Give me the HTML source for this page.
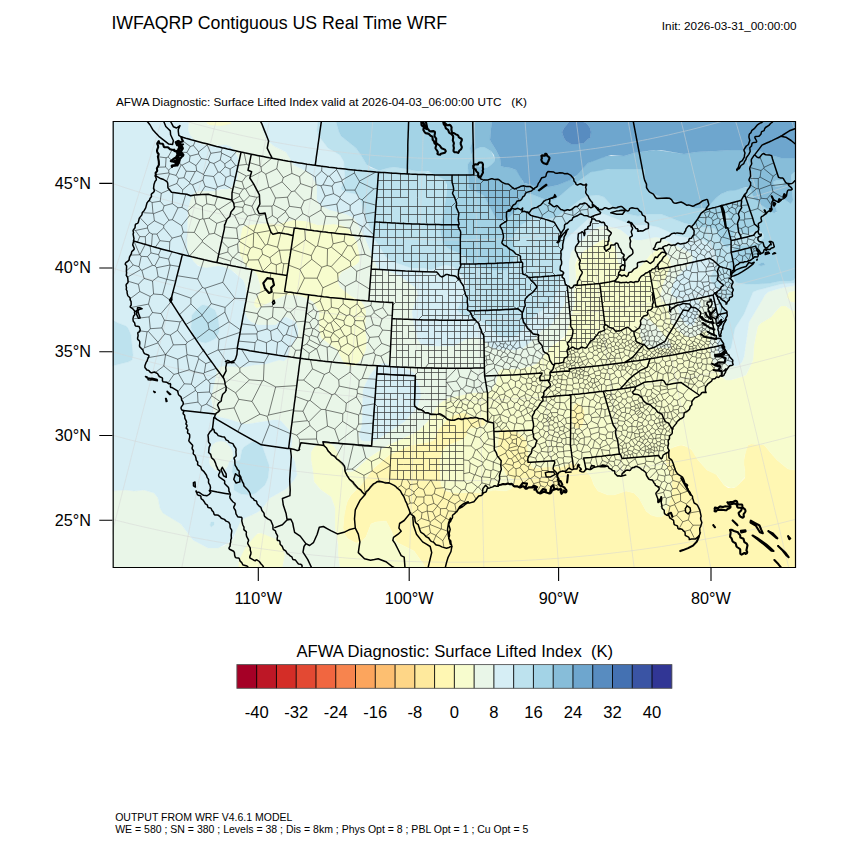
<!DOCTYPE html>
<html><head><meta charset="utf-8"><title>IWFAQRP Contiguous US Real Time WRF</title>
<style>html,body{margin:0;padding:0;background:#fff;}body{width:850px;height:850px;overflow:hidden;position:relative}</style>
</head><body>
<svg width="850" height="850" viewBox="0 0 850 850" style="position:absolute;left:0;top:0">
<defs><clipPath id="mc"><rect x="112.5" y="121.5" width="683.5" height="445.5"/></clipPath></defs>
<g clip-path="url(#mc)">
<path d="M576,403 578,403 581,405 584,410 585,415 583,425 581,428 578,429 574,428 572,422 572,410 574,405ZM454,415 461,413 466,413 471,417 481,419 484,420 485,422 485,425 481,427 468,429 467,435 464,439 449,445 445,448 443,450 440,460 440,468 441,485 444,489 446,491 454,493 461,493 471,492 478,493 493,490 506,491 511,488 514,482 514,480 506,475 499,460 497,452 499,432 501,430 504,429 509,429 518,432 524,437 526,440 527,442 529,458 531,465 533,468 536,468 546,467 561,467 571,463 576,464 588,473 591,477 594,485 598,491 608,495 614,495 626,491 634,493 639,498 646,511 651,515 658,517 661,517 664,515 668,505 671,498 672,482 665,460 667,452 671,448 681,445 688,447 692,450 698,460 707,470 716,474 718,477 724,485 728,488 734,488 738,485 745,478 745,472 744,465 744,460 746,449 748,445 751,444 764,445 766,447 770,452 777,460 788,469 794,470 798,470 798,570 426,570 424,565 414,551 408,548 398,543 395,540 391,530 386,521 376,522 371,524 366,537 361,542 356,543 348,539 345,535 343,528 344,515 347,502 351,495 361,485 374,468 381,462 389,455 404,448 411,445 429,442 434,440 438,430 448,418 453,415Z" fill="#fff7b3" fill-rule="evenodd" stroke="#fff7b3" stroke-width="0.3"/>
<path d="M206,118 231,118 232,122 231,124 228,125 224,126 211,126 206,123 204,118ZM294,220 306,221 318,225 334,224 341,225 346,227 350,230 357,242 360,258 359,262 356,265 346,270 342,272 340,275 338,280 339,285 341,288 351,296 361,301 364,305 366,310 366,318 365,328 367,340 366,350 364,355 361,360 356,365 354,366 348,366 344,364 337,350 321,338 319,330 319,320 319,312 313,302 308,299 301,296 286,295 258,308 256,308 254,305 254,302 260,292 260,285 257,275 255,272 245,265 240,255 239,245 242,228 244,226 248,225 266,223 278,224 293,220ZM604,239 608,240 612,242 616,250 618,262 624,270 626,272 631,271 641,266 650,255 656,250 661,249 666,253 670,260 671,265 663,285 661,295 661,298 667,305 669,312 671,322 681,333 688,337 696,336 704,331 706,331 708,334 710,338 710,350 714,365 721,376 726,380 731,380 741,377 746,375 748,371 753,360 754,345 757,330 758,326 761,323 771,317 777,310 781,306 784,306 786,306 791,310 798,311 798,470 794,470 788,469 777,460 770,452 766,447 764,445 751,444 748,445 747,448 744,458 744,465 745,472 745,477 736,487 731,488 724,485 717,475 707,470 698,460 691,449 683,445 676,446 668,450 666,455 665,462 668,470 672,482 672,488 671,498 667,508 664,515 661,517 658,517 651,515 646,511 639,498 634,493 626,491 614,495 608,495 598,491 594,485 591,477 588,473 576,464 571,463 561,467 546,467 536,468 533,468 531,465 529,458 527,442 526,440 522,435 516,432 506,429 501,430 499,432 497,452 499,460 506,475 514,480 514,482 512,488 509,490 506,491 496,490 478,493 471,492 461,493 454,493 445,490 441,485 440,462 443,450 445,448 449,445 464,439 467,435 468,429 481,427 485,425 485,422 484,420 481,419 471,417 466,413 458,413 454,415 447,420 436,432 434,440 429,442 411,445 404,448 389,455 381,462 376,466 371,471 361,485 351,495 348,500 346,506 344,518 343,528 345,535 348,539 356,543 361,542 366,537 371,524 376,522 386,521 391,530 395,540 398,543 408,548 414,551 424,565 426,570 340,570 338,555 338,545 335,528 335,508 331,497 321,490 314,482 313,473 311,460 311,452 314,447 318,444 326,443 331,444 334,446 338,453 345,470 348,472 354,471 368,458 388,445 410,435 419,430 427,422 438,405 444,400 448,398 471,393 488,392 491,390 496,383 498,372 501,369 518,369 531,366 536,364 542,358 549,348 564,338 567,332 570,320 575,302 574,292 576,280 575,265 578,258 584,251 602,240ZM645,318 644,318 641,322 640,330 641,338 644,344 646,346 651,348 670,348 671,345 658,328 646,317ZM574,405 572,410 572,422 574,428 578,429 581,428 583,425 585,415 584,410 581,405 578,403 576,403ZM798,290 798,303 791,302 787,298 787,295 789,292 798,290ZM256,534 261,533 264,533 274,537 280,542 284,550 285,555 282,570 238,570 238,562 242,552 246,545 255,535Z" fill="#f7fcce" fill-rule="evenodd" stroke="#f7fcce" stroke-width="0.3"/>
<path d="M191,118 204,118 206,122 208,125 221,126 231,124 231,118 263,118 262,125 263,130 267,140 274,146 286,152 294,165 306,171 311,174 313,178 317,185 317,200 320,205 330,210 346,214 354,218 358,224 365,238 372,255 378,269 391,272 399,275 416,288 417,290 418,295 412,312 414,325 418,340 421,344 424,345 431,346 454,346 466,339 476,337 484,340 491,347 496,349 516,350 523,348 534,339 542,330 551,325 561,310 564,305 569,282 569,262 571,252 575,248 590,232 596,228 601,226 606,226 616,228 621,230 631,238 636,240 641,240 656,237 661,238 691,253 693,258 692,262 676,278 672,288 671,293 674,297 680,300 678,308 681,318 684,322 688,325 691,326 694,324 701,306 700,302 698,300 694,298 704,296 708,296 711,298 713,302 717,332 717,350 724,361 728,365 736,366 739,365 742,362 744,357 749,322 763,298 766,294 768,292 781,288 798,285 798,290 789,292 787,295 787,298 791,302 798,303 798,311 791,310 786,306 784,306 781,306 777,310 771,317 761,323 758,326 757,330 754,345 753,360 748,371 746,375 741,377 731,380 726,380 721,376 714,365 710,350 710,338 708,334 706,331 704,331 696,336 688,337 681,333 671,322 669,312 667,305 661,298 661,295 663,285 671,265 670,260 666,253 661,249 656,250 650,255 641,266 631,271 626,272 624,270 618,262 616,250 612,242 608,240 606,239 601,240 582,252 578,256 576,260 575,265 576,280 574,292 575,302 566,335 558,341 549,348 542,358 536,364 531,366 518,369 501,369 498,372 496,382 491,390 488,392 471,393 448,398 444,400 438,405 427,422 419,430 410,435 388,445 368,458 354,471 348,472 345,470 338,453 334,446 331,444 326,443 318,444 314,447 311,452 311,460 313,472 314,482 321,490 331,497 335,508 335,528 338,545 338,555 340,570 282,570 285,555 283,548 276,539 261,533 258,533 254,537 245,548 239,560 238,570 108,570 108,491 126,490 134,491 144,490 154,493 158,498 160,508 164,513 181,524 193,540 208,548 216,548 224,546 231,541 234,538 238,525 241,520 245,518 256,513 261,510 270,498 286,489 294,480 297,475 295,462 290,452 292,442 291,432 281,421 278,420 274,420 248,424 244,424 228,419 216,416 214,412 211,398 216,372 218,368 221,366 226,365 244,367 254,365 266,364 278,360 284,361 286,359 287,358 290,348 297,338 299,330 295,322 293,320 286,317 283,318 276,325 274,325 258,325 251,322 247,318 245,312 245,308 246,290 245,285 243,280 234,272 226,268 218,266 208,268 203,268 196,264 190,258 187,250 187,235 188,208 191,197 194,193 198,191 214,191 231,188 234,185 237,180 239,165 238,160 237,155 234,150 231,147 223,145 216,146 208,146 198,143 193,140 190,135 188,130 189,118ZM293,220 278,224 266,223 248,225 244,226 242,228 239,245 240,255 245,265 255,272 257,275 260,285 260,292 254,302 254,305 256,308 258,308 286,295 301,296 308,299 313,302 319,312 319,320 319,330 321,338 337,350 344,364 348,366 354,366 356,365 361,360 364,355 366,350 367,340 365,328 366,318 366,310 364,305 361,301 351,296 341,288 339,285 338,280 340,275 342,272 346,270 356,265 359,262 360,258 357,242 350,230 346,227 341,225 334,224 318,225 306,221 294,220ZM378,365 370,375 365,385 363,390 362,425 359,435 361,440 364,441 371,441 376,440 386,434 396,427 404,422 417,408 421,395 420,390 416,378 414,373 411,371 404,368 391,366 384,363 378,365ZM646,317 658,328 671,345 670,348 651,348 646,346 644,344 641,338 640,330 641,322 644,318 645,318ZM216,442 221,441 226,442 231,448 233,452 233,458 229,462 228,466 226,469 221,471 216,471 214,469 210,465 209,462 211,448 212,445 216,442Z" fill="#e9f6e8" fill-rule="evenodd" stroke="#e9f6e8" stroke-width="0.3"/>
<path d="M111,118 189,118 188,130 190,135 194,140 198,143 208,146 214,146 226,145 231,147 234,150 238,158 239,165 237,180 234,185 228,189 221,189 214,191 198,191 194,193 191,198 188,208 187,235 187,248 189,255 194,262 198,266 206,268 218,266 224,267 231,270 243,280 245,285 246,290 245,308 245,312 247,318 251,322 258,325 274,325 276,325 283,318 286,317 294,321 296,323 298,329 298,335 290,348 287,358 285,360 284,361 279,360 266,364 254,365 244,367 224,366 219,367 217,370 211,398 213,410 215,415 219,417 228,419 244,424 248,424 274,420 278,420 281,421 291,432 292,442 290,452 295,462 297,475 294,480 286,489 270,498 261,510 256,513 245,518 241,520 232,540 228,543 218,548 208,548 193,540 181,524 163,513 160,508 158,498 154,493 144,490 134,491 126,490 108,491 108,367 128,362 132,360 133,355 131,335 128,328 126,326 118,323 111,318 108,317 108,118ZM202,305 198,308 192,315 191,328 194,336 196,340 201,342 206,343 213,340 216,338 219,332 219,325 218,318 215,310 208,306 204,305ZM216,442 212,445 211,448 209,462 210,465 214,469 216,471 221,471 226,469 228,466 229,462 233,458 233,452 231,448 226,442 221,441 216,442ZM252,442 244,447 242,450 240,460 234,462 233,465 232,472 235,478 235,480 234,485 234,490 237,492 241,494 251,495 256,493 265,485 268,478 269,470 269,465 263,448 261,444 258,442 254,442ZM211,522 210,525 211,527 214,525 214,522 211,522ZM264,118 318,118 317,130 318,135 328,148 340,155 344,162 345,180 341,188 342,190 346,192 356,194 358,195 360,198 365,215 374,238 386,257 391,261 411,268 424,268 431,270 441,266 446,265 454,267 464,278 467,282 465,295 458,308 458,310 459,312 464,316 476,319 488,325 496,334 501,337 508,338 516,336 521,332 528,322 538,313 546,308 552,302 558,290 560,282 563,250 565,240 589,218 596,213 604,214 634,225 648,225 658,227 678,236 704,240 710,245 715,252 716,260 715,268 710,278 711,281 716,288 719,298 719,310 720,318 721,332 720,345 721,349 724,351 726,351 728,350 731,348 735,328 744,314 753,292 758,290 781,284 794,283 798,281 798,285 781,288 768,292 765,295 749,322 744,357 742,362 739,365 736,366 728,365 724,361 717,350 717,332 713,302 711,298 708,296 704,296 694,298 698,300 700,302 701,306 694,324 691,326 688,325 684,322 681,318 678,308 680,300 674,297 671,293 672,288 676,278 692,262 693,258 691,253 661,238 656,237 641,240 636,240 631,238 621,230 616,228 606,226 601,226 596,228 590,232 575,248 571,252 569,262 569,282 564,305 561,310 551,325 542,330 534,339 523,348 516,350 496,349 491,347 484,340 476,337 466,339 454,346 431,346 424,345 421,344 418,340 414,325 412,312 418,295 417,290 416,288 399,275 391,272 378,269 372,255 365,238 358,224 354,218 346,214 330,210 320,205 317,200 317,185 313,178 311,174 306,171 294,165 286,152 274,146 267,140 263,130 262,125 263,118ZM378,365 384,363 391,366 404,368 411,371 414,373 416,378 420,390 421,395 417,408 404,422 396,427 386,434 376,440 371,441 364,441 361,440 359,435 362,425 363,390 365,385 370,375 378,365Z" fill="#d6eef5" fill-rule="evenodd" stroke="#d6eef5" stroke-width="0.3"/>
<path d="M318,118 335,118 339,132 341,136 356,148 361,155 367,165 371,168 378,170 381,170 388,168 394,167 406,169 416,171 426,171 434,173 444,179 446,182 447,192 444,210 440,228 442,240 445,245 465,258 476,266 494,270 506,270 508,269 513,262 515,255 515,248 512,240 513,238 515,232 521,225 531,219 536,217 541,217 548,219 556,217 568,209 581,199 588,196 598,195 604,197 611,205 628,214 638,216 648,214 661,214 684,223 701,227 714,228 716,230 721,241 724,245 726,247 729,247 731,245 732,238 734,233 736,230 738,231 744,234 748,234 756,231 758,231 764,235 764,238 759,242 751,245 736,246 732,250 730,268 732,275 734,280 738,283 746,284 771,283 781,281 791,281 794,280 795,278 798,271 798,281 794,283 781,284 758,290 753,292 744,314 735,328 731,348 729,350 726,351 724,351 721,349 720,345 721,332 720,318 719,310 719,298 716,288 711,281 710,278 715,268 716,260 715,252 710,245 704,240 678,236 658,227 648,225 633,225 604,214 596,213 589,218 565,240 563,250 560,282 558,290 552,302 546,308 538,313 528,322 521,332 516,336 508,338 501,337 496,334 488,325 476,319 464,316 459,312 458,310 458,308 465,295 467,282 464,278 454,267 446,265 441,266 431,270 424,268 411,268 391,261 386,257 374,238 365,215 360,198 358,195 356,194 346,192 342,190 341,188 345,180 344,162 340,155 328,148 318,135 317,130 318,118ZM724,211 728,215 730,220 726,221 721,221 720,218 721,213 722,212ZM204,305 208,306 215,310 218,318 219,325 219,332 216,338 213,340 206,343 201,342 196,340 194,336 191,328 192,315 198,308 202,305ZM110,318 118,323 126,326 128,328 131,335 133,355 132,360 128,362 108,367 108,317ZM254,442 258,442 261,444 263,448 269,465 269,470 268,478 265,485 256,493 251,495 241,494 237,492 234,490 234,485 235,480 235,478 232,472 233,465 234,462 240,460 242,450 244,447 252,442ZM211,522 214,522 214,525 211,527 210,525 211,522Z" fill="#bde2ee" fill-rule="evenodd" stroke="#bde2ee" stroke-width="0.3"/>
<path d="M336,118 476,118 474,128 474,138 470,148 471,154 476,149 481,147 484,147 491,151 493,155 495,160 494,162 491,165 488,167 486,168 476,166 472,162 471,160 468,164 468,168 469,188 471,190 481,194 484,196 494,215 498,220 501,221 506,220 515,212 518,208 521,199 524,195 526,194 531,194 544,199 554,200 561,195 569,188 591,172 596,170 611,169 644,169 645,170 645,172 645,182 646,190 661,197 676,201 694,208 706,208 708,207 716,198 721,194 728,191 748,187 751,189 756,200 761,205 773,212 776,213 777,212 775,205 776,202 778,200 784,199 791,204 792,202 793,198 791,175 793,172 798,173 798,271 795,278 794,280 791,281 781,281 771,283 758,284 746,284 738,283 736,282 734,279 730,270 730,265 732,250 736,246 751,245 758,243 764,238 764,235 761,232 756,231 748,234 744,234 738,231 736,230 734,233 732,238 731,245 728,247 726,247 724,245 721,241 716,230 714,228 701,227 684,223 661,214 648,214 638,216 628,214 611,205 604,197 598,195 588,196 581,199 568,209 556,217 548,219 541,217 536,217 531,219 521,225 515,232 513,238 512,240 515,248 515,255 513,262 508,269 506,270 494,270 478,267 474,265 462,255 448,248 443,243 442,240 440,228 444,210 447,192 447,185 445,180 438,176 428,171 416,171 406,169 394,167 388,168 381,170 378,170 371,167 367,165 361,155 356,148 341,136 339,132 335,118ZM722,212 721,213 720,218 721,221 726,221 730,220 728,215 724,211ZM758,265 761,266 765,265 764,263 761,263 758,265ZM778,180 782,180 784,182 783,185 781,186 776,187 774,185 773,182 777,180Z" fill="#a3d3e6" fill-rule="evenodd" stroke="#a3d3e6" stroke-width="0.3"/>
<path d="M476,118 492,118 490,140 491,142 496,150 500,158 501,166 504,167 511,168 516,170 520,175 523,182 526,184 536,185 544,188 558,185 574,178 588,163 598,158 608,156 624,156 634,153 656,150 684,154 696,152 716,151 731,150 756,150 774,156 781,158 798,158 798,173 794,172 791,175 793,200 791,204 784,199 778,200 776,202 775,205 777,212 774,213 761,205 754,198 751,189 748,187 746,187 736,190 728,191 721,194 716,198 708,207 706,208 694,208 676,201 661,197 646,190 645,182 645,172 645,170 644,169 608,169 591,172 569,188 561,195 554,200 544,199 531,194 526,194 524,195 521,199 518,208 515,212 506,220 501,221 498,220 494,215 484,196 481,194 471,190 469,188 468,168 468,164 471,160 472,162 476,166 486,168 488,167 491,165 494,162 495,160 494,155 491,151 484,147 481,147 476,149 471,154 470,148 474,138 474,128 476,118ZM777,180 773,182 774,185 776,187 781,186 783,185 784,182 782,180 778,180ZM778,118 798,118 798,122 784,120 778,118ZM758,265 761,263 764,263 765,265 761,266 758,265Z" fill="#87bdd9" fill-rule="evenodd" stroke="#87bdd9" stroke-width="0.3"/>
<path d="M494,118 778,118 784,120 798,122 798,158 781,158 774,156 756,150 731,150 716,151 696,152 684,154 661,150 654,150 634,153 624,156 611,155 601,158 588,163 577,175 570,180 558,185 544,188 524,183 518,173 516,170 511,168 504,167 501,166 500,158 496,150 491,142 490,140 492,118ZM569,122 564,128 562,132 564,138 566,141 571,144 578,144 584,143 588,139 590,138 591,132 590,128 588,125 586,123 581,121 571,121Z" fill="#6ea6ce" fill-rule="evenodd" stroke="#6ea6ce" stroke-width="0.3"/>
<path d="M571,121 581,121 586,123 588,125 590,128 591,132 590,138 588,139 584,143 578,144 571,144 566,141 564,138 562,132 564,128 569,122Z" fill="#588cc0" fill-rule="evenodd" stroke="#588cc0" stroke-width="0.3"/>
<path d="M-200.0,491.3 L-192.9,494.8 L-185.8,498.2 L-178.7,501.6 L-171.6,505.0 L-164.5,508.4 L-157.3,511.7 L-150.1,514.9 L-142.9,518.2 L-135.7,521.3 L-128.5,524.5 L-121.3,527.6 L-114.0,530.7 L-106.7,533.7 L-99.4,536.7 L-92.1,539.7 L-84.8,542.6 L-77.5,545.4 L-70.1,548.3 L-62.8,551.1 L-55.4,553.8 L-48.0,556.5 L-40.6,559.2 L-33.1,561.9 L-25.7,564.5 L-18.2,567.0 L-10.8,569.5 L-3.3,572.0 L4.2,574.4 L11.7,576.8 L19.2,579.2 L26.8,581.5 L34.3,583.8 L41.9,586.0 L49.5,588.2 L57.0,590.4 L64.6,592.5 L72.2,594.6 L79.8,596.6 L87.5,598.6 L95.1,600.5 L102.8,602.4 L110.4,604.3 L118.1,606.1 L125.8,607.9 L133.4,609.7 L141.1,611.4 L148.8,613.0 L156.6,614.6 L164.3,616.2 L172.0,617.7 L179.8,619.2 L187.5,620.7 L195.3,622.1 L203.0,623.5 L210.8,624.8 L218.6,626.1 L226.3,627.3 L234.1,628.5 L241.9,629.7 L249.7,630.8 L257.5,631.9 L265.4,632.9 L273.2,633.9 L281.0,634.9 L288.8,635.8 L296.7,636.6 L304.5,637.5 L312.3,638.2 L320.2,639.0 L328.0,639.7 L335.9,640.3 L343.8,641.0 L351.6,641.5 L359.5,642.1 L367.3,642.5 L375.2,643.0 L383.1,643.4 L391.0,643.7 L398.8,644.1 L406.7,644.3 L414.6,644.6 L422.5,644.8 L430.3,644.9 L438.2,645.0 L446.1,645.1 L454.0,645.1 L461.9,645.1 L469.8,645.0 L477.6,644.9 L485.5,644.8 L493.4,644.6 L501.3,644.3 L509.2,644.1 L517.0,643.7 L524.9,643.4 L532.8,643.0 L540.6,642.5 L548.5,642.1 L556.4,641.5 L564.2,641.0 L572.1,640.3 L579.9,639.7 L587.8,639.0 L595.6,638.2 L603.5,637.5 L611.3,636.6 L619.2,635.8 L627.0,634.9 L634.8,633.9 L642.6,632.9 L650.4,631.9 L658.3,630.8 L666.1,629.7 L673.9,628.5 L681.6,627.3 L689.4,626.1 L697.2,624.8 L705.0,623.5 L712.7,622.1 L720.5,620.7 L728.2,619.2 L736.0,617.7 L743.7,616.2 L751.4,614.6 L759.1,613.0 L766.8,611.4 L774.5,609.7 L782.2,607.9 L789.9,606.1 L797.6,604.3 L805.2,602.4 L812.9,600.5 L820.5,598.6 L828.1,596.6 L835.8,594.6 L843.4,592.5 L851.0,590.4 L858.5,588.2 L866.1,586.0 L873.7,583.8 L881.2,581.5 L888.7,579.2 L896.3,576.8 L903.8,574.4 L911.3,572.0 L918.8,569.5 L926.2,567.0 L933.7,564.5 L941.1,561.9 L948.5,559.2 L956.0,556.5 L963.4,553.8 L970.7,551.1 L978.1,548.3 L985.5,545.4 L992.8,542.6 L1000.1,539.7 L1007.4,536.7 L1014.7,533.7 L1022.0,530.7 L1029.3,527.6 L1036.5,524.5 L1043.7,521.3 L1050.9,518.2 L1058.1,514.9 L1065.3,511.7 L1072.5,508.4 L1079.6,505.0 L1086.7,501.6 M-163.0,417.1 L-156.4,420.3 L-149.7,423.6 L-143.0,426.8 L-136.2,430.0 L-129.5,433.2 L-122.8,436.3 L-116.0,439.4 L-109.2,442.4 L-102.4,445.4 L-95.6,448.4 L-88.8,451.3 L-81.9,454.2 L-75.0,457.1 L-68.2,459.9 L-61.3,462.7 L-54.4,465.4 L-47.4,468.2 L-40.5,470.8 L-33.5,473.5 L-26.6,476.1 L-19.6,478.6 L-12.6,481.2 L-5.6,483.7 L1.4,486.1 L8.5,488.5 L15.5,490.9 L22.6,493.2 L29.6,495.5 L36.7,497.8 L43.8,500.0 L50.9,502.2 L58.0,504.3 L65.2,506.5 L72.3,508.5 L79.5,510.6 L86.6,512.5 L93.8,514.5 L101.0,516.4 L108.2,518.3 L115.4,520.1 L122.6,521.9 L129.8,523.7 L137.1,525.4 L144.3,527.1 L151.6,528.7 L158.8,530.3 L166.1,531.9 L173.4,533.4 L180.7,534.9 L188.0,536.4 L195.3,537.8 L202.6,539.2 L209.9,540.5 L217.2,541.8 L224.5,543.0 L231.9,544.2 L239.2,545.4 L246.6,546.6 L253.9,547.6 L261.3,548.7 L268.6,549.7 L276.0,550.7 L283.4,551.6 L290.8,552.5 L298.2,553.4 L305.6,554.2 L312.9,555.0 L320.3,555.7 L327.8,556.4 L335.2,557.1 L342.6,557.7 L350.0,558.3 L357.4,558.8 L364.8,559.3 L372.2,559.8 L379.7,560.2 L387.1,560.6 L394.5,560.9 L402.0,561.2 L409.4,561.5 L416.8,561.7 L424.3,561.9 L431.7,562.0 L439.1,562.1 L446.6,562.2 L454.0,562.2 L461.4,562.2 L468.9,562.1 L476.3,562.0 L483.7,561.9 L491.2,561.7 L498.6,561.5 L506.0,561.2 L513.5,560.9 L520.9,560.6 L528.3,560.2 L535.7,559.8 L543.2,559.3 L550.6,558.8 L558.0,558.3 L565.4,557.7 L572.8,557.1 L580.2,556.4 L587.6,555.7 L595.0,555.0 L602.4,554.2 L609.8,553.4 L617.2,552.5 L624.6,551.6 L632.0,550.7 L639.3,549.7 L646.7,548.7 L654.1,547.6 L661.4,546.6 L668.8,545.4 L676.1,544.2 L683.5,543.0 L690.8,541.8 L698.1,540.5 L705.4,539.2 L712.7,537.8 L720.0,536.4 L727.3,534.9 L734.6,533.4 L741.9,531.9 L749.2,530.3 L756.4,528.7 L763.7,527.1 L770.9,525.4 L778.2,523.7 L785.4,521.9 L792.6,520.1 L799.8,518.3 L807.0,516.4 L814.2,514.5 L821.4,512.5 L828.5,510.6 L835.7,508.5 L842.8,506.5 L849.9,504.3 L857.1,502.2 L864.2,500.0 L871.3,497.8 L878.4,495.5 L885.4,493.2 L892.5,490.9 L899.5,488.5 L906.6,486.1 L913.6,483.7 L920.6,481.2 L927.6,478.6 L934.6,476.1 L941.5,473.5 L948.5,470.8 L955.4,468.2 L962.4,465.4 L969.3,462.7 L976.2,459.9 L983.0,457.1 L989.9,454.2 L996.7,451.3 L1003.6,448.4 L1010.4,445.4 L1017.2,442.4 L1024.0,439.4 L1030.8,436.3 L1037.5,433.2 L1044.2,430.0 L1051.0,426.8 M-126.7,344.2 L-120.5,347.3 L-114.2,350.4 L-107.9,353.4 L-101.5,356.4 L-95.2,359.4 L-88.8,362.3 L-82.5,365.2 L-76.1,368.1 L-69.7,370.9 L-63.3,373.7 L-56.8,376.5 L-50.4,379.2 L-43.9,381.9 L-37.5,384.5 L-31.0,387.2 L-24.5,389.8 L-18.0,392.3 L-11.4,394.8 L-4.9,397.3 L1.7,399.8 L8.2,402.2 L14.8,404.5 L21.4,406.9 L28.0,409.2 L34.7,411.5 L41.3,413.7 L47.9,415.9 L54.6,418.1 L61.3,420.2 L67.9,422.3 L74.6,424.3 L81.3,426.4 L88.0,428.3 L94.8,430.3 L101.5,432.2 L108.2,434.1 L115.0,435.9 L121.8,437.7 L128.5,439.5 L135.3,441.2 L142.1,442.9 L148.9,444.6 L155.7,446.2 L162.5,447.8 L169.3,449.3 L176.2,450.8 L183.0,452.3 L189.9,453.7 L196.7,455.1 L203.6,456.5 L210.5,457.8 L217.3,459.1 L224.2,460.4 L231.1,461.6 L238.0,462.8 L244.9,463.9 L251.8,465.0 L258.8,466.1 L265.7,467.1 L272.6,468.1 L279.5,469.1 L286.5,470.0 L293.4,470.9 L300.4,471.7 L307.3,472.5 L314.3,473.3 L321.2,474.0 L328.2,474.7 L335.2,475.4 L342.1,476.0 L349.1,476.6 L356.1,477.1 L363.1,477.6 L370.1,478.1 L377.0,478.5 L384.0,478.9 L391.0,479.3 L398.0,479.6 L405.0,479.9 L412.0,480.1 L419.0,480.3 L426.0,480.5 L433.0,480.6 L440.0,480.7 L447.0,480.8 L454.0,480.8 L461.0,480.8 L468.0,480.7 L475.0,480.6 L482.0,480.5 L489.0,480.3 L496.0,480.1 L503.0,479.9 L510.0,479.6 L517.0,479.3 L524.0,478.9 L530.9,478.5 L537.9,478.1 L544.9,477.6 L551.9,477.1 L558.9,476.6 L565.8,476.0 L572.8,475.4 L579.8,474.7 L586.7,474.0 L593.7,473.3 L600.7,472.5 L607.6,471.7 L614.6,470.9 L621.5,470.0 L628.4,469.1 L635.4,468.1 L642.3,467.1 L649.2,466.1 L656.1,465.0 L663.1,463.9 L670.0,462.8 L676.9,461.6 L683.8,460.4 L690.6,459.1 L697.5,457.8 L704.4,456.5 L711.3,455.1 L718.1,453.7 L725.0,452.3 L731.8,450.8 L738.6,449.3 L745.5,447.8 L752.3,446.2 L759.1,444.6 L765.9,442.9 L772.7,441.2 L779.5,439.5 L786.2,437.7 L793.0,435.9 L799.8,434.1 L806.5,432.2 L813.2,430.3 L820.0,428.3 L826.7,426.4 L833.4,424.3 L840.1,422.3 L846.7,420.2 L853.4,418.1 L860.1,415.9 L866.7,413.7 L873.3,411.5 L880.0,409.2 L886.6,406.9 L893.2,404.5 L899.7,402.2 L906.3,399.8 L912.9,397.3 L919.4,394.8 L925.9,392.3 L932.5,389.8 L939.0,387.2 L945.5,384.5 L951.9,381.9 L958.4,379.2 L964.8,376.5 L971.3,373.7 L977.7,370.9 L984.1,368.1 L990.5,365.2 L996.8,362.3 L1003.2,359.4 L1009.5,356.4 L1015.9,353.4 M-90.9,272.2 L-85.0,275.1 L-79.1,278.0 L-73.2,280.8 L-67.2,283.6 L-61.3,286.4 L-55.3,289.2 L-49.4,291.9 L-43.4,294.6 L-37.4,297.2 L-31.3,299.9 L-25.3,302.5 L-19.3,305.0 L-13.2,307.5 L-7.1,310.0 L-1.0,312.5 L5.1,314.9 L11.2,317.3 L17.3,319.7 L23.5,322.0 L29.6,324.3 L35.8,326.6 L41.9,328.8 L48.1,331.0 L54.3,333.2 L60.5,335.3 L66.8,337.4 L73.0,339.5 L79.2,341.5 L85.5,343.5 L91.8,345.5 L98.0,347.4 L104.3,349.3 L110.6,351.1 L116.9,353.0 L123.3,354.8 L129.6,356.5 L135.9,358.2 L142.3,359.9 L148.6,361.6 L155.0,363.2 L161.4,364.8 L167.7,366.4 L174.1,367.9 L180.5,369.4 L186.9,370.8 L193.3,372.2 L199.8,373.6 L206.2,375.0 L212.6,376.3 L219.1,377.6 L225.5,378.8 L232.0,380.0 L238.4,381.2 L244.9,382.3 L251.4,383.4 L257.8,384.5 L264.3,385.6 L270.8,386.6 L277.3,387.5 L283.8,388.5 L290.3,389.3 L296.8,390.2 L303.3,391.0 L309.9,391.8 L316.4,392.6 L322.9,393.3 L329.4,394.0 L336.0,394.6 L342.5,395.3 L349.1,395.8 L355.6,396.4 L362.1,396.9 L368.7,397.4 L375.2,397.8 L381.8,398.2 L388.4,398.6 L394.9,398.9 L401.5,399.2 L408.0,399.5 L414.6,399.7 L421.2,399.9 L427.7,400.1 L434.3,400.2 L440.9,400.3 L447.4,400.3 L454.0,400.4 L460.6,400.3 L467.1,400.3 L473.7,400.2 L480.3,400.1 L486.8,399.9 L493.4,399.7 L500.0,399.5 L506.5,399.2 L513.1,398.9 L519.6,398.6 L526.2,398.2 L532.7,397.8 L539.3,397.4 L545.8,396.9 L552.4,396.4 L558.9,395.8 L565.5,395.3 L572.0,394.6 L578.5,394.0 L585.1,393.3 L591.6,392.6 L598.1,391.8 L604.6,391.0 L611.2,390.2 L617.7,389.3 L624.2,388.5 L630.7,387.5 L637.2,386.6 L643.7,385.6 L650.1,384.5 L656.6,383.4 L663.1,382.3 L669.6,381.2 L676.0,380.0 L682.5,378.8 L688.9,377.6 L695.4,376.3 L701.8,375.0 L708.2,373.6 L714.7,372.2 L721.1,370.8 L727.5,369.4 L733.9,367.9 L740.3,366.4 L746.6,364.8 L753.0,363.2 L759.4,361.6 L765.7,359.9 L772.1,358.2 L778.4,356.5 L784.7,354.8 L791.0,353.0 L797.4,351.1 L803.7,349.3 L809.9,347.4 L816.2,345.5 L822.5,343.5 L828.7,341.5 L835.0,339.5 L841.2,337.4 L847.4,335.3 L853.7,333.2 L859.9,331.0 L866.0,328.8 L872.2,326.6 L878.4,324.3 L884.5,322.0 L890.7,319.7 L896.8,317.3 L902.9,314.9 L909.0,312.5 L915.1,310.0 L921.2,307.5 L927.2,305.0 L933.3,302.5 L939.3,299.9 L945.3,297.2 L951.3,294.6 L957.3,291.9 L963.3,289.2 L969.3,286.4 L975.2,283.6 L981.2,280.8 M-55.2,200.5 L-49.7,203.2 L-44.2,205.9 L-38.6,208.6 L-33.1,211.2 L-27.5,213.8 L-22.0,216.4 L-16.4,218.9 L-10.8,221.4 L-5.2,223.9 L0.5,226.4 L6.1,228.8 L11.8,231.2 L17.4,233.5 L23.1,235.9 L28.8,238.2 L34.5,240.4 L40.2,242.7 L45.9,244.9 L51.7,247.1 L57.4,249.2 L63.2,251.3 L68.9,253.4 L74.7,255.5 L80.5,257.5 L86.3,259.5 L92.1,261.4 L98.0,263.4 L103.8,265.3 L109.7,267.1 L115.5,269.0 L121.4,270.8 L127.2,272.5 L133.1,274.3 L139.0,276.0 L144.9,277.7 L150.8,279.3 L156.8,280.9 L162.7,282.5 L168.6,284.0 L174.6,285.6 L180.5,287.0 L186.5,288.5 L192.5,289.9 L198.4,291.3 L204.4,292.7 L210.4,294.0 L216.4,295.3 L222.4,296.5 L228.4,297.8 L234.5,299.0 L240.5,300.1 L246.5,301.3 L252.5,302.4 L258.6,303.4 L264.6,304.5 L270.7,305.5 L276.8,306.4 L282.8,307.4 L288.9,308.3 L295.0,309.1 L301.0,310.0 L307.1,310.8 L313.2,311.6 L319.3,312.3 L325.4,313.0 L331.5,313.7 L337.6,314.3 L343.7,314.9 L349.8,315.5 L355.9,316.1 L362.0,316.6 L368.2,317.0 L374.3,317.5 L380.4,317.9 L386.5,318.3 L392.7,318.6 L398.8,318.9 L404.9,319.2 L411.0,319.5 L417.2,319.7 L423.3,319.9 L429.4,320.0 L435.6,320.1 L441.7,320.2 L447.9,320.3 L454.0,320.3 L460.1,320.3 L466.3,320.2 L472.4,320.1 L478.5,320.0 L484.7,319.9 L490.8,319.7 L496.9,319.5 L503.1,319.2 L509.2,318.9 L515.3,318.6 L521.5,318.3 L527.6,317.9 L533.7,317.5 L539.8,317.0 L545.9,316.6 L552.1,316.1 L558.2,315.5 L564.3,314.9 L570.4,314.3 L576.5,313.7 L582.6,313.0 L588.7,312.3 L594.8,311.6 L600.9,310.8 L606.9,310.0 L613.0,309.1 L619.1,308.3 L625.2,307.4 L631.2,306.4 L637.3,305.5 L643.4,304.5 L649.4,303.4 L655.4,302.4 L661.5,301.3 L667.5,300.1 L673.5,299.0 L679.6,297.8 L685.6,296.5 L691.6,295.3 L697.6,294.0 L703.6,292.7 L709.5,291.3 L715.5,289.9 L721.5,288.5 L727.5,287.0 L733.4,285.6 L739.4,284.0 L745.3,282.5 L751.2,280.9 L757.1,279.3 L763.1,277.7 L769.0,276.0 L774.9,274.3 L780.7,272.5 L786.6,270.8 L792.5,269.0 L798.3,267.1 L804.2,265.3 L810.0,263.4 L815.8,261.4 L821.7,259.5 L827.5,257.5 L833.3,255.5 L839.0,253.4 L844.8,251.3 L850.6,249.2 L856.3,247.1 L862.1,244.9 L867.8,242.7 L873.5,240.4 L879.2,238.2 L884.9,235.9 L890.6,233.5 L896.2,231.2 L901.9,228.8 L907.5,226.4 L913.1,223.9 L918.8,221.4 L924.4,218.9 L929.9,216.4 L935.5,213.8 L941.1,211.2 L946.6,208.6 M-19.4,128.6 L-14.2,131.1 L-9.1,133.6 L-4.0,136.1 L1.2,138.5 L6.3,141.0 L11.5,143.3 L16.7,145.7 L21.9,148.0 L27.1,150.4 L32.4,152.6 L37.6,154.9 L42.9,157.1 L48.1,159.3 L53.4,161.5 L58.7,163.6 L64.0,165.7 L69.3,167.8 L74.6,169.9 L80.0,171.9 L85.3,173.9 L90.7,175.8 L96.0,177.8 L101.4,179.7 L106.8,181.6 L112.2,183.4 L117.6,185.2 L123.0,187.0 L128.4,188.8 L133.9,190.5 L139.3,192.2 L144.8,193.9 L150.2,195.6 L155.7,197.2 L161.2,198.8 L166.7,200.3 L172.2,201.8 L177.7,203.3 L183.2,204.8 L188.7,206.3 L194.2,207.7 L199.8,209.0 L205.3,210.4 L210.9,211.7 L216.4,213.0 L222.0,214.3 L227.5,215.5 L233.1,216.7 L238.7,217.9 L244.3,219.0 L249.9,220.1 L255.5,221.2 L261.1,222.3 L266.7,223.3 L272.3,224.3 L278.0,225.2 L283.6,226.2 L289.2,227.1 L294.9,227.9 L300.5,228.8 L306.1,229.6 L311.8,230.4 L317.5,231.1 L323.1,231.8 L328.8,232.5 L334.4,233.2 L340.1,233.8 L345.8,234.4 L351.5,235.0 L357.1,235.5 L362.8,236.0 L368.5,236.5 L374.2,236.9 L379.9,237.3 L385.6,237.7 L391.3,238.1 L397.0,238.4 L402.7,238.7 L408.4,239.0 L414.1,239.2 L419.8,239.4 L425.5,239.5 L431.2,239.7 L436.9,239.8 L442.6,239.9 L448.3,239.9 L454.0,239.9 L459.7,239.9 L465.4,239.9 L471.1,239.8 L476.8,239.7 L482.5,239.5 L488.2,239.4 L493.9,239.2 L499.6,239.0 L505.3,238.7 L511.0,238.4 L516.7,238.1 L522.4,237.7 L528.1,237.3 L533.8,236.9 L539.5,236.5 L545.2,236.0 L550.8,235.5 L556.5,235.0 L562.2,234.4 L567.9,233.8 L573.5,233.2 L579.2,232.5 L584.9,231.8 L590.5,231.1 L596.2,230.4 L601.8,229.6 L607.5,228.8 L613.1,227.9 L618.8,227.1 L624.4,226.2 L630.0,225.2 L635.7,224.3 L641.3,223.3 L646.9,222.3 L652.5,221.2 L658.1,220.1 L663.7,219.0 L669.3,217.9 L674.9,216.7 L680.4,215.5 L686.0,214.3 L691.6,213.0 L697.1,211.7 L702.7,210.4 L708.2,209.0 L713.8,207.7 L719.3,206.3 L724.8,204.8 L730.3,203.3 L735.8,201.8 L741.3,200.3 L746.8,198.8 L752.3,197.2 L757.8,195.6 L763.2,193.9 L768.7,192.2 L774.1,190.5 L779.6,188.8 L785.0,187.0 L790.4,185.2 L795.8,183.4 L801.2,181.6 L806.6,179.7 L812.0,177.8 L817.3,175.8 L822.7,173.9 L828.0,171.9 L833.4,169.9 L838.7,167.8 L844.0,165.7 L849.3,163.6 L854.6,161.5 L859.9,159.3 L865.1,157.1 L870.4,154.9 L875.6,152.6 L880.9,150.4 L886.1,148.0 L891.3,145.7 L896.5,143.3 L901.6,141.0 L906.8,138.5 L912.0,136.1 M16.9,55.8 L21.6,58.2 L26.3,60.5 L31.1,62.8 L35.8,65.0 L40.6,67.3 L45.4,69.5 L50.2,71.7 L55.0,73.8 L59.8,76.0 L64.6,78.1 L69.5,80.1 L74.3,82.2 L79.2,84.2 L84.1,86.2 L88.9,88.2 L93.8,90.1 L98.7,92.1 L103.7,94.0 L108.6,95.8 L113.5,97.7 L118.5,99.5 L123.4,101.3 L128.4,103.0 L133.4,104.8 L138.3,106.5 L143.3,108.2 L148.3,109.8 L153.3,111.4 L158.4,113.0 L163.4,114.6 L168.4,116.2 L173.5,117.7 L178.5,119.2 L183.6,120.7 L188.7,122.1 L193.7,123.5 L198.8,124.9 L203.9,126.2 L209.0,127.6 L214.1,128.9 L219.2,130.2 L224.3,131.4 L229.5,132.6 L234.6,133.8 L239.7,135.0 L244.9,136.1 L250.0,137.2 L255.2,138.3 L260.3,139.4 L265.5,140.4 L270.7,141.4 L275.9,142.4 L281.0,143.3 L286.2,144.2 L291.4,145.1 L296.6,146.0 L301.8,146.8 L307.0,147.6 L312.2,148.4 L317.5,149.1 L322.7,149.8 L327.9,150.5 L333.1,151.2 L338.4,151.8 L343.6,152.4 L348.8,153.0 L354.1,153.6 L359.3,154.1 L364.6,154.6 L369.8,155.1 L375.1,155.5 L380.3,155.9 L385.6,156.3 L390.8,156.6 L396.1,157.0 L401.3,157.3 L406.6,157.5 L411.9,157.8 L417.1,158.0 L422.4,158.2 L427.7,158.3 L432.9,158.4 L438.2,158.5 L443.5,158.6 L448.7,158.7 L454.0,158.7 L459.3,158.7 L464.5,158.6 L469.8,158.5 L475.1,158.4 L480.3,158.3 L485.6,158.2 L490.9,158.0 L496.1,157.8 L501.4,157.5 L506.7,157.3 L511.9,157.0 L517.2,156.6 L522.4,156.3 L527.7,155.9 L532.9,155.5 L538.2,155.1 L543.4,154.6 L548.7,154.1 L553.9,153.6 L559.2,153.0 L564.4,152.4 L569.6,151.8 L574.9,151.2 L580.1,150.5 L585.3,149.8 L590.5,149.1 L595.7,148.4 L601.0,147.6 L606.2,146.8 L611.4,146.0 L616.6,145.1 L621.8,144.2 L626.9,143.3 L632.1,142.4 L637.3,141.4 L642.5,140.4 L647.6,139.4 L652.8,138.3 L658.0,137.2 L663.1,136.1 L668.3,135.0 L673.4,133.8 L678.5,132.6 L683.7,131.4 L688.8,130.2 L693.9,128.9 L699.0,127.6 L704.1,126.2 L709.2,124.9 L714.3,123.5 L719.3,122.1 L724.4,120.7 L729.5,119.2 L734.5,117.7 L739.6,116.2 L744.6,114.6 L749.6,113.0 L754.6,111.4 L759.6,109.8 L764.7,108.2 L769.6,106.5 L774.6,104.8 L779.6,103.0 L784.6,101.3 L789.5,99.5 L794.5,97.7 L799.4,95.8 L804.3,94.0 L809.2,92.1 L814.1,90.1 L819.0,88.2 L823.9,86.2 L828.8,84.2 L833.7,82.2 L838.5,80.1 L843.4,78.1 L848.2,76.0 L853.0,73.8 L857.8,71.7 L862.6,69.5 L867.4,67.3 L872.2,65.0 L876.9,62.8 M53.8,-18.4 L58.2,-16.3 L62.5,-14.1 L66.8,-12.1 L71.2,-10.0 L75.6,-7.9 L79.9,-5.9 L84.3,-3.9 L88.7,-1.9 L93.1,0.0 L97.6,1.9 L102.0,3.8 L106.4,5.7 L110.9,7.6 L115.4,9.4 L119.8,11.2 L124.3,13.0 L128.8,14.8 L133.3,16.5 L137.8,18.2 L142.3,19.9 L146.8,21.5 L151.4,23.2 L155.9,24.8 L160.5,26.4 L165.0,28.0 L169.6,29.5 L174.2,31.0 L178.8,32.5 L183.4,34.0 L188.0,35.4 L192.6,36.8 L197.2,38.2 L201.8,39.6 L206.5,40.9 L211.1,42.2 L215.7,43.5 L220.4,44.8 L225.1,46.0 L229.7,47.3 L234.4,48.5 L239.1,49.6 L243.8,50.8 L248.5,51.9 L253.2,53.0 L257.9,54.0 L262.6,55.1 L267.3,56.1 L272.0,57.1 L276.7,58.1 L281.5,59.0 L286.2,59.9 L290.9,60.8 L295.7,61.7 L300.4,62.5 L305.2,63.3 L309.9,64.1 L314.7,64.9 L319.5,65.6 L324.2,66.3 L329.0,67.0 L333.8,67.6 L338.6,68.3 L343.4,68.9 L348.1,69.5 L352.9,70.0 L357.7,70.6 L362.5,71.1 L367.3,71.5 L372.1,72.0 L376.9,72.4 L381.7,72.8 L386.5,73.2 L391.3,73.5 L396.2,73.9 L401.0,74.2 L405.8,74.4 L410.6,74.7 L415.4,74.9 L420.2,75.1 L425.1,75.3 L429.9,75.4 L434.7,75.5 L439.5,75.6 L444.3,75.7 L449.2,75.7 L454.0,75.7 L458.8,75.7 L463.6,75.7 L468.5,75.6 L473.3,75.5 L478.1,75.4 L482.9,75.3 L487.7,75.1 L492.6,74.9 L497.4,74.7 L502.2,74.4 L507.0,74.2 L511.8,73.9 L516.6,73.5 L521.4,73.2 L526.3,72.8 L531.1,72.4 L535.9,72.0 L540.7,71.5 L545.5,71.1 L550.3,70.6 L555.1,70.0 L559.8,69.5 L564.6,68.9 L569.4,68.3 L574.2,67.6 L579.0,67.0 L583.8,66.3 L588.5,65.6 L593.3,64.9 L598.1,64.1 L602.8,63.3 L607.6,62.5 L612.3,61.7 L617.1,60.8 L621.8,59.9 L626.5,59.0 L631.3,58.1 L636.0,57.1 L640.7,56.1 L645.4,55.1 L650.1,54.0 L654.8,53.0 L659.5,51.9 L664.2,50.8 L668.9,49.6 L673.6,48.5 L678.3,47.3 L682.9,46.0 L687.6,44.8 L692.2,43.5 L696.9,42.2 L701.5,40.9 L706.2,39.6 L710.8,38.2 L715.4,36.8 L720.0,35.4 L724.6,34.0 L729.2,32.5 L733.8,31.0 L738.4,29.5 L742.9,28.0 L747.5,26.4 L752.1,24.8 L756.6,23.2 L761.1,21.5 L765.7,19.9 L770.2,18.2 L774.7,16.5 L779.2,14.8 L783.7,13.0 L788.2,11.2 L792.6,9.4 L797.1,7.6 L801.6,5.7 L806.0,3.8 L810.4,1.9 L814.8,0.0 L819.3,-1.9 L823.7,-3.9 L828.0,-5.9 L832.4,-7.9 L836.8,-10.0 L841.1,-12.1 M-162.3,602.5 L-158.9,594.6 L-155.5,586.8 L-152.0,578.9 L-148.7,571.1 L-145.3,563.2 L-141.9,555.4 L-138.5,547.7 L-135.2,539.9 L-131.8,532.2 L-128.5,524.5 L-125.2,516.8 L-121.9,509.1 L-118.6,501.5 L-115.3,493.9 L-112.0,486.2 L-108.7,478.6 L-105.4,471.1 L-102.1,463.5 L-98.9,455.9 L-95.6,448.4 L-92.3,440.9 L-89.1,433.4 L-85.8,425.9 L-82.6,418.4 L-79.4,410.9 L-76.1,403.4 L-72.9,396.0 L-69.7,388.6 L-66.5,381.1 L-63.3,373.7 L-60.1,366.3 L-56.9,358.9 L-53.7,351.5 L-50.5,344.1 L-47.3,336.7 L-44.1,329.3 L-40.9,322.0 L-37.7,314.6 L-34.5,307.2 L-31.3,299.9 L-28.2,292.5 L-25.0,285.2 L-21.8,277.8 L-18.6,270.5 L-15.4,263.1 L-12.3,255.8 L-9.1,248.4 L-5.9,241.1 L-2.7,233.7 L0.5,226.4 L3.6,219.0 L6.8,211.7 L10.0,204.3 L13.2,196.9 L16.4,189.6 L19.6,182.2 L22.8,174.8 L26.0,167.4 L29.2,160.0 L32.4,152.6 L35.6,145.2 L38.8,137.8 L42.0,130.4 L45.2,122.9 L48.4,115.5 L51.7,108.0 L54.9,100.6 L58.1,93.1 L61.4,85.6 L64.6,78.1 L67.9,70.5 L71.2,63.0 L74.4,55.4 L77.7,47.8 L81.0,40.2 L84.3,32.6 L87.6,25.0 L90.9,17.3 L94.2,9.6 L97.6,1.9 L100.9,-5.8 L104.3,-13.6 L107.6,-21.3 L111.0,-29.1 L114.4,-37.0 L117.8,-44.8 L121.2,-52.7 L124.6,-60.7 L128.1,-68.6 M-84.9,633.6 L-81.9,625.5 L-78.9,617.4 L-76.0,609.4 L-73.0,601.4 L-70.0,593.4 L-67.1,585.5 L-64.1,577.5 L-61.2,569.6 L-58.3,561.7 L-55.4,553.8 L-52.5,546.0 L-49.6,538.1 L-46.7,530.3 L-43.8,522.5 L-40.9,514.7 L-38.0,507.0 L-35.2,499.2 L-32.3,491.5 L-29.4,483.8 L-26.6,476.1 L-23.7,468.4 L-20.9,460.7 L-18.1,453.1 L-15.2,445.4 L-12.4,437.8 L-9.6,430.1 L-6.8,422.5 L-3.9,414.9 L-1.1,407.3 L1.7,399.8 L4.5,392.2 L7.3,384.6 L10.1,377.1 L12.9,369.5 L15.7,362.0 L18.5,354.4 L21.2,346.9 L24.0,339.4 L26.8,331.8 L29.6,324.3 L32.4,316.8 L35.2,309.3 L38.0,301.8 L40.7,294.3 L43.5,286.8 L46.3,279.2 L49.1,271.7 L51.9,264.2 L54.6,256.7 L57.4,249.2 L60.2,241.7 L63.0,234.2 L65.8,226.7 L68.5,219.1 L71.3,211.6 L74.1,204.1 L76.9,196.5 L79.7,189.0 L82.5,181.4 L85.3,173.9 L88.1,166.3 L90.9,158.7 L93.7,151.1 L96.5,143.5 L99.4,135.9 L102.2,128.3 L105.0,120.7 L107.8,113.0 L110.7,105.3 L113.5,97.7 L116.4,90.0 L119.2,82.3 L122.1,74.5 L125.0,66.8 L127.8,59.0 L130.7,51.2 L133.6,43.4 L136.5,35.6 L139.4,27.8 L142.3,19.9 L145.2,12.0 L148.2,4.1 L151.1,-3.9 L154.1,-11.9 L157.0,-19.9 L160.0,-27.9 L163.0,-36.0 L166.0,-44.1 L169.0,-52.2 M-6.0,660.4 L-3.4,652.2 L-0.9,644.0 L1.7,635.8 L4.2,627.7 L6.7,619.5 L9.2,611.4 L11.8,603.3 L14.3,595.3 L16.8,587.2 L19.2,579.2 L21.7,571.2 L24.2,563.2 L26.7,555.3 L29.1,547.3 L31.6,539.4 L34.0,531.5 L36.5,523.6 L38.9,515.7 L41.4,507.9 L43.8,500.0 L46.2,492.2 L48.7,484.4 L51.1,476.6 L53.5,468.8 L55.9,461.0 L58.3,453.2 L60.7,445.5 L63.1,437.7 L65.5,430.0 L67.9,422.3 L70.3,414.6 L72.7,406.9 L75.1,399.2 L77.5,391.5 L79.9,383.8 L82.3,376.1 L84.6,368.4 L87.0,360.8 L89.4,353.1 L91.8,345.5 L94.1,337.8 L96.5,330.1 L98.9,322.5 L101.3,314.8 L103.6,307.2 L106.0,299.6 L108.4,291.9 L110.8,284.3 L113.1,276.6 L115.5,269.0 L117.9,261.3 L120.3,253.7 L122.6,246.0 L125.0,238.3 L127.4,230.7 L129.8,223.0 L132.2,215.3 L134.5,207.6 L136.9,199.9 L139.3,192.2 L141.7,184.5 L144.1,176.8 L146.5,169.1 L148.9,161.3 L151.3,153.6 L153.7,145.8 L156.1,138.0 L158.5,130.2 L161.0,122.4 L163.4,114.6 L165.8,106.8 L168.3,98.9 L170.7,91.1 L173.2,83.2 L175.6,75.3 L178.1,67.3 L180.5,59.4 L183.0,51.4 L185.5,43.4 L188.0,35.4 L190.5,27.4 L193.0,19.3 L195.5,11.2 L198.0,3.1 L200.5,-5.1 L203.1,-13.3 L205.6,-21.5 L208.2,-29.7 L210.8,-38.0 M74.3,683.0 L76.4,674.6 L78.5,666.3 L80.6,658.0 L82.7,649.7 L84.8,641.5 L86.9,633.2 L88.9,625.0 L91.0,616.8 L93.1,608.7 L95.1,600.5 L97.2,592.4 L99.2,584.3 L101.2,576.2 L103.3,568.2 L105.3,560.1 L107.3,552.1 L109.4,544.1 L111.4,536.1 L113.4,528.1 L115.4,520.1 L117.4,512.2 L119.4,504.2 L121.4,496.3 L123.4,488.4 L125.4,480.5 L127.4,472.6 L129.4,464.8 L131.3,456.9 L133.3,449.1 L135.3,441.2 L137.3,433.4 L139.3,425.6 L141.2,417.7 L143.2,409.9 L145.2,402.1 L147.1,394.3 L149.1,386.6 L151.1,378.8 L153.0,371.0 L155.0,363.2 L156.9,355.4 L158.9,347.7 L160.9,339.9 L162.8,332.1 L164.8,324.4 L166.7,316.6 L168.7,308.9 L170.7,301.1 L172.6,293.3 L174.6,285.6 L176.5,277.8 L178.5,270.0 L180.5,262.2 L182.4,254.5 L184.4,246.7 L186.4,238.9 L188.3,231.1 L190.3,223.3 L192.3,215.5 L194.2,207.7 L196.2,199.8 L198.2,192.0 L200.2,184.2 L202.1,176.3 L204.1,168.4 L206.1,160.5 L208.1,152.7 L210.1,144.7 L212.1,136.8 L214.1,128.9 L216.1,120.9 L218.1,113.0 L220.1,105.0 L222.2,97.0 L224.2,88.9 L226.2,80.9 L228.3,72.8 L230.3,64.7 L232.3,56.6 L234.4,48.5 L236.5,40.3 L238.5,32.1 L240.6,23.9 L242.7,15.6 L244.8,7.4 L246.9,-1.0 L249.0,-9.3 L251.1,-17.7 L253.2,-26.1 M155.7,701.2 L157.3,692.7 L159.0,684.3 L160.6,675.9 L162.3,667.5 L163.9,659.2 L165.5,650.8 L167.2,642.5 L168.8,634.2 L170.4,626.0 L172.0,617.7 L173.6,609.5 L175.2,601.3 L176.8,593.1 L178.4,585.0 L180.0,576.8 L181.6,568.7 L183.2,560.6 L184.8,552.5 L186.4,544.4 L188.0,536.4 L189.5,528.3 L191.1,520.3 L192.7,512.3 L194.2,504.3 L195.8,496.3 L197.4,488.3 L198.9,480.3 L200.5,472.4 L202.0,464.4 L203.6,456.5 L205.1,448.6 L206.7,440.7 L208.2,432.8 L209.8,424.9 L211.3,417.0 L212.9,409.1 L214.4,401.2 L216.0,393.3 L217.5,385.4 L219.1,377.6 L220.6,369.7 L222.1,361.8 L223.7,354.0 L225.2,346.1 L226.8,338.3 L228.3,330.4 L229.8,322.5 L231.4,314.7 L232.9,306.8 L234.5,299.0 L236.0,291.1 L237.5,283.2 L239.1,275.4 L240.6,267.5 L242.2,259.6 L243.7,251.7 L245.2,243.8 L246.8,235.9 L248.3,228.0 L249.9,220.1 L251.4,212.2 L253.0,204.3 L254.6,196.3 L256.1,188.4 L257.7,180.4 L259.2,172.4 L260.8,164.4 L262.4,156.4 L263.9,148.4 L265.5,140.4 L267.1,132.3 L268.7,124.3 L270.3,116.2 L271.8,108.1 L273.4,99.9 L275.0,91.8 L276.6,83.6 L278.2,75.4 L279.8,67.2 L281.5,59.0 L283.1,50.7 L284.7,42.4 L286.3,34.1 L288.0,25.8 L289.6,17.4 L291.2,9.0 L292.9,0.5 L294.6,-7.9 L296.2,-16.4 M237.9,715.0 L239.1,706.5 L240.3,698.0 L241.5,689.5 L242.7,681.0 L243.9,672.6 L245.0,664.2 L246.2,655.8 L247.4,647.5 L248.6,639.1 L249.7,630.8 L250.9,622.5 L252.1,614.2 L253.2,606.0 L254.4,597.7 L255.5,589.5 L256.7,581.3 L257.8,573.2 L259.0,565.0 L260.1,556.8 L261.3,548.7 L262.4,540.6 L263.6,532.5 L264.7,524.4 L265.8,516.3 L267.0,508.3 L268.1,500.2 L269.2,492.2 L270.4,484.1 L271.5,476.1 L272.6,468.1 L273.7,460.1 L274.9,452.1 L276.0,444.1 L277.1,436.2 L278.2,428.2 L279.3,420.2 L280.5,412.3 L281.6,404.3 L282.7,396.4 L283.8,388.5 L284.9,380.5 L286.0,372.6 L287.2,364.6 L288.3,356.7 L289.4,348.8 L290.5,340.9 L291.6,332.9 L292.7,325.0 L293.8,317.1 L295.0,309.1 L296.1,301.2 L297.2,293.3 L298.3,285.3 L299.4,277.4 L300.5,269.4 L301.7,261.5 L302.8,253.5 L303.9,245.5 L305.0,237.6 L306.1,229.6 L307.3,221.6 L308.4,213.6 L309.5,205.6 L310.7,197.6 L311.8,189.5 L312.9,181.5 L314.0,173.4 L315.2,165.3 L316.3,157.2 L317.5,149.1 L318.6,141.0 L319.7,132.9 L320.9,124.7 L322.0,116.5 L323.2,108.3 L324.4,100.1 L325.5,91.9 L326.7,83.6 L327.8,75.3 L329.0,67.0 L330.2,58.6 L331.4,50.3 L332.5,41.9 L333.7,33.5 L334.9,25.0 L336.1,16.5 L337.3,8.0 L338.5,-0.5 L339.7,-9.1 M320.7,724.4 L321.5,715.8 L322.2,707.3 L323.0,698.7 L323.7,690.2 L324.4,681.7 L325.1,673.3 L325.9,664.9 L326.6,656.4 L327.3,648.0 L328.0,639.7 L328.8,631.3 L329.5,623.0 L330.2,614.7 L330.9,606.4 L331.6,598.2 L332.3,589.9 L333.0,581.7 L333.7,573.5 L334.5,565.3 L335.2,557.1 L335.9,548.9 L336.6,540.8 L337.3,532.6 L338.0,524.5 L338.7,516.4 L339.4,508.3 L340.1,500.2 L340.8,492.1 L341.5,484.0 L342.1,476.0 L342.8,467.9 L343.5,459.9 L344.2,451.9 L344.9,443.9 L345.6,435.8 L346.3,427.8 L347.0,419.8 L347.7,411.8 L348.4,403.8 L349.1,395.8 L349.7,387.9 L350.4,379.9 L351.1,371.9 L351.8,363.9 L352.5,355.9 L353.2,348.0 L353.9,340.0 L354.6,332.0 L355.2,324.0 L355.9,316.1 L356.6,308.1 L357.3,300.1 L358.0,292.1 L358.7,284.1 L359.4,276.1 L360.1,268.1 L360.8,260.1 L361.4,252.1 L362.1,244.0 L362.8,236.0 L363.5,228.0 L364.2,219.9 L364.9,211.9 L365.6,203.8 L366.3,195.7 L367.0,187.6 L367.7,179.5 L368.4,171.4 L369.1,163.2 L369.8,155.1 L370.5,146.9 L371.2,138.7 L371.9,130.5 L372.6,122.2 L373.3,114.0 L374.1,105.7 L374.8,97.4 L375.5,89.1 L376.2,80.8 L376.9,72.4 L377.6,64.0 L378.4,55.6 L379.1,47.2 L379.8,38.7 L380.6,30.2 L381.3,21.6 L382.0,13.1 L382.8,4.5 L383.5,-4.2 M404.0,729.3 L404.2,720.7 L404.5,712.1 L404.8,703.6 L405.1,695.0 L405.4,686.5 L405.6,678.0 L405.9,669.6 L406.2,661.1 L406.4,652.7 L406.7,644.3 L407.0,636.0 L407.3,627.6 L407.5,619.3 L407.8,611.0 L408.1,602.7 L408.3,594.4 L408.6,586.1 L408.9,577.9 L409.1,569.7 L409.4,561.5 L409.6,553.3 L409.9,545.1 L410.2,536.9 L410.4,528.8 L410.7,520.6 L411.0,512.5 L411.2,504.4 L411.5,496.3 L411.7,488.2 L412.0,480.1 L412.3,472.1 L412.5,464.0 L412.8,455.9 L413.0,447.9 L413.3,439.8 L413.6,431.8 L413.8,423.8 L414.1,415.8 L414.3,407.7 L414.6,399.7 L414.9,391.7 L415.1,383.7 L415.4,375.7 L415.6,367.7 L415.9,359.7 L416.1,351.7 L416.4,343.7 L416.7,335.7 L416.9,327.7 L417.2,319.7 L417.4,311.7 L417.7,303.7 L418.0,295.6 L418.2,287.6 L418.5,279.6 L418.7,271.6 L419.0,263.5 L419.3,255.5 L419.5,247.4 L419.8,239.4 L420.0,231.3 L420.3,223.2 L420.6,215.1 L420.8,207.0 L421.1,198.9 L421.3,190.8 L421.6,182.7 L421.9,174.5 L422.1,166.3 L422.4,158.2 L422.7,150.0 L422.9,141.7 L423.2,133.5 L423.5,125.3 L423.7,117.0 L424.0,108.7 L424.3,100.4 L424.5,92.0 L424.8,83.7 L425.1,75.3 L425.3,66.8 L425.6,58.4 L425.9,49.9 L426.2,41.4 L426.4,32.9 L426.7,24.3 L427.0,15.7 L427.3,7.1 L427.5,-1.6 M487.3,729.8 L487.2,721.2 L487.0,712.6 L486.8,704.0 L486.6,695.5 L486.4,687.0 L486.2,678.5 L486.1,670.0 L485.9,661.6 L485.7,653.2 L485.5,644.8 L485.3,636.4 L485.2,628.0 L485.0,619.7 L484.8,611.4 L484.6,603.1 L484.4,594.8 L484.3,586.5 L484.1,578.3 L483.9,570.1 L483.7,561.9 L483.6,553.7 L483.4,545.5 L483.2,537.3 L483.0,529.2 L482.9,521.0 L482.7,512.9 L482.5,504.8 L482.3,496.7 L482.2,488.6 L482.0,480.5 L481.8,472.4 L481.6,464.4 L481.5,456.3 L481.3,448.2 L481.1,440.2 L480.9,432.2 L480.8,424.1 L480.6,416.1 L480.4,408.1 L480.3,400.1 L480.1,392.1 L479.9,384.1 L479.7,376.0 L479.6,368.0 L479.4,360.0 L479.2,352.0 L479.1,344.0 L478.9,336.0 L478.7,328.0 L478.5,320.0 L478.4,312.0 L478.2,304.0 L478.0,296.0 L477.8,287.9 L477.7,279.9 L477.5,271.9 L477.3,263.8 L477.2,255.8 L477.0,247.7 L476.8,239.7 L476.6,231.6 L476.5,223.5 L476.3,215.4 L476.1,207.3 L475.9,199.2 L475.8,191.1 L475.6,183.0 L475.4,174.8 L475.2,166.6 L475.1,158.4 L474.9,150.2 L474.7,142.0 L474.5,133.8 L474.4,125.5 L474.2,117.2 L474.0,108.9 L473.8,100.6 L473.6,92.3 L473.5,83.9 L473.3,75.5 L473.1,67.1 L472.9,58.7 L472.7,50.2 L472.6,41.7 L472.4,33.1 L472.2,24.6 L472.0,16.0 L471.8,7.3 L471.6,-1.3 M570.6,725.8 L570.0,717.2 L569.3,708.6 L568.7,700.1 L568.0,691.5 L567.4,683.0 L566.8,674.6 L566.1,666.1 L565.5,657.7 L564.9,649.3 L564.2,641.0 L563.6,632.6 L563.0,624.3 L562.4,616.0 L561.7,607.7 L561.1,599.4 L560.5,591.1 L559.9,582.9 L559.2,574.7 L558.6,566.5 L558.0,558.3 L557.4,550.1 L556.8,541.9 L556.2,533.8 L555.5,525.7 L554.9,517.5 L554.3,509.4 L553.7,501.3 L553.1,493.3 L552.5,485.2 L551.9,477.1 L551.3,469.1 L550.7,461.0 L550.1,453.0 L549.5,444.9 L548.9,436.9 L548.3,428.9 L547.7,420.9 L547.0,412.9 L546.4,404.9 L545.8,396.9 L545.2,388.9 L544.6,380.9 L544.0,372.9 L543.4,364.9 L542.8,357.0 L542.2,349.0 L541.6,341.0 L541.0,333.0 L540.4,325.0 L539.8,317.0 L539.2,309.1 L538.6,301.1 L538.0,293.1 L537.4,285.1 L536.8,277.1 L536.2,269.0 L535.6,261.0 L535.0,253.0 L534.4,245.0 L533.8,236.9 L533.2,228.9 L532.6,220.8 L532.0,212.7 L531.4,204.7 L530.7,196.6 L530.1,188.5 L529.5,180.3 L528.9,172.2 L528.3,164.1 L527.7,155.9 L527.1,147.7 L526.4,139.5 L525.8,131.3 L525.2,123.1 L524.6,114.8 L524.0,106.5 L523.3,98.2 L522.7,89.9 L522.1,81.6 L521.4,73.2 L520.8,64.8 L520.2,56.4 L519.5,47.9 L518.9,39.4 L518.3,30.9 L517.6,22.4 L517.0,13.8 L516.3,5.2 L515.7,-3.5 M653.6,717.3 L652.5,708.7 L651.4,700.2 L650.3,691.7 L649.2,683.2 L648.1,674.8 L647.0,666.4 L645.9,658.0 L644.8,649.6 L643.7,641.2 L642.6,632.9 L641.6,624.6 L640.5,616.3 L639.4,608.1 L638.3,599.8 L637.3,591.6 L636.2,583.4 L635.1,575.2 L634.1,567.0 L633.0,558.8 L632.0,550.7 L630.9,542.6 L629.9,534.5 L628.8,526.4 L627.8,518.3 L626.7,510.2 L625.7,502.1 L624.6,494.1 L623.6,486.0 L622.5,478.0 L621.5,470.0 L620.5,462.0 L619.4,454.0 L618.4,446.0 L617.4,438.0 L616.3,430.0 L615.3,422.0 L614.3,414.1 L613.2,406.1 L612.2,398.2 L611.2,390.2 L610.1,382.3 L609.1,374.3 L608.1,366.4 L607.0,358.4 L606.0,350.5 L605.0,342.6 L604.0,334.6 L602.9,326.7 L601.9,318.7 L600.9,310.8 L599.8,302.8 L598.8,294.9 L597.8,286.9 L596.7,279.0 L595.7,271.0 L594.7,263.1 L593.6,255.1 L592.6,247.1 L591.6,239.1 L590.5,231.1 L589.5,223.1 L588.5,215.1 L587.4,207.1 L586.4,199.0 L585.3,191.0 L584.3,182.9 L583.2,174.8 L582.2,166.8 L581.1,158.7 L580.1,150.5 L579.0,142.4 L578.0,134.2 L576.9,126.1 L575.9,117.9 L574.8,109.7 L573.7,101.4 L572.6,93.2 L571.6,84.9 L570.5,76.6 L569.4,68.3 L568.3,59.9 L567.3,51.5 L566.2,43.1 L565.1,34.7 L564.0,26.2 L562.9,17.7 L561.8,9.2 L560.7,0.6 L559.5,-7.9 M735.9,704.3 L734.4,695.8 L732.8,687.4 L731.3,679.0 L729.7,670.6 L728.2,662.2 L726.6,653.9 L725.1,645.5 L723.5,637.2 L722.0,628.9 L720.5,620.7 L719.0,612.5 L717.4,604.2 L715.9,596.0 L714.4,587.9 L712.9,579.7 L711.4,571.6 L709.9,563.4 L708.4,555.3 L706.9,547.2 L705.4,539.2 L703.9,531.1 L702.4,523.0 L701.0,515.0 L699.5,507.0 L698.0,499.0 L696.5,491.0 L695.1,483.0 L693.6,475.0 L692.1,467.1 L690.6,459.1 L689.2,451.2 L687.7,443.2 L686.2,435.3 L684.8,427.4 L683.3,419.5 L681.9,411.6 L680.4,403.7 L678.9,395.8 L677.5,387.9 L676.0,380.0 L674.6,372.1 L673.1,364.3 L671.7,356.4 L670.2,348.5 L668.8,340.6 L667.3,332.8 L665.8,324.9 L664.4,317.0 L662.9,309.1 L661.5,301.3 L660.0,293.4 L658.6,285.5 L657.1,277.6 L655.7,269.7 L654.2,261.8 L652.7,253.9 L651.3,246.0 L649.8,238.1 L648.4,230.2 L646.9,222.3 L645.4,214.3 L644.0,206.4 L642.5,198.4 L641.0,190.4 L639.5,182.5 L638.1,174.5 L636.6,166.5 L635.1,158.4 L633.6,150.4 L632.1,142.4 L630.6,134.3 L629.1,126.2 L627.6,118.1 L626.1,110.0 L624.6,101.8 L623.1,93.7 L621.6,85.5 L620.1,77.3 L618.6,69.0 L617.1,60.8 L615.5,52.5 L614.0,44.2 L612.5,35.9 L610.9,27.5 L609.4,19.1 L607.8,10.7 L606.2,2.2 L604.7,-6.3 L603.1,-14.8 M817.5,687.0 L815.5,678.6 L813.5,670.2 L811.5,661.9 L809.5,653.6 L807.5,645.3 L805.5,637.1 L803.5,628.9 L801.5,620.6 L799.5,612.5 L797.6,604.3 L795.6,596.2 L793.7,588.0 L791.7,579.9 L789.8,571.8 L787.8,563.8 L785.9,555.7 L783.9,547.7 L782.0,539.7 L780.1,531.7 L778.2,523.7 L776.2,515.7 L774.3,507.8 L772.4,499.8 L770.5,491.9 L768.6,484.0 L766.7,476.1 L764.8,468.2 L762.9,460.3 L761.0,452.4 L759.1,444.6 L757.2,436.7 L755.3,428.9 L753.4,421.0 L751.5,413.2 L749.7,405.4 L747.8,397.6 L745.9,389.8 L744.0,382.0 L742.1,374.2 L740.3,366.4 L738.4,358.6 L736.5,350.8 L734.6,343.0 L732.7,335.2 L730.9,327.4 L729.0,319.6 L727.1,311.9 L725.2,304.1 L723.4,296.3 L721.5,288.5 L719.6,280.7 L717.7,272.9 L715.9,265.1 L714.0,257.3 L712.1,249.5 L710.2,241.7 L708.3,233.9 L706.5,226.1 L704.6,218.2 L702.7,210.4 L700.8,202.6 L698.9,194.7 L697.0,186.8 L695.1,178.9 L693.2,171.1 L691.3,163.2 L689.4,155.2 L687.5,147.3 L685.6,139.4 L683.7,131.4 L681.7,123.4 L679.8,115.4 L677.9,107.4 L675.9,99.4 L674.0,91.3 L672.1,83.3 L670.1,75.2 L668.2,67.1 L666.2,58.9 L664.2,50.8 L662.3,42.6 L660.3,34.4 L658.3,26.1 L656.3,17.9 L654.3,9.6 L652.3,1.2 L650.3,-7.1 L648.3,-15.5 L646.2,-24.0 M898.0,665.3 L895.5,657.0 L893.1,648.8 L890.6,640.6 L888.2,632.4 L885.7,624.2 L883.3,616.1 L880.9,608.0 L878.5,599.9 L876.1,591.8 L873.7,583.8 L871.3,575.8 L868.9,567.8 L866.5,559.8 L864.1,551.8 L861.7,543.8 L859.4,535.9 L857.0,528.0 L854.6,520.1 L852.3,512.2 L849.9,504.3 L847.6,496.5 L845.3,488.6 L842.9,480.8 L840.6,473.0 L838.3,465.2 L835.9,457.4 L833.6,449.6 L831.3,441.9 L829.0,434.1 L826.7,426.4 L824.4,418.6 L822.0,410.9 L819.7,403.2 L817.4,395.4 L815.1,387.7 L812.8,380.0 L810.5,372.3 L808.2,364.6 L805.9,357.0 L803.7,349.3 L801.4,341.6 L799.1,333.9 L796.8,326.2 L794.5,318.6 L792.2,310.9 L789.9,303.2 L787.6,295.6 L785.3,287.9 L783.0,280.2 L780.7,272.5 L778.4,264.9 L776.2,257.2 L773.9,249.5 L771.6,241.8 L769.3,234.1 L767.0,226.4 L764.7,218.7 L762.4,211.0 L760.1,203.3 L757.8,195.6 L755.4,187.8 L753.1,180.1 L750.8,172.3 L748.5,164.6 L746.2,156.8 L743.9,149.0 L741.5,141.2 L739.2,133.4 L736.9,125.5 L734.5,117.7 L732.2,109.8 L729.8,102.0 L727.5,94.1 L725.1,86.1 L722.7,78.2 L720.3,70.3 L718.0,62.3 L715.6,54.3 L713.2,46.3 L710.8,38.2 L708.4,30.1 L706.0,22.0 L703.5,13.9 L701.1,5.8 L698.7,-2.4 L696.2,-10.6 L693.7,-18.9 L691.3,-27.1 L688.8,-35.4 M977.2,639.3 L974.3,631.2 L971.4,623.1 L968.5,615.0 L965.6,607.0 L962.8,599.0 L959.9,591.0 L957.1,583.0 L954.2,575.1 L951.4,567.1 L948.5,559.2 L945.7,551.3 L942.9,543.5 L940.1,535.6 L937.3,527.8 L934.5,520.0 L931.7,512.2 L928.9,504.4 L926.1,496.6 L923.4,488.9 L920.6,481.2 L917.8,473.4 L915.1,465.7 L912.3,458.1 L909.6,450.4 L906.8,442.7 L904.1,435.1 L901.3,427.4 L898.6,419.8 L895.9,412.2 L893.2,404.5 L890.4,396.9 L887.7,389.3 L885.0,381.8 L882.3,374.2 L879.6,366.6 L876.9,359.0 L874.2,351.5 L871.4,343.9 L868.7,336.4 L866.0,328.8 L863.3,321.3 L860.6,313.7 L857.9,306.2 L855.2,298.6 L852.5,291.1 L849.8,283.6 L847.1,276.0 L844.4,268.5 L841.7,261.0 L839.0,253.4 L836.3,245.9 L833.6,238.3 L830.9,230.8 L828.2,223.2 L825.5,215.7 L822.8,208.1 L820.1,200.5 L817.4,192.9 L814.7,185.4 L812.0,177.8 L809.2,170.2 L806.5,162.6 L803.8,154.9 L801.1,147.3 L798.3,139.7 L795.6,132.0 L792.8,124.4 L790.1,116.7 L787.3,109.0 L784.6,101.3 L781.8,93.5 L779.0,85.8 L776.3,78.0 L773.5,70.3 L770.7,62.5 L767.9,54.7 L765.1,46.8 L762.3,39.0 L759.4,31.1 L756.6,23.2 L753.8,15.3 L750.9,7.3 L748.1,-0.7 L745.2,-8.7 L742.3,-16.7 L739.4,-24.8 L736.5,-32.9 L733.6,-41.0 L730.7,-49.2 M1054.9,609.1 L1051.6,601.1 L1048.3,593.2 L1045.0,585.3 L1041.6,577.4 L1038.3,569.6 L1035.1,561.8 L1031.8,554.0 L1028.5,546.2 L1025.3,538.4 L1022.0,530.7 L1018.8,523.0 L1015.5,515.2 L1012.3,507.6 L1009.1,499.9 L1005.9,492.2 L1002.7,484.6 L999.5,477.0 L996.3,469.4 L993.1,461.8 L989.9,454.2 L986.7,446.7 L983.6,439.1 L980.4,431.6 L977.2,424.1 L974.1,416.6 L970.9,409.1 L967.8,401.6 L964.7,394.1 L961.5,386.6 L958.4,379.2 L955.3,371.7 L952.1,364.3 L949.0,356.9 L945.9,349.4 L942.8,342.0 L939.7,334.6 L936.6,327.2 L933.5,319.8 L930.3,312.4 L927.2,305.0 L924.1,297.6 L921.0,290.2 L917.9,282.9 L914.8,275.5 L911.7,268.1 L908.6,260.7 L905.5,253.3 L902.4,245.9 L899.3,238.6 L896.2,231.2 L893.1,223.8 L890.0,216.4 L886.9,209.0 L883.8,201.6 L880.7,194.2 L877.6,186.8 L874.5,179.4 L871.4,172.0 L868.2,164.5 L865.1,157.1 L862.0,149.7 L858.9,142.2 L855.7,134.8 L852.6,127.3 L849.5,119.8 L846.3,112.3 L843.2,104.8 L840.0,97.3 L836.8,89.7 L833.7,82.2 L830.5,74.6 L827.3,67.0 L824.1,59.4 L820.9,51.8 L817.7,44.2 L814.5,36.5 L811.3,28.9 L808.0,21.2 L804.8,13.5 L801.6,5.7 L798.3,-2.1 L795.0,-9.8 L791.7,-17.7 L788.4,-25.5 L785.1,-33.4 L781.8,-41.3 L778.5,-49.2 L775.1,-57.2 L771.8,-65.2" fill="none" stroke="#d4d4d4" stroke-width="0.5"/>
<path d="M389.6,366.6 L377.3,365.8 L376.8,373.8 L415.4,375.7 L414.4,406.8 L420.9,409.5 L424.8,412.8 L434.1,414.2 L439.4,414.7 L446.0,418.0 L446.3,368.3 L389.6,366.6 M446.1,395.5 L450.8,395.9 M450.8,395.9 L453.4,391.3 M453.4,391.3 L446.8,382.4 M446.2,382.2 L446.8,382.4 M446.0,410.4 L453.3,413.3 M453.3,413.3 L452.5,420.2 M450.8,401.6 L453.2,403.7 M450.8,401.6 L450.9,396.0 M453.2,403.7 L457.8,399.2 M450.9,396.0 L457.8,399.2 M446.1,403.3 L450.8,401.6 M446.1,409.1 L453.5,405.6 M453.5,405.6 L453.2,403.7 M450.8,395.9 L450.9,396.0 M453.4,391.3 L459.3,390.6 M459.3,390.6 L459.1,399.0 M459.1,399.0 L457.8,399.2 M485.7,382.2 L482.5,382.9 M484.5,371.3 L478.2,375.2 M478.2,375.2 L477.6,379.0 M482.5,382.9 L477.6,379.0 M478.2,375.2 L471.0,370.5 M471.0,370.5 L470.6,368.1 M446.2,379.3 L456.7,368.2 M487.6,401.9 L487.3,401.9 M487.6,412.2 L481.2,410.6 M481.2,410.6 L480.4,405.5 M487.3,401.9 L480.4,405.5 M487.3,401.9 L481.9,397.9 M480.4,405.5 L477.7,403.6 M477.7,403.6 L478.3,399.5 M481.9,397.9 L478.3,399.5 M481.2,410.6 L476.3,414.2 M476.3,414.2 L475.4,417.3 M475.4,417.3 L475.4,417.5 M476.3,414.2 L472.9,408.3 M477.7,403.6 L474.8,404.5 M472.9,408.3 L474.8,404.5 M453.5,405.6 L456.1,407.8 M453.3,413.3 L455.7,411.7 M456.1,407.8 L455.7,411.7 M471.0,370.5 L467.9,378.3 M477.6,379.0 L474.1,380.8 M474.1,380.8 L467.9,378.3 M465.6,398.3 L469.7,400.8 M465.6,398.3 L466.4,393.2 M470.3,400.7 L469.7,400.8 M466.4,393.2 L471.0,393.0 M470.3,400.7 L473.4,396.4 M471.0,393.0 L473.4,396.4 M470.3,400.7 L474.8,404.5 M478.3,399.5 L475.2,396.5 M473.4,396.4 L475.2,396.5 M459.1,399.0 L460.7,400.2 M456.1,407.8 L456.3,407.7 M456.3,407.7 L460.7,400.2 M475.4,417.3 L466.7,412.6 M466.7,412.6 L463.7,418.8 M455.7,411.7 L459.2,413.6 M461.1,418.8 L459.2,413.6 M467.1,378.7 L466.1,385.5 M467.1,378.7 L459.8,376.6 M456.4,381.1 L459.8,376.6 M456.4,381.1 L461.2,389.0 M466.1,385.5 L462.4,388.9 M461.2,389.0 L462.4,388.9 M474.1,380.8 L474.1,387.5 M473.6,387.7 L474.1,387.5 M467.9,378.3 L467.1,378.7 M473.6,387.7 L466.1,385.5 M457.6,368.2 L459.8,376.6 M446.8,382.4 L456.4,381.1 M459.3,390.6 L461.2,389.0 M473.6,387.7 L471.0,393.0 M466.4,393.2 L462.4,388.9 M460.7,400.2 L461.2,400.3 M465.6,398.3 L461.2,400.3 M480.4,386.3 L475.7,388.0 M480.4,386.3 L483.8,392.2 M475.7,388.0 L478.1,392.9 M478.1,392.9 L482.4,393.4 M483.8,392.2 L482.4,393.4 M482.5,382.9 L480.4,386.3 M474.1,387.5 L475.7,388.0 M487.3,391.8 L483.8,392.2 M475.2,396.5 L478.1,392.9 M481.9,397.9 L482.4,393.4 M462.6,403.5 L461.5,407.6 M462.6,403.5 L467.3,405.3 M461.5,407.6 L463.7,410.2 M467.3,405.3 L468.0,408.3 M468.0,408.3 L466.2,410.6 M466.2,410.6 L463.7,410.2 M456.3,407.7 L461.5,407.6 M461.2,400.3 L462.6,403.5 M469.7,400.8 L467.3,405.3 M459.2,413.6 L463.7,410.2 M472.9,408.3 L468.0,408.3 M466.7,412.6 L466.2,410.6 M379.4,457.8 L371.4,461.5 M379.4,457.8 L390.3,465.3 M390.3,465.6 L376.6,473.5 M371.4,461.5 L372.2,470.9 M372.2,470.9 L376.6,473.5 M381.1,447.0 L379.4,457.8 M379.5,482.2 L376.6,473.5 M363.9,475.3 L372.2,470.9 M352.0,469.1 L363.9,475.3 M365.7,457.8 L352.0,469.1 M365.7,457.8 L371.4,461.5 M365.0,494.4 L363.9,475.3 M342.9,444.1 L335.5,457.9 M353.3,444.9 L347.5,469.3 M345.0,470.5 L347.5,469.3 M365.7,457.8 L362.5,445.6 M352.0,469.1 L347.5,469.3 M385.9,482.2 L389.4,483.6 L391.2,447.8 L323.1,442.6 L323.8,445.4 L323.8,445.4 L330.8,453.2 L337.4,459.8 L344.0,466.4 L345.7,473.0 L349.2,479.2 L352.3,482.8 L355.3,486.8 L358.8,489.4 L365.2,494.5 L372.9,485.3 L376.7,482.2 L385.9,482.2 M391.2,447.8 L389.6,479.2 L463.8,480.8 L463.3,418.8 L459.3,418.8 L451.3,420.4 L446.0,418.0 L439.4,414.7 L434.1,414.2 L424.8,412.8 L420.9,409.5 L414.4,406.8 L415.4,375.7 L376.8,373.8 L371.6,445.9 L358.5,444.9 L358.5,445.8 L391.2,447.8 M433.0,542.4 L436.0,535.6 M443.8,546.7 L442.8,540.7 M436.0,535.6 L442.8,540.7 M402.5,495.8 L404.5,494.7 M401.1,485.4 L396.7,488.5 M401.1,485.4 L406.2,489.5 M406.2,489.5 L404.5,494.7 M410.2,503.1 L407.2,505.0 M410.2,503.1 L408.9,496.3 M404.5,494.7 L408.9,496.3 M410.2,503.1 L413.9,503.0 M414.0,493.6 L408.9,496.3 M414.0,493.6 L416.6,496.9 M413.9,503.0 L416.6,496.9 M401.1,485.4 L402.6,479.5 M414.0,491.9 L409.1,488.4 M414.0,491.9 L418.5,487.5 M417.2,483.8 L418.5,487.5 M417.2,483.8 L410.1,484.6 M410.1,484.6 L409.1,488.4 M414.0,493.6 L414.0,491.9 M406.2,489.5 L409.1,488.4 M418.1,479.8 L417.2,483.8 M407.3,479.6 L410.1,484.6 M423.6,489.5 L418.5,487.5 M423.6,489.5 L430.9,480.1 M469.4,472.5 L474.5,474.8 M470.2,463.1 L469.4,472.5 M470.2,463.1 L477.9,467.1 M477.9,467.1 L475.1,474.6 M474.5,474.8 L475.1,474.6 M470.2,463.1 L468.7,460.5 M468.7,460.5 L463.6,459.9 M469.4,472.5 L463.7,473.7 M468.7,460.5 L472.7,457.2 M471.1,445.9 L475.5,449.8 M463.5,445.8 L471.1,445.9 M472.7,457.2 L475.5,449.8 M474.9,436.5 L479.5,437.3 M479.5,437.3 L484.0,443.5 M476.8,449.7 L475.5,449.8 M471.1,445.9 L474.9,436.5 M476.8,449.7 L482.5,446.6 M482.5,446.6 L484.0,443.5 M463.4,432.7 L466.3,432.2 M474.9,436.5 L474.6,436.1 M466.3,432.2 L474.6,436.1 M498.9,471.7 L494.4,478.8 M499.9,471.6 L498.9,471.7 M499.2,482.2 L494.4,478.8 M445.0,480.4 L444.6,487.6 M431.0,480.1 L435.4,488.5 M435.4,488.5 L444.6,487.6 M485.4,469.2 L482.6,464.7 M485.4,469.2 L491.0,470.7 M493.4,462.1 L486.3,459.4 M493.4,462.1 L493.4,462.1 M493.4,462.1 L493.0,469.6 M491.0,470.7 L493.0,469.6 M486.3,459.4 L485.5,459.8 M485.5,459.8 L483.2,462.4 M482.6,464.7 L483.2,462.4 M481.6,477.2 L475.1,474.6 M482.3,476.8 L481.6,477.2 M482.3,476.8 L485.4,469.2 M477.9,467.1 L482.6,464.7 M490.3,477.6 L491.0,470.7 M482.3,476.8 L490.3,477.6 M498.9,471.7 L493.0,469.6 M500.9,464.9 L493.4,462.1 M490.3,477.6 L491.2,478.8 M491.2,478.8 L494.4,478.8 M476.8,449.7 L485.5,459.8 M488.8,453.2 L482.5,446.6 M488.8,453.2 L486.3,459.4 M472.7,457.2 L483.2,462.4 M478.5,487.0 L481.8,482.9 M478.5,487.0 L483.8,492.9 M481.8,482.9 L489.5,484.9 M490.7,487.5 L489.5,484.9 M481.6,477.2 L481.8,482.9 M491.2,478.8 L489.5,484.9 M471.7,482.4 L477.5,487.1 M471.7,482.4 L466.7,483.8 M466.7,483.8 L465.1,489.1 M465.1,489.1 L468.4,492.7 M477.5,487.1 L472.6,493.2 M472.6,493.2 L468.4,492.7 M478.5,487.0 L477.5,487.1 M474.5,474.8 L471.7,482.4 M463.8,480.3 L466.7,483.8 M455.2,480.6 L455.2,485.6 M455.2,485.6 L461.5,490.0 M461.5,490.0 L465.1,489.1 M476.1,499.1 L472.6,493.2 M417.7,509.5 L422.0,512.8 M417.7,509.5 L411.2,514.3 M422.0,512.8 L421.3,518.4 M421.3,518.4 L416.5,522.0 M413.9,503.0 L417.7,506.6 M417.7,506.6 L417.7,509.5 M483.8,428.3 L488.2,421.8 M485.4,431.7 L483.8,428.3 M485.4,431.7 L487.1,432.5 M487.1,432.5 L493.8,430.7 M477.0,428.8 L471.2,425.2 M477.0,428.8 L480.1,427.2 M480.1,427.2 L478.4,420.5 M478.4,420.5 L471.2,424.3 M471.2,424.3 L471.2,425.2 M466.3,432.2 L471.2,425.2 M474.6,436.1 L477.0,428.8 M479.5,437.3 L485.4,431.7 M483.8,428.3 L480.1,427.2 M479.3,417.7 L478.4,420.5 M467.3,418.7 L471.2,424.3 M455.2,485.6 L450.9,489.7 M444.6,487.6 L445.6,488.9 M450.9,489.7 L445.6,488.9 M468.4,492.7 L464.6,501.7 M464.6,501.7 L466.6,504.4 M442.8,540.7 L448.3,531.5 M448.3,531.5 L448.8,531.4 M429.2,525.8 L430.0,524.5 M429.2,525.8 L430.5,532.9 M430.0,524.5 L441.1,529.0 M430.5,532.9 L435.9,535.3 M435.9,535.3 L441.1,529.0 M425.2,536.8 L430.5,532.9 M419.7,528.5 L429.2,525.8 M436.0,535.6 L435.9,535.3 M441.4,528.9 L448.3,531.5 M441.4,528.9 L441.1,529.0 M441.4,528.9 L441.4,523.5 M450.5,520.5 L445.8,518.2 M445.8,518.2 L441.4,523.5 M435.4,488.5 L434.2,493.6 M445.6,488.9 L443.2,497.7 M434.2,493.6 L443.2,497.7 M423.9,502.6 L427.3,505.6 M423.9,502.6 L423.9,497.0 M427.3,505.6 L433.9,503.4 M433.9,503.4 L431.9,495.3 M431.9,495.3 L425.4,495.2 M425.4,495.2 L423.9,497.0 M417.7,506.6 L423.9,502.6 M422.0,512.8 L427.2,511.0 M427.2,511.0 L427.3,505.6 M416.6,496.9 L423.9,497.0 M443.3,498.0 L443.2,497.7 M437.4,505.6 L443.3,498.0 M434.2,493.6 L431.9,495.3 M437.4,505.6 L433.9,503.4 M423.6,489.5 L425.4,495.2 M484.2,443.5 L494.4,446.5 M484.2,443.5 L488.6,438.7 M488.6,438.7 L494.1,439.5 M488.8,453.2 L495.3,450.0 M484.0,443.5 L484.2,443.5 M487.1,432.5 L488.6,438.7 M493.4,462.1 L498.1,456.0 M458.3,495.4 L460.5,500.1 M458.3,495.4 L453.2,494.7 M460.5,500.1 L454.9,504.0 M453.2,494.7 L448.8,500.6 M454.9,504.0 L449.0,501.2 M449.0,501.2 L448.8,500.6 M461.5,490.0 L458.3,495.4 M464.6,501.7 L460.5,500.1 M450.9,489.7 L453.2,494.7 M456.2,511.6 L456.5,512.0 M456.2,511.6 L454.9,504.0 M443.3,498.0 L448.8,500.6 M445.8,518.2 L445.7,518.0 M456.2,511.6 L448.3,510.9 M445.7,518.0 L448.3,510.9 M449.0,501.2 L446.4,508.4 M446.4,508.4 L448.3,510.9 M421.3,518.4 L429.1,521.0 M427.2,511.0 L427.4,511.2 M427.4,511.2 L429.1,521.0 M441.4,523.5 L434.8,518.6 M430.0,524.5 L430.2,521.9 M434.8,518.6 L430.2,521.9 M429.1,521.0 L430.2,521.9 M432.7,511.8 L435.3,517.4 M432.7,511.8 L437.5,506.1 M437.5,506.1 L440.5,508.7 M440.5,508.7 L440.3,514.6 M440.3,514.6 L435.3,517.4 M427.4,511.2 L432.7,511.8 M434.8,518.6 L435.3,517.4 M437.4,505.6 L437.5,506.1 M446.4,508.4 L440.5,508.7 M445.7,518.0 L440.3,514.6 M472.3,315.3 L474.7,320.1 L478.6,323.2 L479.9,328.0 L483.8,334.3 L484.0,342.3 L539.0,339.6 L538.7,334.8 L533.6,333.5 L528.2,327.5 L521.5,318.3 L522.1,312.1 L518.1,308.8 L469.0,310.9 L472.3,315.3 M498.6,375.2 L494.4,367.9 M484.6,374.8 L494.4,367.9 M509.0,369.6 L510.8,366.3 M509.0,369.6 L511.2,374.6 M513.5,374.5 L516.8,367.0 M510.8,366.3 L516.8,367.0 M488.4,342.1 L488.3,346.4 M488.3,346.4 L491.7,348.3 M491.7,348.3 L493.8,341.8 M488.3,346.4 L484.1,348.2 M484.3,360.3 L486.1,360.3 M484.4,367.1 L487.2,364.9 M486.1,360.3 L487.2,364.9 M484.2,355.6 L486.0,356.1 M486.1,360.3 L486.6,359.9 M486.0,356.1 L486.6,359.9 M500.7,375.1 L503.7,369.1 M503.7,369.1 L509.0,369.6 M491.7,348.3 L492.0,348.9 M494.5,341.8 L497.3,346.3 M497.3,346.3 L496.3,348.8 M492.0,348.9 L496.3,348.8 M500.3,343.5 L499.6,345.5 M500.3,343.5 L503.9,344.0 M499.6,345.5 L501.9,347.5 M503.9,344.0 L503.5,347.2 M501.9,347.5 L503.5,347.2 M499.7,341.5 L500.3,343.5 M497.3,346.3 L499.6,345.5 M505.2,341.3 L505.1,342.8 M505.1,342.8 L503.9,344.0 M545.2,380.9 L544.1,376.1 M544.1,376.1 L541.3,376.2 M527.2,373.8 L524.9,368.9 M520.1,374.2 L520.6,369.9 M524.9,368.9 L520.6,369.9 M516.8,367.0 L517.2,366.8 M520.6,369.9 L517.2,366.8 M509.9,364.1 L513.9,359.7 M513.9,359.7 L518.5,363.1 M510.8,366.3 L509.9,364.1 M518.5,363.1 L517.2,366.8 M539.4,366.3 L541.8,370.3 M539.4,366.3 L535.9,368.8 M535.9,368.8 L536.6,373.3 M541.8,370.3 L539.0,373.2 M531.8,367.3 L530.3,373.7 M531.8,367.3 L535.9,368.8 M532.6,339.9 L534.4,345.0 M540.1,343.1 L534.4,345.0 M527.4,347.7 L526.4,340.2 M527.4,347.7 L533.6,347.0 M534.4,345.0 L533.6,347.0 M542.0,347.1 L538.0,350.6 M533.6,347.0 L536.2,350.8 M536.2,350.8 L538.0,350.6 M546.3,352.7 L542.9,355.0 M538.0,350.6 L542.9,355.0 M550.1,360.9 L548.6,361.6 M548.6,361.6 L542.0,357.9 M542.0,357.9 L542.9,355.0 M522.1,357.7 L526.4,357.9 M522.1,357.7 L519.7,362.5 M526.4,357.9 L528.3,364.6 M519.7,362.5 L526.4,365.6 M528.3,364.6 L526.4,365.6 M520.5,355.0 L523.4,349.4 M526.5,348.9 L523.4,349.4 M526.5,348.9 L529.3,355.1 M529.3,355.1 L526.4,357.9 M520.5,355.0 L522.1,357.7 M518.5,363.1 L519.7,362.5 M515.6,354.4 L515.9,354.3 M520.5,355.0 L515.9,354.3 M513.6,358.5 L515.6,354.4 M513.9,359.7 L513.6,358.5 M524.9,368.9 L526.4,365.6 M530.5,364.9 L528.3,364.6 M531.8,367.3 L530.5,364.9 M502.8,366.8 L505.2,362.6 M503.7,369.1 L502.8,366.8 M509.9,364.1 L506.5,362.3 M505.2,362.6 L506.5,362.3 M513.6,358.5 L508.4,357.2 M506.5,362.3 L508.4,357.2 M510.3,351.9 L515.6,354.4 M507.7,354.8 L510.3,351.9 M507.7,354.8 L507.7,355.9 M507.7,355.9 L508.4,357.2 M515.9,354.3 L516.3,348.8 M523.4,349.4 L520.1,347.2 M516.3,348.8 L520.1,347.2 M527.4,347.7 L526.5,348.9 M519.2,340.6 L520.1,347.2 M506.7,348.2 L508.1,345.4 M506.7,348.2 L510.2,350.7 M510.2,350.7 L513.2,347.0 M508.1,345.4 L510.4,344.6 M510.4,344.6 L513.1,346.7 M513.1,346.7 L513.2,347.0 M505.7,348.5 L503.5,347.2 M505.7,348.5 L506.7,348.2 M505.1,342.8 L508.1,345.4 M504.4,352.2 L505.7,348.5 M510.3,351.9 L510.2,350.7 M507.7,354.8 L504.4,352.2 M516.3,348.8 L513.2,347.0 M510.7,341.0 L510.4,344.6 M517.3,340.7 L513.1,346.7 M484.1,350.4 L490.5,352.9 M486.0,356.1 L489.2,355.0 M490.5,352.9 L489.2,355.0 M492.0,348.9 L490.6,352.8 M490.5,352.9 L490.6,352.8 M486.6,359.9 L490.1,359.5 M489.2,355.0 L490.1,359.5 M504.4,352.2 L503.0,352.5 M501.9,347.5 L500.5,350.2 M500.5,350.2 L503.0,352.5 M496.3,348.8 L497.8,350.6 M500.5,350.2 L497.8,350.6 M549.9,375.3 L545.1,375.0 M551.9,371.0 L547.0,368.3 M545.1,375.0 L544.2,370.7 M547.0,368.3 L544.2,370.7 M544.1,376.1 L545.1,375.0 M548.6,361.6 L546.5,365.2 M546.5,365.2 L547.0,368.3 M541.8,370.3 L544.2,370.7 M546.5,365.2 L539.8,364.4 M539.8,364.4 L539.4,366.3 M533.3,355.8 L532.7,362.9 M533.3,355.8 L533.8,355.5 M533.8,355.5 L540.2,359.1 M532.7,362.9 L539.2,363.1 M539.2,363.1 L540.2,359.1 M529.3,355.1 L533.3,355.8 M530.5,364.9 L532.7,362.9 M536.2,350.8 L533.8,355.5 M542.0,357.9 L540.2,359.1 M539.8,364.4 L539.2,363.1 M495.2,355.6 L493.0,361.7 M495.2,355.6 L497.0,355.0 M497.0,355.0 L500.4,356.8 M493.0,361.7 L493.6,363.7 M500.4,356.8 L501.1,357.9 M493.6,363.7 L494.8,364.8 M501.1,357.9 L501.1,359.0 M501.1,359.0 L495.5,364.7 M494.8,364.8 L495.5,364.7 M490.6,352.8 L495.2,355.6 M490.1,359.5 L493.0,361.7 M497.8,350.6 L497.0,355.0 M503.0,352.5 L500.4,356.8 M487.2,364.9 L493.6,363.7 M507.7,355.9 L501.1,357.9 M494.4,367.9 L494.8,364.8 M505.2,362.6 L501.1,359.0 M502.8,366.8 L495.5,364.7 M157.9,156.7 L166.1,157.8 M157.9,167.2 L165.5,167.0 M165.5,167.0 L166.1,157.8 M193.4,145.5 L190.3,146.5 M195.4,140.6 L193.4,145.5 M190.3,146.5 L182.9,141.0 M166.1,157.8 L168.1,157.0 M168.1,157.0 L172.4,149.3 M190.3,146.5 L186.9,152.4 M182.3,152.3 L186.9,152.4 M216.0,196.3 L216.0,189.2 M199.8,194.6 L205.1,186.3 M205.1,186.3 L216.0,189.2 M207.4,143.6 L207.2,144.9 M193.4,145.5 L198.7,151.9 M207.2,144.9 L198.7,151.9 M190.1,156.0 L186.9,152.4 M190.1,156.0 L198.5,153.9 M198.5,153.9 L198.7,151.9 M182.2,193.9 L182.7,189.8 M182.7,189.8 L176.9,183.5 M169.0,186.6 L176.9,183.5 M198.5,153.9 L201.4,158.5 M190.1,156.0 L189.3,161.5 M189.3,161.5 L196.0,165.6 M196.0,165.6 L201.4,158.5 M216.0,189.2 L217.4,187.1 M217.4,187.1 L224.3,184.8 M224.3,184.8 L232.8,189.4 M231.0,157.7 L237.0,151.0 M231.0,157.7 L231.0,159.5 M238.0,166.0 L235.7,165.5 M231.0,159.5 L235.7,165.5 M213.8,163.5 L220.2,160.0 M213.8,163.5 L209.8,162.2 M209.8,162.2 L208.2,159.8 M208.2,159.8 L210.8,153.3 M210.8,153.3 L221.2,151.7 M220.2,160.0 L221.7,153.1 M221.2,151.7 L221.7,153.1 M207.2,144.9 L210.8,153.3 M201.4,158.5 L208.2,159.8 M222.5,147.4 L221.2,151.7 M224.8,163.8 L231.0,159.5 M231.0,157.7 L221.7,153.1 M224.8,163.8 L220.2,160.0 M176.1,175.4 L169.5,173.7 M176.1,175.4 L181.2,164.8 M171.7,167.1 L168.7,170.1 M178.0,163.7 L179.8,163.7 M168.7,170.1 L168.9,172.9 M179.8,163.7 L181.2,164.8 M168.9,172.9 L169.5,173.7 M178.6,178.4 L176.9,183.5 M178.6,178.4 L176.1,175.4 M166.6,181.6 L169.5,173.7 M184.0,177.7 L186.2,171.2 M182.1,165.1 L186.2,171.2 M182.1,165.1 L181.2,164.8 M178.6,178.4 L184.0,177.7 M168.1,157.0 L174.8,163.4 M165.5,167.0 L168.7,170.1 M179.9,159.7 L179.8,163.7 M155.9,174.6 L168.9,172.9 M189.3,161.5 L182.1,165.1 M190.0,183.5 L189.6,182.4 M190.0,183.5 L192.5,184.8 M189.6,182.4 L195.2,171.6 M192.5,184.8 L202.9,180.2 M202.9,180.2 L204.1,175.4 M196.7,170.8 L203.5,174.4 M196.7,170.8 L195.2,171.6 M204.1,175.4 L203.5,174.4 M182.7,189.8 L190.0,183.5 M184.0,177.7 L189.6,182.4 M196.8,194.8 L192.5,184.8 M186.2,171.2 L195.2,171.6 M205.1,186.3 L202.9,180.2 M213.6,176.5 L217.4,187.1 M213.6,176.5 L204.1,175.4 M209.8,162.2 L203.5,174.4 M196.0,165.6 L196.7,170.8 M218.1,172.2 L213.8,163.5 M218.1,172.2 L213.6,176.5 M230.1,169.0 L225.1,166.9 M230.1,169.0 L230.3,175.6 M225.1,166.9 L220.0,172.2 M220.0,172.2 L225.9,177.4 M225.9,177.4 L230.3,175.6 M224.8,163.8 L225.1,166.9 M235.7,165.5 L230.1,169.0 M235.5,177.4 L230.3,175.6 M218.1,172.2 L220.0,172.2 M224.3,184.8 L225.9,177.4 M156.9,234.1 L159.9,240.7 M156.9,234.1 L163.7,227.8 M163.7,227.8 L172.2,238.1 M159.9,240.7 L169.8,241.8 M169.8,241.8 L172.2,238.1 M152.4,234.0 L151.5,245.9 M155.5,247.0 L159.9,240.7 M152.4,234.0 L156.9,234.1 M169.4,250.9 L169.8,241.8 M172.2,238.1 L181.1,235.7 M181.1,235.7 L189.1,256.0 M218.7,254.5 L202.3,241.8 M189.4,256.1 L202.3,241.8 M232.3,200.9 L218.9,209.4 M218.9,209.4 L226.7,220.0 M214.4,233.3 L216.8,223.3 M214.4,233.3 L222.4,237.5 M226.6,220.1 L216.8,223.3 M147.4,228.0 L135.4,230.5 M147.4,228.0 L149.3,232.5 M149.3,232.5 L145.3,236.7 M145.3,236.7 L139.8,236.6 M139.8,236.6 L135.4,230.5 M140.3,218.0 L147.7,225.8 M147.7,225.8 L147.4,228.0 M133.8,229.9 L135.4,230.5 M163.9,225.4 L154.4,220.8 M163.7,227.8 L163.9,225.4 M147.7,225.8 L154.4,220.8 M152.4,234.0 L149.3,232.5 M145.7,244.3 L145.3,236.7 M137.5,242.0 L139.8,236.6 M148.1,200.2 L152.1,202.5 M143.2,212.7 L153.0,213.3 M152.1,202.5 L153.0,213.3 M154.4,220.8 L153.5,213.7 M153.0,213.3 L153.5,213.7 M181.1,235.7 L183.3,232.2 M183.3,232.2 L194.3,232.4 M202.3,241.8 L202.3,240.5 M194.3,232.4 L202.3,240.5 M214.4,233.3 L209.2,234.2 M209.2,234.2 L202.3,240.5 M218.9,209.4 L216.8,208.8 M216.8,223.3 L209.0,218.1 M209.0,218.1 L216.8,208.8 M209.2,234.2 L203.8,219.0 M209.0,218.1 L203.8,219.0 M194.3,232.4 L199.8,219.7 M199.8,219.7 L202.8,218.7 M203.8,219.0 L202.8,218.7 M152.6,188.5 L161.3,193.3 M152.1,202.5 L160.2,201.2 M161.3,193.3 L160.2,201.2 M153.5,213.7 L162.8,210.1 M160.2,201.2 L164.1,205.8 M162.8,210.1 L164.1,205.8 M163.9,225.4 L168.9,220.2 M162.8,210.1 L168.9,220.2 M172.9,192.6 L172.3,203.6 M161.3,193.3 L170.1,189.4 M164.1,205.8 L172.3,203.6 M214.7,205.3 L206.8,203.8 M214.7,205.3 L217.5,196.6 M206.8,203.8 L205.9,194.5 M202.8,218.7 L202.4,206.5 M216.8,208.8 L214.7,205.3 M202.4,206.5 L206.8,203.8 M202.4,206.5 L196.0,203.5 M196.0,203.5 L194.1,195.1 M181.9,207.4 L178.0,207.8 M181.9,207.4 L187.8,211.0 M178.0,207.8 L172.3,219.7 M189.5,215.6 L187.8,211.0 M189.5,215.6 L181.6,225.6 M181.6,225.6 L172.3,219.7 M185.8,194.4 L181.9,207.4 M172.3,203.6 L178.0,207.8 M196.0,203.5 L187.8,211.0 M168.9,220.2 L172.3,219.7 M199.8,219.7 L189.5,215.6 M183.3,232.2 L181.6,225.6 M134.0,241.3 L139.8,254.8 M139.8,254.8 L130.7,255.1 M139.9,254.8 L141.2,256.3 M139.9,254.8 L145.4,244.2 M141.2,256.3 L147.5,256.7 M147.5,256.7 L150.9,252.9 M150.1,245.5 L150.9,252.9 M139.8,254.8 L139.9,254.8 M128.9,259.0 L133.2,265.0 M141.2,256.3 L139.0,266.7 M133.2,265.0 L139.0,266.7 M133.2,265.0 L126.2,271.0 M139.0,266.7 L140.7,269.6 M140.7,269.6 L127.4,277.2 M150.9,252.9 L158.6,254.7 M158.6,254.7 L161.1,248.6 M158.6,254.7 L159.4,257.1 M172.1,251.6 L168.6,259.0 M159.4,257.1 L168.6,259.0 M220.2,401.6 L211.7,395.8 M219.0,410.9 L206.4,404.1 M211.7,395.8 L206.4,404.1 M200.5,412.5 L201.5,406.2 M201.5,406.2 L206.4,404.1 M147.5,256.7 L152.6,265.3 M159.4,257.1 L154.9,265.8 M152.6,265.3 L154.9,265.8 M140.7,269.6 L141.9,270.4 M152.6,265.3 L141.9,270.4 M127.4,281.0 L138.4,284.3 M138.4,284.3 L144.1,278.4 M141.9,270.4 L144.1,278.4 M144.5,347.7 L157.9,342.9 M144.5,347.7 L142.3,350.0 M146.9,357.9 L165.5,354.6 M157.9,342.9 L165.5,354.6 M138.4,284.3 L139.8,291.5 M129.5,299.2 L139.8,291.5 M211.3,394.3 L209.4,392.0 M211.3,394.3 L225.8,386.7 M209.4,392.0 L210.0,383.4 M224.8,384.0 L210.0,383.4 M211.7,395.8 L211.3,394.3 M154.8,372.9 L163.8,366.0 M168.2,382.7 L174.0,374.4 M163.8,366.0 L174.0,374.4 M184.3,383.8 L177.4,392.4 M184.3,383.8 L178.3,373.3 M174.0,374.4 L178.3,373.3 M162.5,294.7 L169.7,299.9 M162.5,294.7 L153.6,294.0 M171.1,301.7 L161.0,313.6 M148.5,304.1 L150.2,296.5 M148.5,304.1 L152.5,312.5 M152.5,312.5 L161.0,313.6 M153.6,294.0 L150.2,296.5 M139.8,291.5 L150.2,296.5 M130.9,307.5 L148.5,304.1 M152.5,281.0 L144.1,278.4 M152.5,281.0 L153.6,294.0 M166.7,279.3 L166.9,279.3 M166.7,279.3 L158.1,276.7 M166.9,279.3 L170.2,265.1 M158.1,276.7 L156.6,267.7 M156.6,267.7 L170.0,265.0 M170.0,265.0 L170.2,265.1 M152.5,281.0 L158.1,276.7 M162.5,294.7 L166.7,279.3 M154.9,265.8 L156.6,267.7 M168.6,259.0 L170.0,265.0 M179.4,266.6 L170.2,265.1 M197.5,392.6 L198.0,402.1 M197.5,392.6 L195.5,390.5 M195.5,390.5 L182.1,399.1 M198.0,402.1 L182.4,404.3 M209.4,392.0 L197.5,392.6 M201.5,406.2 L198.0,402.1 M184.3,383.8 L191.3,384.2 M191.3,384.2 L194.9,387.9 M194.9,387.9 L195.5,390.5 M210.0,383.4 L208.2,380.5 M219.8,372.6 L208.2,380.5 M194.9,387.9 L206.2,379.2 M208.2,380.5 L206.2,379.2 M194.5,371.7 L203.6,373.6 M194.5,371.7 L194.4,371.7 M194.4,371.7 L198.7,358.7 M203.6,373.6 L204.3,372.7 M204.3,372.7 L205.8,363.6 M205.8,363.6 L198.7,358.7 M206.2,379.2 L203.6,373.6 M191.3,384.2 L194.5,371.7 M178.3,373.3 L178.5,373.1 M189.2,369.8 L178.5,373.1 M189.2,369.8 L194.4,371.7 M216.7,368.2 L204.3,372.7 M212.0,361.2 L205.8,363.6 M150.3,328.7 L148.3,331.3 M150.3,328.7 L149.1,316.9 M134.1,318.7 L138.5,318.2 M139.8,318.0 L149.1,316.9 M138.7,330.7 L147.1,331.8 M147.1,331.8 L148.3,331.3 M165.0,333.8 L158.0,342.2 M165.0,333.8 L161.9,327.9 M161.9,327.9 L150.3,328.7 M158.0,342.2 L148.3,331.3 M164.4,320.2 L161.0,313.6 M164.4,320.2 L161.9,327.9 M152.5,312.5 L149.1,316.9 M144.5,347.7 L147.1,331.8 M157.9,342.9 L158.0,342.2 M173.3,344.9 L185.9,344.5 M173.3,344.9 L165.6,354.6 M165.6,354.6 L165.6,354.7 M165.6,354.7 L177.7,359.2 M177.7,359.2 L186.5,355.4 M185.9,344.5 L187.0,354.7 M186.5,355.4 L187.0,354.7 M165.5,354.6 L165.6,354.6 M165.0,333.8 L170.3,335.1 M170.3,335.1 L173.3,344.9 M163.8,366.0 L165.6,354.7 M178.5,373.1 L177.7,359.2 M189.2,369.8 L186.5,355.4 M198.7,358.7 L198.0,356.8 M198.0,356.8 L187.0,354.7 M195.6,337.5 L187.1,342.4 M183.2,319.4 L180.1,321.9 M187.1,342.4 L177.5,330.3 M180.1,321.9 L177.5,330.3 M166.9,279.3 L175.7,281.2 M198.0,356.8 L204.0,349.7 M185.9,344.5 L187.1,342.4 M164.4,320.2 L180.1,321.9 M170.3,335.1 L177.5,330.3 M173.0,291.9 L190.9,298.2 M179.8,314.4 L190.9,303.9 M190.9,298.2 L190.9,303.9 M197.7,279.0 L202.5,287.5 M197.7,279.0 L203.9,259.5 M222.8,282.3 L228.2,264.9 M222.8,282.3 L204.9,288.3 M204.9,288.3 L202.5,287.5 M177.1,275.7 L197.7,279.0 M190.9,298.2 L202.5,287.5 M234.8,298.3 L246.4,298.7 M234.8,298.3 L222.8,282.3 M227.0,362.4 L218.5,350.0 M237.2,348.2 L218.5,350.0 M204.9,288.3 L211.3,303.6 M234.8,298.3 L225.1,307.4 M225.1,307.4 L211.3,303.6 M190.9,303.9 L202.1,314.9 M211.3,303.6 L202.1,314.9 M186.4,324.1 L202.1,315.5 M202.1,315.5 L202.1,314.9 M240.2,332.3 L219.0,339.5 M218.5,350.0 L218.2,349.8 M219.0,339.5 L218.2,349.8 M207.6,354.9 L218.2,349.8 M229.0,321.8 L213.6,331.4 M229.0,321.8 L224.9,312.1 M224.9,312.1 L207.9,323.3 M207.9,323.3 L209.1,329.2 M209.1,329.2 L213.6,331.4 M219.0,339.5 L213.6,331.4 M240.6,330.0 L229.0,321.8 M225.1,307.4 L224.9,312.1 M202.1,315.5 L207.9,323.3 M196.5,338.8 L209.1,329.2 M244.1,152.7 L246.5,164.4 M246.5,164.4 L238.1,165.4 M236.9,171.0 L246.3,176.0 M246.5,164.4 L249.0,165.3 M246.3,176.0 L250.7,174.8 M243.0,189.2 L244.2,188.5 M243.0,189.2 L233.4,186.5 M244.2,188.5 L242.1,181.8 M234.9,180.1 L242.1,181.8 M232.2,192.1 L239.5,194.2 M239.5,194.2 L243.0,189.2 M245.6,188.9 L244.2,188.5 M253.8,184.0 L245.6,188.9 M246.3,176.0 L242.1,181.8 M248.7,260.0 L246.3,264.1 M248.7,260.0 L258.4,259.8 M258.4,259.8 L262.9,271.1 M262.9,271.1 L262.8,271.5 M246.3,264.1 L245.7,268.4 M218.1,257.0 L230.8,261.1 M230.8,261.1 L230.2,265.3 M218.6,254.7 L227.8,252.0 M230.8,261.1 L232.7,257.6 M227.8,252.0 L232.7,257.6 M246.3,264.1 L233.2,257.4 M247.5,255.2 L238.2,252.2 M248.7,260.0 L247.5,255.2 M238.2,252.2 L233.2,257.4 M233.2,257.4 L232.7,257.6 M276.3,273.8 L276.3,264.9 M282.2,274.8 L283.8,263.7 M276.3,264.9 L281.5,262.7 M283.8,263.7 L281.5,262.7 M271.2,262.9 L262.9,271.1 M271.2,262.9 L276.3,264.9 M288.9,263.6 L283.8,263.7 M279.4,250.3 L290.9,249.9 M279.4,250.3 L281.5,262.7 M267.4,244.3 L265.3,245.2 M267.4,244.3 L277.5,247.2 M265.3,245.2 L261.7,249.5 M269.9,257.6 L262.6,254.2 M269.9,257.6 L279.3,250.2 M261.7,249.5 L262.6,254.2 M279.3,250.2 L277.5,247.2 M270.7,231.6 L267.4,244.3 M270.3,230.5 L257.0,232.9 M257.0,232.9 L265.3,245.2 M280.9,233.1 L277.5,247.2 M254.3,232.3 L253.7,233.1 M254.3,232.3 L257.0,232.9 M253.7,233.1 L253.2,246.8 M253.2,246.8 L261.7,249.5 M258.4,259.8 L262.6,254.2 M271.2,262.9 L269.9,257.6 M279.4,250.3 L279.3,250.2 M253.2,246.8 L250.3,248.2 M247.5,255.2 L250.3,248.2 M239.0,241.2 L239.0,240.1 M239.0,241.2 L237.6,243.9 M237.6,243.9 L228.1,247.6 M237.9,238.6 L222.4,237.7 M237.9,238.6 L239.0,240.1 M221.6,241.1 L228.1,247.6 M253.7,233.1 L239.0,240.1 M250.3,248.2 L239.0,241.2 M238.2,252.2 L237.6,243.9 M227.8,252.0 L228.1,247.6 M224.5,226.9 L236.6,228.1 M236.6,228.1 L237.9,238.6 M232.1,200.5 L239.6,196.2 M233.4,203.3 L243.2,201.0 M239.6,196.2 L243.2,201.0 M239.5,194.2 L239.6,196.2 M243.9,201.5 L244.6,204.3 M242.9,207.4 L244.6,204.3 M243.9,201.5 L243.2,201.0 M242.9,207.4 L234.8,206.5 M249.6,195.9 L243.9,201.5 M245.6,188.9 L249.6,195.9 M257.0,197.3 L252.0,206.2 M257.0,197.3 L259.5,196.5 M265.3,214.2 L259.5,215.7 M252.0,206.2 L255.5,214.2 M259.5,215.7 L255.5,214.2 M249.6,195.9 L257.0,197.3 M244.6,204.3 L252.0,206.2 M253.9,231.3 L259.5,215.7 M254.3,232.3 L253.9,231.3 M243.0,211.6 L247.6,216.0 M243.0,211.6 L234.6,215.4 M247.6,216.0 L243.5,224.3 M234.6,215.4 L239.3,225.1 M239.3,225.1 L243.5,224.3 M242.9,207.4 L243.0,211.6 M255.5,214.2 L247.6,216.0 M230.7,213.4 L234.6,215.4 M253.9,231.3 L243.5,224.3 M236.6,228.1 L239.3,225.1 M259.3,155.8 L260.0,165.8 M249.6,162.7 L260.0,165.8 M268.7,226.2 L274.3,225.5 M274.3,225.5 L278.1,233.0 M271.9,206.1 L273.4,204.9 M271.9,206.1 L272.4,215.6 M273.4,204.9 L285.6,211.0 M272.4,215.6 L277.3,218.7 M277.3,218.7 L285.6,211.8 M285.6,211.8 L285.6,211.0 M266.6,219.3 L272.4,215.6 M258.8,206.2 L271.9,206.1 M274.3,225.5 L277.9,221.3 M277.9,221.3 L277.3,218.7 M285.6,211.8 L289.1,217.3 M277.9,221.3 L283.7,225.0 M289.1,217.3 L283.7,225.0 M281.5,233.2 L284.2,226.5 M284.2,226.5 L283.7,225.0 M373.8,235.0 L364.3,225.9 M364.3,225.9 L362.5,226.6 M358.9,235.2 L362.5,226.6 M364.3,225.9 L366.5,222.6 M374.7,222.2 L366.5,222.6 M335.3,232.5 L338.5,226.7 M351.7,234.4 L350.1,228.1 M338.5,226.7 L350.1,228.1 M362.5,226.6 L353.1,221.2 M350.1,228.1 L353.1,221.2 M377.3,188.4 L373.9,188.9 M376.2,171.9 L359.3,181.2 M359.3,181.2 L359.4,182.0 M373.9,188.9 L359.4,182.0 M257.8,191.7 L268.8,187.3 M273.4,204.9 L275.5,198.0 M275.5,198.0 L270.3,187.8 M268.8,187.3 L270.3,187.8 M285.6,211.0 L289.5,206.3 M275.5,198.0 L287.5,197.2 M287.5,197.2 L289.5,206.3 M289.1,217.3 L295.4,219.9 M284.2,226.5 L294.3,228.0 M295.7,228.0 L295.4,219.9 M289.5,206.3 L301.0,207.9 M301.0,207.9 L302.8,213.6 M302.8,213.6 L295.4,219.9 M354.4,173.0 L342.2,180.1 M354.4,173.0 L354.6,169.6 M342.2,180.1 L336.6,169.6 M336.9,167.7 L336.6,169.6 M359.3,181.2 L354.4,173.0 M250.0,177.4 L261.6,171.3 M268.8,187.3 L265.8,174.1 M265.8,174.1 L261.6,171.3 M260.0,165.8 L261.0,167.1 M261.0,167.1 L261.6,171.3 M302.8,213.6 L309.2,217.0 M309.2,217.0 L310.8,229.7 M375.5,212.1 L364.4,214.2 M376.0,205.2 L363.4,201.7 M363.4,201.7 L362.8,213.1 M364.4,214.2 L362.8,213.1 M366.5,222.6 L364.4,214.2 M373.9,188.9 L362.1,199.8 M362.1,199.8 L363.4,201.7 M359.4,182.0 L355.0,190.1 M362.1,199.8 L359.3,198.7 M355.0,190.1 L359.3,198.7 M265.8,174.1 L276.8,168.7 M261.0,167.1 L271.8,158.2 M278.4,159.3 L276.8,168.7 M355.0,190.1 L345.7,190.1 M342.2,180.1 L341.8,181.2 M345.7,190.1 L341.8,181.2 M329.4,176.1 L336.6,169.6 M329.4,176.1 L334.5,182.9 M341.8,181.2 L334.5,182.9 M327.7,176.1 L323.0,184.9 M329.4,176.1 L327.7,176.1 M323.0,184.9 L332.1,186.2 M334.5,182.9 L332.1,186.2 M309.2,217.0 L321.0,210.1 M322.7,231.1 L325.7,216.3 M325.7,216.3 L321.0,210.1 M287.5,197.2 L291.4,191.6 M270.3,187.8 L282.1,181.9 M291.4,191.6 L282.1,181.9 M290.7,161.3 L291.9,173.4 M276.8,168.7 L283.3,177.6 M291.9,173.4 L283.3,177.6 M282.1,181.9 L283.3,177.6 M312.1,187.5 L300.5,183.6 M312.1,187.5 L311.0,198.4 M304.1,200.8 L294.6,191.0 M304.1,200.8 L311.0,198.4 M294.6,191.0 L300.5,183.6 M301.0,207.9 L304.1,200.8 M291.4,191.6 L294.6,191.0 M299.6,176.7 L300.5,183.6 M299.6,176.7 L291.9,173.4 M321.7,171.0 L315.4,176.9 M321.7,171.0 L321.9,166.0 M315.4,176.9 L305.6,171.0 M306.6,163.9 L305.6,171.0 M327.7,176.1 L321.7,171.0 M320.9,185.8 L316.0,184.6 M323.0,184.9 L320.9,185.8 M316.0,184.6 L315.4,176.9 M316.0,184.6 L312.1,187.5 M299.6,176.7 L305.6,171.0 M311.0,198.4 L320.4,204.1 M320.9,185.8 L325.1,196.1 M325.1,196.1 L320.4,204.1 M332.1,186.2 L333.5,193.7 M325.1,196.1 L333.5,193.7 M345.7,190.1 L339.9,197.2 M333.5,193.7 L339.9,197.2 M321.0,210.1 L321.3,206.6 M320.4,204.1 L321.3,206.6 M338.5,226.7 L338.7,220.4 M353.1,221.2 L352.7,219.7 M352.7,219.7 L338.7,220.4 M362.8,213.1 L353.8,215.6 M352.7,219.7 L353.8,215.6 M325.7,216.3 L336.9,217.0 M338.7,220.4 L336.9,217.0 M340.1,198.7 L336.8,204.1 M340.1,198.7 L350.2,205.3 M336.8,204.1 L338.4,213.7 M338.4,213.7 L350.1,210.1 M350.2,205.3 L350.1,210.1 M321.3,206.6 L336.8,204.1 M339.9,197.2 L340.1,198.7 M359.3,198.7 L350.2,205.3 M336.9,217.0 L338.4,213.7 M353.8,215.6 L350.1,210.1 M315.7,246.8 L311.3,255.6 M315.7,246.8 L305.5,239.9 M311.3,255.6 L291.5,249.4 M305.5,239.9 L291.5,249.4 M311.8,259.3 L311.3,255.6 M299.8,269.4 L311.8,259.3 M288.6,265.1 L299.8,269.4 M291.0,249.5 L291.5,249.4 M304.6,229.0 L305.5,239.9 M315.7,246.8 L317.5,245.9 M317.5,245.9 L320.9,230.9 M344.1,241.2 L333.1,243.8 M344.1,241.2 L347.6,245.6 M347.6,245.6 L341.6,255.3 M341.6,255.3 L331.4,247.1 M331.4,247.1 L333.1,243.8 M345.0,233.6 L344.1,241.2 M331.2,232.1 L333.1,243.8 M361.2,235.5 L360.0,238.8 M360.0,238.8 L351.5,245.9 M351.5,245.9 L347.6,245.6 M327.5,248.8 L317.5,245.9 M327.5,248.8 L331.4,247.1 M369.7,289.2 L356.1,280.8 M345.4,298.6 L345.3,286.4 M356.1,280.8 L345.3,286.4 M299.8,269.4 L304.5,278.1 M304.5,278.1 L297.2,293.2 M360.0,238.8 L365.0,254.3 M351.5,245.9 L356.3,255.3 M356.3,255.3 L365.0,254.3 M356.1,280.8 L356.8,271.3 M356.8,271.3 L371.5,265.5 M372.1,257.5 L365.0,254.3 M341.6,255.3 L341.6,255.4 M356.3,255.3 L350.4,261.6 M341.6,255.4 L350.4,261.6 M356.8,271.3 L350.8,265.9 M350.4,261.6 L350.8,265.9 M317.2,278.2 L322.9,287.8 M317.2,278.2 L321.8,267.2 M322.9,287.8 L338.2,280.7 M321.8,267.2 L327.2,265.5 M338.2,280.7 L337.6,273.3 M337.6,273.3 L331.2,266.6 M327.2,265.5 L331.2,266.6 M304.5,278.1 L317.2,278.2 M321.4,296.1 L322.9,287.8 M311.8,259.3 L321.8,267.2 M345.3,286.4 L338.2,280.7 M327.5,248.8 L327.2,265.5 M350.8,265.9 L337.6,273.3 M341.6,255.4 L331.2,266.6 M247.7,291.9 L256.5,294.1 M270.9,272.9 L270.1,278.6 M256.5,294.1 L266.3,289.8 M293.0,292.6 L297.1,306.4 M306.8,308.2 L297.1,306.4 M244.1,311.1 L257.4,313.6 M256.5,294.1 L261.2,306.9 M261.2,306.9 L257.4,313.6 M286.3,293.7 L283.5,307.7 M286.3,293.7 L273.4,292.8 M273.4,292.8 L272.7,302.1 M272.7,303.0 L272.4,306.6 M283.5,307.7 L273.2,307.4 M273.2,307.4 L272.4,306.6 M289.2,292.1 L286.3,293.7 M271.6,291.2 L273.4,292.8 M261.2,306.9 L272.4,306.6 M238.5,341.1 L255.2,342.6 M254.2,351.1 L255.2,342.6 M239.8,334.1 L256.8,333.9 M256.8,333.9 L257.5,339.6 M255.2,342.6 L257.5,339.6 M267.1,329.0 L257.6,331.7 M267.1,329.0 L267.2,319.9 M267.2,319.9 L258.3,315.9 M258.3,315.9 L254.8,325.5 M257.6,331.7 L254.8,325.5 M257.4,313.6 L258.3,315.9 M272.5,317.2 L267.2,319.9 M272.5,317.2 L273.2,307.4 M241.7,323.8 L254.8,325.5 M256.8,333.9 L257.6,331.7 M266.4,342.7 L257.5,339.6 M266.4,342.7 L271.6,339.9 M267.1,329.0 L270.6,331.0 M270.6,331.0 L271.6,339.9 M280.0,321.9 L272.5,317.2 M280.0,321.9 L277.3,328.2 M270.6,331.0 L277.3,328.2 M283.5,307.7 L287.2,311.7 M297.1,306.4 L290.3,312.0 M287.2,311.7 L290.3,312.0 M280.0,321.9 L280.5,321.7 M287.2,311.7 L280.5,321.7 M305.1,321.2 L296.5,321.8 M290.3,312.0 L296.5,321.8 M266.4,342.7 L266.6,353.0 M293.6,357.3 L295.6,350.3 M301.4,350.0 L295.6,350.3 M294.1,324.9 L289.1,326.5 M294.1,324.9 L297.9,337.4 M289.1,326.5 L286.3,334.5 M286.3,334.5 L296.9,337.8 M297.9,337.4 L296.9,337.8 M280.5,321.7 L289.1,326.5 M296.5,321.8 L294.1,324.9 M303.0,338.0 L297.9,337.4 M277.3,328.2 L283.5,336.0 M283.5,336.0 L286.3,334.5 M295.6,350.3 L291.3,346.0 M291.3,346.0 L296.9,337.8 M284.2,355.8 L288.6,346.3 M276.3,354.6 L277.6,342.3 M288.6,346.3 L281.5,340.7 M277.6,342.3 L281.5,340.7 M291.3,346.0 L288.6,346.3 M271.6,339.9 L277.6,342.3 M283.5,336.0 L281.5,340.7 M268.4,415.1 L293.6,409.6 M268.4,415.1 L275.7,386.9 M275.7,386.9 L296.8,385.6 M232.9,361.3 L239.7,368.3 M241.3,349.0 L249.1,361.5 M249.1,361.5 L239.7,368.3 M269.3,353.5 L264.2,362.6 M249.1,361.5 L264.2,362.6 M275.7,386.9 L263.4,380.4 M264.2,362.6 L263.4,380.4 M219.4,410.0 L234.1,407.9 M237.9,431.5 L241.2,424.4 M234.1,407.9 L241.2,424.4 M290.5,433.7 L269.5,424.7 M269.5,424.7 L261.5,444.8 M267.2,416.3 L269.5,424.7 M267.2,416.3 L268.4,415.1 M259.9,414.2 L241.2,424.4 M267.2,416.3 L259.9,414.2 M239.7,368.3 L240.0,371.7 M224.6,383.4 L240.0,371.7 M238.8,399.3 L252.0,401.4 M238.8,399.3 L235.6,392.8 M235.6,392.8 L249.5,379.8 M252.0,401.4 L262.5,380.8 M262.5,380.8 L249.5,379.8 M259.9,414.2 L252.0,401.4 M234.1,407.9 L238.8,399.3 M225.6,386.5 L235.6,392.8 M240.0,371.7 L249.5,379.8 M263.4,380.4 L262.5,380.8 M338.7,379.8 L329.4,372.1 M338.7,379.8 L339.2,386.1 M339.2,386.1 L334.9,393.7 M318.6,387.4 L324.4,374.4 M318.6,387.4 L332.0,394.8 M332.0,394.8 L334.9,393.7 M329.4,372.1 L324.4,374.4 M350.0,372.1 L350.5,363.2 M331.7,361.4 L329.4,372.1 M350.0,372.1 L338.7,379.8 M310.3,359.3 L312.5,368.9 M312.5,368.9 L324.4,374.4 M312.5,368.9 L303.7,380.1 M318.6,387.4 L314.8,388.5 M303.7,380.1 L314.8,388.5 M325.5,409.6 L321.2,409.4 M325.5,409.6 L332.0,394.8 M314.8,388.5 L310.1,400.4 M310.1,400.4 L321.2,409.4 M375.7,388.5 L358.6,386.9 M376.4,379.3 L362.3,378.4 M358.6,386.9 L359.2,380.5 M362.3,378.4 L359.2,380.5 M367.3,364.9 L362.3,378.4 M350.0,372.1 L359.2,380.5 M339.2,386.1 L357.1,389.7 M357.1,389.7 L358.6,386.9 M372.5,434.0 L357.7,431.5 M358.3,444.8 L357.7,431.5 M296.7,435.2 L299.4,439.3 M296.7,435.2 L310.0,425.5 M299.4,439.3 L316.5,439.0 M310.0,425.5 L316.7,431.8 M316.7,431.8 L316.5,439.0 M307.3,420.7 L308.9,421.8 M308.9,421.8 L310.0,425.5 M290.6,432.8 L296.7,435.2 M292.0,422.3 L307.3,420.7 M318.5,444.8 L316.5,439.0 M299.6,450.0 L299.4,439.3 M321.2,409.4 L308.9,421.8 M325.9,410.0 L327.5,426.1 M325.5,409.6 L325.9,410.0 M327.5,426.1 L316.7,431.8 M327.5,426.1 L334.7,429.0 M338.7,443.1 L338.9,441.1 M334.7,429.0 L338.9,441.1 M303.0,411.2 L308.1,401.0 M303.0,411.2 L293.5,410.9 M308.1,401.0 L295.4,396.4 M310.1,400.4 L308.1,401.0 M307.3,420.7 L303.0,411.2 M303.7,380.1 L297.5,380.1 M357.4,393.3 L375.0,398.1 M357.4,393.3 L356.3,397.0 M356.3,397.0 L362.0,405.9 M374.6,403.8 L362.0,405.9 M357.1,389.7 L357.4,393.3 M334.9,393.7 L346.3,403.2 M346.3,403.2 L356.3,397.0 M338.9,441.1 L354.7,429.1 M357.7,431.5 L356.0,429.1 M356.0,429.1 L354.7,429.1 M334.7,429.0 L342.6,421.4 M354.7,429.1 L342.6,421.4 M325.9,410.0 L342.8,413.8 M342.6,421.4 L342.8,413.8 M346.3,403.2 L345.6,411.1 M342.8,413.8 L345.6,411.1 M373.2,423.2 L358.6,424.1 M373.7,416.1 L359.9,413.7 M358.6,424.1 L358.6,414.9 M359.9,413.7 L358.6,414.9 M356.0,429.1 L358.6,424.1 M362.0,405.9 L359.9,413.7 M345.6,411.1 L358.6,414.9 M374.0,352.7 L363.3,355.4 M374.0,352.7 L375.5,354.8 M375.5,354.8 L372.8,365.4 M363.3,355.4 L360.8,364.2 M385.3,366.3 L380.9,356.1 M380.9,356.1 L375.5,354.8 M380.9,356.1 L390.4,350.8 M309.2,353.3 L315.9,348.8 M309.2,353.3 L301.7,347.4 M315.9,348.8 L306.6,344.1 M301.9,346.3 L306.6,344.1 M316.7,348.7 L315.9,348.8 M316.7,348.7 L320.4,360.3 M308.6,359.2 L309.2,353.3 M309.6,322.4 L313.0,318.6 M309.6,322.4 L305.1,321.8 M313.0,318.6 L307.5,313.7 M306.1,313.6 L307.5,313.7 M317.0,311.7 L323.8,310.2 M317.0,311.7 L313.6,309.3 M323.8,310.2 L320.1,300.6 M320.1,300.6 L312.5,304.7 M312.5,304.7 L313.6,309.3 M307.5,313.7 L313.6,309.3 M315.0,318.4 L313.0,318.6 M315.0,318.4 L317.0,311.7 M307.6,302.4 L312.5,304.7 M321.5,296.1 L320.1,300.6 M388.0,315.1 L382.8,307.7 M392.2,315.5 L388.0,315.1 M382.8,307.7 L383.9,302.0 M338.5,308.8 L343.2,303.7 M338.5,308.8 L339.4,311.7 M339.4,311.7 L346.6,315.7 M343.2,303.7 L350.1,308.7 M350.1,308.7 L349.7,314.5 M349.7,314.5 L346.6,315.7 M343.1,298.4 L343.2,303.7 M331.0,297.1 L331.4,307.3 M331.4,307.3 L338.5,308.8 M343.9,320.8 L346.6,315.7 M335.9,318.4 L343.9,320.8 M335.9,318.4 L339.4,311.7 M357.2,303.9 L350.1,308.7 M357.4,299.8 L357.2,303.9 M330.5,337.3 L332.9,333.2 M325.1,337.2 L330.5,337.3 M325.1,337.2 L323.1,331.3 M323.1,331.3 L324.4,329.5 M324.4,329.5 L332.9,333.2 M344.5,335.8 L339.4,338.5 M340.4,328.7 L344.5,335.8 M340.4,328.7 L334.1,331.6 M339.4,338.5 L333.3,333.0 M334.1,331.6 L333.3,333.0 M357.8,346.7 L355.3,347.4 M357.8,346.7 L363.3,355.4 M349.5,363.1 L348.7,355.7 M355.3,347.4 L348.7,355.7 M309.6,322.4 L311.7,328.0 M304.1,329.3 L311.7,328.0 M309.4,339.7 L309.3,336.7 M309.4,339.7 L319.5,345.1 M317.5,337.3 L320.1,343.3 M317.5,337.3 L311.2,335.3 M311.2,335.3 L309.3,336.7 M320.1,343.3 L320.0,344.7 M319.5,345.1 L320.0,344.7 M306.6,344.1 L309.4,339.7 M303.5,334.2 L309.3,336.7 M316.7,348.7 L319.5,345.1 M319.5,332.3 L317.5,337.3 M323.1,331.3 L319.5,332.3 M325.1,337.2 L320.1,343.3 M314.1,328.6 L319.5,332.3 M313.0,328.8 L311.2,335.3 M314.1,328.6 L313.0,328.8 M311.7,328.0 L313.0,328.8 M327.8,361.0 L327.1,347.2 M327.1,347.2 L320.0,344.7 M338.4,341.4 L331.6,341.8 M338.4,341.4 L340.9,347.2 M340.9,347.2 L339.9,350.2 M329.3,346.4 L331.6,341.8 M329.3,346.4 L338.8,350.8 M338.8,350.8 L339.9,350.2 M333.3,333.0 L332.9,333.2 M330.5,337.3 L331.6,341.8 M339.4,338.5 L338.4,341.4 M347.7,343.3 L340.9,347.2 M346.6,336.3 L347.7,343.3 M344.5,335.8 L346.6,336.3 M355.3,347.4 L347.7,343.3 M348.7,355.7 L339.9,350.2 M327.1,347.2 L329.3,346.4 M332.9,361.5 L338.8,350.8 M357.8,346.7 L357.9,346.5 M374.0,352.7 L374.1,350.4 M357.9,346.5 L368.1,342.3 M368.1,342.3 L374.1,350.4 M390.6,346.6 L381.7,343.4 M374.1,350.4 L381.7,343.4 M334.1,331.6 L330.8,322.7 M340.4,328.7 L340.7,327.9 M340.7,327.9 L333.5,320.4 M330.8,322.7 L333.5,320.4 M335.9,318.4 L333.8,319.5 M344.5,324.7 L343.9,320.8 M340.7,327.9 L344.5,324.7 M333.8,319.5 L333.5,320.4 M331.4,307.3 L327.6,310.5 M333.8,319.5 L327.6,310.5 M323.8,310.2 L325.0,310.8 M327.6,310.5 L325.0,310.8 M374.1,311.2 L371.0,305.3 M374.1,311.2 L373.9,312.7 M373.9,312.7 L370.7,315.9 M371.0,305.3 L361.2,308.9 M370.7,315.9 L365.7,316.3 M365.7,316.3 L361.3,311.5 M361.3,311.5 L361.2,308.9 M382.8,307.7 L374.1,311.2 M371.5,301.2 L371.0,305.3 M388.0,315.1 L382.0,319.0 M382.0,319.0 L373.9,312.7 M357.2,303.9 L361.2,308.9 M363.4,320.8 L354.9,320.6 M353.7,317.1 L354.9,320.6 M353.7,317.1 L361.3,311.5 M363.4,320.8 L365.7,316.3 M353.7,317.1 L349.7,314.5 M369.7,337.4 L378.8,336.6 M369.7,337.4 L365.4,330.6 M366.1,329.2 L365.4,330.6 M366.1,329.2 L373.3,324.9 M373.3,324.9 L379.9,326.1 M378.8,336.6 L382.6,330.1 M382.6,330.1 L379.9,326.1 M368.1,342.3 L369.7,337.4 M381.7,343.4 L378.8,336.6 M370.7,315.9 L373.3,324.9 M363.4,320.8 L366.1,329.2 M382.0,319.0 L379.9,326.1 M391.4,330.7 L382.6,330.1 M356.6,336.0 L364.4,330.8 M356.6,336.0 L351.2,333.5 M364.4,330.8 L353.9,324.3 M351.2,333.5 L351.0,326.8 M351.0,326.8 L353.9,324.3 M357.9,346.5 L356.6,336.0 M365.4,330.6 L364.4,330.8 M346.6,336.3 L351.2,333.5 M354.9,320.6 L353.9,324.3 M344.5,324.7 L351.0,326.8 M324.5,328.3 L328.1,323.2 M324.5,328.3 L318.1,323.8 M328.1,323.2 L323.3,318.9 M323.3,318.9 L318.1,320.9 M318.1,323.8 L318.1,320.9 M324.4,329.5 L324.5,328.3 M330.8,322.7 L328.1,323.2 M314.1,328.6 L318.1,323.8 M325.0,310.8 L323.3,318.9 M315.0,318.4 L318.1,320.9 M495.8,375.4 L494.2,379.8 M485.7,382.4 L494.2,379.8 M510.3,374.7 L510.8,379.0 M520.4,374.2 L520.7,376.5 M510.8,379.0 L515.5,381.6 M520.7,376.5 L519.2,380.2 M519.2,380.2 L515.5,381.6 M486.1,385.0 L491.2,386.9 M494.2,379.8 L495.2,384.0 M495.2,384.0 L491.2,386.9 M503.3,383.2 L501.0,386.3 M503.3,383.2 L507.6,382.9 M501.0,386.3 L505.1,391.9 M507.6,382.9 L510.7,389.0 M510.7,389.0 L505.1,391.9 M499.8,375.2 L503.3,383.2 M495.2,384.0 L499.2,386.6 M499.2,386.6 L501.0,386.3 M510.8,379.0 L507.6,382.9 M547.6,387.5 L541.3,385.9 M544.5,393.5 L540.7,391.9 M541.3,385.9 L540.7,391.9 M542.4,381.1 L540.6,384.9 M541.3,385.9 L540.6,384.9 M540.9,377.6 L536.7,378.3 M534.2,373.5 L534.3,376.2 M536.7,378.3 L534.3,376.2 M510.7,389.0 L511.2,389.1 M515.5,381.6 L515.3,386.7 M515.3,386.7 L511.2,389.1 M515.3,386.7 L519.9,388.7 M511.2,389.1 L513.7,394.5 M517.0,394.9 L513.7,394.5 M517.0,394.9 L520.1,389.4 M519.9,388.7 L520.1,389.4 M519.2,380.2 L522.6,384.3 M519.9,388.7 L522.6,384.3 M504.5,394.0 L505.1,391.9 M504.5,394.0 L499.2,395.2 M499.2,386.6 L496.2,392.0 M496.2,392.0 L499.2,395.2 M536.7,378.3 L535.9,381.2 M540.6,384.9 L538.5,384.9 M538.5,384.9 L535.9,381.2 M536.5,386.3 L538.5,384.9 M540.7,391.9 L537.9,393.0 M536.5,386.3 L535.1,392.1 M535.1,392.1 L537.9,393.0 M541.8,401.1 L539.0,399.9 M537.9,393.0 L539.0,399.9 M523.1,424.3 L525.2,420.9 M524.8,430.3 L523.1,424.3 M525.2,420.9 L532.0,420.5 M517.0,394.9 L519.4,397.7 M519.4,397.7 L524.8,395.1 M525.5,392.2 L520.1,389.4 M525.5,392.2 L525.6,393.5 M525.6,393.5 L524.8,395.1 M501.8,402.5 L500.3,404.0 M501.8,402.5 L498.9,396.0 M498.9,396.0 L494.3,400.3 M494.3,400.3 L499.8,404.0 M499.8,404.0 L500.3,404.0 M505.2,395.2 L510.5,398.2 M505.2,395.2 L502.7,402.2 M502.7,402.2 L507.1,403.1 M507.1,403.1 L510.6,400.1 M510.5,398.2 L510.6,400.1 M513.7,394.5 L510.5,398.2 M504.5,394.0 L505.2,395.2 M499.2,395.2 L498.9,396.0 M501.8,402.5 L502.7,402.2 M492.0,390.5 L495.4,392.1 M492.0,390.5 L487.6,393.4 M495.4,392.1 L491.4,398.2 M487.6,397.5 L491.4,398.2 M491.2,386.9 L492.0,390.5 M496.2,392.0 L495.4,392.1 M493.7,400.2 L494.3,400.3 M493.7,400.2 L491.4,398.2 M534.3,376.2 L531.4,378.5 M535.9,381.2 L532.4,381.9 M532.4,381.9 L531.4,378.5 M528.3,373.8 L528.4,377.8 M531.4,378.5 L528.4,377.8 M520.7,376.5 L526.8,379.2 M526.8,379.2 L528.4,377.8 M534.5,392.3 L531.8,396.2 M534.5,392.3 L535.1,392.1 M539.0,399.9 L536.7,400.3 M531.8,396.2 L531.9,397.1 M536.7,400.3 L531.9,397.1 M516.5,423.0 L515.0,424.1 M523.1,424.3 L516.5,423.0 M515.0,424.1 L513.8,430.7 M510.3,430.9 L506.4,425.7 M501.3,431.2 L501.3,430.1 M501.3,430.1 L506.4,425.7 M508.6,421.2 L506.3,423.3 M508.6,421.2 L515.0,424.1 M506.4,425.7 L506.3,423.3 M499.8,404.0 L496.0,408.4 M493.7,400.2 L490.8,407.8 M496.0,408.4 L490.8,407.8 M487.6,409.2 L490.8,407.8 M500.1,414.8 L499.4,414.5 M500.1,414.8 L500.8,414.5 M496.0,408.4 L499.4,414.5 M500.3,404.0 L504.2,410.2 M504.2,410.2 L500.8,414.5 M534.9,412.3 L532.4,410.5 M532.0,417.6 L528.6,413.4 M528.6,413.4 L532.4,410.5 M525.2,420.9 L523.1,416.1 M523.1,416.1 L527.8,413.2 M528.6,413.4 L527.8,413.2 M516.5,423.0 L516.8,418.1 M523.1,416.1 L522.2,415.6 M516.8,418.1 L522.2,415.6 M532.0,385.2 L531.4,383.7 M532.0,385.2 L530.5,389.1 M531.4,383.7 L526.6,382.9 M530.5,389.1 L527.6,389.6 M527.6,389.6 L525.5,384.0 M525.5,384.0 L526.6,382.9 M536.5,386.3 L532.0,385.2 M532.4,381.9 L531.4,383.7 M534.5,392.3 L530.5,389.1 M526.8,379.2 L526.6,382.9 M531.8,396.2 L525.6,393.5 M525.5,392.2 L527.6,389.6 M522.6,384.3 L525.5,384.0 M501.2,420.8 L503.0,422.5 M501.2,420.8 L496.9,423.5 M503.0,422.5 L499.5,427.1 M496.9,423.5 L497.9,426.5 M497.9,426.5 L499.5,427.1 M500.0,416.4 L500.1,414.8 M508.6,421.2 L508.7,417.9 M506.3,423.3 L503.0,422.5 M500.8,414.5 L508.7,417.9 M500.0,416.4 L501.2,420.8 M494.5,422.0 L500.0,416.4 M494.5,422.0 L496.9,423.5 M501.3,430.1 L499.5,427.1 M493.8,428.8 L497.9,426.5 M492.2,415.1 L494.0,415.7 M492.2,415.1 L488.0,421.8 M494.0,415.7 L493.6,422.0 M492.0,422.7 L493.6,422.0 M487.6,410.1 L492.2,415.1 M499.4,414.5 L494.0,415.7 M494.5,422.0 L493.6,422.0 M538.2,407.6 L534.3,405.8 M532.4,410.5 L532.1,408.9 M532.1,408.9 L534.3,405.8 M536.7,400.3 L533.8,404.4 M534.3,405.8 L533.8,404.4 M504.2,410.2 L508.1,409.3 M508.7,417.9 L510.9,415.2 M510.9,415.2 L508.1,409.3 M516.8,418.1 L513.6,415.1 M510.9,415.2 L513.6,415.1 M507.1,403.1 L508.4,408.9 M508.4,408.9 L508.1,409.3 M532.1,408.9 L527.6,407.4 M533.8,404.4 L530.3,403.0 M527.6,407.4 L530.3,403.0 M524.8,395.1 L526.7,400.6 M519.4,397.7 L519.4,398.5 M519.4,398.5 L524.5,402.0 M524.5,402.0 L526.7,400.6 M531.9,397.1 L529.2,400.9 M526.7,400.6 L529.2,400.9 M529.2,400.9 L530.3,403.0 M513.6,415.1 L516.6,410.3 M508.4,408.9 L513.7,407.1 M516.6,410.3 L513.7,407.1 M510.6,400.1 L514.6,403.1 M513.7,407.1 L514.6,403.1 M519.4,398.5 L517.1,402.3 M514.6,403.1 L517.1,402.3 M520.9,411.9 L518.8,410.3 M520.9,411.9 L526.3,408.2 M518.8,410.3 L520.7,405.6 M520.7,405.6 L523.6,405.1 M523.6,405.1 L526.3,407.9 M526.3,408.2 L526.3,407.9 M522.2,415.6 L520.9,411.9 M516.6,410.3 L518.8,410.3 M527.8,413.2 L526.3,408.2 M517.1,402.3 L520.7,405.6 M524.5,402.0 L523.6,405.1 M527.6,407.4 L526.3,407.9 M494.0,436.9 L503.1,439.4 M503.8,431.1 L503.4,439.1 M503.1,439.4 L503.4,439.1 M515.3,476.4 L508.2,474.9 M515.3,476.4 L513.3,485.6 M508.4,484.2 L506.9,476.2 M508.2,474.9 L506.9,476.2 M533.4,434.0 L526.9,436.2 M535.7,439.1 L527.6,441.8 M526.9,436.2 L526.5,440.6 M526.5,440.6 L527.6,441.8 M523.9,430.3 L524.2,433.2 M524.2,433.2 L526.9,436.2 M505.6,453.0 L506.5,450.8 M505.6,453.0 L498.5,456.6 M506.5,450.8 L500.7,445.8 M500.7,445.8 L494.4,447.5 M503.1,439.4 L500.7,445.8 M527.6,441.8 L527.8,444.5 M524.6,447.8 L527.8,444.5 M524.6,447.8 L519.2,446.4 M526.5,440.6 L522.0,440.7 M519.2,446.4 L522.0,440.7 M524.2,433.2 L519.3,437.5 M522.0,440.7 L519.3,437.5 M525.2,461.2 L523.3,458.1 M523.3,458.1 L525.2,455.7 M525.2,461.2 L528.7,460.2 M525.2,455.7 L529.5,457.4 M528.3,467.1 L528.8,469.3 M528.3,467.1 L523.9,464.1 M528.8,469.3 L526.0,472.4 M520.0,467.6 L521.3,464.8 M520.0,467.6 L524.0,472.4 M526.0,472.4 L524.0,472.4 M523.9,464.1 L521.3,464.8 M525.2,461.2 L523.9,464.1 M531.2,462.3 L528.3,467.1 M516.0,468.8 L520.0,467.6 M516.2,475.9 L516.0,468.8 M516.2,475.9 L519.7,476.5 M519.7,476.5 L524.0,472.4 M526.0,472.4 L529.3,478.3 M519.7,476.5 L523.3,483.0 M529.3,478.3 L523.3,483.0 M533.7,470.2 L528.8,469.3 M534.9,472.0 L533.7,470.2 M534.5,475.7 L530.7,478.5 M534.9,472.0 L534.5,475.7 M529.3,478.3 L530.7,478.5 M565.4,488.3 L561.1,490.5 M561.8,485.5 L559.4,488.9 M508.2,474.9 L508.2,471.7 M515.3,476.4 L516.2,475.9 M516.0,468.8 L513.5,467.3 M513.5,467.3 L508.2,471.7 M506.9,476.2 L500.1,476.5 M500.9,465.1 L502.5,465.1 M502.5,465.1 L508.2,471.7 M524.6,452.8 L525.2,455.7 M524.6,452.8 L519.1,453.4 M523.3,458.1 L521.3,458.1 M521.3,458.1 L519.1,453.4 M511.0,434.8 L509.9,437.4 M511.0,434.8 L516.7,435.5 M509.9,437.4 L512.4,439.8 M512.4,439.8 L516.5,438.7 M516.5,438.7 L517.7,437.3 M516.7,435.5 L517.7,437.3 M509.8,430.9 L511.0,434.8 M503.4,439.1 L504.9,439.4 M504.9,439.4 L509.9,437.4 M517.2,430.6 L516.7,435.5 M519.3,437.5 L517.7,437.3 M504.9,439.4 L509.4,444.6 M512.4,439.8 L512.0,442.7 M512.0,442.7 L509.4,444.6 M516.5,438.7 L516.5,444.3 M512.0,442.7 L516.5,444.3 M533.7,470.2 L536.3,465.1 M536.3,465.1 L535.2,462.0 M524.6,452.8 L525.5,451.2 M525.5,451.2 L531.2,451.9 M527.8,444.5 L533.1,447.9 M524.6,447.8 L525.5,451.2 M534.5,475.7 L539.9,478.7 M534.9,472.0 L541.4,471.3 M541.4,471.3 L541.5,477.1 M541.5,477.1 L539.9,478.7 M530.7,478.5 L533.6,483.7 M533.6,483.7 L539.4,482.0 M539.4,482.0 L539.8,481.3 M539.9,478.7 L539.8,481.3 M539.4,482.0 L540.6,485.6 M533.6,483.7 L532.5,486.7 M540.6,485.6 L537.3,491.1 M523.3,483.0 L523.3,483.1 M548.2,476.8 L548.0,477.3 M555.6,471.2 L551.0,471.9 M557.3,474.4 L552.4,480.7 M548.0,477.3 L549.0,480.1 M552.4,480.7 L549.0,480.1 M548.0,477.3 L541.5,477.1 M539.8,481.3 L547.5,482.8 M549.0,480.1 L547.5,482.8 M513.5,467.3 L512.9,465.4 M502.5,465.1 L505.2,463.7 M512.9,465.4 L505.2,463.7 M505.6,453.0 L508.4,458.4 M508.4,458.4 L505.2,463.7 M518.7,446.6 L517.5,445.8 M518.7,446.6 L517.8,449.8 M517.5,445.8 L509.0,448.2 M517.8,449.8 L510.6,451.0 M510.6,451.0 L508.2,449.9 M508.2,449.9 L509.0,448.2 M519.2,446.4 L518.7,446.6 M516.5,444.3 L517.5,445.8 M518.5,453.1 L519.1,453.4 M518.5,453.1 L517.8,449.8 M509.4,444.6 L509.0,448.2 M506.5,450.8 L508.2,449.9 M542.0,470.5 L548.0,470.5 M542.0,470.5 L540.9,467.0 M540.9,467.0 L544.8,461.4 M548.0,470.5 L547.5,461.2 M549.6,471.8 L548.0,470.5 M541.4,471.3 L542.0,470.5 M536.3,465.1 L540.9,467.0 M553.6,481.8 L554.1,485.0 M553.6,481.8 L558.2,481.0 M554.1,485.0 L556.8,485.5 M559.1,483.0 L556.8,485.5 M552.4,480.7 L553.6,481.8 M558.2,488.5 L556.8,485.5 M544.9,487.3 L544.9,489.5 M544.9,487.3 L547.5,484.8 M547.5,484.8 L551.1,487.3 M540.6,485.6 L544.9,487.3 M547.5,482.8 L547.5,484.8 M554.1,485.0 L553.4,485.9 M513.7,462.9 L511.6,458.8 M513.7,462.9 L518.6,461.0 M518.6,461.0 L518.6,460.9 M518.6,460.9 L515.3,455.8 M511.6,458.8 L514.5,455.9 M514.5,455.9 L515.3,455.8 M512.9,465.4 L513.7,462.9 M508.4,458.4 L511.6,458.8 M521.3,464.8 L518.6,461.0 M521.3,458.1 L518.6,460.9 M518.5,453.1 L515.3,455.8 M510.6,451.0 L514.5,455.9 M562.2,216.3 L555.3,216.7 M562.2,216.3 L565.5,222.9 M555.3,216.7 L552.5,221.7 M537.9,206.8 L542.3,215.1 M541.6,218.2 L542.3,215.1 M557.4,206.0 L553.6,212.8 M550.8,204.1 L547.8,206.0 M547.8,206.0 L548.5,210.7 M553.6,212.8 L548.5,210.7 M562.2,216.3 L564.2,213.2 M555.3,216.7 L553.6,212.8 M564.3,209.8 L564.2,213.2 M543.6,203.5 L547.8,206.0 M542.3,215.1 L548.5,210.7 M564.2,213.2 L572.9,215.4 M572.6,208.2 L572.9,215.4 M581.7,214.6 L579.9,210.6 M573.9,217.8 L573.3,215.9 M579.9,210.6 L573.3,215.9 M572.9,215.4 L573.3,215.9 M579.5,209.4 L579.9,210.2 M579.5,209.4 L584.8,203.7 M579.9,210.2 L587.8,209.3 M589.4,205.1 L587.8,209.3 M575.8,206.0 L579.5,209.4 M579.9,210.6 L579.9,210.2 M588.5,215.9 L587.8,209.3 M593.1,346.0 L591.7,341.8 M593.1,346.0 L596.7,345.9 M591.8,341.7 L597.3,342.1 M597.3,342.1 L597.7,342.6 M596.7,345.9 L597.6,344.8 M597.7,342.6 L597.6,344.8 M630.6,358.7 L628.5,356.0 M635.7,353.7 L633.8,351.4 M633.8,351.4 L630.1,350.8 M628.5,356.0 L630.1,350.8 M579.5,354.1 L577.5,352.0 M579.5,354.1 L583.0,351.8 M577.5,352.0 L578.4,348.7 M583.0,351.8 L582.5,348.0 M586.3,354.3 L589.2,351.8 M588.5,348.4 L589.2,351.8 M586.3,354.3 L583.0,351.8 M588.5,348.4 L586.3,346.5 M599.9,342.1 L597.7,342.6 M599.9,342.1 L602.0,343.8 M597.6,344.8 L601.4,346.2 M602.0,343.8 L601.4,346.2 M614.9,358.3 L614.7,360.2 M614.9,358.3 L608.9,358.5 M614.7,360.2 L610.7,362.1 M610.7,362.1 L608.3,358.9 M608.3,358.9 L608.9,358.5 M579.9,357.3 L582.3,361.4 M579.9,357.3 L586.2,356.1 M582.3,361.4 L587.4,358.7 M586.2,356.1 L587.4,358.7 M583.1,363.8 L582.3,361.5 M583.1,363.8 L579.5,366.4 M582.3,361.5 L578.1,363.0 M579.5,366.4 L578.1,363.0 M588.0,359.2 L587.4,358.7 M588.0,359.2 L588.3,361.8 M582.3,361.4 L582.3,361.5 M583.1,363.8 L585.7,365.7 M585.7,365.7 L588.3,361.8 M579.3,367.6 L579.5,366.4 M585.7,365.7 L585.9,366.8 M595.6,362.4 L600.3,359.0 M595.6,362.4 L595.0,365.8 M600.3,359.0 L600.5,359.0 M602.9,364.9 L600.7,359.2 M600.5,359.0 L600.7,359.2 M588.3,361.8 L593.7,366.0 M588.0,359.2 L592.5,358.2 M592.5,358.2 L595.6,362.4 M606.8,359.8 L600.7,359.2 M606.8,359.8 L605.7,364.6 M607.9,358.9 L608.3,358.9 M610.7,362.1 L610.6,364.1 M607.9,358.9 L606.8,359.8 M603.7,354.5 L600.5,359.0 M603.7,354.5 L605.4,354.9 M605.4,354.9 L607.9,358.9 M616.1,363.4 L614.7,360.2 M594.1,350.5 L592.4,352.7 M594.1,350.5 L596.7,350.0 M596.7,350.0 L598.7,352.7 M592.4,352.7 L593.8,355.3 M593.8,355.3 L597.3,355.3 M598.7,352.7 L597.3,355.3 M592.9,346.4 L588.5,348.4 M592.9,346.4 L594.1,350.5 M589.2,351.8 L592.4,352.7 M596.7,345.9 L597.4,348.5 M593.1,346.0 L592.9,346.4 M597.4,348.5 L596.7,350.0 M586.3,354.3 L586.2,356.1 M592.5,358.2 L593.8,355.3 M600.3,359.0 L597.3,355.3 M579.3,357.1 L577.2,362.5 M579.3,357.1 L579.2,356.9 M579.2,356.9 L575.8,357.0 M577.2,362.5 L575.6,362.6 M575.8,357.0 L575.5,357.3 M575.5,357.3 L574.5,361.6 M575.6,362.6 L574.6,361.7 M574.5,361.6 L574.6,361.7 M578.1,363.0 L577.2,362.5 M579.9,357.3 L579.3,357.1 M579.5,354.1 L579.2,356.9 M574.9,352.3 L577.5,352.0 M574.2,353.4 L574.9,352.3 M574.2,353.4 L575.8,357.0 M575.9,368.0 L574.7,365.2 M574.7,365.2 L575.6,362.6 M567.1,357.4 L571.3,357.0 M567.1,357.4 L568.1,360.4 M569.8,361.0 L568.1,360.4 M569.8,361.0 L571.4,359.9 M571.4,359.9 L571.5,357.2 M571.5,357.2 L571.3,357.0 M566.9,354.8 L571.0,353.9 M571.3,354.2 L571.0,353.9 M571.3,354.2 L571.3,357.0 M566.0,356.7 L567.1,357.4 M574.5,361.6 L571.4,359.9 M575.5,357.3 L571.5,357.2 M571.3,354.2 L574.2,353.4 M574.7,365.2 L571.7,365.7 M571.7,368.4 L571.7,365.7 M563.4,361.7 L564.0,362.5 M568.1,360.4 L565.7,362.8 M564.0,362.5 L565.7,362.8 M559.4,366.0 L563.1,365.1 M558.4,363.4 L559.4,366.0 M564.0,362.5 L563.1,365.1 M574.9,352.3 L573.9,350.6 M573.9,350.6 L575.1,347.8 M639.2,349.6 L637.2,347.7 M633.8,351.4 L635.0,348.4 M637.2,347.7 L635.0,348.4 M622.3,362.7 L621.4,358.8 M628.5,356.0 L625.5,355.4 M621.4,358.8 L625.5,355.4 M597.4,348.5 L600.9,348.5 M598.7,352.7 L602.0,351.7 M600.9,348.5 L602.0,351.7 M601.4,346.2 L601.5,346.6 M600.9,348.5 L601.5,346.6 M603.7,354.5 L602.4,351.9 M602.4,351.9 L602.0,351.7 M559.3,366.4 L560.5,368.5 M559.3,366.4 L555.7,368.3 M560.5,368.5 L559.7,371.6 M555.7,368.3 L557.2,371.8 M559.4,366.0 L559.3,366.4 M563.1,365.1 L564.5,367.8 M564.2,368.4 L564.5,367.8 M564.2,368.4 L560.5,368.5 M554.2,367.6 L555.7,368.3 M564.6,371.2 L564.2,368.4 M566.7,363.9 L566.8,367.0 M566.7,363.9 L570.4,364.0 M570.6,364.7 L567.9,367.5 M570.6,364.7 L570.4,364.1 M567.9,367.5 L566.8,367.0 M570.4,364.0 L570.4,364.1 M565.7,362.8 L566.7,363.9 M564.5,367.8 L566.8,367.0 M569.8,361.0 L570.4,364.0 M568.6,368.6 L567.9,367.5 M571.7,365.7 L570.6,364.7 M574.6,361.7 L570.4,364.1 M571.8,350.2 L570.9,348.0 M571.8,350.2 L570.3,351.9 M569.8,351.7 L570.3,351.9 M569.8,351.7 L568.2,349.5 M573.9,350.6 L571.8,350.2 M571.0,353.9 L570.3,351.9 M567.1,352.6 L569.8,351.7 M604.1,330.1 L606.9,329.1 M607.9,326.1 L606.9,329.1 M604.1,330.1 L603.8,329.9 M635.0,348.4 L633.0,346.3 M630.1,350.8 L630.0,350.7 M630.4,348.2 L630.0,350.7 M630.4,348.2 L632.8,346.3 M632.8,346.3 L633.0,346.3 M614.9,358.3 L615.0,358.2 M621.4,358.8 L620.7,358.3 M615.0,358.2 L620.7,358.3 M630.0,350.7 L624.7,349.4 M625.5,355.4 L623.6,352.0 M624.7,349.4 L623.6,352.0 M602.0,343.8 L603.0,343.3 M599.9,342.1 L601.5,339.3 M601.5,339.3 L601.5,339.3 M603.0,343.3 L603.2,341.2 M601.5,339.3 L603.2,341.2 M604.1,330.1 L605.1,333.6 M600.8,334.8 L599.8,331.2 M600.8,334.8 L603.9,335.0 M603.9,335.0 L605.1,333.6 M606.4,340.6 L603.2,341.2 M601.5,339.3 L604.1,337.5 M606.4,340.6 L606.9,339.4 M604.1,337.5 L606.9,339.4 M599.8,338.1 L599.8,335.8 M599.8,338.1 L597.3,339.1 M599.8,335.8 L596.7,335.0 M597.3,339.1 L595.3,337.7 M601.5,339.3 L599.8,338.1 M603.9,335.0 L604.1,337.5 M600.8,334.8 L599.8,335.8 M597.3,342.1 L597.3,339.1 M603.0,343.3 L604.6,343.8 M606.4,340.6 L606.5,342.2 M606.5,342.2 L604.6,343.8 M601.5,346.6 L605.6,347.0 M604.6,343.8 L605.6,347.0 M631.0,339.5 L633.0,341.5 M631.4,337.0 L631.0,339.5 M631.4,337.0 L634.8,336.0 M633.0,341.5 L633.9,341.6 M633.9,341.6 L636.7,338.6 M632.2,330.3 L629.0,334.8 M629.0,334.8 L631.4,337.0 M606.5,342.2 L608.4,344.0 M605.6,347.0 L606.4,347.6 M608.4,344.0 L606.4,347.6 M635.2,344.1 L635.3,343.6 M635.2,344.1 L637.4,346.8 M635.3,343.6 L639.2,342.5 M637.4,346.8 L639.3,345.0 M639.3,345.0 L639.2,342.5 M632.8,346.3 L631.2,343.9 M633.0,346.3 L635.2,344.1 M631.2,343.9 L633.0,341.5 M633.9,341.6 L635.3,343.6 M637.2,347.7 L637.4,346.8 M639.3,342.2 L639.2,342.5 M641.9,346.6 L639.3,345.0 M605.1,333.6 L608.3,334.3 M606.9,329.1 L610.5,331.0 M610.5,331.0 L610.5,332.0 M608.3,334.3 L610.5,332.0 M630.4,348.2 L628.3,345.5 M624.7,349.4 L624.4,348.3 M624.4,348.3 L624.4,348.1 M624.4,348.1 L625.8,346.1 M628.3,345.5 L625.8,346.1 M631.2,343.9 L629.2,344.0 M628.3,345.5 L629.2,344.0 M631.0,339.5 L628.0,341.0 M629.2,344.0 L628.0,341.0 M629.0,334.8 L626.9,334.8 M626.9,334.8 L626.2,328.2 M610.5,331.0 L612.2,328.1 M621.7,329.7 L621.6,331.2 M626.9,334.8 L626.7,334.9 M626.7,334.9 L624.0,334.6 M624.0,334.6 L621.6,331.2 M616.4,329.4 L616.0,332.6 M621.6,331.2 L618.6,334.2 M618.6,334.2 L616.0,332.6 M610.5,332.0 L613.9,333.8 M616.0,332.6 L613.9,333.8 M626.7,334.9 L626.0,339.1 M628.0,341.0 L627.1,340.7 M626.0,339.1 L627.1,340.7 M625.8,346.1 L624.9,343.2 M627.1,340.7 L624.9,343.2 M620.7,358.3 L619.4,353.0 M623.6,352.0 L619.5,352.7 M619.4,353.0 L619.5,352.7 M605.4,354.9 L608.6,352.6 M602.4,351.9 L606.5,348.8 M608.6,352.6 L606.5,348.8 M606.4,347.6 L606.6,348.2 M606.5,348.8 L606.6,348.2 M614.8,357.2 L616.2,353.8 M614.8,357.2 L610.8,354.2 M616.2,353.8 L614.0,351.4 M614.0,351.4 L611.9,351.7 M611.9,351.7 L610.5,353.0 M610.8,354.2 L610.5,353.0 M615.0,358.2 L614.8,357.2 M619.4,353.0 L616.2,353.8 M608.9,358.5 L610.8,354.2 M610.8,347.8 L606.6,348.2 M608.6,352.6 L610.5,353.0 M610.8,347.8 L611.9,351.7 M624.4,348.3 L618.9,348.3 M619.5,352.7 L618.5,349.2 M618.9,348.3 L618.5,349.2 M614.0,351.4 L615.1,349.6 M618.5,349.2 L615.1,349.6 M606.9,339.4 L608.6,338.6 M608.3,334.3 L609.2,337.6 M608.6,338.6 L609.2,337.6 M613.9,333.8 L613.7,337.3 M609.2,337.6 L613.7,337.3 M624.4,348.1 L620.7,343.9 M624.9,343.2 L622.3,342.6 M620.7,343.9 L622.3,342.6 M626.0,339.1 L622.3,339.5 M622.3,342.6 L622.3,339.5 M614.1,337.7 L613.6,341.4 M613.7,337.3 L614.1,337.7 M608.6,338.6 L611.2,342.4 M613.6,341.4 L611.2,342.4 M610.8,347.8 L612.0,346.4 M615.1,349.6 L613.8,346.6 M612.0,346.4 L613.8,346.6 M608.4,344.0 L610.7,343.6 M612.0,346.4 L610.7,343.6 M610.7,343.6 L611.2,342.4 M621.3,336.9 L618.9,335.3 M621.3,336.9 L621.4,338.6 M621.4,338.6 L618.2,340.1 M618.9,335.3 L616.3,337.9 M616.3,337.9 L618.2,340.1 M624.0,334.6 L621.3,336.9 M618.6,334.2 L618.9,335.3 M622.3,339.5 L621.4,338.6 M614.1,337.7 L616.3,337.9 M615.6,342.8 L615.5,345.2 M615.6,342.8 L618.0,341.7 M615.5,345.2 L618.6,346.6 M618.0,341.7 L620.5,343.9 M618.6,346.6 L620.5,343.9 M613.6,341.4 L615.6,342.8 M613.8,346.6 L615.5,345.2 M618.2,340.1 L618.0,341.7 M618.9,348.3 L618.6,346.6 M620.7,343.9 L620.5,343.9 M603.4,368.4 L603.0,364.9 M603.4,368.4 L600.1,370.9 M599.3,370.4 L600.1,370.9 M599.3,370.4 L598.0,365.5 M607.9,364.4 L608.5,368.5 M614.0,363.7 L612.0,368.6 M612.0,368.6 L608.5,368.5 M607.2,370.0 L603.4,368.4 M607.2,370.0 L608.5,368.5 M619.2,366.0 L615.8,363.5 M621.1,365.3 L619.2,366.0 M621.1,365.3 L621.0,362.9 M589.1,375.0 L594.1,373.0 M589.1,375.0 L587.8,372.1 M587.8,372.1 L591.1,366.3 M591.6,366.2 L594.5,371.7 M594.5,371.7 L594.1,373.0 M599.3,370.4 L594.5,371.7 M584.8,367.0 L584.2,370.7 M587.8,372.1 L584.6,371.2 M584.6,371.2 L584.2,370.7 M580.1,367.5 L580.4,368.8 M580.4,368.8 L583.9,370.7 M584.2,370.7 L583.9,370.7 M580.4,368.8 L579.2,370.9 M583.9,370.7 L580.3,372.4 M579.2,370.9 L580.3,372.4 M566.0,390.3 L565.7,395.2 M566.0,390.3 L565.8,390.0 M559.6,392.4 L561.0,395.6 M559.6,392.4 L561.2,389.8 M561.2,389.8 L565.8,390.0 M621.1,365.3 L622.1,366.0 M625.4,362.4 L623.9,365.7 M622.1,366.0 L623.9,365.7 M575.6,368.0 L575.6,369.0 M579.2,370.9 L576.7,370.9 M575.6,369.0 L576.7,370.9 M600.1,370.9 L600.9,372.9 M607.2,372.7 L605.8,373.6 M607.2,370.0 L607.2,372.7 M605.8,373.6 L600.9,372.9 M595.8,375.8 L594.1,373.0 M595.8,375.8 L600.1,375.3 M600.1,375.3 L600.9,372.9 M619.2,366.0 L617.7,369.8 M614.4,363.6 L617.4,369.8 M617.7,369.8 L617.4,369.8 M612.0,368.6 L614.6,371.6 M617.4,369.8 L614.6,371.6 M607.2,372.7 L610.0,374.4 M610.0,374.4 L614.1,373.1 M614.6,371.6 L614.1,373.1 M549.3,388.5 L550.8,390.7 M547.4,387.6 L549.3,388.5 M550.8,390.7 L545.5,396.9 M559.1,392.4 L553.8,395.7 M559.1,392.4 L555.2,390.0 M555.2,390.0 L552.5,391.5 M553.8,395.7 L552.5,391.5 M550.8,390.7 L552.5,391.5 M553.8,396.2 L553.8,395.7 M559.6,392.4 L559.1,392.4 M555.2,390.0 L556.1,387.4 M561.2,389.8 L560.2,387.6 M556.1,387.4 L560.2,387.6 M566.7,385.1 L565.8,390.0 M566.7,385.1 L561.2,384.3 M560.2,387.6 L561.2,384.3 M595.3,377.7 L594.2,378.5 M595.8,375.8 L595.3,377.7 M589.1,375.0 L589.0,375.5 M589.0,375.5 L591.6,378.5 M594.2,378.5 L591.6,378.5 M572.1,390.9 L572.7,394.5 M572.1,390.9 L573.4,388.6 M579.0,393.9 L578.1,389.3 M578.1,389.3 L573.4,388.6 M583.4,393.4 L583.3,388.7 M583.3,388.7 L579.9,387.6 M578.1,389.3 L579.9,387.6 M583.3,388.7 L584.8,387.9 M584.8,387.9 L585.4,384.6 M579.9,387.6 L579.5,383.8 M579.5,383.8 L583.0,382.7 M585.4,384.6 L583.0,382.7 M584.8,387.9 L588.4,389.5 M588.4,389.5 L588.7,392.8 M566.0,390.3 L572.1,390.9 M563.1,371.3 L563.1,373.8 M563.1,373.8 L567.6,377.1 M568.7,369.6 L570.0,371.6 M567.6,377.1 L570.0,371.6 M575.9,373.1 L576.1,372.9 M576.7,370.9 L576.1,372.9 M575.9,373.1 L572.3,373.0 M575.6,369.0 L571.1,372.0 M572.3,373.0 L571.1,372.0 M570.0,371.6 L571.1,372.0 M605.8,373.6 L604.5,378.8 M600.1,375.3 L601.2,377.8 M604.5,378.8 L601.2,377.8 M601.4,391.4 L601.6,384.5 M599.8,391.6 L596.9,386.6 M596.9,386.6 L600.5,384.2 M601.6,384.5 L600.5,384.2 M595.3,377.7 L598.7,380.3 M601.2,377.8 L598.7,380.3 M594.2,378.5 L594.6,382.7 M594.6,382.7 L598.6,381.3 M598.7,380.3 L598.6,381.3 M636.0,365.0 L636.1,369.5 M636.0,365.0 L640.2,362.3 M640.2,362.3 L641.9,365.5 M641.9,365.5 L637.1,370.1 M636.1,369.5 L637.1,370.1 M632.1,361.4 L632.6,363.5 M640.4,360.1 L640.2,362.3 M632.6,363.5 L636.0,365.0 M645.6,367.9 L641.9,365.5 M638.2,372.0 L637.1,370.1 M631.8,376.8 L631.1,375.1 M631.1,375.1 L633.6,369.7 M633.6,369.7 L636.1,369.5 M618.3,383.1 L618.7,377.9 M618.3,383.1 L621.8,387.2 M618.7,377.9 L621.7,376.5 M627.2,381.3 L622.5,376.7 M622.5,376.7 L621.7,376.5 M631.1,375.1 L627.2,372.3 M622.5,376.7 L627.2,372.3 M616.5,376.9 L614.1,373.1 M616.5,376.9 L618.7,377.9 M617.7,369.8 L620.4,370.9 M621.7,376.5 L620.4,370.9 M622.1,366.0 L622.0,369.8 M622.0,369.8 L620.4,370.9 M549.3,388.5 L553.7,384.8 M556.1,387.4 L555.0,385.2 M553.7,384.8 L555.0,385.2 M548.6,381.2 L551.9,381.6 M553.7,384.8 L551.9,381.6 M561.2,384.3 L560.9,383.7 M560.9,383.7 L557.6,383.0 M555.0,385.2 L557.6,383.0 M580.3,372.4 L580.2,374.2 M584.6,371.2 L583.1,375.1 M583.1,375.1 L580.2,374.2 M578.7,374.7 L576.1,372.9 M578.7,374.7 L579.4,374.7 M579.4,374.7 L580.2,374.2 M578.7,374.7 L576.1,377.7 M580.1,378.4 L579.4,374.7 M580.1,378.4 L578.6,379.5 M578.6,379.5 L576.1,377.7 M575.9,373.1 L574.9,377.5 M576.1,377.7 L574.9,377.5 M572.3,373.0 L573.2,378.0 M574.9,377.5 L573.2,378.0 M594.6,382.7 L594.5,382.9 M596.9,386.6 L596.7,386.6 M600.5,384.2 L598.6,381.3 M594.5,382.9 L596.7,386.6 M594.2,392.2 L593.7,388.4 M596.7,386.6 L593.7,388.4 M625.9,367.4 L625.4,370.0 M625.9,367.4 L628.1,366.0 M628.1,366.0 L630.6,366.8 M625.4,370.0 L627.2,372.1 M627.2,372.1 L631.0,367.9 M630.6,366.8 L631.0,367.9 M622.0,369.8 L625.4,370.0 M623.9,365.7 L625.9,367.4 M626.7,362.2 L628.1,366.0 M632.6,363.5 L630.6,366.8 M627.2,372.3 L627.2,372.1 M633.6,369.7 L631.0,367.9 M605.1,379.6 L603.9,383.9 M605.1,379.6 L609.7,379.5 M606.2,385.8 L611.8,384.5 M606.2,385.8 L603.9,383.9 M610.9,380.5 L609.7,379.5 M610.9,380.5 L611.9,384.2 M611.9,384.2 L611.8,384.5 M604.5,378.8 L605.1,379.6 M601.6,384.5 L603.9,383.9 M610.0,374.4 L609.7,379.5 M613.0,389.9 L611.8,384.5 M605.9,390.9 L606.2,385.8 M616.5,376.9 L610.9,380.5 M618.3,383.1 L611.9,384.2 M554.0,379.5 L556.8,380.1 M554.0,379.5 L553.6,376.6 M553.6,376.6 L556.7,374.6 M558.2,378.7 L556.8,380.1 M558.2,378.7 L558.0,375.7 M556.7,374.6 L558.0,375.7 M557.6,383.0 L556.8,380.1 M551.9,381.6 L554.0,379.5 M550.0,374.7 L553.6,376.6 M556.6,371.9 L556.7,374.6 M560.9,383.7 L561.9,379.8 M561.9,379.8 L561.9,379.7 M561.9,379.7 L558.2,378.7 M562.0,375.1 L558.0,375.7 M562.0,375.1 L561.9,379.7 M562.0,375.1 L563.1,373.8 M583.9,379.8 L586.8,379.6 M583.9,379.8 L582.9,378.3 M582.9,378.3 L583.5,375.9 M583.5,375.9 L589.0,375.5 M589.0,375.5 L586.8,379.6 M580.1,378.4 L582.9,378.3 M583.0,382.7 L583.9,379.8 M579.5,383.8 L578.5,382.9 M578.6,379.5 L578.5,382.9 M583.1,375.1 L583.5,375.9 M589.0,375.5 L589.0,375.5 M572.4,378.8 L573.5,383.6 M572.4,378.8 L567.9,378.0 M566.7,379.7 L567.1,384.7 M566.7,379.7 L567.9,378.0 M567.1,384.7 L572.4,385.2 M572.4,385.2 L573.5,383.6 M578.5,382.9 L573.5,383.6 M573.2,378.0 L572.4,378.8 M567.6,377.1 L567.9,378.0 M561.9,379.8 L566.7,379.7 M566.7,385.1 L567.1,384.7 M573.4,388.6 L572.4,385.2 M593.0,383.2 L591.6,387.3 M593.0,383.2 L590.4,381.9 M590.4,381.9 L588.7,382.4 M590.3,387.4 L591.6,387.3 M590.3,387.4 L588.0,383.7 M588.0,383.7 L588.7,382.4 M594.5,382.9 L593.0,383.2 M593.7,388.4 L591.6,387.3 M591.6,378.5 L590.4,381.9 M586.8,379.6 L588.7,382.4 M588.4,389.5 L590.3,387.4 M585.4,384.6 L588.0,383.7 M538.9,432.3 L539.9,429.9 M539.9,429.9 L542.5,429.1 M542.5,429.1 L545.4,431.4 M541.4,436.8 L543.0,437.0 M538.9,432.3 L541.4,436.8 M543.0,437.0 L545.4,431.4 M543.0,437.0 L545.7,439.0 M547.8,431.5 L545.4,431.4 M547.8,431.5 L549.2,434.6 M545.7,439.0 L549.2,434.6 M541.2,451.3 L540.1,452.7 M541.2,451.3 L547.8,452.2 M540.1,452.7 L544.0,458.9 M544.0,458.9 L548.5,455.5 M548.5,455.5 L548.0,452.4 M548.0,452.4 L547.8,452.2 M560.5,471.8 L558.9,465.0 M558.9,465.0 L554.2,466.0 M539.2,421.7 L536.4,426.2 M539.2,421.7 L537.1,418.9 M537.1,418.9 L531.9,417.9 M536.4,426.2 L532.8,426.6 M570.9,396.9 L564.6,402.8 M559.8,395.7 L560.0,402.4 M560.0,402.4 L564.6,402.8 M570.7,409.9 L567.2,409.4 M564.6,402.8 L567.2,409.4 M551.6,446.1 L548.1,446.8 M551.6,446.1 L551.2,440.8 M551.2,440.8 L546.1,440.2 M546.8,446.0 L548.1,446.8 M546.8,446.0 L545.4,442.0 M545.4,442.0 L546.1,440.2 M547.8,452.2 L548.1,446.8 M541.5,449.1 L541.2,451.3 M541.5,449.1 L546.8,446.0 M541.5,449.1 L539.3,444.4 M539.3,444.4 L545.4,442.0 M541.4,436.8 L536.7,440.7 M536.1,442.5 L539.3,444.4 M545.7,439.0 L546.1,440.2 M538.4,453.1 L535.7,458.1 M538.4,453.1 L532.3,449.6 M535.7,458.1 L529.7,456.5 M543.6,461.5 L544.0,458.9 M540.1,452.7 L538.4,453.1 M536.8,461.9 L535.7,458.1 M538.9,432.3 L533.4,434.1 M539.9,429.9 L536.4,426.2 M548.5,455.5 L551.0,457.0 M551.0,457.0 L552.1,460.9 M558.9,465.0 L559.1,464.7 M565.3,469.9 L563.8,463.1 M559.1,464.7 L563.8,463.1 M552.1,460.9 L556.8,459.5 M559.1,464.7 L556.8,459.5 M551.6,446.1 L553.0,446.9 M548.0,452.4 L552.5,451.0 M552.5,451.0 L553.0,446.9 M551.0,457.0 L555.4,453.8 M552.5,451.0 L555.4,453.8 M556.8,459.5 L558.0,457.6 M558.0,457.6 L556.2,453.9 M555.4,453.8 L556.2,453.9 M555.8,396.0 L553.9,400.0 M550.3,396.5 L551.4,399.6 M553.9,400.0 L551.4,399.6 M546.4,396.8 L546.3,401.0 M546.3,401.0 L548.3,402.9 M551.4,399.6 L548.3,402.9 M560.0,402.4 L560.0,402.4 M567.2,409.4 L565.7,410.2 M565.7,410.2 L559.3,408.7 M559.3,408.7 L560.0,402.4 M553.9,400.0 L555.7,402.5 M560.0,402.4 L555.7,402.5 M565.7,410.2 L563.1,415.7 M563.1,415.7 L558.1,414.6 M559.3,408.7 L558.0,409.7 M558.0,409.7 L557.4,412.5 M558.1,414.6 L557.4,412.5 M563.9,463.0 L563.1,458.0 M563.9,463.0 L568.9,463.0 M572.1,457.1 L564.3,456.5 M572.5,460.5 L568.9,463.0 M564.3,456.5 L563.1,458.0 M558.0,457.6 L563.1,458.0 M563.8,463.1 L563.9,463.0 M569.7,469.7 L568.9,463.0 M556.2,453.9 L558.1,451.9 M564.3,456.5 L563.6,451.5 M558.1,451.9 L563.6,451.5 M570.1,430.1 L564.5,426.7 M570.1,430.1 L564.6,433.1 M564.5,426.7 L563.4,431.2 M563.4,431.2 L564.6,433.1 M564.6,433.1 L564.6,433.1 M570.5,437.5 L566.4,437.5 M566.4,437.5 L564.6,433.1 M570.6,430.1 L570.1,430.1 M570.7,416.9 L565.4,418.3 M570.6,423.7 L566.5,423.3 M566.5,423.3 L565.4,418.3 M563.1,415.7 L564.0,417.6 M565.4,418.3 L564.0,417.6 M551.2,440.8 L551.8,440.4 M549.2,434.6 L552.9,435.7 M551.8,440.4 L553.1,436.1 M552.9,435.7 L553.1,436.1 M559.6,435.5 L558.1,432.5 M564.6,433.1 L559.6,435.5 M563.4,431.2 L559.9,430.4 M559.9,430.4 L558.1,432.5 M549.1,429.9 L547.8,431.5 M549.1,429.9 L554.0,430.3 M552.9,435.7 L554.8,431.9 M554.0,430.3 L554.8,431.9 M537.1,418.9 L540.8,413.5 M540.8,413.5 L536.8,409.6 M546.3,401.0 L541.6,401.4 M550.2,410.4 L546.0,408.7 M550.2,410.4 L553.1,407.0 M553.1,407.0 L553.0,405.8 M553.0,405.8 L548.3,403.0 M548.3,403.0 L545.5,407.3 M545.5,407.3 L546.0,408.7 M558.0,409.7 L553.1,407.0 M555.7,402.5 L553.0,405.8 M548.3,402.9 L548.3,403.0 M539.8,404.9 L545.5,407.3 M540.8,413.5 L542.8,413.7 M542.8,413.7 L546.0,408.7 M553.1,436.1 L557.9,437.7 M551.8,440.4 L556.7,441.9 M556.7,441.9 L557.9,437.7 M566.4,437.5 L565.9,438.1 M559.6,435.5 L559.3,436.9 M565.9,438.1 L562.1,438.9 M562.1,438.9 L559.3,436.9 M558.1,432.5 L554.8,431.9 M559.3,436.9 L557.9,437.7 M563.6,451.5 L563.7,451.2 M571.2,450.4 L563.7,451.2 M565.9,438.1 L566.0,444.2 M570.4,444.9 L566.0,444.2 M564.1,425.9 L564.2,425.3 M564.1,425.9 L559.4,427.4 M564.2,425.3 L560.4,421.4 M558.2,426.6 L559.4,427.4 M558.2,426.6 L557.5,422.8 M557.5,422.8 L558.9,421.5 M560.4,421.4 L558.9,421.5 M564.5,426.7 L564.1,425.9 M566.5,423.3 L564.2,425.3 M559.9,430.4 L559.4,427.4 M564.0,417.6 L560.4,421.4 M554.6,428.6 L558.2,426.6 M554.6,428.6 L554.0,430.3 M558.1,414.6 L557.0,416.5 M557.0,416.5 L558.9,421.5 M542.5,429.1 L543.8,425.9 M549.1,429.9 L548.8,426.0 M548.8,426.0 L543.8,425.9 M564.1,445.1 L563.2,447.1 M564.1,445.1 L561.5,442.4 M563.2,447.1 L556.6,446.4 M561.5,442.4 L557.2,442.9 M557.2,442.9 L556.4,446.2 M556.4,446.2 L556.6,446.4 M563.7,451.2 L563.2,447.1 M566.0,444.2 L564.1,445.1 M562.1,438.9 L561.5,442.4 M558.1,451.9 L556.6,446.4 M556.7,441.9 L557.2,442.9 M553.0,446.9 L556.4,446.2 M557.4,412.5 L551.3,412.7 M554.4,417.3 L552.3,416.1 M557.0,416.5 L554.4,417.3 M552.3,416.1 L551.3,412.7 M543.1,414.0 L547.6,415.0 M542.8,413.7 L543.1,414.0 M550.2,410.4 L550.8,412.3 M550.8,412.3 L547.6,415.0 M550.8,412.3 L551.3,412.7 M551.2,420.2 L553.4,420.5 M551.2,420.2 L548.8,422.1 M552.4,425.0 L554.6,422.6 M552.4,425.0 L549.6,425.0 M554.6,422.6 L553.4,420.5 M549.6,425.0 L548.8,422.1 M554.4,417.3 L553.4,420.5 M552.3,416.1 L550.2,417.7 M550.2,417.7 L551.2,420.2 M554.6,428.6 L552.4,425.0 M557.5,422.8 L554.6,422.6 M548.8,426.0 L549.6,425.0 M539.2,421.7 L541.2,421.9 M543.1,414.0 L543.7,417.9 M543.7,417.9 L541.2,421.9 M543.8,425.9 L542.9,423.3 M541.2,421.9 L542.9,423.3 M548.8,422.1 L547.4,421.1 M542.9,423.3 L547.4,421.1 M549.9,417.7 L548.2,416.6 M549.9,417.7 L547.4,421.1 M548.2,416.6 L546.4,419.1 M547.4,421.1 L546.4,419.1 M547.6,415.0 L548.2,416.6 M550.2,417.7 L549.9,417.7 M547.4,421.1 L547.4,421.1 M543.7,417.9 L546.4,419.1 M573.8,394.4 L576.1,398.7 M584.3,393.3 L584.2,396.3 M584.2,396.3 L583.3,397.4 M583.3,397.4 L576.1,398.7 M600.8,397.8 L599.2,402.6 M600.8,397.8 L595.3,394.0 M595.3,394.0 L593.0,399.4 M593.0,399.4 L597.1,402.8 M599.2,402.6 L597.1,402.8 M595.0,392.1 L595.3,394.0 M604.9,396.4 L600.8,397.8 M584.2,396.3 L590.2,400.4 M590.2,400.4 L593.0,399.4 M594.4,407.4 L597.1,402.8 M594.4,407.4 L588.9,406.5 M588.9,406.5 L588.9,406.5 M590.2,400.4 L588.9,406.5 M599.2,402.6 L601.3,404.4 M606.7,402.5 L601.3,404.4 M594.4,407.4 L595.8,409.5 M595.8,409.5 L601.5,408.5 M601.3,404.4 L601.5,408.5 M612.7,423.0 L607.0,424.1 M607.0,424.1 L605.0,427.0 M612.7,432.0 L608.1,432.0 M616.2,429.8 L612.7,432.0 M608.1,432.0 L605.0,427.0 M581.7,458.6 L579.2,459.4 M581.7,458.6 L584.1,460.2 M579.2,459.4 L573.5,467.8 M577.6,434.7 L575.0,432.9 M577.6,434.7 L577.7,436.0 M577.7,436.0 L574.9,439.0 M573.5,433.5 L575.0,432.9 M573.5,433.5 L573.2,438.8 M574.9,439.0 L573.8,439.1 M573.2,438.8 L573.8,439.1 M574.1,428.0 L570.6,428.3 M570.5,433.0 L573.5,433.5 M574.1,428.0 L575.6,429.5 M575.6,429.5 L575.0,432.9 M570.5,439.0 L573.2,438.8 M599.3,427.8 L598.8,432.0 M598.8,432.0 L590.9,434.5 M598.5,427.0 L599.3,427.8 M598.5,427.0 L589.3,428.9 M589.3,428.9 L590.9,434.5 M610.5,415.5 L605.1,416.3 M607.0,424.1 L603.4,417.6 M605.1,416.3 L603.4,417.6 M608.4,408.4 L605.0,409.7 M605.1,416.3 L605.0,409.7 M601.5,408.5 L601.7,408.7 M605.0,409.7 L601.7,408.7 M598.5,427.0 L597.7,424.1 M603.4,417.6 L600.7,417.5 M605.0,427.0 L599.3,427.8 M597.7,424.1 L600.7,417.5 M581.7,458.6 L581.9,452.6 M592.3,457.1 L590.1,451.6 M590.1,451.6 L581.9,452.6 M618.6,447.7 L610.3,448.2 M617.8,441.2 L613.9,440.5 M613.9,440.5 L609.2,445.4 M610.3,448.2 L609.2,445.4 M612.7,432.0 L612.4,438.7 M612.4,438.7 L613.9,440.5 M608.1,432.0 L606.0,435.1 M598.8,432.0 L599.7,433.8 M606.0,435.1 L599.7,433.8 M612.4,438.7 L606.6,438.3 M606.0,435.1 L606.6,438.3 M587.2,424.5 L587.6,427.3 M587.2,424.5 L579.3,424.5 M587.6,427.3 L582.2,431.1 M582.2,431.1 L579.2,428.6 M579.3,424.5 L579.2,428.6 M584.8,437.1 L590.3,436.7 M590.9,434.5 L590.3,436.7 M589.3,428.9 L587.6,427.3 M582.1,432.1 L582.2,431.1 M582.1,432.1 L584.8,437.1 M575.6,429.5 L579.2,428.6 M577.6,434.7 L582.1,432.1 M574.1,428.0 L575.0,423.7 M577.6,422.4 L575.0,423.7 M577.6,422.4 L579.3,424.5 M601.7,408.7 L599.8,416.0 M600.7,417.5 L600.1,416.9 M599.8,416.0 L600.1,416.9 M595.8,409.5 L595.5,411.6 M599.8,416.0 L595.5,411.6 M578.0,420.3 L575.7,417.3 M577.6,422.4 L578.0,420.3 M575.0,423.7 L570.6,422.6 M575.7,417.3 L570.7,418.0 M576.1,398.7 L574.9,402.3 M574.9,402.3 L570.8,403.0 M581.9,412.6 L576.7,413.8 M581.9,412.6 L582.2,406.3 M578.3,405.5 L581.7,405.8 M578.3,405.5 L574.2,410.6 M574.2,410.6 L576.7,413.8 M582.2,406.3 L581.7,405.8 M583.3,397.4 L581.7,405.8 M574.9,402.3 L578.3,405.5 M570.7,410.2 L574.2,410.6 M575.7,417.3 L576.7,413.8 M588.9,406.5 L582.2,406.3 M587.4,445.2 L590.9,448.8 M587.4,445.2 L591.5,438.7 M591.5,438.7 L594.6,440.4 M594.6,440.4 L592.8,447.9 M590.9,448.8 L592.8,447.9 M590.3,436.7 L591.5,438.7 M599.0,437.6 L599.7,433.8 M594.7,440.4 L594.6,440.4 M594.7,440.4 L599.0,437.6 M590.1,451.6 L590.9,448.8 M595.8,456.7 L599.2,448.8 M599.2,448.8 L592.8,447.9 M603.3,455.8 L601.6,449.7 M610.0,455.1 L609.4,450.6 M609.4,450.6 L601.6,449.7 M599.2,448.8 L600.2,448.4 M600.2,448.4 L601.6,449.7 M610.3,448.2 L609.4,450.6 M607.8,444.6 L600.4,447.9 M607.8,444.6 L605.5,440.2 M602.8,440.6 L605.5,440.2 M602.8,440.6 L600.1,445.2 M600.1,445.2 L600.4,447.9 M609.2,445.4 L607.8,444.6 M600.2,448.4 L600.4,447.9 M606.6,438.3 L605.5,440.2 M599.0,437.6 L602.8,440.6 M594.7,440.4 L600.1,445.2 M591.7,417.7 L590.5,415.0 M591.7,417.7 L591.3,421.0 M587.2,424.5 L591.3,421.0 M587.2,424.5 L583.1,418.4 M583.1,418.4 L584.2,415.0 M584.2,415.0 L589.0,414.1 M589.0,414.1 L590.5,415.0 M600.1,416.9 L591.7,417.7 M595.5,411.6 L590.5,415.0 M597.7,424.1 L591.3,421.0 M587.2,424.5 L587.2,424.5 M578.0,420.3 L583.1,418.4 M581.9,412.6 L584.2,415.0 M588.9,406.5 L589.0,414.1 M577.5,450.4 L576.6,445.2 M577.5,450.4 L571.5,453.1 M570.5,445.6 L574.1,444.5 M574.1,444.5 L576.6,445.2 M581.9,452.6 L581.3,451.7 M581.3,451.7 L577.5,450.4 M579.2,459.4 L571.8,455.5 M573.8,439.1 L574.1,444.5 M584.3,444.8 L584.1,444.9 M584.3,444.8 L584.2,437.9 M584.1,444.9 L578.8,443.4 M580.4,438.7 L578.7,441.6 M580.4,438.7 L584.2,437.9 M578.7,441.6 L578.8,443.4 M581.3,451.7 L584.1,444.9 M587.4,445.2 L584.3,444.8 M584.8,437.1 L584.2,437.9 M576.6,445.2 L578.8,443.4 M574.9,439.0 L578.7,441.6 M577.7,436.0 L580.4,438.7 M618.0,418.8 L612.5,417.8 M618.0,418.8 L619.3,415.9 M619.3,415.9 L615.5,413.0 M612.5,417.8 L615.5,413.0 M611.3,418.3 L612.5,417.8 M617.4,423.0 L612.9,423.6 M617.4,423.0 L618.5,420.6 M618.5,420.6 L618.0,418.8 M619.3,415.9 L620.1,415.6 M624.8,421.4 L618.5,420.6 M624.8,421.4 L625.5,420.5 M625.5,420.5 L624.7,418.1 M620.1,415.6 L624.7,418.1 M626.7,420.4 L631.5,416.8 M631.9,423.8 L626.7,420.4 M631.9,423.8 L634.3,420.5 M634.3,420.5 L631.5,416.8 M624.8,421.4 L624.6,423.6 M617.4,423.0 L618.9,425.6 M624.6,423.6 L622.1,426.0 M618.9,425.6 L622.1,426.0 M621.6,412.7 L625.4,412.3 M621.6,412.7 L619.7,409.5 M619.7,409.5 L620.1,408.6 M620.1,408.6 L624.6,406.8 M625.4,412.3 L625.5,407.9 M625.5,407.9 L624.6,406.8 M620.1,415.6 L621.6,412.7 M624.7,418.1 L626.4,413.3 M626.4,413.3 L625.4,412.3 M607.5,394.6 L604.1,391.1 M607.5,394.6 L605.3,397.7 M607.5,394.6 L610.9,394.4 M610.6,390.3 L611.1,394.1 M610.9,394.4 L611.1,394.1 M627.2,402.7 L624.6,405.7 M627.2,402.7 L625.8,399.1 M624.6,405.7 L620.7,402.3 M620.7,402.3 L622.7,398.9 M622.7,398.9 L625.8,399.1 M626.7,420.4 L625.5,420.5 M626.4,413.3 L629.3,413.5 M631.5,416.8 L631.5,415.8 M629.3,413.5 L631.5,415.8 M660.5,413.9 L657.8,418.1 M657.0,410.8 L654.3,414.5 M657.8,418.1 L656.7,418.1 M654.3,414.5 L656.7,418.1 M653.0,407.6 L649.6,412.6 M649.6,412.6 L649.9,414.2 M649.9,414.2 L650.8,414.9 M654.3,414.5 L650.8,414.9 M663.5,417.9 L662.9,418.4 M665.6,421.8 L662.3,421.9 M662.3,421.9 L662.9,418.4 M657.8,418.1 L658.9,418.9 M662.9,418.4 L658.9,418.9 M660.5,425.6 L659.7,422.6 M660.5,425.6 L663.2,426.1 M663.2,426.1 L663.6,425.3 M663.6,425.3 L662.1,422.0 M662.1,422.0 L659.9,422.3 M659.7,422.6 L659.9,422.3 M655.9,423.7 L659.7,422.6 M655.9,423.7 L658.1,427.7 M658.1,427.7 L660.5,425.6 M662.3,421.9 L662.1,422.0 M666.7,423.2 L663.6,425.3 M658.9,418.9 L659.9,422.3 M664.1,428.6 L663.2,426.1 M664.1,428.6 L663.1,429.3 M658.1,427.7 L658.0,428.5 M663.1,429.3 L658.0,428.5 M669.1,425.4 L665.2,428.9 M670.9,427.1 L668.6,431.2 M665.2,428.9 L666.8,431.0 M668.6,431.2 L666.8,431.0 M664.1,428.6 L665.2,428.9 M669.7,435.8 L664.9,434.9 M670.7,433.0 L668.6,431.2 M664.9,434.9 L666.8,431.0 M617.4,438.0 L618.2,437.9 M618.2,437.9 L622.0,434.6 M616.4,430.6 L621.6,431.6 M622.0,434.6 L621.6,431.6 M618.9,425.6 L616.3,430.0 M622.1,426.0 L623.0,430.2 M623.0,430.2 L621.6,431.6 M624.6,423.6 L627.9,427.1 M623.0,430.2 L626.5,430.3 M627.9,427.1 L626.5,430.3 M615.5,413.0 L615.5,412.9 M609.4,411.8 L612.3,411.1 M615.5,412.9 L612.3,411.1 M619.7,409.5 L617.6,410.0 M615.5,412.9 L617.6,410.0 M612.9,405.5 L612.7,404.3 M612.9,405.5 L613.8,406.3 M613.8,406.3 L614.0,406.4 M614.0,406.4 L618.3,404.5 M612.7,404.3 L615.5,399.7 M615.7,399.7 L615.5,399.7 M615.7,399.7 L619.0,402.8 M619.0,402.8 L618.3,404.5 M610.0,402.0 L606.9,403.3 M608.0,407.1 L612.9,405.5 M610.0,402.0 L612.7,404.3 M612.3,411.1 L613.8,406.3 M617.6,410.0 L614.0,406.4 M620.1,408.6 L618.3,404.5 M620.7,402.3 L619.0,402.8 M624.6,406.8 L624.6,405.7 M626.5,430.3 L627.8,432.1 M627.8,432.1 L626.3,436.7 M622.0,434.6 L625.9,436.8 M625.9,436.8 L626.3,436.7 M626.3,392.6 L627.8,396.9 M626.3,392.6 L630.4,391.1 M627.8,396.9 L631.7,397.2 M630.4,391.1 L634.0,394.0 M634.0,394.0 L631.7,397.2 M630.8,387.5 L630.4,391.1 M625.6,392.2 L626.3,392.6 M624.7,388.4 L625.6,392.2 M635.3,393.6 L634.0,394.0 M608.9,398.7 L610.3,400.3 M608.9,398.7 L610.9,394.7 M610.3,400.3 L613.2,399.1 M610.9,394.7 L613.2,399.1 M610.0,402.0 L610.3,400.3 M605.5,398.7 L608.9,398.7 M610.9,394.4 L610.9,394.7 M615.5,399.7 L613.2,399.1 M616.7,397.4 L615.0,394.3 M616.7,397.4 L620.9,396.2 M615.0,394.3 L617.8,390.2 M617.8,390.2 L621.2,394.3 M620.9,396.2 L621.2,394.3 M611.1,394.1 L615.0,394.3 M615.7,399.7 L616.7,397.4 M622.7,398.9 L620.9,396.2 M617.8,389.3 L617.8,390.2 M625.6,392.2 L621.2,394.3 M625.8,399.1 L627.8,396.9 M629.3,413.5 L630.9,409.4 M631.5,415.8 L635.3,413.7 M635.3,413.7 L635.3,412.0 M635.3,412.0 L634.6,410.6 M634.6,410.6 L630.9,409.4 M625.5,407.9 L630.4,408.1 M630.4,408.1 L630.9,409.4 M639.3,396.9 L637.8,400.0 M643.8,400.5 L642.3,402.7 M642.3,402.7 L639.8,403.0 M639.8,403.0 L639.2,402.7 M637.8,400.0 L639.2,402.7 M635.3,413.7 L636.8,414.4 M638.6,417.5 L637.2,420.5 M634.3,420.5 L637.2,420.5 M638.6,417.5 L637.7,415.4 M637.7,415.4 L636.8,414.4 M656.7,418.1 L654.2,420.9 M655.9,423.7 L654.8,423.3 M654.8,423.3 L654.2,420.9 M650.8,414.9 L651.2,419.7 M654.2,420.9 L651.2,419.7 M657.0,441.8 L656.3,443.2 M657.0,441.8 L655.5,438.5 M656.3,443.2 L654.2,443.8 M655.5,438.5 L653.7,438.7 M654.2,443.8 L652.1,442.5 M652.1,442.5 L653.0,439.2 M653.7,438.7 L653.0,439.2 M657.9,445.8 L659.7,446.0 M660.8,443.5 L659.7,446.0 M660.1,441.7 L660.8,443.5 M660.1,441.7 L657.0,441.8 M657.9,445.8 L656.3,443.2 M669.0,439.8 L665.1,439.4 M668.1,445.5 L665.5,445.2 M665.1,439.4 L664.4,440.0 M664.4,440.0 L664.6,443.9 M665.5,445.2 L664.6,443.9 M664.8,435.0 L665.1,439.4 M664.9,434.9 L664.8,435.0 M660.8,443.5 L664.6,443.9 M661.2,439.7 L664.4,440.0 M660.1,441.7 L661.2,439.7 M663.5,447.4 L663.3,450.6 M663.5,447.4 L659.9,446.1 M659.9,446.1 L659.3,450.9 M663.3,450.6 L659.3,450.9 M665.5,452.8 L663.3,450.6 M665.5,445.2 L663.5,447.4 M659.7,446.0 L659.9,446.1 M658.9,451.1 L659.3,450.9 M658.9,451.1 L658.6,455.3 M654.8,423.3 L652.0,426.1 M652.2,427.8 L652.0,426.1 M658.0,428.5 L657.4,429.3 M652.2,427.8 L655.7,430.1 M655.7,430.1 L657.4,429.3 M663.1,429.3 L661.3,433.9 M657.4,429.3 L661.3,433.9 M664.8,435.0 L661.3,434.2 M661.3,433.9 L661.3,434.2 M658.9,451.1 L657.6,450.6 M657.9,445.8 L656.5,447.1 M657.6,450.6 L656.5,447.1 M653.9,446.8 L654.2,443.8 M653.9,446.8 L654.3,447.1 M656.5,447.1 L654.3,447.1 M643.0,456.7 L643.0,456.5 M648.7,456.2 L648.8,453.3 M645.1,451.5 L643.0,456.5 M645.1,451.5 L648.5,453.0 M648.5,453.0 L648.8,453.3 M622.4,449.0 L622.8,448.3 M622.4,449.0 L622.8,452.5 M622.8,448.3 L626.5,448.1 M622.8,452.5 L623.8,453.0 M623.8,453.0 L627.6,450.8 M626.5,448.1 L627.7,449.0 M627.7,449.0 L627.9,450.0 M627.6,450.8 L627.9,450.0 M619.4,454.0 L622.8,452.5 M618.8,449.1 L622.4,449.0 M623.2,458.4 L624.6,454.8 M624.6,454.8 L623.8,453.0 M626.0,443.4 L629.0,442.7 M631.0,446.1 L629.0,442.7 M631.0,446.1 L627.7,449.0 M626.0,443.4 L626.5,448.1 M627.6,450.8 L628.5,454.2 M624.6,454.8 L627.3,455.3 M627.3,455.3 L628.5,454.2 M618.8,444.6 L622.3,446.4 M618.8,444.6 L623.2,441.1 M622.3,446.4 L624.8,442.9 M624.8,442.9 L623.5,441.1 M623.2,441.1 L623.5,441.1 M618.2,444.6 L618.8,444.6 M622.8,448.3 L622.3,446.4 M618.2,437.9 L623.2,441.1 M626.0,443.4 L624.8,442.9 M625.9,436.8 L623.5,441.1 M638.6,417.5 L641.5,417.2 M641.5,417.2 L643.1,413.0 M643.1,413.0 L643.0,412.8 M637.7,415.4 L642.1,412.4 M643.0,412.8 L642.1,412.4 M636.8,414.4 L640.2,410.8 M642.1,412.4 L640.2,410.8 M635.3,412.0 L639.7,409.6 M640.2,410.8 L639.7,409.6 M639.1,408.1 L635.7,408.2 M634.6,410.6 L635.7,408.2 M639.1,408.1 L639.7,408.4 M639.7,409.6 L639.7,408.4 M639.1,408.1 L637.3,404.6 M639.2,402.7 L637.3,404.6 M639.8,403.0 L640.6,407.7 M639.7,408.4 L640.6,407.7 M631.0,406.8 L634.6,406.1 M631.0,406.8 L630.0,403.2 M630.0,403.2 L632.9,400.7 M634.6,406.1 L635.3,404.9 M635.3,404.9 L633.4,400.9 M632.9,400.7 L633.4,400.9 M635.7,408.2 L634.6,406.1 M630.4,408.1 L631.0,406.8 M627.2,402.7 L630.0,403.2 M631.7,397.2 L632.9,400.7 M637.3,404.6 L635.3,404.9 M637.8,400.0 L633.4,400.9 M648.3,421.4 L648.3,424.2 M648.3,421.4 L645.2,419.3 M645.2,419.3 L644.7,419.4 M644.7,419.4 L642.0,423.0 M648.3,424.2 L645.8,426.2 M642.0,423.0 L642.7,425.0 M645.8,426.2 L643.8,426.2 M642.7,425.0 L643.8,426.2 M652.0,426.1 L648.3,424.2 M651.2,419.7 L648.3,421.4 M649.9,414.2 L646.7,415.8 M646.7,415.8 L645.2,419.3 M641.5,417.2 L644.7,419.4 M643.1,413.0 L646.7,415.8 M638.0,421.6 L637.2,420.5 M638.0,421.6 L642.0,423.0 M642.6,428.8 L643.5,432.0 M642.6,428.8 L638.4,429.5 M638.4,429.5 L639.7,433.1 M643.5,432.0 L639.7,433.1 M652.2,427.8 L648.9,431.0 M654.9,432.9 L655.7,430.1 M651.3,434.0 L654.9,432.9 M651.3,434.0 L651.2,433.9 M651.2,433.9 L648.9,431.0 M645.8,426.2 L648.3,431.0 M648.9,431.0 L648.3,431.0 M642.6,428.8 L643.8,426.2 M643.5,432.0 L645.2,433.0 M648.3,431.0 L645.2,433.0 M652.1,442.5 L650.4,443.2 M651.7,447.2 L653.9,446.8 M651.7,447.2 L650.1,444.2 M650.1,444.2 L650.4,443.2 M655.6,438.4 L656.2,434.6 M655.6,438.4 L660.2,437.9 M656.2,434.6 L661.1,434.4 M660.2,437.9 L661.1,434.4 M651.3,434.0 L653.7,438.7 M655.5,438.5 L655.6,438.4 M654.9,432.9 L656.2,434.6 M661.2,439.7 L660.2,437.9 M661.3,434.2 L661.1,434.4 M650.8,448.7 L654.4,451.0 M650.8,448.7 L650.7,448.7 M650.7,448.7 L651.1,452.3 M651.1,452.3 L653.6,452.9 M653.6,452.9 L654.5,451.1 M654.5,451.1 L654.4,451.0 M654.3,447.1 L654.4,451.0 M651.7,447.2 L650.8,448.7 M649.2,448.8 L648.5,453.0 M649.2,448.8 L650.7,448.7 M648.8,453.3 L651.1,452.3 M654.3,455.7 L653.6,452.9 M657.6,450.6 L654.5,451.1 M632.2,453.7 L630.3,454.7 M632.2,453.7 L633.9,457.5 M630.3,454.7 L630.4,457.8 M627.3,455.3 L627.6,458.0 M628.5,454.2 L630.3,454.7 M626.3,436.7 L630.2,438.6 M629.0,442.7 L631.0,439.6 M630.2,438.6 L631.0,439.6 M633.7,446.7 L635.2,445.0 M635.2,445.0 L631.5,439.6 M631.0,446.1 L633.7,446.7 M631.0,439.6 L631.5,439.6 M634.1,448.9 L639.2,450.9 M634.1,448.9 L632.6,451.4 M632.8,452.6 L632.6,451.4 M632.8,452.6 L636.8,453.9 M636.8,453.9 L639.1,451.4 M639.1,451.4 L639.2,450.9 M627.9,450.0 L632.6,451.4 M633.7,446.7 L634.1,448.9 M632.2,453.7 L632.8,452.6 M636.9,457.2 L636.8,453.9 M643.0,456.5 L639.1,451.4 M645.1,451.5 L645.0,451.1 M645.0,451.1 L640.3,449.6 M640.3,449.6 L639.2,450.9 M649.6,405.1 L646.3,409.8 M648.3,404.1 L643.7,405.5 M643.7,405.5 L643.1,407.1 M643.1,407.1 L645.4,409.9 M646.3,409.8 L645.4,409.9 M649.6,412.6 L646.3,409.8 M642.3,402.7 L643.7,405.5 M640.6,407.7 L643.1,407.1 M643.0,412.8 L645.4,409.9 M648.5,438.1 L648.6,437.1 M648.5,438.1 L647.5,439.4 M648.6,437.1 L645.2,433.8 M647.5,439.4 L645.5,439.1 M645.5,439.1 L643.9,435.9 M643.9,435.9 L645.2,433.8 M653.0,439.2 L648.5,438.1 M651.2,433.9 L648.6,437.1 M647.9,441.3 L650.4,443.2 M647.9,441.3 L647.5,439.4 M645.2,433.0 L645.2,433.8 M640.5,437.1 L643.9,435.9 M640.5,437.1 L640.5,437.1 M640.5,437.1 L643.5,440.2 M643.5,440.2 L645.5,439.1 M642.6,443.0 L642.6,443.0 M642.6,443.0 L639.4,446.6 M642.6,443.0 L639.0,441.2 M639.4,446.6 L636.2,444.6 M636.2,444.6 L637.7,441.7 M637.7,441.7 L639.0,441.2 M643.5,440.2 L642.6,443.0 M647.9,441.3 L644.6,444.4 M644.6,444.4 L642.6,443.0 M640.3,449.2 L645.2,445.7 M644.6,444.4 L645.2,445.7 M640.3,449.2 L639.4,446.6 M640.5,437.1 L639.0,441.2 M640.3,449.2 L640.3,449.6 M635.2,445.0 L636.2,444.6 M635.0,438.4 L631.5,439.6 M635.0,438.4 L637.7,441.7 M649.0,448.7 L645.4,450.4 M649.0,448.7 L647.4,446.2 M645.4,450.4 L645.2,445.8 M647.4,446.2 L645.2,445.8 M649.2,448.8 L649.0,448.7 M645.0,451.1 L645.4,450.4 M650.1,444.2 L647.4,446.2 M645.2,445.7 L645.2,445.8 M635.3,437.8 L634.5,433.4 M635.3,437.8 L639.7,436.4 M634.5,433.4 L639.3,434.0 M639.7,436.4 L639.3,434.0 M640.5,437.1 L639.7,436.4 M635.0,438.4 L635.3,437.8 M639.7,433.1 L639.3,434.0 M633.9,432.7 L632.4,432.4 M633.9,432.7 L637.5,428.8 M632.1,432.2 L631.9,426.1 M632.1,432.2 L632.4,432.4 M631.9,426.1 L636.7,427.0 M631.9,426.1 L631.9,426.1 M637.5,428.8 L637.1,427.4 M636.7,427.0 L637.1,427.4 M630.2,438.6 L632.4,432.4 M634.5,433.4 L633.9,432.7 M638.4,429.5 L637.5,428.8 M627.9,427.1 L631.9,426.1 M627.8,432.1 L632.1,432.2 M631.9,423.8 L631.9,426.1 M638.0,421.6 L636.7,427.0 M642.7,425.0 L637.1,427.4 M700.9,525.2 L693.0,525.2 M694.2,537.9 L690.2,529.8 M693.0,525.2 L690.2,529.8 M688.3,519.9 L693.0,525.2 M688.3,519.9 L690.0,512.9 M690.0,512.9 L699.7,511.2 M690.2,529.8 L684.1,531.5 M688.3,519.9 L682.8,521.8 M678.9,529.1 L682.8,521.8 M584.7,463.1 L590.3,462.9 M590.3,462.9 L592.4,457.1 M666.0,504.3 L670.0,506.3 M660.5,506.4 L666.0,504.3 M670.0,506.3 L668.1,515.7 M682.8,521.8 L676.7,515.3 M676.7,515.3 L670.4,517.7 M676.7,515.3 L678.4,512.1 M670.0,506.3 L674.7,504.7 M674.7,504.7 L678.4,512.1 M690.0,512.9 L689.5,512.4 M685.5,510.3 L678.4,512.1 M637.6,464.6 L635.2,458.8 M637.6,464.6 L645.2,463.2 M646.0,461.2 L645.2,463.2 M646.0,461.2 L644.9,456.5 M635.4,457.3 L635.2,458.8 M628.6,465.1 L628.9,463.5 M628.9,463.5 L635.2,458.8 M636.6,467.1 L637.6,464.6 M631.7,468.3 L628.6,465.1 M642.9,470.7 L645.5,464.2 M646.0,474.3 L650.6,468.9 M650.6,468.9 L645.5,464.2 M645.2,463.2 L645.5,464.2 M607.5,462.8 L602.4,460.4 M607.5,462.8 L605.6,466.8 M602.4,460.4 L599.2,466.5 M601.3,456.1 L602.4,460.4 M604.8,455.7 L609.0,460.1 M609.0,460.1 L609.1,461.0 M608.1,462.5 L609.1,461.0 M608.1,462.5 L607.5,462.8 M595.5,456.7 L597.7,466.7 M590.3,462.9 L593.3,467.5 M628.9,463.5 L626.0,458.2 M609.0,460.1 L612.3,454.8 M653.7,461.8 L646.0,461.2 M653.7,461.8 L655.2,455.6 M666.0,504.3 L666.3,498.1 M657.4,499.5 L660.4,498.6 M661.5,498.3 L665.1,497.2 M666.3,498.1 L665.1,497.2 M657.0,493.9 L663.6,492.3 M665.1,497.2 L663.6,492.3 M674.7,504.7 L675.2,503.7 M666.3,498.1 L671.5,496.5 M675.2,503.7 L671.5,496.5 M608.1,462.5 L612.8,467.0 M612.8,467.0 L612.0,469.2 M686.4,503.9 L680.6,501.1 M686.4,503.9 L692.4,498.0 M680.6,501.1 L680.5,493.9 M688.5,491.2 L687.1,491.3 M687.1,491.3 L680.6,493.7 M680.6,493.7 L680.5,493.9 M686.6,506.6 L686.4,503.9 M675.2,503.7 L680.6,501.1 M671.8,495.8 L671.5,496.5 M671.8,495.8 L680.5,493.9 M676.9,488.2 L679.3,482.5 M679.3,482.5 L687.1,491.3 M676.9,488.2 L680.6,493.7 M659.9,486.7 L662.0,482.1 M659.9,486.7 L657.3,487.3 M662.0,482.1 L657.2,479.4 M657.2,479.4 L653.5,481.4 M664.4,490.2 L659.9,486.7 M663.6,492.3 L664.4,490.2 M665.0,476.1 L664.5,481.1 M664.5,481.1 L662.0,482.1 M658.5,474.8 L657.2,479.4 M658.5,474.8 L665.0,476.1 M656.5,471.1 L658.5,474.8 M656.5,471.1 L649.4,478.4 M623.9,471.7 L626.9,465.5 M628.6,465.1 L626.9,465.5 M624.6,473.2 L623.9,471.7 M665.0,489.9 L667.5,483.3 M665.0,489.9 L670.9,491.2 M672.6,488.8 L670.0,483.3 M672.6,488.8 L670.9,491.2 M670.0,483.3 L667.5,483.3 M664.5,481.1 L667.5,483.3 M664.4,490.2 L665.0,489.9 M671.8,495.8 L670.9,491.2 M676.9,488.2 L672.6,488.8 M673.2,475.0 L678.5,473.9 M673.2,475.0 L671.9,476.0 M671.9,476.0 L672.9,480.5 M672.9,480.5 L679.3,482.3 M679.3,482.3 L682.3,479.0 M670.0,483.3 L672.9,480.5 M679.3,482.5 L679.3,482.3 M673.7,464.7 L670.9,466.4 M675.7,469.0 L673.5,469.7 M670.9,466.4 L672.4,469.3 M673.5,469.7 L672.4,469.3 M666.4,452.4 L666.7,460.0 M666.7,460.0 L669.5,460.5 M669.5,460.5 L671.6,459.6 M669.5,460.5 L669.4,466.1 M669.4,466.1 L670.9,466.4 M673.2,475.0 L673.5,469.7 M622.3,458.5 L621.0,460.3 M614.0,454.6 L615.6,459.6 M621.0,460.3 L615.6,459.6 M612.8,467.0 L614.9,465.3 M609.1,461.0 L614.2,461.5 M614.9,465.3 L614.2,461.5 M614.2,461.5 L615.6,459.6 M662.2,461.2 L663.2,461.7 M662.2,461.2 L655.3,464.3 M661.5,468.8 L663.4,462.7 M661.5,468.8 L656.5,470.2 M663.2,461.7 L663.4,462.7 M655.3,464.3 L655.0,468.6 M656.5,470.2 L655.0,468.6 M660.4,457.0 L662.2,461.2 M666.7,460.0 L663.2,461.7 M653.7,461.8 L655.3,464.3 M667.9,466.8 L663.4,462.7 M669.4,466.1 L667.9,466.8 M650.6,468.9 L655.0,468.6 M656.5,471.1 L656.5,470.2 M664.4,470.1 L667.3,468.2 M664.4,470.1 L665.7,475.4 M667.3,468.2 L669.7,471.2 M669.7,471.2 L669.4,474.9 M669.4,474.9 L665.7,475.4 M667.9,466.8 L667.3,468.2 M661.5,468.8 L664.4,470.1 M665.0,476.1 L665.7,475.4 M672.4,469.3 L669.7,471.2 M671.9,476.0 L669.4,474.9 M623.8,464.7 L620.0,468.9 M623.8,464.7 L621.1,460.9 M621.1,460.9 L617.6,465.8 M617.6,465.8 L619.9,468.9 M620.0,468.9 L619.9,468.9 M623.9,471.7 L620.0,468.9 M626.9,465.5 L623.8,464.7 M621.0,460.3 L621.1,460.9 M614.9,465.3 L617.6,465.8 M616.2,472.5 L619.9,468.9 M654.2,408.5 L656.2,405.8 M658.9,412.5 L661.4,407.0 M656.2,405.8 L661.4,407.0 M686.6,400.2 L693.0,401.5 M689.0,388.0 L683.5,394.3 M686.6,400.2 L683.6,396.4 M683.5,394.3 L683.6,396.4 M660.5,385.3 L667.2,387.1 M660.5,385.3 L661.3,380.2 M667.2,387.1 L667.9,384.4 M659.9,386.0 L653.7,386.2 M659.9,386.0 L660.5,385.3 M652.4,381.2 L653.7,386.2 M683.5,394.3 L677.4,391.0 M676.4,388.1 L677.4,391.0 M676.4,388.1 L677.2,383.0 M659.8,392.3 L660.7,390.2 M659.8,392.3 L659.9,393.5 M659.9,393.5 L661.3,394.5 M661.3,394.5 L668.0,392.4 M660.7,390.2 L667.6,388.9 M668.0,392.4 L668.0,389.6 M668.0,389.6 L667.6,388.9 M659.9,386.0 L660.7,390.2 M653.7,386.2 L652.9,388.2 M652.9,388.2 L659.8,392.3 M652.9,388.2 L651.4,389.7 M657.1,395.4 L659.9,393.5 M652.0,392.3 L657.1,395.4 M651.4,389.7 L652.0,392.3 M663.5,399.7 L661.3,394.5 M661.8,401.1 L663.5,399.7 M657.1,395.4 L656.8,396.3 M656.8,396.3 L659.4,400.8 M659.4,400.8 L661.8,401.1 M667.2,387.1 L667.6,388.9 M676.4,388.1 L668.0,389.6 M668.0,392.4 L669.6,395.3 M663.5,399.7 L665.1,399.8 M669.6,395.3 L665.1,399.8 M677.4,391.0 L672.4,396.3 M669.6,395.3 L672.4,396.3 M641.5,396.5 L645.0,395.7 M641.5,396.5 L640.4,390.5 M645.0,395.7 L647.4,389.6 M640.4,390.5 L644.3,387.1 M644.3,387.1 L647.4,389.6 M640.4,397.7 L641.5,396.5 M634.8,388.9 L640.4,390.5 M643.5,382.7 L644.3,387.1 M651.4,389.7 L647.4,389.6 M659.4,400.8 L656.8,402.3 M656.8,396.3 L654.5,398.1 M654.5,398.1 L656.8,402.3 M648.8,404.4 L653.6,402.8 M656.2,405.8 L655.8,403.7 M653.6,402.8 L655.8,403.7 M661.7,406.8 L661.8,401.1 M661.7,406.8 L661.4,407.0 M655.8,403.7 L656.8,402.3 M650.7,395.8 L647.1,396.8 M650.7,395.8 L652.8,398.5 M652.8,398.5 L652.5,399.0 M652.5,399.0 L648.3,401.4 M647.1,396.8 L648.3,401.4 M645.0,395.7 L647.1,396.8 M652.0,392.3 L650.7,395.8 M654.5,398.1 L652.8,398.5 M653.6,402.8 L652.5,399.0 M647.7,403.6 L648.3,401.4 M668.9,425.3 L671.8,419.2 M676.8,423.4 L672.7,418.9 M671.8,419.2 L672.7,418.9 M667.8,412.7 L667.7,417.9 M667.8,412.7 L665.3,412.2 M664.7,412.6 L665.3,412.2 M664.7,412.6 L663.9,418.8 M664.2,419.3 L667.7,417.9 M659.9,413.3 L664.7,412.6 M661.7,406.8 L663.9,407.5 M663.9,407.5 L665.3,412.2 M671.8,419.2 L667.7,417.9 M672.7,418.9 L672.7,418.7 M672.7,418.7 L670.9,411.8 M667.8,412.7 L670.0,411.7 M670.9,411.8 L670.0,411.7 M663.9,407.5 L667.7,405.7 M670.0,411.7 L667.7,405.7 M665.1,399.8 L668.6,404.2 M667.7,405.7 L668.6,404.2 M677.4,415.6 L680.8,419.0 M677.4,415.6 L677.5,414.9 M677.5,414.9 L678.9,412.9 M678.9,412.9 L686.8,412.7 M672.7,418.7 L677.4,415.6 M672.4,411.1 L670.9,411.8 M672.4,411.1 L677.5,414.9 M686.6,400.2 L683.0,406.4 M683.0,406.4 L687.3,412.4 M672.4,396.3 L673.8,399.2 M668.6,404.2 L670.4,403.9 M670.4,403.9 L673.8,399.2 M683.6,396.4 L677.2,400.4 M677.2,400.4 L673.8,399.2 M673.1,410.0 L673.1,406.3 M673.1,410.0 L678.3,409.4 M673.1,406.3 L678.2,405.0 M678.3,409.4 L679.7,406.4 M679.7,406.4 L678.2,405.0 M672.4,411.1 L673.1,410.0 M670.4,403.9 L673.1,406.3 M678.9,412.9 L678.3,409.4 M677.2,400.4 L678.2,405.0 M683.0,406.4 L679.7,406.4 M669.0,381.0 L667.7,373.0 M669.0,381.0 L674.5,377.8 M674.5,377.8 L673.5,374.1 M673.5,374.1 L670.3,372.8 M667.7,373.0 L670.3,372.8 M724.3,352.3 L727.2,351.1 M724.3,352.3 L722.4,350.4 M722.7,349.2 L722.4,350.4 M722.7,349.2 L725.1,348.1 M722.4,345.0 L721.6,347.8 M721.6,347.8 L722.7,349.2 M662.3,356.4 L662.7,359.9 M662.7,359.9 L665.5,361.9 M670.3,360.2 L665.5,361.9 M670.3,360.2 L669.5,355.0 M665.7,365.4 L665.5,361.9 M669.1,366.3 L671.5,365.5 M665.7,365.4 L669.1,366.3 M670.3,360.2 L671.7,361.3 M671.7,361.3 L671.5,365.5 M670.3,372.8 L673.0,367.0 M678.2,370.4 L676.6,367.7 M673.5,374.1 L678.2,370.4 M676.6,367.7 L673.0,367.0 M667.7,373.0 L669.1,366.3 M667.7,373.0 L667.7,373.0 M673.0,367.0 L671.5,365.5 M638.5,379.7 L641.2,383.9 M638.5,379.7 L640.4,377.7 M640.4,377.7 L645.1,378.3 M645.9,382.0 L645.1,378.3 M653.6,381.1 L650.8,375.8 M645.7,377.4 L650.8,375.8 M645.7,377.4 L645.1,378.3 M680.4,377.1 L685.1,378.1 M680.4,377.1 L680.3,372.8 M680.3,372.8 L687.0,372.4 M685.1,378.1 L687.0,372.4 M677.8,379.6 L680.4,377.1 M674.5,377.8 L677.8,379.6 M678.2,370.4 L678.7,370.6 M678.7,370.6 L680.3,372.8 M702.9,363.9 L706.3,364.6 M702.9,363.9 L700.6,368.3 M706.3,364.6 L706.1,369.4 M706.1,369.4 L703.1,370.7 M703.1,370.7 L700.6,368.3 M702.2,374.1 L703.1,370.7 M709.9,371.6 L708.9,376.4 M709.9,371.6 L706.1,369.4 M702.2,374.1 L703.7,375.9 M703.7,375.9 L708.9,376.4 M715.5,370.0 L714.1,369.0 M709.9,371.6 L714.1,369.0 M712.9,379.6 L709.4,377.2 M717.4,376.6 L715.5,370.0 M708.9,376.4 L709.4,377.2 M722.4,350.4 L719.6,351.7 M724.3,352.3 L723.2,356.2 M723.2,356.2 L719.4,353.5 M719.6,351.7 L719.4,353.5 M729.8,354.9 L729.5,355.1 M723.2,356.2 L723.2,356.2 M723.2,356.2 L729.5,355.1 M715.5,370.0 L721.5,368.9 M721.5,368.9 L724.6,372.0 M707.1,364.0 L706.3,364.6 M707.1,364.0 L710.7,364.3 M714.1,369.0 L714.0,368.3 M710.7,364.3 L714.0,368.3 M722.2,364.6 L721.5,368.9 M722.2,364.6 L717.9,362.4 M714.0,368.3 L717.9,362.4 M676.6,367.7 L678.1,364.0 M684.2,366.6 L683.0,363.5 M678.7,370.6 L684.2,366.6 M683.0,363.5 L678.1,364.0 M671.7,361.3 L676.2,360.4 M678.1,364.0 L676.2,360.4 M676.2,353.8 L677.3,358.4 M677.3,358.4 L676.2,360.4 M683.0,363.5 L684.0,361.1 M677.3,358.4 L682.3,358.8 M682.3,358.8 L684.0,361.1 M690.3,379.1 L688.5,383.3 M690.3,379.1 L685.2,378.4 M688.5,383.3 L684.9,381.9 M685.2,378.4 L684.9,381.9 M682.9,383.8 L684.9,381.9 M677.8,379.6 L678.2,382.8 M685.1,378.1 L685.2,378.4 M688.8,383.8 L694.4,384.4 M688.8,383.8 L687.7,387.1 M694.4,384.4 L690.9,389.3 M688.5,383.3 L688.8,383.8 M667.1,384.6 L669.0,381.0 M694.4,384.4 L694.6,384.3 M690.6,378.9 L691.2,379.1 M690.6,378.9 L690.3,379.1 M691.2,379.1 L694.6,384.3 M663.9,367.2 L661.7,367.2 M663.9,367.2 L666.6,372.8 M661.7,367.2 L657.7,372.0 M666.6,372.8 L663.2,374.4 M663.2,374.4 L658.0,372.4 M658.0,372.4 L657.7,372.0 M665.7,365.4 L663.9,367.2 M662.7,359.9 L659.1,363.3 M659.1,363.3 L661.7,367.2 M667.7,373.0 L666.6,372.8 M656.5,363.2 L656.8,371.6 M656.5,363.2 L659.1,363.3 M656.8,371.6 L657.7,372.0 M662.7,380.3 L663.2,374.4 M656.7,380.7 L658.0,372.4 M650.8,375.8 L650.8,375.8 M655.9,371.6 L650.8,375.8 M655.9,371.6 L656.8,371.6 M640.4,377.7 L639.5,372.8 M645.7,377.4 L644.7,373.1 M644.7,373.1 L639.5,372.8 M636.8,379.8 L633.5,375.3 M638.5,379.7 L636.8,379.8 M639.5,372.8 L638.5,371.8 M695.2,371.6 L694.1,373.8 M695.2,371.6 L687.8,370.1 M694.1,373.8 L690.1,374.6 M690.1,374.6 L687.3,372.2 M687.3,372.2 L687.8,370.1 M697.2,378.3 L695.1,377.3 M695.1,377.3 L694.1,373.8 M695.7,371.2 L700.0,374.4 M695.7,371.2 L695.2,371.6 M700.0,374.4 L697.2,378.3 M691.2,379.1 L695.1,377.3 M690.6,378.9 L690.1,374.6 M687.0,372.4 L687.3,372.2 M687.7,368.6 L684.2,366.6 M687.7,368.6 L687.8,370.1 M721.6,347.8 L719.2,347.9 M719.6,351.7 L718.4,350.1 M719.2,347.9 L718.4,350.1 M723.2,356.2 L723.0,357.2 M723.0,357.2 L717.2,360.1 M717.2,360.1 L715.2,358.6 M719.4,353.5 L717.2,354.7 M716.0,355.4 L715.9,355.4 M715.9,355.4 L715.2,358.6 M710.7,364.3 L713.2,359.0 M717.9,362.4 L717.2,360.1 M713.2,359.0 L715.2,358.6 M706.9,358.4 L709.9,357.4 M707.1,364.0 L706.9,358.4 M713.2,359.0 L709.9,357.4 M725.4,361.4 L727.8,360.4 M725.4,361.4 L724.8,363.2 M724.8,363.2 L729.0,367.2 M727.8,360.4 L732.3,361.8 M723.0,357.2 L725.4,361.4 M729.5,355.1 L727.8,360.4 M722.2,364.6 L724.8,363.2 M706.2,348.1 L707.2,351.9 M701.9,348.9 L702.1,353.3 M707.2,351.9 L704.7,353.8 M702.1,353.3 L704.7,353.8 M706.9,358.4 L706.6,358.2 M706.6,358.2 L704.7,353.8 M709.9,357.4 L710.0,352.8 M710.0,352.8 L707.2,351.9 M689.2,360.2 L692.1,356.4 M689.2,360.2 L689.0,360.2 M689.0,360.2 L684.9,352.1 M691.8,355.4 L692.1,356.4 M691.8,355.4 L686.0,351.9 M687.7,368.6 L688.7,367.6 M684.0,361.1 L689.0,360.2 M688.7,367.6 L689.6,360.9 M689.6,360.9 L689.2,360.2 M682.3,358.8 L684.3,352.2 M693.6,350.5 L691.8,355.4 M689.6,360.9 L694.7,363.0 M688.7,367.6 L693.1,366.9 M693.1,366.9 L694.7,363.0 M695.7,371.2 L696.0,370.2 M693.1,366.9 L696.0,370.2 M702.2,374.1 L700.0,374.4 M700.6,368.3 L698.5,368.2 M696.0,370.2 L698.5,368.2 M698.0,380.5 L694.8,384.3 M698.0,380.5 L701.9,381.4 M701.9,381.4 L703.9,383.9 M698.2,387.9 L694.8,384.3 M698.2,387.9 L704.3,385.4 M704.3,385.4 L703.9,383.9 M697.2,378.3 L698.0,380.5 M694.6,384.3 L694.8,384.3 M703.7,375.9 L701.9,381.4 M709.4,377.2 L703.9,383.9 M697.1,393.6 L698.2,387.9 M706.4,387.0 L704.3,385.4 M635.6,386.8 L631.8,382.8 M636.3,386.5 L636.2,380.5 M636.2,380.5 L632.3,381.8 M631.8,382.8 L632.3,381.8 M636.8,379.8 L636.2,380.5 M630.4,377.9 L632.3,381.8 M627.3,381.2 L630.3,383.6 M630.3,383.6 L631.8,382.8 M626.0,385.6 L629.9,384.5 M626.0,385.6 L626.3,388.1 M629.9,384.5 L630.6,387.5 M624.7,384.2 L626.0,385.6 M630.3,383.6 L629.9,384.5 M656.5,363.2 L655.6,362.8 M655.9,371.6 L651.3,368.3 M651.3,368.3 L655.6,362.8 M654.1,358.0 L655.0,362.0 M655.0,362.0 L655.6,362.8 M648.6,371.7 L645.8,371.6 M648.6,371.7 L651.1,368.3 M645.8,371.6 L644.7,368.4 M651.1,368.3 L647.9,365.4 M650.8,375.8 L648.6,371.7 M644.7,373.1 L645.8,371.6 M651.3,368.3 L651.1,368.3 M655.0,362.0 L648.4,363.8 M715.5,350.0 L714.7,346.5 M715.5,350.0 L713.8,352.0 M711.6,351.7 L713.8,352.0 M711.6,351.7 L710.8,347.2 M719.2,347.9 L718.2,345.8 M718.4,350.1 L715.5,350.0 M715.9,355.4 L715.8,355.3 M715.6,354.9 L713.8,352.0 M710.0,352.8 L711.6,351.7 M695.6,350.1 L697.0,352.6 M692.1,356.4 L695.8,357.0 M697.0,352.6 L695.8,357.0 M702.1,353.3 L701.6,353.8 M697.0,352.6 L701.6,353.8 M696.8,358.1 L700.4,357.7 M696.8,358.1 L695.8,362.7 M697.1,363.4 L695.8,362.7 M697.1,363.4 L701.7,362.6 M701.7,362.6 L701.9,359.3 M701.9,359.3 L700.4,357.7 M701.6,353.8 L700.4,357.7 M695.8,357.0 L696.8,358.1 M694.7,363.0 L695.8,362.7 M698.5,368.2 L697.1,363.4 M702.9,363.9 L701.7,362.6 M706.6,358.2 L701.9,359.3 M639.6,356.8 L637.1,354.4 M639.6,356.8 L639.5,360.3 M637.1,354.4 L635.5,358.1 M636.6,360.7 L635.5,358.1 M636.6,352.7 L637.1,354.4 M636.6,352.7 L642.0,352.5 M643.5,355.2 L643.5,355.1 M642.0,352.5 L643.5,355.1 M643.5,355.2 L639.6,356.8 M643.2,359.7 L643.9,356.9 M643.9,356.9 L643.5,355.2 M633.9,361.1 L632.2,357.6 M632.4,357.5 L635.5,358.1 M643.9,356.9 L647.3,358.3 M647.6,359.1 L647.3,358.3 M705.8,320.8 L705.7,321.0 M702.1,323.4 L705.7,321.0 M702.1,323.4 L700.3,321.3 M700.3,321.3 L702.3,318.9 M674.1,335.8 L675.6,336.5 M673.8,334.8 L674.1,335.8 M673.8,334.8 L676.2,331.3 M676.2,331.3 L679.3,332.3 M675.6,336.5 L679.1,335.0 M679.1,335.0 L679.3,332.3 M679.3,332.3 L680.4,331.5 M680.4,331.5 L681.4,329.6 M676.2,331.3 L675.4,328.9 M675.4,328.9 L679.3,326.6 M681.4,329.6 L679.3,326.6 M687.5,311.2 L686.6,316.0 M687.5,311.2 L687.1,310.5 M686.6,316.0 L684.6,316.4 M684.6,316.4 L681.4,313.3 M662.4,350.2 L659.2,351.3 M658.3,348.9 L659.2,351.3 M658.3,348.9 L660.8,347.8 M662.4,350.2 L662.4,349.8 M662.4,349.8 L660.8,347.8 M660.9,347.4 L664.8,345.3 M660.9,347.4 L659.5,344.4 M659.9,344.1 L664.8,345.3 M672.9,327.7 L675.4,328.9 M673.8,334.8 L670.0,332.5 M664.8,348.4 L662.4,349.8 M664.8,348.4 L664.8,345.3 M660.8,347.8 L660.9,347.4 M664.8,345.3 L664.8,345.3 M679.1,335.0 L682.5,337.8 M675.6,336.5 L677.1,339.6 M677.1,339.6 L680.5,340.1 M680.5,340.1 L682.5,337.8 M683.9,334.6 L680.4,331.5 M683.8,336.3 L683.9,334.6 M683.8,336.3 L682.6,337.8 M682.6,337.8 L682.5,337.8 M628.7,359.9 L629.3,361.8 M631.7,361.4 L630.9,358.4 M658.3,348.9 L657.8,348.7 M657.8,348.7 L656.7,346.0 M651.5,357.7 L654.3,355.2 M651.5,358.4 L651.5,357.7 M656.7,357.5 L654.3,355.2 M665.2,352.6 L665.8,352.3 M665.2,355.8 L665.2,352.6 M667.4,355.4 L667.1,353.0 M665.8,352.3 L667.1,353.0 M661.7,355.1 L660.9,354.0 M661.7,355.1 L664.8,352.5 M660.9,354.0 L662.6,350.8 M664.8,352.5 L662.6,350.8 M658.5,353.0 L660.9,354.0 M658.5,353.0 L658.5,353.0 M662.0,356.5 L661.7,355.1 M657.1,357.4 L658.5,353.0 M665.2,352.6 L664.8,352.5 M659.2,351.3 L658.5,353.0 M662.4,350.2 L662.6,350.8 M666.7,349.7 L665.8,352.3 M664.8,348.4 L666.7,349.7 M698.2,328.9 L697.0,326.1 M698.2,328.9 L698.6,329.0 M698.6,329.0 L702.2,326.9 M697.3,325.4 L697.0,326.1 M697.3,325.4 L702.1,324.8 M702.2,326.9 L702.4,325.5 M702.1,324.8 L702.4,325.5 M702.1,323.4 L702.1,324.8 M705.7,321.0 L706.3,325.7 M706.3,325.7 L702.4,325.5 M693.4,307.5 L693.3,311.0 M698.6,310.0 L697.0,312.0 M697.0,312.0 L693.3,311.0 M687.5,311.2 L691.9,312.8 M693.3,311.0 L691.9,312.8 M697.1,323.0 L697.3,325.4 M697.1,323.0 L698.3,321.5 M700.3,321.3 L699.3,321.2 M698.3,321.5 L699.3,321.2 M683.9,334.6 L685.5,332.0 M681.4,329.6 L683.2,329.4 M683.2,329.4 L685.5,332.0 M686.6,316.0 L688.5,317.6 M691.9,312.8 L692.1,313.7 M692.1,313.7 L690.4,317.2 M688.5,317.6 L690.4,317.2 M685.6,326.5 L683.2,329.4 M685.6,326.5 L683.2,323.6 M679.3,326.6 L679.3,326.4 M683.2,323.6 L679.3,326.4 M708.5,347.6 L708.1,344.9 M713.0,346.8 L712.6,344.5 M712.6,344.5 L710.4,343.2 M708.1,344.9 L710.4,343.2 M708.1,344.9 L705.2,343.4 M705.2,348.3 L703.9,345.1 M703.9,345.1 L705.2,343.4 M717.9,343.8 L714.9,342.0 M717.9,343.8 L720.7,339.4 M715.9,338.3 L714.5,339.4 M714.5,339.4 L714.9,342.0 M712.6,344.5 L714.9,342.0 M718.4,345.8 L717.9,343.8 M674.3,350.1 L675.1,349.2 M674.3,350.1 L674.2,350.1 M674.2,350.1 L671.6,348.8 M675.1,349.2 L673.4,346.2 M671.6,348.8 L671.4,347.0 M673.4,346.2 L671.4,347.0 M673.4,354.3 L672.5,352.0 M676.1,353.8 L674.3,350.1 M672.5,352.0 L674.2,350.1 M671.4,347.0 L671.0,346.8 M668.1,349.3 L669.6,350.3 M669.6,350.3 L671.6,348.8 M668.1,349.3 L668.5,347.5 M668.5,347.5 L671.0,346.8 M677.1,344.8 L677.2,345.2 M677.1,344.8 L680.7,342.1 M677.2,345.2 L680.8,347.4 M680.7,342.1 L682.6,344.3 M682.6,344.3 L680.8,347.4 M679.0,352.7 L676.0,349.0 M679.0,352.7 L680.7,348.4 M680.7,348.4 L676.1,349.0 M676.0,349.0 L676.1,349.0 M675.1,349.2 L676.0,349.0 M679.0,353.2 L679.0,352.7 M680.9,348.3 L680.8,347.4 M680.9,348.3 L680.7,348.4 M677.2,345.2 L676.1,349.0 M643.5,355.1 L646.4,354.0 M647.3,358.3 L648.1,355.5 M646.4,354.0 L648.1,355.5 M643.4,349.0 L642.0,352.5 M643.4,349.0 L647.1,351.4 M646.4,354.0 L647.1,351.4 M642.5,346.0 L643.4,349.0 M649.9,348.6 L649.6,350.3 M647.1,351.4 L649.6,350.3 M651.5,357.7 L649.9,355.4 M648.1,355.5 L649.9,355.4 M656.3,352.4 L654.3,354.9 M656.3,352.4 L655.2,350.5 M655.2,350.5 L655.2,350.5 M655.2,350.5 L651.4,352.3 M654.3,354.9 L651.5,352.9 M651.4,352.3 L651.5,352.9 M658.5,353.0 L656.3,352.4 M654.3,355.2 L654.3,354.9 M657.8,348.7 L655.2,350.5 M653.6,347.5 L655.2,350.5 M649.6,350.3 L651.4,352.3 M649.9,355.4 L651.5,352.9 M671.5,352.0 L669.7,350.6 M671.5,352.0 L670.0,354.4 M669.7,350.6 L668.5,352.8 M670.0,354.4 L668.5,352.8 M672.5,352.0 L671.5,352.0 M669.6,350.3 L669.7,350.6 M670.1,354.9 L670.0,354.4 M668.1,349.3 L666.7,349.7 M667.1,353.0 L668.5,352.8 M692.4,328.3 L693.1,326.7 M692.4,328.3 L688.6,328.7 M693.1,326.7 L691.4,323.3 M688.6,328.7 L687.0,326.7 M687.0,326.7 L689.6,323.2 M689.6,323.2 L691.4,323.3 M697.0,326.1 L693.1,326.7 M693.4,330.7 L695.9,331.2 M695.9,331.2 L698.2,328.9 M693.4,330.7 L692.4,328.3 M697.1,323.0 L693.1,321.6 M693.1,321.6 L691.4,323.3 M687.9,331.7 L685.5,332.0 M685.6,326.5 L687.0,326.7 M687.9,331.7 L688.6,328.7 M683.3,321.8 L683.2,323.6 M687.8,321.0 L683.3,321.8 M687.8,321.0 L689.6,323.2 M687.8,321.0 L688.5,317.6 M690.4,317.2 L693.3,319.3 M693.3,319.3 L693.1,321.6 M680.7,342.1 L680.5,340.1 M682.6,344.3 L686.3,344.3 M682.6,337.8 L686.7,341.6 M686.7,341.6 L686.3,344.3 M688.6,336.3 L689.3,333.5 M688.6,336.3 L689.4,337.8 M689.4,337.8 L694.7,336.6 M694.7,336.6 L691.8,333.0 M689.3,333.5 L691.8,333.0 M687.9,331.7 L689.3,333.5 M683.8,336.3 L688.6,336.3 M689.3,339.6 L686.7,341.6 M689.3,339.6 L689.4,337.8 M693.4,330.7 L691.8,333.0 M694.7,336.6 L695.3,336.8 M695.9,331.2 L697.1,334.6 M695.3,336.8 L697.1,334.6 M699.7,334.4 L701.8,337.9 M705.5,336.7 L701.8,337.9 M699.7,334.4 L701.4,332.2 M705.5,336.7 L705.5,336.5 M705.5,336.5 L704.3,333.4 M704.3,333.4 L701.4,332.2 M694.9,318.3 L695.1,315.2 M694.9,318.3 L696.2,318.6 M696.2,318.6 L699.2,316.8 M695.1,315.2 L697.0,314.2 M697.0,314.2 L699.8,315.9 M699.8,315.9 L699.2,316.8 M693.3,319.3 L694.9,318.3 M692.1,313.7 L695.1,315.2 M698.3,321.5 L696.2,318.6 M699.3,321.2 L699.2,316.8 M697.0,312.0 L697.0,314.2 M700.1,315.8 L699.8,315.9 M682.8,319.0 L679.1,317.1 M682.8,319.0 L683.0,321.5 M683.0,321.5 L676.7,321.3 M684.6,316.4 L682.8,319.0 M683.3,321.8 L683.0,321.5 M679.3,326.4 L676.2,322.1 M711.1,338.4 L706.4,337.9 M711.1,338.4 L711.4,338.8 M711.4,338.8 L710.1,341.6 M710.1,341.6 L706.3,341.1 M706.4,337.9 L706.3,341.1 M711.1,333.9 L710.0,333.2 M710.0,333.2 L705.5,336.5 M705.5,336.7 L706.4,337.9 M711.1,333.9 L711.1,338.4 M711.1,333.9 L714.5,333.0 M714.5,339.4 L711.4,338.8 M710.4,343.2 L710.1,341.6 M705.2,342.6 L705.2,343.4 M705.2,342.6 L706.3,341.1 M701.8,337.9 L700.9,339.9 M705.2,342.6 L700.9,339.9 M664.8,345.3 L665.4,344.7 M665.4,344.7 L664.0,341.9 M668.5,347.5 L666.8,344.6 M665.4,344.7 L666.8,344.6 M686.3,344.3 L686.6,344.8 M680.9,348.3 L684.5,350.1 M686.6,344.8 L684.5,350.1 M693.0,348.9 L693.3,350.5 M693.0,348.9 L689.4,349.0 M689.4,349.0 L688.5,351.4 M685.4,352.0 L684.5,350.1 M702.2,326.9 L702.9,328.2 M698.6,329.0 L701.3,331.8 M702.9,328.2 L701.3,331.8 M697.1,334.6 L699.7,334.4 M701.4,332.2 L701.4,332.0 M701.3,331.8 L701.4,332.0 M710.3,328.2 L709.1,331.7 M710.3,328.2 L708.2,326.3 M709.1,331.7 L706.5,331.1 M706.5,331.1 L705.4,329.4 M705.4,329.2 L705.4,329.4 M705.4,329.2 L707.0,326.3 M708.2,326.3 L707.0,326.3 M710.0,333.2 L709.1,331.7 M714.0,327.5 L710.3,328.2 M710.5,322.3 L708.2,326.3 M704.3,333.4 L706.5,331.1 M701.4,332.0 L705.4,329.4 M702.9,328.2 L705.4,329.2 M706.3,325.7 L707.0,326.3 M671.0,346.8 L670.3,344.3 M666.8,344.6 L666.8,344.6 M670.3,344.3 L666.8,344.6 M666.9,337.7 L669.1,339.3 M666.8,344.6 L669.1,339.3 M686.6,344.8 L688.4,345.5 M689.4,349.0 L689.0,346.3 M689.0,346.3 L688.4,345.5 M689.3,339.6 L692.8,341.9 M692.8,341.9 L692.6,342.6 M688.4,345.5 L692.6,342.6 M702.8,345.2 L703.9,345.1 M702.8,345.2 L700.4,348.4 M700.4,348.4 L700.3,349.2 M699.3,343.0 L700.2,340.3 M699.3,343.0 L698.2,343.8 M698.2,343.8 L694.0,341.2 M700.2,340.3 L695.5,337.9 M695.5,337.9 L694.0,341.2 M702.8,345.2 L699.3,343.0 M700.9,339.9 L700.2,340.3 M697.9,344.5 L700.4,348.4 M697.9,344.5 L698.2,343.8 M695.3,336.8 L695.5,337.9 M692.8,341.9 L694.0,341.2 M671.0,343.4 L670.8,339.7 M671.0,343.4 L674.2,344.5 M675.3,341.8 L670.8,339.7 M675.3,341.8 L675.4,343.8 M670.8,339.7 L670.8,339.7 M675.4,343.8 L674.2,344.5 M670.3,344.3 L671.0,343.4 M669.1,339.3 L670.8,339.7 M673.4,346.2 L674.2,344.5 M677.1,339.6 L675.3,341.8 M674.1,335.8 L670.8,339.7 M677.1,344.8 L675.4,343.8 M696.1,347.8 L696.2,345.9 M696.1,347.8 L693.1,348.7 M696.2,345.9 L693.6,345.2 M693.6,345.2 L692.6,346.7 M693.1,348.7 L692.6,346.7 M697.9,344.5 L696.2,345.9 M697.4,349.7 L696.1,347.8 M693.0,348.9 L693.1,348.7 M692.6,342.6 L693.6,345.2 M689.0,346.3 L692.6,346.7 M685.9,303.4 L685.9,306.4 M685.9,306.4 L689.8,308.6 M651.5,331.0 L656.1,329.6 M651.5,331.0 L652.3,335.6 M652.3,335.6 L654.6,336.7 M657.4,331.6 L656.1,329.6 M657.4,331.6 L656.7,335.7 M656.7,335.7 L654.6,336.7 M685.9,306.4 L682.7,310.2 M678.1,304.5 L682.7,310.2 M654.0,295.6 L652.6,295.7 M654.6,298.8 L652.8,299.0 M658.4,307.3 L662.2,313.2 M658.4,307.3 L659.0,306.3 M663.2,305.5 L665.8,312.4 M662.2,313.2 L665.5,312.7 M665.8,312.4 L665.5,312.7 M652.7,303.0 L655.3,302.8 M669.6,309.9 L668.1,311.9 M668.1,311.9 L665.8,312.4 M658.2,307.4 L655.3,313.3 M658.2,307.4 L651.8,307.3 M655.3,313.3 L649.9,310.4 M658.4,307.3 L658.2,307.4 M655.3,313.3 L655.5,313.7 M662.2,313.2 L660.1,315.2 M660.1,315.2 L655.5,313.7 M660.1,337.4 L656.7,335.7 M660.1,337.4 L663.3,334.7 M657.4,331.6 L662.8,331.7 M663.3,334.7 L662.8,331.7 M656.8,326.0 L656.1,329.6 M656.8,326.0 L662.6,326.2 M662.6,326.2 L664.2,329.6 M662.8,331.7 L664.2,329.6 M639.7,333.7 L639.7,336.9 M633.9,331.6 L639.7,333.7 M639.7,336.9 L636.9,338.9 M658.2,341.5 L660.3,338.9 M658.2,341.5 L660.2,344.0 M660.3,338.9 L664.3,341.7 M663.3,334.7 L667.2,337.1 M660.1,337.4 L660.3,338.9 M656.1,341.8 L654.5,341.2 M656.1,341.8 L657.0,345.8 M654.5,341.2 L652.5,346.3 M653.0,347.7 L652.5,346.3 M654.3,340.9 L654.5,341.2 M654.3,340.9 L654.6,336.7 M658.2,341.5 L656.1,341.8 M645.6,339.9 L644.8,336.4 M645.6,339.9 L642.5,340.7 M644.8,336.4 L641.4,337.6 M642.5,340.7 L641.4,337.6 M641.4,332.3 L644.0,333.5 M639.7,333.7 L641.4,332.3 M644.9,336.2 L644.0,333.5 M644.9,336.2 L644.8,336.4 M639.7,336.9 L641.4,337.6 M641.4,343.2 L642.5,340.7 M649.2,341.0 L649.4,344.3 M649.2,341.0 L648.9,340.8 M648.9,340.8 L647.0,340.8 M647.0,340.8 L644.3,344.6 M646.1,346.7 L649.4,344.3 M652.5,346.3 L649.4,344.3 M654.3,340.9 L649.2,341.0 M649.4,336.9 L648.9,340.8 M649.4,336.9 L652.3,335.6 M649.4,336.9 L648.0,335.9 M648.0,335.9 L644.9,336.2 M645.6,339.9 L647.0,340.8 M641.4,332.3 L641.6,329.9 M638.8,326.7 L641.6,329.9 M650.6,318.0 L654.1,316.6 M650.6,318.0 L650.2,318.8 M650.2,318.8 L654.4,323.9 M654.1,316.6 L657.3,320.9 M657.3,320.9 L655.7,324.1 M655.7,324.1 L654.4,323.9 M648.0,312.5 L650.6,318.0 M655.5,313.7 L654.1,316.6 M643.2,318.0 L647.0,320.6 M647.0,320.6 L650.2,318.8 M660.6,319.2 L660.1,315.2 M660.6,319.2 L657.3,320.9 M682.7,310.2 L682.8,311.0 M668.9,327.2 L664.8,329.6 M668.9,327.2 L671.7,329.7 M669.7,333.0 L664.8,329.6 M664.2,329.6 L664.8,329.6 M650.0,325.7 L646.9,324.0 M650.0,325.7 L650.2,330.4 M645.1,328.6 L645.6,325.0 M645.1,328.6 L647.5,331.0 M646.9,324.0 L645.6,325.0 M650.2,330.4 L648.1,331.1 M648.1,331.1 L647.5,331.0 M647.0,320.6 L646.9,324.0 M654.4,323.9 L650.0,325.7 M651.5,331.0 L650.2,330.4 M656.8,326.0 L655.7,324.1 M639.6,324.4 L645.6,325.0 M641.6,329.9 L645.1,328.6 M644.0,333.5 L647.5,331.0 M648.0,335.9 L648.1,331.1 M668.1,311.9 L671.1,315.2 M674.1,307.9 L676.3,313.4 M671.1,315.2 L676.3,313.4 M680.8,314.2 L676.6,313.5 M676.3,313.4 L676.6,313.5 M676.7,321.2 L674.8,319.7 M676.6,313.5 L674.8,319.7 M665.9,318.8 L670.7,318.8 M665.9,318.8 L663.8,320.7 M669.1,324.5 L664.3,322.8 M669.1,324.5 L670.4,323.7 M670.4,323.7 L671.1,319.3 M670.7,318.8 L671.1,319.3 M663.8,320.7 L664.3,322.8 M671.1,315.2 L670.7,318.8 M665.5,312.7 L665.9,318.8 M660.6,319.2 L663.8,320.7 M668.9,327.2 L669.1,324.5 M662.6,326.2 L664.3,322.8 M674.3,325.4 L670.4,323.7 M674.8,319.7 L671.1,319.3 M675.5,306.6 L674.2,303.3 M682.7,302.9 L682.5,301.6 M669.1,307.1 L673.7,308.2 M689.8,304.1 L690.9,299.8 M692.5,307.1 L695.7,303.7 M695.7,303.7 L694.1,299.1 M701.2,297.6 L701.6,298.9 M695.7,303.7 L698.8,304.5 M698.8,304.5 L701.6,298.9 M725.5,320.3 L720.5,315.5 M720.7,314.1 L720.5,315.5 M717.7,323.1 L718.7,317.2 M720.5,315.5 L718.7,317.2 M712.3,317.1 L711.8,315.5 M718.7,317.2 L711.8,315.5 M698.8,304.5 L700.3,306.9 M698.1,309.8 L700.3,306.9 M714.5,301.4 L711.5,301.8 M715.9,307.4 L712.8,307.8 M712.8,307.8 L710.5,306.7 M709.2,295.9 L709.3,301.1 M701.6,298.9 L703.9,300.9 M703.9,300.9 L709.3,301.1 M709.3,301.1 L709.3,301.2 M703.3,319.9 L705.2,317.5 M700.7,313.9 L703.9,313.2 M703.9,313.2 L705.2,317.5 M708.2,321.6 L708.8,317.6 M705.2,317.5 L708.8,317.6 M711.8,315.5 L711.7,315.4 M708.8,317.6 L709.6,317.0 M711.3,315.7 L711.7,315.4 M712.8,307.8 L711.3,314.5 M716.9,311.6 L711.7,315.2 M711.3,314.5 L711.7,315.2 M711.7,315.2 L711.7,315.4 M702.3,307.1 L704.4,312.7 M702.3,307.1 L704.0,306.1 M704.0,306.1 L707.7,306.5 M707.7,311.2 L707.6,311.9 M707.6,311.9 L704.4,312.7 M700.3,306.9 L702.3,307.1 M703.9,313.2 L704.4,312.7 M703.9,300.9 L704.0,306.1 M711.3,314.5 L711.0,314.3 M707.9,312.1 L707.6,311.9 M722.4,306.0 L720.2,314.2 M715.4,305.0 L720.0,303.6 M669.9,266.8 L670.2,271.3 M670.2,271.3 L671.1,272.3 M674.7,265.8 L675.7,271.5 M671.1,272.3 L675.7,271.5 M680.1,264.6 L680.9,269.8 M680.9,269.8 L675.8,271.5 M675.8,271.5 L675.7,271.5 M720.1,289.0 L715.7,287.0 M714.4,293.4 L712.8,290.1 M715.7,287.0 L712.8,290.1 M717.5,280.2 L714.7,283.1 M715.7,287.0 L714.7,283.1 M651.3,280.7 L652.5,280.2 M649.7,271.5 L654.3,273.1 M654.3,273.1 L655.1,275.4 M652.5,280.2 L655.1,275.4 M654.3,268.1 L655.2,269.0 M654.3,273.1 L655.6,271.5 M655.2,269.0 L655.6,271.5 M655.2,269.0 L658.3,268.2 M655.6,271.5 L658.7,271.6 M658.7,271.6 L659.1,269.1 M685.7,263.4 L686.7,270.1 M693.2,261.8 L690.3,271.0 M690.3,271.0 L686.7,270.1 M680.9,269.8 L683.6,271.7 M686.7,270.1 L683.6,271.7 M677.1,275.8 L675.8,271.5 M677.1,275.8 L683.1,274.2 M683.6,271.7 L683.1,274.2 M718.1,264.9 L714.6,267.4 M717.9,273.1 L714.9,270.0 M714.6,267.4 L714.9,270.0 M698.3,271.8 L705.8,271.8 M696.7,261.1 L698.3,271.8 M700.4,260.3 L706.4,268.0 M705.8,271.8 L705.9,271.6 M706.4,268.0 L705.9,271.6 M684.4,277.3 L683.1,274.2 M690.3,271.0 L691.7,272.5 M684.4,277.3 L689.0,279.7 M689.0,279.7 L691.7,272.5 M698.3,271.8 L697.3,272.6 M697.3,272.6 L691.7,272.5 M697.7,281.2 L697.3,272.6 M697.7,281.2 L700.6,281.3 M705.8,271.8 L706.6,274.2 M700.6,281.3 L706.6,274.2 M714.9,270.0 L705.9,271.6 M717.1,275.9 L708.4,276.0 M708.4,276.0 L706.6,274.2 M709.1,295.9 L707.9,291.5 M712.8,290.1 L710.2,289.5 M707.9,291.5 L710.2,289.5 M654.7,299.4 L660.5,296.2 M652.7,288.5 L656.7,288.7 M656.7,288.7 L660.5,296.2 M671.1,272.3 L670.3,276.0 M677.1,275.8 L676.3,278.1 M670.3,276.0 L671.1,277.0 M676.3,278.1 L671.1,277.0 M679.2,281.4 L677.1,280.2 M679.2,281.4 L684.4,277.3 M676.3,278.1 L677.1,280.2 M677.2,289.0 L680.3,283.8 M677.2,289.0 L679.7,291.4 M679.7,291.4 L684.5,291.0 M683.9,284.9 L684.9,290.4 M683.9,284.9 L680.3,283.8 M684.9,290.4 L684.5,291.0 M688.1,295.1 L685.7,294.2 M688.1,295.1 L689.9,300.0 M685.7,294.2 L682.8,298.1 M682.8,298.1 L683.6,301.3 M692.2,292.7 L694.6,299.0 M692.2,292.7 L688.1,295.1 M684.5,291.0 L685.7,294.2 M678.7,296.2 L679.7,291.4 M678.7,296.2 L682.8,298.1 M698.5,293.0 L702.9,296.1 M698.5,293.0 L702.1,289.2 M702.9,296.1 L704.9,291.0 M704.9,291.0 L703.1,289.0 M702.1,289.2 L703.1,289.0 M703.3,297.2 L702.9,296.1 M698.3,293.0 L695.9,298.7 M698.3,293.0 L698.5,293.0 M707.9,291.5 L704.9,291.0 M713.1,263.4 L713.5,266.4 M713.1,263.4 L709.5,262.7 M713.5,266.4 L707.4,267.1 M709.5,262.7 L707.4,267.1 M714.7,261.8 L713.1,263.4 M714.6,267.4 L713.5,266.4 M708.5,258.6 L709.5,262.7 M706.4,268.0 L707.4,267.1 M697.3,281.5 L689.6,281.2 M697.3,281.5 L697.1,286.2 M697.1,286.2 L694.0,290.2 M689.4,281.5 L690.8,288.5 M689.4,281.5 L689.6,281.2 M690.8,288.5 L693.2,290.3 M694.0,290.2 L693.2,290.3 M697.7,281.2 L697.3,281.5 M689.0,279.7 L689.6,281.2 M702.1,289.2 L697.1,286.2 M698.3,293.0 L694.0,290.2 M684.9,290.4 L690.8,288.5 M683.9,284.9 L689.4,281.5 M679.2,281.4 L680.3,283.8 M692.2,292.7 L693.2,290.3 M708.9,285.1 L703.9,286.9 M708.9,285.1 L709.8,282.9 M709.8,282.9 L708.9,281.6 M708.9,281.6 L702.0,282.3 M702.0,282.3 L703.9,286.9 M710.2,289.5 L708.9,285.1 M703.1,289.0 L703.9,286.9 M714.7,283.1 L709.8,282.9 M708.4,276.0 L708.9,281.6 M700.6,281.3 L702.0,282.3 M672.0,295.4 L676.5,297.3 M672.0,295.4 L671.5,295.5 M671.5,295.5 L669.8,304.3 M676.5,297.3 L676.7,302.8 M678.7,296.2 L676.5,297.3 M675.8,289.1 L677.2,289.0 M675.8,289.1 L672.0,295.4 M660.5,296.2 L662.8,296.4 M662.8,296.4 L665.6,305.0 M662.8,296.4 L665.8,293.8 M671.5,295.5 L667.1,293.5 M667.1,293.5 L665.8,293.8 M656.7,288.7 L660.9,286.0 M665.8,293.8 L660.9,286.0 M652.5,280.2 L659.8,281.0 M659.8,281.0 L661.0,285.8 M661.0,285.8 L660.9,286.0 M660.2,275.4 L660.5,275.7 M660.2,275.4 L660.0,273.3 M660.5,275.7 L665.1,274.4 M660.0,273.3 L664.0,269.3 M665.1,274.4 L665.6,271.5 M665.6,271.5 L664.0,269.3 M655.1,275.4 L660.2,275.4 M659.8,281.0 L660.8,279.4 M660.8,279.4 L660.5,275.7 M658.7,271.6 L660.0,273.3 M660.8,279.4 L665.5,279.4 M666.9,276.3 L665.5,279.4 M666.9,276.3 L665.1,274.4 M663.8,268.1 L664.0,269.3 M670.3,276.0 L666.9,276.3 M670.2,271.3 L665.6,271.5 M672.6,286.6 L672.5,283.8 M672.6,286.6 L668.8,288.5 M672.5,283.8 L669.6,281.7 M668.8,288.5 L665.5,285.0 M665.5,285.0 L667.5,282.0 M667.5,282.0 L669.6,281.7 M677.1,280.2 L672.5,283.8 M675.8,289.1 L672.6,286.6 M667.1,293.5 L668.8,288.5 M671.1,277.0 L669.6,281.7 M661.0,285.8 L665.5,285.0 M665.5,279.4 L667.5,282.0 M730.5,283.3 L728.1,287.4 M732.4,283.1 L730.5,283.3 M733.0,288.5 L728.1,287.4 M721.7,274.4 L718.6,276.0 M718.9,269.6 L721.7,274.4 M718.6,276.0 L717.1,276.0 M720.7,299.4 L722.1,293.9 M720.7,299.4 L720.5,299.6 M715.9,294.5 L721.6,293.2 M721.6,293.2 L722.1,293.9 M725.9,297.4 L725.9,294.7 M725.9,297.4 L720.7,299.4 M725.9,294.7 L722.1,293.9 M728.6,300.0 L725.9,297.4 M730.2,276.3 L728.6,277.9 M730.2,276.3 L726.1,273.2 M728.6,277.9 L724.3,278.5 M724.3,278.5 L723.1,274.5 M726.1,273.2 L724.1,273.6 M724.1,273.6 L723.1,274.5 M730.5,276.2 L730.2,276.3 M730.5,283.3 L728.4,281.9 M728.4,281.9 L728.6,277.9 M728.2,269.0 L726.1,273.2 M722.3,267.2 L724.1,273.6 M721.7,274.4 L723.1,274.5 M723.6,279.6 L725.7,282.6 M723.6,279.6 L721.5,280.3 M721.5,280.3 L720.0,282.3 M724.8,285.1 L725.7,282.6 M724.8,285.1 L723.1,285.4 M728.4,281.9 L725.7,282.6 M724.3,278.5 L723.6,279.6 M718.6,276.0 L721.5,280.3 M727.6,287.7 L728.1,287.4 M727.6,287.7 L724.8,285.1 M721.8,290.2 L721.6,293.2 M721.8,290.2 L720.5,288.6 M732.2,293.2 L727.1,289.2 M731.9,294.2 L726.4,294.2 M726.4,294.2 L726.2,290.2 M727.1,289.2 L726.2,290.2 M727.6,287.7 L727.1,289.2 M725.9,294.7 L726.4,294.2 M721.8,290.2 L726.2,290.2 M668.0,254.0 L671.6,244.7 M665.6,253.7 L668.0,254.0 M668.0,254.0 L671.2,256.1 M674.3,244.6 L676.7,250.0 M676.7,250.0 L671.2,256.1 M667.7,264.3 L668.6,267.0 M667.7,264.3 L671.4,256.7 M678.0,265.1 L677.5,259.9 M677.5,259.9 L671.4,256.7 M661.9,260.9 L667.7,264.3 M671.2,256.1 L671.4,256.7 M691.9,228.9 L697.8,228.3 M695.6,221.9 L697.8,228.3 M679.1,258.4 L686.9,258.6 M686.9,258.6 L687.8,263.0 M677.5,259.9 L679.1,258.4 M733.0,261.3 L727.9,262.5 M727.9,262.5 L726.3,268.4 M685.3,253.7 L680.2,252.3 M685.3,253.7 L687.8,249.9 M684.1,246.7 L687.8,249.9 M684.1,246.7 L679.7,251.3 M679.7,251.3 L680.2,252.3 M679.1,258.4 L680.2,252.3 M686.9,258.6 L687.0,258.2 M687.0,258.2 L685.3,253.7 M683.9,243.3 L684.1,246.7 M676.7,250.0 L679.7,251.3 M703.1,211.8 L704.4,212.8 M709.6,208.7 L709.7,211.0 M704.4,212.8 L709.7,211.0 M697.8,228.3 L698.9,228.9 M698.9,228.9 L703.1,224.2 M697.3,219.5 L703.1,224.2 M704.5,233.2 L711.9,233.5 M704.5,233.2 L707.1,225.2 M711.9,233.5 L710.5,225.5 M710.5,225.5 L707.1,225.2 M703.1,224.2 L705.4,223.9 M698.6,217.4 L706.0,217.7 M705.4,223.9 L706.0,217.7 M704.4,212.8 L706.3,217.4 M706.3,217.4 L706.0,217.7 M722.2,245.9 L719.9,242.2 M722.2,245.9 L731.1,244.3 M719.9,242.2 L721.3,237.5 M730.8,239.5 L722.7,237.1 M722.7,237.1 L721.3,237.5 M727.0,253.5 L721.6,248.4 M721.6,248.4 L722.2,245.9 M731.2,252.6 L727.0,253.5 M728.0,228.4 L722.7,237.1 M718.1,231.1 L717.3,233.4 M717.3,233.4 L721.3,237.5 M725.7,227.2 L724.4,227.2 M718.1,231.1 L724.4,227.2 M698.9,228.9 L699.5,230.8 M704.5,233.2 L704.2,233.3 M707.1,225.2 L705.4,223.9 M704.2,233.3 L699.5,230.8 M692.9,235.3 L692.2,235.1 M692.9,235.3 L695.6,235.1 M695.6,235.1 L699.5,230.8 M695.6,235.1 L700.0,239.4 M692.9,235.3 L694.6,242.2 M700.0,239.4 L694.6,242.2 M688.7,240.8 L694.5,242.3 M694.6,242.2 L694.5,242.3 M687.8,249.9 L690.5,249.7 M687.0,242.2 L691.0,246.1 M690.5,249.7 L691.0,246.1 M694.5,242.3 L694.5,243.6 M691.0,246.1 L694.5,243.6 M715.5,207.2 L716.5,213.1 M722.3,211.8 L716.5,213.1 M719.3,223.3 L720.2,219.3 M719.3,223.3 L715.5,225.1 M715.5,225.1 L712.6,224.1 M718.0,218.0 L720.2,219.3 M718.0,218.0 L712.9,220.7 M712.9,220.7 L712.6,224.1 M724.4,227.2 L719.3,223.3 M723.7,218.1 L720.2,219.3 M718.1,231.1 L715.5,225.1 M717.3,233.4 L712.7,234.2 M711.9,233.5 L712.7,234.2 M710.5,225.5 L712.6,224.1 M716.5,213.1 L716.3,213.3 M716.3,213.3 L718.0,218.0 M714.9,213.6 L710.1,211.8 M714.9,213.6 L711.4,218.2 M710.1,211.8 L708.2,216.9 M711.4,218.2 L708.2,216.9 M716.3,213.3 L714.9,213.6 M709.7,211.0 L710.1,211.8 M712.9,220.7 L711.4,218.2 M706.3,217.4 L708.2,216.9 M724.9,260.3 L717.9,264.7 M724.9,260.3 L724.2,257.5 M724.2,257.5 L719.6,256.0 M716.8,263.7 L717.9,256.7 M717.9,256.7 L719.6,256.0 M727.9,262.5 L724.9,260.3 M727.0,253.5 L724.2,257.5 M720.6,249.1 L721.6,248.4 M720.6,249.1 L719.6,256.0 M715.4,255.4 L711.8,256.4 M710.5,258.7 L711.8,256.4 M715.4,255.4 L717.9,256.7 M715.4,255.4 L715.2,250.0 M720.6,249.1 L715.2,250.0 M719.9,242.2 L714.4,242.9 M715.2,250.0 L713.2,248.8 M713.2,248.8 L714.4,242.9 M712.7,234.2 L711.1,240.5 M714.4,242.9 L711.1,240.5 M711.1,240.5 L709.0,241.2 M704.2,233.3 L703.4,237.5 M709.0,241.2 L703.4,237.5 M700.0,239.4 L700.7,239.5 M703.4,237.5 L700.7,239.5 M711.8,256.4 L709.4,251.7 M713.2,248.8 L711.4,249.3 M709.4,251.7 L711.4,249.3 M709.0,241.2 L707.0,244.8 M711.4,249.3 L707.0,244.8 M691.6,250.6 L694.8,250.3 M691.6,250.6 L691.5,255.5 M694.8,250.3 L698.4,254.6 M691.5,255.5 L696.3,257.9 M696.3,257.9 L698.4,254.6 M687.0,258.2 L691.5,255.5 M690.5,249.7 L691.6,250.6 M696.9,261.1 L696.3,257.9 M705.5,259.2 L704.5,256.0 M709.4,251.7 L707.4,252.0 M704.5,256.0 L707.4,252.0 M698.4,254.6 L700.4,253.7 M704.5,256.0 L700.4,253.7 M704.9,245.7 L704.0,248.6 M704.9,245.7 L701.4,243.3 M704.0,248.6 L701.4,250.0 M701.4,250.0 L697.5,247.0 M701.4,243.3 L697.5,246.7 M697.5,246.7 L697.5,247.0 M707.0,244.8 L704.9,245.7 M707.4,252.0 L704.0,248.6 M700.7,239.5 L701.4,243.3 M700.4,253.7 L701.4,250.0 M694.8,250.3 L697.5,247.0 M694.5,243.6 L697.5,246.7 M732.6,259.1 L735.5,258.7 M735.5,258.7 L738.9,254.6 M737.8,250.6 L738.9,254.6 M752.1,253.2 L750.8,253.9 M744.8,248.9 L745.6,253.8 M750.8,253.9 L745.6,253.8 M742.8,256.2 L744.8,255.2 M742.8,256.2 L742.1,262.3 M744.8,255.2 L748.9,260.1 M738.9,254.6 L742.8,256.2 M745.6,253.8 L744.8,255.2 M735.5,258.7 L740.7,263.1 M750.8,253.9 L748.9,260.1 M752.2,253.5 L754.1,251.0 M754.1,251.0 L753.6,248.9 M753.6,248.9 L751.3,247.3 M760.9,253.4 L759.8,253.5 M757.6,253.7 L752.3,254.3 M759.3,250.6 L757.9,250.7 M756.8,250.8 L754.1,251.0 M756.1,247.6 L753.6,248.9 M747.9,238.8 L747.1,236.9 M747.9,238.8 L753.8,240.4 M753.8,240.4 L755.5,237.5 M755.5,237.5 L754.1,234.6 M758.9,237.7 L755.5,237.5 M766.6,247.0 L767.3,250.2 M734.9,239.8 L734.6,244.2 M731.1,246.7 L734.6,244.2 M731.1,247.1 L739.8,249.1 M740.1,250.1 L739.8,249.1 M741.4,238.3 L742.3,243.6 M747.9,238.8 L746.9,243.7 M746.9,243.7 L742.3,243.6 M734.6,244.2 L739.8,245.9 M739.8,249.1 L739.8,245.9 M736.6,239.3 L739.8,245.8 M742.3,243.6 L739.8,245.8 M739.8,245.8 L739.8,245.9 M749.5,247.3 L749.5,247.8 M749.5,247.3 L754.1,242.1 M757.8,249.3 L759.0,245.0 M754.1,242.1 L759.0,245.0 M746.9,243.7 L749.5,247.3 M753.8,240.4 L754.1,242.1 M762.6,242.4 L759.0,245.0 M726.0,204.4 L729.1,208.8 M729.1,208.8 L728.6,211.0 M724.4,213.3 L728.6,211.0 M725.1,219.2 L731.3,219.0 M728.6,211.0 L733.8,214.5 M731.3,219.0 L733.8,214.5 M735.9,239.5 L734.6,236.7 M730.1,236.7 L734.6,236.7 M732.6,203.9 L737.4,205.1 M732.6,203.9 L732.1,202.7 M737.4,205.1 L737.6,201.2 M732.0,207.2 L732.6,203.9 M729.1,208.8 L732.0,207.2 M738.5,214.2 L736.3,213.5 M742.0,206.4 L737.9,205.9 M737.9,205.9 L735.6,209.2 M735.6,209.2 L736.3,213.5 M737.4,205.1 L737.9,205.9 M732.0,207.2 L735.6,209.2 M733.8,214.5 L736.3,213.5 M738.4,224.5 L734.7,223.9 M738.6,231.6 L735.9,232.8 M735.9,232.8 L728.5,230.4 M734.7,223.9 L728.2,229.2 M731.3,219.0 L734.7,223.9 M734.6,236.7 L735.9,232.8 M744.3,213.0 L740.4,210.6 M744.3,213.0 L750.1,210.5 M748.2,204.9 L741.9,205.5 M744.3,213.0 L744.8,219.1 M744.8,219.1 L752.7,218.4 M754.8,224.4 L748.2,227.5 M749.8,236.2 L748.6,234.5 M748.2,227.5 L748.6,234.5 M744.8,219.1 L744.0,220.0 M748.2,227.5 L745.6,226.3 M744.0,220.0 L745.6,226.3 M742.9,233.4 L741.4,228.4 M742.9,233.4 L739.6,236.0 M741.4,228.4 L738.5,228.0 M748.6,234.5 L742.9,233.4 M745.6,226.3 L741.4,228.4 M744.0,220.0 L738.5,220.0 M759.6,199.8 L757.8,208.6 M759.6,199.8 L746.6,197.2 M757.8,208.6 L750.2,211.0 M746.6,197.2 L745.6,197.4 M772.0,206.1 L767.1,198.8 M783.1,197.6 L772.9,191.7 M772.9,191.7 L767.1,198.8 M761.2,198.3 L759.6,199.8 M761.2,198.3 L767.1,198.8 M757.8,208.6 L765.5,213.8 M788.4,183.6 L771.7,185.6 M771.7,185.6 L772.9,191.7 M756.5,188.7 L746.6,197.2 M756.5,188.7 L758.3,188.6 M761.2,198.3 L759.2,189.2 M759.2,189.2 L758.3,188.6 M771.7,185.6 L771.0,184.8 M759.2,189.2 L771.0,184.8 M761.0,170.5 L760.1,177.1 M761.0,170.5 L750.4,167.6 M750.6,178.4 L758.3,178.5 M758.3,178.5 L760.1,177.1 M756.5,188.7 L750.0,184.8 M758.3,188.6 L758.3,178.5 M770.7,182.8 L760.1,177.1 M771.0,184.8 L770.7,182.8 M777.2,173.3 L773.1,176.3 M773.7,162.8 L764.1,167.3 M773.1,176.3 L763.6,168.4 M764.1,167.3 L763.6,168.4 M770.7,182.8 L773.1,176.3 M760.0,157.2 L764.1,167.3 M761.0,170.5 L763.6,168.4 M722.7,328.9 L719.0,328.0" fill="none" stroke="#000" stroke-width="0.5"/>
<path d="M383.5,366.5 L383.5,374.5 M390.5,366.5 L390.5,374.5 M424.5,399.5 L414.5,399.5 M424.5,406.5 L421.5,409.5 M397.5,366.5 L397.5,374.5 M438.5,368.5 L438.5,372.5 M431.5,367.5 L431.5,372.5 M438.5,372.5 L431.5,372.5 M446.5,372.5 L438.5,372.5 M410.5,367.5 L410.5,375.5 M404.5,367.5 L404.5,375.5 M417.5,372.5 L424.5,372.5 M417.5,372.5 L417.5,367.5 M424.5,367.5 L424.5,372.5 M414.5,375.5 L417.5,372.5 M431.5,372.5 L424.5,372.5 M424.5,406.5 L431.5,406.5 M431.5,413.5 L431.5,406.5 M424.5,372.5 L424.5,379.5 M415.5,379.5 L424.5,379.5 M431.5,406.5 L431.5,399.5 M424.5,399.5 L431.5,399.5 M438.5,406.5 L438.5,399.5 M446.5,406.5 L438.5,406.5 M446.5,399.5 L438.5,399.5 M431.5,406.5 L438.5,406.5 M431.5,399.5 L438.5,399.5 M438.5,414.5 L438.5,406.5 M438.5,372.5 L438.5,379.5 M431.5,372.5 L431.5,379.5 M438.5,379.5 L431.5,379.5 M446.5,379.5 L438.5,379.5 M424.5,379.5 L431.5,379.5 M446.5,386.5 L438.5,386.5 M446.5,393.5 L438.5,393.5 M438.5,393.5 L438.5,386.5 M438.5,399.5 L438.5,393.5 M438.5,379.5 L438.5,386.5 M424.5,386.5 L431.5,386.5 M424.5,393.5 L431.5,393.5 M431.5,386.5 L431.5,393.5 M424.5,379.5 L424.5,386.5 M431.5,379.5 L431.5,386.5 M415.5,386.5 L424.5,386.5 M414.5,393.5 L424.5,393.5 M431.5,399.5 L431.5,393.5 M438.5,393.5 L431.5,393.5 M438.5,386.5 L431.5,386.5 M372.5,438.5 L377.5,438.5 M403.5,470.5 L397.5,470.5 M397.5,470.5 L397.5,464.5 M403.5,464.5 L397.5,464.5 M397.5,479.5 L397.5,470.5 M403.5,479.5 L403.5,470.5 M390.5,470.5 L397.5,470.5 M410.5,479.5 L410.5,470.5 M410.5,470.5 L403.5,470.5 M410.5,470.5 L410.5,464.5 M403.5,464.5 L410.5,464.5 M397.5,458.5 L403.5,458.5 M397.5,464.5 L397.5,458.5 M390.5,451.5 L397.5,451.5 M390.5,458.5 L397.5,458.5 M403.5,458.5 L403.5,451.5 M397.5,451.5 L403.5,451.5 M403.5,375.5 L403.5,380.5 M410.5,380.5 L403.5,380.5 M415.5,380.5 L410.5,380.5 M384.5,374.5 L384.5,380.5 M376.5,380.5 L384.5,380.5 M455.5,480.5 L455.5,470.5 M449.5,480.5 L449.5,470.5 M455.5,470.5 L449.5,470.5 M463.5,470.5 L455.5,470.5 M403.5,458.5 L410.5,458.5 M410.5,451.5 L410.5,458.5 M403.5,451.5 L410.5,451.5 M410.5,464.5 L410.5,458.5 M374.5,403.5 L377.5,406.5 M373.5,412.5 L377.5,412.5 M377.5,406.5 L377.5,412.5 M397.5,374.5 L397.5,380.5 M390.5,374.5 L390.5,380.5 M397.5,380.5 L390.5,380.5 M403.5,380.5 L397.5,380.5 M384.5,380.5 L390.5,380.5 M403.5,380.5 L403.5,386.5 M403.5,386.5 L410.5,386.5 M410.5,380.5 L410.5,386.5 M415.5,386.5 L410.5,386.5 M403.5,393.5 L410.5,393.5 M403.5,399.5 L403.5,393.5 M410.5,393.5 L410.5,399.5 M403.5,399.5 L410.5,399.5 M410.5,386.5 L410.5,393.5 M377.5,438.5 L377.5,432.5 M372.5,432.5 L377.5,432.5 M377.5,438.5 L384.5,438.5 M384.5,438.5 L384.5,432.5 M377.5,432.5 L384.5,432.5 M416.5,470.5 L423.5,470.5 M416.5,479.5 L416.5,470.5 M423.5,479.5 L423.5,470.5 M416.5,464.5 L416.5,470.5 M423.5,464.5 L423.5,470.5 M416.5,464.5 L423.5,464.5 M410.5,470.5 L416.5,470.5 M429.5,470.5 L423.5,470.5 M410.5,464.5 L416.5,464.5 M463.5,458.5 L455.5,458.5 M463.5,464.5 L455.5,464.5 M455.5,464.5 L455.5,458.5 M455.5,470.5 L455.5,464.5 M463.5,451.5 L455.5,451.5 M455.5,451.5 L455.5,458.5 M436.5,480.5 L436.5,470.5 M442.5,480.5 L442.5,470.5 M442.5,470.5 L436.5,470.5 M449.5,470.5 L442.5,470.5 M429.5,470.5 L436.5,470.5 M436.5,464.5 L429.5,464.5 M429.5,470.5 L429.5,464.5 M436.5,470.5 L436.5,464.5 M455.5,425.5 L449.5,425.5 M449.5,419.5 L449.5,425.5 M410.5,419.5 L410.5,425.5 M403.5,419.5 L410.5,419.5 M410.5,425.5 L403.5,425.5 M397.5,451.5 L397.5,445.5 M390.5,445.5 L397.5,445.5 M390.5,445.5 L388.5,447.5 M442.5,419.5 L436.5,419.5 M444.5,417.5 L442.5,419.5 M436.5,414.5 L436.5,419.5 M410.5,393.5 L414.5,393.5 M414.5,399.5 L410.5,399.5 M403.5,406.5 L403.5,412.5 M403.5,406.5 L410.5,406.5 M403.5,412.5 L410.5,412.5 M410.5,406.5 L410.5,412.5 M403.5,399.5 L403.5,406.5 M410.5,399.5 L410.5,406.5 M410.5,419.5 L410.5,412.5 M403.5,419.5 L403.5,412.5 M414.5,406.5 L410.5,406.5 M416.5,407.5 L416.5,412.5 M416.5,412.5 L410.5,412.5 M410.5,419.5 L416.5,419.5 M416.5,419.5 L416.5,412.5 M373.5,419.5 L377.5,419.5 M377.5,419.5 L377.5,425.5 M373.5,425.5 L377.5,425.5 M377.5,412.5 L377.5,419.5 M377.5,432.5 L377.5,425.5 M397.5,432.5 L390.5,432.5 M397.5,438.5 L390.5,438.5 M390.5,432.5 L390.5,438.5 M390.5,445.5 L390.5,438.5 M397.5,445.5 L397.5,438.5 M384.5,438.5 L390.5,438.5 M384.5,432.5 L390.5,432.5 M442.5,464.5 L442.5,458.5 M442.5,464.5 L449.5,464.5 M442.5,458.5 L449.5,458.5 M449.5,458.5 L449.5,464.5 M436.5,458.5 L442.5,458.5 M436.5,464.5 L436.5,458.5 M436.5,464.5 L442.5,464.5 M442.5,470.5 L442.5,464.5 M449.5,470.5 L449.5,464.5 M455.5,458.5 L449.5,458.5 M455.5,464.5 L449.5,464.5 M429.5,464.5 L429.5,458.5 M436.5,458.5 L429.5,458.5 M436.5,425.5 L436.5,432.5 M436.5,432.5 L442.5,432.5 M442.5,425.5 L442.5,432.5 M436.5,419.5 L436.5,425.5 M442.5,419.5 L442.5,425.5 M449.5,425.5 L442.5,425.5 M423.5,412.5 L423.5,419.5 M423.5,412.5 L423.5,412.5 M429.5,413.5 L429.5,419.5 M423.5,419.5 L429.5,419.5 M416.5,419.5 L423.5,419.5 M416.5,412.5 L423.5,412.5 M436.5,419.5 L429.5,419.5 M429.5,425.5 L429.5,419.5 M429.5,425.5 L436.5,425.5 M436.5,438.5 L436.5,432.5 M436.5,438.5 L429.5,438.5 M429.5,438.5 L429.5,432.5 M436.5,432.5 L429.5,432.5 M429.5,425.5 L429.5,432.5 M416.5,432.5 L423.5,432.5 M416.5,432.5 L416.5,425.5 M423.5,432.5 L423.5,425.5 M429.5,432.5 L423.5,432.5 M416.5,419.5 L416.5,425.5 M423.5,438.5 L423.5,432.5 M423.5,438.5 L429.5,438.5 M410.5,425.5 L416.5,425.5 M374.5,399.5 L384.5,399.5 M377.5,406.5 L384.5,406.5 M384.5,406.5 L384.5,399.5 M384.5,406.5 L384.5,412.5 M377.5,412.5 L384.5,412.5 M455.5,451.5 L455.5,445.5 M463.5,445.5 L455.5,445.5 M455.5,451.5 L449.5,451.5 M449.5,458.5 L449.5,451.5 M423.5,445.5 L429.5,445.5 M423.5,438.5 L423.5,445.5 M429.5,438.5 L429.5,445.5 M423.5,451.5 L423.5,458.5 M423.5,451.5 L416.5,451.5 M416.5,458.5 L416.5,451.5 M416.5,458.5 L423.5,458.5 M429.5,451.5 L423.5,451.5 M429.5,458.5 L423.5,458.5 M410.5,458.5 L416.5,458.5 M410.5,451.5 L416.5,451.5 M423.5,464.5 L423.5,458.5 M429.5,445.5 L429.5,451.5 M397.5,445.5 L403.5,445.5 M403.5,451.5 L403.5,445.5 M397.5,380.5 L397.5,386.5 M403.5,386.5 L397.5,386.5 M397.5,419.5 L397.5,412.5 M403.5,412.5 L397.5,412.5 M403.5,419.5 L397.5,419.5 M397.5,412.5 L390.5,412.5 M397.5,406.5 L397.5,412.5 M397.5,406.5 L390.5,406.5 M390.5,406.5 L390.5,412.5 M397.5,425.5 L397.5,419.5 M403.5,425.5 L397.5,425.5 M397.5,406.5 L403.5,406.5 M384.5,406.5 L390.5,406.5 M384.5,412.5 L390.5,412.5 M390.5,419.5 L384.5,419.5 M390.5,419.5 L390.5,425.5 M390.5,425.5 L384.5,425.5 M384.5,425.5 L384.5,419.5 M390.5,412.5 L390.5,419.5 M384.5,412.5 L384.5,419.5 M397.5,419.5 L390.5,419.5 M397.5,425.5 L390.5,425.5 M390.5,432.5 L390.5,425.5 M384.5,432.5 L384.5,425.5 M377.5,425.5 L384.5,425.5 M377.5,419.5 L384.5,419.5 M397.5,425.5 L397.5,432.5 M455.5,425.5 L455.5,432.5 M449.5,432.5 L455.5,432.5 M449.5,425.5 L449.5,432.5 M463.5,432.5 L455.5,432.5 M463.5,438.5 L455.5,438.5 M455.5,438.5 L455.5,432.5 M442.5,432.5 L449.5,432.5 M455.5,445.5 L455.5,438.5 M429.5,451.5 L436.5,451.5 M436.5,445.5 L436.5,451.5 M429.5,445.5 L436.5,445.5 M442.5,458.5 L442.5,451.5 M436.5,451.5 L442.5,451.5 M436.5,438.5 L436.5,445.5 M449.5,451.5 L442.5,451.5 M449.5,438.5 L449.5,445.5 M449.5,438.5 L442.5,438.5 M442.5,445.5 L449.5,445.5 M442.5,445.5 L442.5,438.5 M455.5,445.5 L449.5,445.5 M455.5,438.5 L449.5,438.5 M442.5,432.5 L442.5,438.5 M449.5,451.5 L449.5,445.5 M442.5,451.5 L442.5,445.5 M436.5,445.5 L442.5,445.5 M423.5,445.5 L416.5,445.5 M423.5,438.5 L416.5,438.5 M416.5,438.5 L416.5,445.5 M416.5,451.5 L416.5,445.5 M410.5,451.5 L410.5,445.5 M416.5,432.5 L416.5,438.5 M403.5,445.5 L410.5,445.5 M410.5,438.5 L403.5,438.5 M410.5,438.5 L410.5,432.5 M403.5,432.5 L410.5,432.5 M410.5,445.5 L410.5,438.5 M416.5,432.5 L410.5,432.5 M403.5,425.5 L403.5,432.5 M410.5,425.5 L410.5,432.5 M397.5,432.5 L403.5,432.5 M397.5,438.5 L403.5,438.5 M390.5,399.5 L397.5,399.5 M397.5,406.5 L397.5,399.5 M390.5,406.5 L390.5,399.5 M403.5,393.5 L397.5,393.5 M397.5,399.5 L397.5,393.5 M384.5,399.5 L390.5,399.5 M397.5,386.5 L397.5,393.5 M390.5,393.5 L384.5,393.5 M384.5,386.5 L390.5,386.5 M384.5,386.5 L384.5,393.5 M397.5,386.5 L390.5,386.5 M397.5,393.5 L390.5,393.5 M390.5,399.5 L390.5,393.5 M384.5,399.5 L384.5,393.5 M384.5,380.5 L384.5,386.5 M390.5,380.5 L390.5,386.5 M375.5,386.5 L384.5,386.5 M375.5,393.5 L384.5,393.5 M474.5,314.5 L474.5,310.5 M474.5,314.5 L472.5,316.5 M538.5,334.5 L536.5,336.5 M508.5,336.5 L513.5,336.5 M508.5,341.5 L508.5,336.5 M513.5,340.5 L513.5,336.5 M474.5,314.5 L480.5,314.5 M480.5,310.5 L480.5,314.5 M480.5,320.5 L480.5,314.5 M480.5,320.5 L477.5,322.5 M502.5,314.5 L496.5,314.5 M496.5,309.5 L496.5,314.5 M491.5,309.5 L491.5,314.5 M485.5,310.5 L485.5,314.5 M485.5,314.5 L491.5,314.5 M480.5,314.5 L485.5,314.5 M496.5,314.5 L491.5,314.5 M485.5,320.5 L491.5,320.5 M491.5,314.5 L491.5,320.5 M519.5,340.5 L519.5,336.5 M513.5,336.5 L519.5,336.5 M530.5,331.5 L530.5,336.5 M530.5,336.5 L524.5,336.5 M530.5,331.5 L524.5,331.5 M524.5,336.5 L524.5,331.5 M531.5,330.5 L530.5,331.5 M536.5,336.5 L530.5,336.5 M530.5,340.5 L530.5,336.5 M524.5,340.5 L524.5,336.5 M508.5,309.5 L508.5,314.5 M513.5,309.5 L513.5,314.5 M508.5,314.5 L513.5,314.5 M502.5,314.5 L508.5,314.5 M513.5,314.5 L521.5,314.5 M524.5,331.5 L524.5,325.5 M526.5,324.5 L524.5,325.5 M502.5,314.5 L502.5,320.5 M502.5,320.5 L496.5,320.5 M496.5,314.5 L496.5,320.5 M491.5,320.5 L496.5,320.5 M479.5,325.5 L485.5,325.5 M485.5,320.5 L485.5,325.5 M485.5,325.5 L485.5,331.5 M485.5,331.5 L483.5,333.5 M508.5,314.5 L508.5,320.5 M502.5,320.5 L508.5,320.5 M491.5,320.5 L491.5,325.5 M485.5,325.5 L491.5,325.5 M513.5,336.5 L513.5,331.5 M519.5,336.5 L519.5,331.5 M519.5,331.5 L513.5,331.5 M524.5,331.5 L519.5,331.5 M508.5,331.5 L513.5,331.5 M508.5,336.5 L508.5,331.5 M502.5,341.5 L502.5,336.5 M508.5,336.5 L502.5,336.5 M513.5,320.5 L513.5,325.5 M519.5,320.5 L513.5,320.5 M519.5,320.5 L519.5,325.5 M513.5,325.5 L519.5,325.5 M508.5,320.5 L513.5,320.5 M508.5,325.5 L513.5,325.5 M508.5,320.5 L508.5,325.5 M521.5,317.5 L519.5,320.5 M513.5,314.5 L513.5,320.5 M524.5,325.5 L519.5,325.5 M519.5,331.5 L519.5,325.5 M513.5,331.5 L513.5,325.5 M508.5,331.5 L508.5,325.5 M483.5,336.5 L491.5,336.5 M491.5,331.5 L491.5,336.5 M485.5,331.5 L491.5,331.5 M496.5,341.5 L496.5,336.5 M491.5,341.5 L491.5,336.5 M491.5,336.5 L496.5,336.5 M491.5,325.5 L491.5,331.5 M502.5,336.5 L496.5,336.5 M496.5,331.5 L502.5,331.5 M496.5,331.5 L496.5,325.5 M502.5,325.5 L496.5,325.5 M502.5,325.5 L502.5,331.5 M496.5,336.5 L496.5,331.5 M502.5,336.5 L502.5,331.5 M491.5,325.5 L496.5,325.5 M491.5,331.5 L496.5,331.5 M496.5,320.5 L496.5,325.5 M502.5,320.5 L502.5,325.5 M508.5,325.5 L502.5,325.5 M508.5,331.5 L502.5,331.5 M383.5,180.5 L391.5,180.5 M383.5,172.5 L383.5,180.5 M391.5,172.5 L391.5,180.5 M377.5,180.5 L383.5,180.5 M400.5,180.5 L391.5,180.5 M400.5,173.5 L400.5,180.5 M408.5,222.5 L408.5,214.5 M400.5,222.5 L400.5,214.5 M408.5,214.5 L400.5,214.5 M417.5,214.5 L408.5,214.5 M417.5,223.5 L417.5,214.5 M383.5,214.5 L391.5,214.5 M383.5,222.5 L383.5,214.5 M391.5,222.5 L391.5,214.5 M375.5,214.5 L383.5,214.5 M417.5,214.5 L426.5,214.5 M426.5,223.5 L426.5,214.5 M408.5,173.5 L408.5,180.5 M400.5,180.5 L408.5,180.5 M426.5,206.5 L417.5,206.5 M417.5,214.5 L417.5,206.5 M426.5,214.5 L426.5,206.5 M408.5,214.5 L408.5,206.5 M408.5,206.5 L417.5,206.5 M408.5,206.5 L400.5,206.5 M400.5,214.5 L400.5,206.5 M408.5,180.5 L417.5,180.5 M417.5,174.5 L417.5,180.5 M417.5,197.5 L417.5,189.5 M408.5,197.5 L408.5,189.5 M417.5,189.5 L408.5,189.5 M417.5,206.5 L417.5,197.5 M408.5,206.5 L408.5,197.5 M408.5,180.5 L408.5,189.5 M417.5,180.5 L417.5,189.5 M426.5,214.5 L434.5,214.5 M434.5,223.5 L434.5,214.5 M383.5,206.5 L391.5,206.5 M383.5,214.5 L383.5,206.5 M391.5,214.5 L391.5,206.5 M375.5,206.5 L383.5,206.5 M400.5,206.5 L391.5,206.5 M408.5,189.5 L400.5,189.5 M400.5,189.5 L400.5,197.5 M408.5,197.5 L400.5,197.5 M400.5,180.5 L400.5,189.5 M383.5,197.5 L391.5,197.5 M383.5,197.5 L383.5,189.5 M383.5,189.5 L391.5,189.5 M391.5,197.5 L391.5,189.5 M383.5,206.5 L383.5,197.5 M391.5,206.5 L391.5,197.5 M377.5,189.5 L383.5,189.5 M376.5,197.5 L383.5,197.5 M391.5,180.5 L391.5,189.5 M383.5,180.5 L383.5,189.5 M400.5,189.5 L391.5,189.5 M400.5,197.5 L391.5,197.5 M452.5,180.5 L443.5,180.5 M443.5,214.5 L451.5,214.5 M451.5,224.5 L451.5,214.5 M443.5,224.5 L443.5,214.5 M457.5,214.5 L451.5,214.5 M451.5,206.5 L451.5,214.5 M455.5,202.5 L451.5,206.5 M434.5,214.5 L443.5,214.5 M443.5,214.5 L443.5,206.5 M434.5,206.5 L443.5,206.5 M434.5,214.5 L434.5,206.5 M426.5,206.5 L434.5,206.5 M451.5,206.5 L443.5,206.5 M417.5,189.5 L426.5,189.5 M426.5,189.5 L426.5,180.5 M434.5,174.5 L434.5,180.5 M426.5,174.5 L426.5,180.5 M426.5,180.5 L434.5,180.5 M426.5,197.5 L426.5,189.5 M443.5,180.5 L434.5,180.5 M434.5,189.5 L443.5,189.5 M434.5,189.5 L434.5,197.5 M443.5,189.5 L443.5,197.5 M434.5,197.5 L443.5,197.5 M434.5,180.5 L434.5,189.5 M443.5,180.5 L443.5,189.5 M426.5,197.5 L434.5,197.5 M426.5,189.5 L434.5,189.5 M453.5,189.5 L443.5,189.5 M455.5,197.5 L443.5,197.5 M434.5,206.5 L434.5,197.5 M443.5,206.5 L443.5,197.5 M459.5,269.5 L451.5,269.5 M451.5,275.5 L451.5,269.5 M443.5,275.5 L443.5,269.5 M451.5,269.5 L443.5,269.5 M427.5,229.5 L427.5,237.5 M419.5,237.5 L427.5,237.5 M419.5,229.5 L419.5,237.5 M419.5,229.5 L427.5,229.5 M427.5,229.5 L435.5,229.5 M435.5,223.5 L435.5,229.5 M427.5,223.5 L427.5,229.5 M419.5,223.5 L419.5,229.5 M427.5,237.5 L435.5,237.5 M435.5,229.5 L435.5,237.5 M443.5,237.5 L443.5,229.5 M443.5,237.5 L451.5,237.5 M451.5,237.5 L451.5,229.5 M451.5,229.5 L443.5,229.5 M435.5,229.5 L443.5,229.5 M435.5,237.5 L443.5,237.5 M443.5,245.5 L443.5,237.5 M451.5,245.5 L443.5,245.5 M460.5,237.5 L451.5,237.5 M459.5,229.5 L451.5,229.5 M451.5,224.5 L451.5,229.5 M443.5,224.5 L443.5,229.5 M460.5,245.5 L451.5,245.5 M403.5,237.5 L403.5,229.5 M403.5,237.5 L411.5,237.5 M403.5,229.5 L411.5,229.5 M411.5,229.5 L411.5,237.5 M395.5,237.5 L403.5,237.5 M395.5,229.5 L403.5,229.5 M395.5,229.5 L395.5,237.5 M403.5,245.5 L403.5,237.5 M411.5,223.5 L411.5,229.5 M403.5,222.5 L403.5,229.5 M419.5,229.5 L411.5,229.5 M419.5,237.5 L411.5,237.5 M403.5,245.5 L395.5,245.5 M395.5,237.5 L395.5,245.5 M395.5,222.5 L395.5,229.5 M379.5,253.5 L387.5,253.5 M379.5,253.5 L379.5,245.5 M379.5,245.5 L387.5,245.5 M372.5,245.5 L379.5,245.5 M372.5,253.5 L379.5,253.5 M379.5,237.5 L387.5,237.5 M387.5,237.5 L387.5,245.5 M395.5,245.5 L387.5,245.5 M395.5,245.5 L395.5,253.5 M395.5,253.5 L387.5,253.5 M373.5,237.5 L379.5,237.5 M395.5,237.5 L387.5,237.5 M379.5,261.5 L387.5,261.5 M379.5,269.5 L379.5,261.5 M387.5,269.5 L387.5,261.5 M387.5,253.5 L387.5,261.5 M379.5,253.5 L379.5,261.5 M371.5,261.5 L379.5,261.5 M395.5,261.5 L387.5,261.5 M395.5,270.5 L395.5,261.5 M435.5,269.5 L443.5,269.5 M433.5,271.5 L435.5,269.5 M395.5,261.5 L395.5,253.5 M379.5,229.5 L387.5,229.5 M379.5,221.5 L379.5,229.5 M387.5,222.5 L387.5,229.5 M379.5,237.5 L379.5,229.5 M387.5,237.5 L387.5,229.5 M374.5,229.5 L379.5,229.5 M395.5,229.5 L387.5,229.5 M411.5,253.5 L403.5,253.5 M411.5,253.5 L411.5,261.5 M411.5,261.5 L403.5,261.5 M403.5,253.5 L403.5,261.5 M403.5,245.5 L403.5,253.5 M411.5,245.5 L411.5,253.5 M411.5,270.5 L411.5,261.5 M395.5,253.5 L403.5,253.5 M443.5,261.5 L443.5,253.5 M443.5,261.5 L451.5,261.5 M451.5,261.5 L451.5,253.5 M443.5,253.5 L451.5,253.5 M451.5,269.5 L451.5,261.5 M443.5,269.5 L443.5,261.5 M460.5,261.5 L451.5,261.5 M460.5,253.5 L451.5,253.5 M443.5,245.5 L443.5,253.5 M451.5,245.5 L451.5,253.5 M435.5,261.5 L443.5,261.5 M435.5,269.5 L435.5,261.5 M419.5,237.5 L419.5,245.5 M411.5,245.5 L419.5,245.5 M419.5,271.5 L419.5,261.5 M427.5,261.5 L419.5,261.5 M427.5,271.5 L427.5,261.5 M419.5,261.5 L419.5,253.5 M411.5,253.5 L419.5,253.5 M411.5,261.5 L419.5,261.5 M435.5,261.5 L427.5,261.5 M419.5,245.5 L419.5,253.5 M427.5,253.5 L435.5,253.5 M435.5,245.5 L435.5,253.5 M435.5,245.5 L427.5,245.5 M419.5,245.5 L427.5,245.5 M419.5,253.5 L427.5,253.5 M427.5,261.5 L427.5,253.5 M435.5,261.5 L435.5,253.5 M443.5,245.5 L435.5,245.5 M443.5,253.5 L435.5,253.5 M427.5,237.5 L427.5,245.5 M435.5,237.5 L435.5,245.5 M375.5,301.5 L375.5,295.5 M382.5,301.5 L382.5,295.5 M375.5,295.5 L382.5,295.5 M369.5,295.5 L375.5,295.5 M369.5,289.5 L375.5,289.5 M375.5,295.5 L375.5,289.5 M375.5,289.5 L375.5,282.5 M370.5,282.5 L375.5,282.5 M382.5,289.5 L382.5,282.5 M375.5,282.5 L382.5,282.5 M375.5,289.5 L382.5,289.5 M382.5,295.5 L382.5,289.5 M395.5,270.5 L395.5,275.5 M388.5,275.5 L395.5,275.5 M388.5,269.5 L388.5,275.5 M395.5,282.5 L395.5,275.5 M388.5,282.5 L395.5,282.5 M388.5,282.5 L388.5,275.5 M408.5,270.5 L408.5,275.5 M408.5,275.5 L402.5,275.5 M402.5,270.5 L402.5,275.5 M415.5,275.5 L408.5,275.5 M415.5,271.5 L415.5,275.5 M395.5,275.5 L402.5,275.5 M375.5,275.5 L382.5,275.5 M375.5,269.5 L375.5,275.5 M382.5,269.5 L382.5,275.5 M382.5,282.5 L382.5,275.5 M375.5,282.5 L375.5,275.5 M370.5,275.5 L375.5,275.5 M382.5,282.5 L388.5,282.5 M408.5,275.5 L408.5,282.5 M402.5,275.5 L402.5,282.5 M408.5,282.5 L402.5,282.5 M415.5,282.5 L415.5,275.5 M415.5,282.5 L408.5,282.5 M395.5,289.5 L395.5,295.5 M395.5,289.5 L388.5,289.5 M388.5,289.5 L388.5,295.5 M395.5,295.5 L388.5,295.5 M388.5,282.5 L388.5,289.5 M395.5,282.5 L395.5,289.5 M382.5,289.5 L388.5,289.5 M382.5,295.5 L388.5,295.5 M388.5,302.5 L388.5,295.5 M395.5,302.5 L392.5,305.5 M395.5,302.5 L395.5,295.5 M415.5,282.5 L422.5,282.5 M422.5,275.5 L422.5,282.5 M415.5,275.5 L422.5,275.5 M422.5,271.5 L422.5,275.5 M415.5,289.5 L415.5,282.5 M415.5,289.5 L422.5,289.5 M422.5,282.5 L422.5,289.5 M408.5,289.5 L402.5,289.5 M408.5,282.5 L408.5,289.5 M402.5,282.5 L402.5,289.5 M415.5,289.5 L408.5,289.5 M395.5,289.5 L402.5,289.5 M435.5,282.5 L428.5,282.5 M435.5,275.5 L435.5,282.5 M435.5,275.5 L428.5,275.5 M428.5,282.5 L428.5,275.5 M442.5,282.5 L435.5,282.5 M442.5,275.5 L442.5,282.5 M438.5,273.5 L435.5,275.5 M422.5,282.5 L428.5,282.5 M422.5,275.5 L428.5,275.5 M448.5,282.5 L448.5,289.5 M455.5,282.5 L448.5,282.5 M455.5,282.5 L455.5,289.5 M448.5,289.5 L455.5,289.5 M442.5,282.5 L448.5,282.5 M442.5,289.5 L442.5,282.5 M442.5,289.5 L448.5,289.5 M448.5,274.5 L448.5,282.5 M458.5,279.5 L455.5,282.5 M463.5,289.5 L455.5,289.5 M392.5,309.5 L402.5,309.5 M402.5,309.5 L402.5,318.5 M428.5,282.5 L428.5,289.5 M435.5,289.5 L428.5,289.5 M442.5,289.5 L435.5,289.5 M422.5,289.5 L428.5,289.5 M422.5,315.5 L428.5,315.5 M422.5,315.5 L418.5,319.5 M428.5,319.5 L428.5,315.5 M408.5,289.5 L408.5,295.5 M402.5,289.5 L402.5,295.5 M402.5,295.5 L408.5,295.5 M402.5,295.5 L402.5,302.5 M395.5,302.5 L402.5,302.5 M402.5,309.5 L402.5,302.5 M415.5,289.5 L415.5,295.5 M415.5,295.5 L408.5,295.5 M408.5,302.5 L415.5,302.5 M408.5,302.5 L408.5,309.5 M415.5,309.5 L415.5,302.5 M415.5,309.5 L408.5,309.5 M415.5,295.5 L415.5,302.5 M408.5,295.5 L408.5,302.5 M402.5,309.5 L408.5,309.5 M402.5,302.5 L408.5,302.5 M408.5,318.5 L408.5,309.5 M422.5,309.5 L422.5,315.5 M422.5,309.5 L415.5,309.5 M435.5,289.5 L435.5,295.5 M442.5,295.5 L435.5,295.5 M422.5,295.5 L428.5,295.5 M422.5,289.5 L422.5,295.5 M428.5,289.5 L428.5,295.5 M415.5,295.5 L422.5,295.5 M422.5,295.5 L422.5,302.5 M415.5,302.5 L422.5,302.5 M422.5,309.5 L422.5,302.5 M435.5,295.5 L428.5,295.5 M435.5,295.5 L435.5,302.5 M428.5,302.5 L435.5,302.5 M428.5,295.5 L428.5,302.5 M422.5,309.5 L428.5,309.5 M422.5,302.5 L428.5,302.5 M428.5,302.5 L428.5,309.5 M428.5,315.5 L428.5,309.5 M442.5,302.5 L435.5,302.5 M442.5,295.5 L442.5,302.5 M435.5,309.5 L442.5,309.5 M435.5,309.5 L435.5,315.5 M442.5,315.5 L435.5,315.5 M442.5,315.5 L442.5,309.5 M442.5,302.5 L442.5,309.5 M428.5,309.5 L435.5,309.5 M428.5,315.5 L435.5,315.5 M435.5,319.5 L435.5,315.5 M442.5,319.5 L442.5,315.5 M448.5,295.5 L448.5,302.5 M442.5,302.5 L448.5,302.5 M448.5,289.5 L448.5,295.5 M442.5,309.5 L448.5,309.5 M448.5,302.5 L448.5,309.5 M468.5,319.5 L468.5,315.5 M468.5,315.5 L471.5,313.5 M462.5,302.5 L455.5,302.5 M462.5,295.5 L462.5,302.5 M462.5,295.5 L455.5,295.5 M455.5,302.5 L455.5,295.5 M467.5,302.5 L462.5,302.5 M465.5,292.5 L462.5,295.5 M455.5,289.5 L455.5,295.5 M448.5,295.5 L455.5,295.5 M448.5,302.5 L455.5,302.5 M448.5,319.5 L448.5,315.5 M442.5,315.5 L448.5,315.5 M448.5,309.5 L448.5,315.5 M455.5,309.5 L462.5,309.5 M462.5,302.5 L462.5,309.5 M455.5,302.5 L455.5,309.5 M448.5,309.5 L455.5,309.5 M468.5,309.5 L462.5,309.5 M462.5,315.5 L455.5,315.5 M462.5,319.5 L462.5,315.5 M455.5,319.5 L455.5,315.5 M455.5,309.5 L455.5,315.5 M462.5,309.5 L462.5,315.5 M468.5,315.5 L462.5,315.5 M448.5,315.5 L455.5,315.5 M441.5,357.5 L434.5,357.5 M441.5,357.5 L441.5,350.5 M434.5,357.5 L434.5,350.5 M434.5,350.5 L441.5,350.5 M484.5,357.5 L480.5,357.5 M484.5,363.5 L480.5,363.5 M480.5,367.5 L480.5,363.5 M428.5,338.5 L434.5,338.5 M434.5,331.5 L434.5,338.5 M428.5,338.5 L428.5,331.5 M396.5,325.5 L402.5,325.5 M396.5,318.5 L396.5,325.5 M402.5,318.5 L402.5,325.5 M391.5,325.5 L396.5,325.5 M408.5,325.5 L402.5,325.5 M428.5,363.5 L428.5,357.5 M434.5,357.5 L428.5,357.5 M428.5,363.5 L434.5,363.5 M434.5,363.5 L434.5,357.5 M441.5,367.5 L441.5,363.5 M434.5,363.5 L441.5,363.5 M434.5,367.5 L434.5,363.5 M441.5,357.5 L441.5,363.5 M447.5,357.5 L447.5,363.5 M441.5,363.5 L447.5,363.5 M441.5,357.5 L447.5,357.5 M447.5,363.5 L454.5,363.5 M454.5,367.5 L454.5,363.5 M447.5,367.5 L447.5,363.5 M441.5,350.5 L447.5,350.5 M447.5,350.5 L447.5,357.5 M460.5,367.5 L460.5,363.5 M460.5,363.5 L454.5,363.5 M434.5,325.5 L428.5,325.5 M434.5,319.5 L434.5,325.5 M428.5,319.5 L428.5,325.5 M434.5,325.5 L434.5,331.5 M428.5,331.5 L428.5,325.5 M402.5,331.5 L396.5,331.5 M402.5,325.5 L402.5,331.5 M396.5,325.5 L396.5,331.5 M391.5,338.5 L396.5,338.5 M391.5,331.5 L396.5,331.5 M396.5,331.5 L396.5,338.5 M408.5,331.5 L408.5,325.5 M390.5,344.5 L396.5,344.5 M396.5,344.5 L396.5,338.5 M402.5,338.5 L402.5,344.5 M402.5,338.5 L408.5,338.5 M402.5,344.5 L408.5,344.5 M396.5,344.5 L402.5,344.5 M396.5,338.5 L402.5,338.5 M408.5,331.5 L408.5,338.5 M402.5,331.5 L402.5,338.5 M425.5,367.5 L428.5,363.5 M415.5,357.5 L421.5,357.5 M415.5,366.5 L415.5,357.5 M421.5,367.5 L421.5,357.5 M408.5,357.5 L415.5,357.5 M408.5,366.5 L408.5,357.5 M434.5,344.5 L434.5,350.5 M441.5,350.5 L441.5,344.5 M483.5,338.5 L480.5,338.5 M481.5,330.5 L480.5,331.5 M480.5,331.5 L480.5,338.5 M467.5,331.5 L473.5,331.5 M467.5,331.5 L467.5,325.5 M473.5,325.5 L473.5,331.5 M473.5,325.5 L467.5,325.5 M460.5,325.5 L460.5,331.5 M460.5,325.5 L467.5,325.5 M460.5,331.5 L467.5,331.5 M480.5,331.5 L473.5,331.5 M476.5,321.5 L473.5,325.5 M467.5,319.5 L467.5,325.5 M460.5,319.5 L460.5,325.5 M415.5,331.5 L421.5,331.5 M415.5,338.5 L415.5,331.5 M421.5,338.5 L415.5,338.5 M408.5,331.5 L415.5,331.5 M415.5,338.5 L408.5,338.5 M428.5,338.5 L421.5,338.5 M428.5,331.5 L421.5,331.5 M402.5,350.5 L402.5,357.5 M402.5,350.5 L396.5,350.5 M396.5,350.5 L396.5,357.5 M402.5,357.5 L396.5,357.5 M408.5,357.5 L402.5,357.5 M408.5,350.5 L408.5,357.5 M408.5,350.5 L402.5,350.5 M402.5,344.5 L402.5,350.5 M396.5,344.5 L396.5,350.5 M390.5,357.5 L396.5,357.5 M396.5,366.5 L396.5,357.5 M402.5,366.5 L402.5,357.5 M408.5,350.5 L408.5,344.5 M460.5,357.5 L454.5,357.5 M460.5,363.5 L460.5,357.5 M454.5,363.5 L454.5,357.5 M454.5,357.5 L454.5,350.5 M447.5,357.5 L454.5,357.5 M460.5,357.5 L460.5,350.5 M454.5,350.5 L460.5,350.5 M434.5,344.5 L428.5,344.5 M428.5,344.5 L428.5,350.5 M434.5,350.5 L428.5,350.5 M428.5,338.5 L428.5,344.5 M434.5,344.5 L434.5,338.5 M428.5,357.5 L428.5,350.5 M434.5,338.5 L441.5,338.5 M441.5,344.5 L441.5,338.5 M467.5,363.5 L467.5,357.5 M467.5,363.5 L473.5,363.5 M473.5,363.5 L473.5,357.5 M467.5,357.5 L473.5,357.5 M460.5,363.5 L467.5,363.5 M460.5,357.5 L467.5,357.5 M467.5,367.5 L467.5,363.5 M473.5,367.5 L473.5,363.5 M480.5,357.5 L473.5,357.5 M480.5,363.5 L473.5,363.5 M467.5,350.5 L467.5,357.5 M460.5,350.5 L467.5,350.5 M473.5,357.5 L473.5,350.5 M473.5,350.5 L480.5,350.5 M480.5,357.5 L480.5,350.5 M484.5,344.5 L480.5,344.5 M484.5,350.5 L480.5,350.5 M480.5,350.5 L480.5,344.5 M467.5,350.5 L473.5,350.5 M480.5,338.5 L480.5,344.5 M467.5,338.5 L473.5,338.5 M467.5,338.5 L467.5,344.5 M467.5,344.5 L473.5,344.5 M473.5,344.5 L473.5,338.5 M473.5,331.5 L473.5,338.5 M467.5,331.5 L467.5,338.5 M460.5,344.5 L467.5,344.5 M460.5,338.5 L460.5,344.5 M460.5,338.5 L467.5,338.5 M473.5,350.5 L473.5,344.5 M467.5,350.5 L467.5,344.5 M480.5,338.5 L473.5,338.5 M480.5,344.5 L473.5,344.5 M460.5,331.5 L460.5,338.5 M460.5,350.5 L460.5,344.5 M415.5,325.5 L421.5,325.5 M415.5,319.5 L415.5,325.5 M421.5,319.5 L421.5,325.5 M415.5,331.5 L415.5,325.5 M421.5,331.5 L421.5,325.5 M408.5,325.5 L415.5,325.5 M428.5,325.5 L421.5,325.5 M415.5,350.5 L421.5,350.5 M415.5,344.5 L421.5,344.5 M421.5,350.5 L421.5,344.5 M415.5,357.5 L415.5,350.5 M421.5,357.5 L421.5,350.5 M408.5,344.5 L415.5,344.5 M415.5,338.5 L415.5,344.5 M428.5,344.5 L421.5,344.5 M428.5,350.5 L421.5,350.5 M441.5,325.5 L441.5,331.5 M434.5,325.5 L441.5,325.5 M434.5,331.5 L441.5,331.5 M441.5,319.5 L441.5,325.5 M441.5,338.5 L441.5,331.5 M447.5,350.5 L447.5,344.5 M447.5,344.5 L454.5,344.5 M454.5,350.5 L454.5,344.5 M441.5,344.5 L447.5,344.5 M460.5,344.5 L454.5,344.5 M454.5,319.5 L454.5,325.5 M447.5,319.5 L447.5,325.5 M454.5,325.5 L447.5,325.5 M460.5,325.5 L454.5,325.5 M441.5,325.5 L447.5,325.5 M447.5,338.5 L454.5,338.5 M447.5,338.5 L447.5,331.5 M454.5,338.5 L454.5,331.5 M447.5,331.5 L454.5,331.5 M454.5,344.5 L454.5,338.5 M447.5,344.5 L447.5,338.5 M441.5,331.5 L447.5,331.5 M460.5,338.5 L454.5,338.5 M460.5,331.5 L454.5,331.5 M454.5,325.5 L454.5,331.5 M447.5,325.5 L447.5,331.5 M472.5,174.5 L473.5,175.5 M473.5,175.5 L479.5,175.5 M524.5,186.5 L524.5,190.5 M526.5,192.5 L524.5,190.5 M517.5,197.5 L517.5,190.5 M517.5,197.5 L509.5,197.5 M509.5,190.5 L509.5,197.5 M517.5,190.5 L515.5,188.5 M513.5,187.5 L509.5,190.5 M524.5,190.5 L517.5,190.5 M480.5,205.5 L480.5,197.5 M480.5,205.5 L473.5,205.5 M480.5,197.5 L473.5,197.5 M473.5,205.5 L473.5,197.5 M473.5,205.5 L473.5,212.5 M480.5,205.5 L480.5,212.5 M480.5,212.5 L473.5,212.5 M480.5,205.5 L488.5,205.5 M488.5,212.5 L488.5,205.5 M488.5,212.5 L480.5,212.5 M466.5,212.5 L466.5,205.5 M457.5,212.5 L466.5,212.5 M455.5,205.5 L466.5,205.5 M473.5,205.5 L466.5,205.5 M466.5,212.5 L473.5,212.5 M466.5,256.5 L473.5,256.5 M466.5,256.5 L466.5,248.5 M473.5,256.5 L473.5,248.5 M466.5,248.5 L473.5,248.5 M473.5,263.5 L473.5,256.5 M466.5,263.5 L466.5,256.5 M460.5,248.5 L466.5,248.5 M460.5,256.5 L466.5,256.5 M480.5,256.5 L473.5,256.5 M466.5,241.5 L473.5,241.5 M473.5,248.5 L473.5,241.5 M460.5,241.5 L466.5,241.5 M460.5,234.5 L466.5,234.5 M466.5,234.5 L473.5,234.5 M473.5,219.5 L466.5,219.5 M473.5,219.5 L473.5,227.5 M466.5,219.5 L466.5,227.5 M466.5,212.5 L466.5,219.5 M480.5,219.5 L473.5,219.5 M480.5,227.5 L473.5,227.5 M466.5,234.5 L466.5,227.5 M473.5,234.5 L473.5,227.5 M458.5,227.5 L466.5,227.5 M458.5,219.5 L466.5,219.5 M480.5,219.5 L480.5,212.5 M473.5,234.5 L480.5,234.5 M517.5,197.5 L519.5,200.5 M509.5,205.5 L509.5,197.5 M509.5,205.5 L511.5,206.5 M517.5,256.5 L518.5,254.5 M517.5,262.5 L517.5,256.5 M488.5,212.5 L488.5,219.5 M480.5,219.5 L488.5,219.5 M502.5,183.5 L502.5,190.5 M509.5,190.5 L502.5,190.5 M458.5,174.5 L458.5,183.5 M452.5,183.5 L458.5,183.5 M473.5,248.5 L480.5,248.5 M473.5,241.5 L480.5,241.5 M480.5,248.5 L480.5,241.5 M480.5,256.5 L480.5,248.5 M480.5,234.5 L480.5,241.5 M480.5,227.5 L488.5,227.5 M480.5,234.5 L488.5,234.5 M488.5,234.5 L488.5,227.5 M480.5,197.5 L488.5,197.5 M480.5,197.5 L480.5,190.5 M480.5,190.5 L488.5,190.5 M488.5,197.5 L488.5,190.5 M495.5,180.5 L495.5,190.5 M488.5,180.5 L488.5,190.5 M488.5,190.5 L495.5,190.5 M488.5,205.5 L488.5,197.5 M484.5,179.5 L480.5,183.5 M480.5,183.5 L480.5,190.5 M502.5,190.5 L495.5,190.5 M495.5,197.5 L502.5,197.5 M495.5,197.5 L495.5,205.5 M502.5,205.5 L495.5,205.5 M502.5,205.5 L502.5,197.5 M502.5,190.5 L502.5,197.5 M495.5,190.5 L495.5,197.5 M488.5,197.5 L495.5,197.5 M488.5,205.5 L495.5,205.5 M509.5,197.5 L502.5,197.5 M509.5,205.5 L502.5,205.5 M455.5,200.5 L458.5,197.5 M466.5,205.5 L466.5,197.5 M458.5,197.5 L466.5,197.5 M453.5,190.5 L458.5,190.5 M458.5,197.5 L458.5,190.5 M473.5,197.5 L466.5,197.5 M458.5,183.5 L458.5,190.5 M466.5,190.5 L466.5,183.5 M466.5,190.5 L473.5,190.5 M473.5,183.5 L473.5,190.5 M473.5,183.5 L466.5,183.5 M458.5,190.5 L466.5,190.5 M458.5,183.5 L466.5,183.5 M473.5,197.5 L473.5,190.5 M466.5,197.5 L466.5,190.5 M480.5,190.5 L473.5,190.5 M480.5,183.5 L473.5,183.5 M466.5,174.5 L466.5,183.5 M502.5,234.5 L495.5,234.5 M495.5,227.5 L495.5,234.5 M500.5,227.5 L495.5,227.5 M488.5,234.5 L495.5,234.5 M495.5,227.5 L488.5,227.5 M502.5,219.5 L502.5,212.5 M502.5,212.5 L495.5,212.5 M495.5,212.5 L495.5,219.5 M502.5,219.5 L495.5,219.5 M506.5,212.5 L502.5,212.5 M505.5,222.5 L502.5,219.5 M502.5,205.5 L502.5,212.5 M495.5,205.5 L495.5,212.5 M488.5,219.5 L495.5,219.5 M495.5,227.5 L495.5,219.5 M509.5,256.5 L509.5,247.5 M509.5,256.5 L502.5,256.5 M502.5,248.5 L502.5,256.5 M517.5,256.5 L509.5,256.5 M509.5,262.5 L509.5,256.5 M502.5,262.5 L502.5,256.5 M488.5,256.5 L495.5,256.5 M488.5,263.5 L488.5,256.5 M495.5,262.5 L495.5,256.5 M480.5,256.5 L488.5,256.5 M502.5,256.5 L495.5,256.5 M495.5,241.5 L495.5,248.5 M495.5,241.5 L488.5,241.5 M495.5,248.5 L488.5,248.5 M502.5,248.5 L495.5,248.5 M488.5,234.5 L488.5,241.5 M495.5,234.5 L495.5,241.5 M480.5,241.5 L488.5,241.5 M480.5,248.5 L488.5,248.5 M488.5,256.5 L488.5,248.5 M495.5,256.5 L495.5,248.5 M486.5,267.5 L491.5,267.5 M491.5,263.5 L491.5,267.5 M486.5,263.5 L486.5,267.5 M491.5,278.5 L491.5,273.5 M486.5,273.5 L491.5,273.5 M486.5,278.5 L491.5,278.5 M486.5,273.5 L486.5,278.5 M486.5,273.5 L486.5,267.5 M491.5,267.5 L491.5,273.5 M491.5,309.5 L491.5,306.5 M486.5,310.5 L486.5,306.5 M491.5,306.5 L486.5,306.5 M491.5,278.5 L491.5,284.5 M491.5,284.5 L486.5,284.5 M486.5,278.5 L486.5,284.5 M497.5,284.5 L491.5,284.5 M497.5,278.5 L491.5,278.5 M497.5,284.5 L497.5,278.5 M497.5,273.5 L497.5,267.5 M491.5,267.5 L497.5,267.5 M502.5,262.5 L502.5,267.5 M497.5,267.5 L502.5,267.5 M497.5,262.5 L497.5,267.5 M497.5,278.5 L497.5,273.5 M508.5,267.5 L502.5,267.5 M508.5,262.5 L508.5,267.5 M532.5,291.5 L530.5,289.5 M532.5,282.5 L530.5,284.5 M530.5,289.5 L530.5,284.5 M519.5,262.5 L519.5,267.5 M513.5,262.5 L513.5,267.5 M513.5,267.5 L519.5,267.5 M508.5,267.5 L513.5,267.5 M523.5,267.5 L519.5,267.5 M519.5,306.5 L519.5,300.5 M519.5,306.5 L525.5,306.5 M525.5,300.5 L519.5,300.5 M516.5,308.5 L519.5,306.5 M491.5,306.5 L497.5,306.5 M497.5,309.5 L497.5,306.5 M480.5,284.5 L475.5,284.5 M475.5,284.5 L475.5,278.5 M480.5,278.5 L475.5,278.5 M480.5,284.5 L480.5,278.5 M486.5,278.5 L480.5,278.5 M480.5,284.5 L486.5,284.5 M464.5,263.5 L464.5,267.5 M459.5,267.5 L464.5,267.5 M464.5,284.5 L464.5,278.5 M464.5,284.5 L469.5,284.5 M469.5,284.5 L469.5,278.5 M469.5,278.5 L464.5,278.5 M459.5,273.5 L464.5,273.5 M464.5,273.5 L464.5,278.5 M459.5,278.5 L464.5,278.5 M469.5,284.5 L475.5,284.5 M475.5,278.5 L469.5,278.5 M464.5,267.5 L464.5,273.5 M464.5,284.5 L462.5,285.5 M480.5,310.5 L480.5,306.5 M486.5,306.5 L480.5,306.5 M464.5,289.5 L469.5,289.5 M465.5,295.5 L469.5,295.5 M469.5,289.5 L469.5,295.5 M475.5,284.5 L475.5,289.5 M469.5,284.5 L469.5,289.5 M480.5,284.5 L480.5,289.5 M480.5,289.5 L475.5,289.5 M516.5,308.5 L513.5,306.5 M519.5,300.5 L513.5,300.5 M513.5,306.5 L513.5,300.5 M513.5,306.5 L508.5,306.5 M508.5,300.5 L508.5,306.5 M513.5,300.5 L508.5,300.5 M502.5,309.5 L502.5,306.5 M508.5,309.5 L508.5,306.5 M508.5,306.5 L502.5,306.5 M497.5,306.5 L502.5,306.5 M464.5,267.5 L469.5,267.5 M469.5,273.5 L469.5,267.5 M464.5,273.5 L469.5,273.5 M469.5,278.5 L469.5,273.5 M469.5,263.5 L469.5,267.5 M475.5,310.5 L475.5,306.5 M468.5,306.5 L475.5,306.5 M469.5,295.5 L469.5,300.5 M480.5,306.5 L475.5,306.5 M475.5,295.5 L475.5,300.5 M475.5,295.5 L480.5,295.5 M480.5,295.5 L480.5,300.5 M475.5,300.5 L480.5,300.5 M469.5,295.5 L475.5,295.5 M469.5,300.5 L475.5,300.5 M475.5,289.5 L475.5,295.5 M480.5,289.5 L480.5,295.5 M480.5,306.5 L480.5,300.5 M475.5,306.5 L475.5,300.5 M486.5,306.5 L486.5,300.5 M486.5,300.5 L480.5,300.5 M480.5,295.5 L486.5,295.5 M480.5,289.5 L486.5,289.5 M486.5,289.5 L486.5,295.5 M486.5,300.5 L486.5,295.5 M480.5,273.5 L480.5,267.5 M480.5,267.5 L475.5,267.5 M475.5,273.5 L475.5,267.5 M475.5,278.5 L475.5,273.5 M480.5,278.5 L480.5,273.5 M486.5,267.5 L480.5,267.5 M486.5,273.5 L480.5,273.5 M480.5,263.5 L480.5,267.5 M475.5,263.5 L475.5,267.5 M469.5,273.5 L475.5,273.5 M469.5,267.5 L475.5,267.5 M530.5,289.5 L525.5,289.5 M527.5,297.5 L525.5,295.5 M525.5,295.5 L525.5,289.5 M502.5,267.5 L502.5,273.5 M508.5,267.5 L508.5,273.5 M497.5,273.5 L502.5,273.5 M491.5,306.5 L491.5,300.5 M486.5,300.5 L491.5,300.5 M502.5,273.5 L502.5,278.5 M508.5,273.5 L508.5,278.5 M497.5,284.5 L502.5,284.5 M497.5,278.5 L502.5,278.5 M502.5,278.5 L502.5,284.5 M513.5,278.5 L513.5,273.5 M508.5,273.5 L513.5,273.5 M508.5,278.5 L513.5,278.5 M519.5,267.5 L519.5,273.5 M513.5,273.5 L519.5,273.5 M513.5,267.5 L513.5,273.5 M522.5,273.5 L519.5,273.5 M519.5,273.5 L519.5,278.5 M525.5,278.5 L519.5,278.5 M527.5,276.5 L525.5,278.5 M525.5,278.5 L525.5,284.5 M513.5,278.5 L519.5,278.5 M525.5,289.5 L525.5,284.5 M519.5,278.5 L519.5,284.5 M525.5,284.5 L519.5,284.5 M491.5,295.5 L491.5,289.5 M486.5,289.5 L491.5,289.5 M486.5,295.5 L491.5,295.5 M491.5,289.5 L497.5,289.5 M491.5,284.5 L491.5,289.5 M497.5,284.5 L497.5,289.5 M491.5,300.5 L491.5,295.5 M502.5,284.5 L502.5,289.5 M502.5,289.5 L497.5,289.5 M497.5,295.5 L502.5,295.5 M497.5,295.5 L497.5,300.5 M502.5,300.5 L497.5,300.5 M502.5,300.5 L502.5,295.5 M502.5,289.5 L502.5,295.5 M497.5,289.5 L497.5,295.5 M491.5,295.5 L497.5,295.5 M491.5,300.5 L497.5,300.5 M502.5,306.5 L502.5,300.5 M497.5,306.5 L497.5,300.5 M508.5,300.5 L502.5,300.5 M508.5,300.5 L508.5,295.5 M508.5,295.5 L502.5,295.5 M502.5,289.5 L508.5,289.5 M508.5,289.5 L508.5,284.5 M502.5,284.5 L508.5,284.5 M508.5,284.5 L513.5,284.5 M513.5,278.5 L513.5,284.5 M508.5,278.5 L508.5,284.5 M508.5,295.5 L508.5,289.5 M519.5,284.5 L513.5,284.5 M513.5,289.5 L513.5,295.5 M519.5,295.5 L519.5,289.5 M519.5,295.5 L513.5,295.5 M513.5,284.5 L513.5,289.5 M519.5,284.5 L519.5,289.5 M508.5,295.5 L513.5,295.5 M508.5,289.5 L513.5,289.5 M525.5,295.5 L519.5,295.5 M525.5,289.5 L519.5,289.5 M519.5,300.5 L519.5,295.5 M513.5,300.5 L513.5,295.5 M513.5,209.5 L513.5,214.5 M506.5,220.5 L506.5,220.5 M500.5,227.5 L506.5,227.5 M506.5,220.5 L506.5,227.5 M502.5,233.5 L506.5,233.5 M506.5,227.5 L506.5,233.5 M506.5,220.5 L513.5,220.5 M506.5,227.5 L513.5,227.5 M513.5,227.5 L513.5,220.5 M513.5,233.5 L513.5,227.5 M513.5,233.5 L506.5,233.5 M513.5,214.5 L513.5,220.5 M561.5,259.5 L552.5,259.5 M561.5,253.5 L552.5,253.5 M552.5,253.5 L552.5,259.5 M532.5,277.5 L532.5,272.5 M524.5,274.5 L526.5,272.5 M526.5,272.5 L532.5,272.5 M502.5,240.5 L506.5,240.5 M506.5,233.5 L506.5,240.5 M555.5,275.5 L552.5,272.5 M552.5,272.5 L552.5,266.5 M552.5,259.5 L552.5,266.5 M561.5,249.5 L558.5,246.5 M552.5,253.5 L552.5,246.5 M558.5,246.5 L552.5,246.5 M563.5,240.5 L560.5,240.5 M558.5,246.5 L558.5,241.5 M560.5,232.5 L558.5,233.5 M558.5,233.5 L558.5,237.5 M513.5,246.5 L513.5,240.5 M506.5,240.5 L513.5,240.5 M506.5,246.5 L506.5,240.5 M513.5,233.5 L513.5,240.5 M520.5,259.5 L526.5,259.5 M522.5,266.5 L526.5,266.5 M526.5,266.5 L526.5,259.5 M526.5,272.5 L526.5,266.5 M532.5,266.5 L526.5,266.5 M532.5,259.5 L526.5,259.5 M532.5,259.5 L532.5,266.5 M526.5,246.5 L519.5,246.5 M526.5,246.5 L526.5,253.5 M519.5,253.5 L519.5,246.5 M519.5,253.5 L526.5,253.5 M532.5,246.5 L526.5,246.5 M532.5,253.5 L532.5,246.5 M532.5,253.5 L526.5,253.5 M513.5,246.5 L519.5,246.5 M518.5,254.5 L519.5,253.5 M526.5,259.5 L526.5,253.5 M532.5,240.5 L526.5,240.5 M532.5,240.5 L532.5,246.5 M519.5,240.5 L513.5,240.5 M532.5,253.5 L532.5,259.5 M539.5,253.5 L545.5,253.5 M539.5,253.5 L539.5,246.5 M545.5,253.5 L545.5,246.5 M539.5,246.5 L545.5,246.5 M545.5,259.5 L539.5,259.5 M545.5,259.5 L545.5,253.5 M539.5,259.5 L539.5,253.5 M532.5,246.5 L539.5,246.5 M532.5,253.5 L539.5,253.5 M552.5,246.5 L545.5,246.5 M552.5,253.5 L545.5,253.5 M539.5,259.5 L532.5,259.5 M552.5,259.5 L545.5,259.5 M519.5,214.5 L513.5,214.5 M519.5,214.5 L522.5,211.5 M539.5,266.5 L539.5,272.5 M539.5,266.5 L545.5,266.5 M539.5,272.5 L545.5,272.5 M545.5,266.5 L545.5,272.5 M532.5,266.5 L539.5,266.5 M532.5,272.5 L539.5,272.5 M539.5,259.5 L539.5,266.5 M539.5,276.5 L539.5,272.5 M545.5,276.5 L545.5,272.5 M552.5,266.5 L545.5,266.5 M552.5,272.5 L545.5,272.5 M552.5,227.5 L545.5,227.5 M545.5,219.5 L545.5,227.5 M555.5,224.5 L552.5,227.5 M539.5,227.5 L545.5,227.5 M539.5,227.5 L539.5,220.5 M539.5,220.5 L541.5,218.5 M532.5,240.5 L539.5,240.5 M532.5,240.5 L532.5,233.5 M532.5,233.5 L539.5,233.5 M539.5,246.5 L539.5,240.5 M519.5,214.5 L519.5,220.5 M513.5,220.5 L519.5,220.5 M552.5,233.5 L545.5,233.5 M552.5,233.5 L552.5,240.5 M552.5,240.5 L545.5,240.5 M545.5,233.5 L545.5,240.5 M552.5,227.5 L552.5,233.5 M545.5,227.5 L545.5,233.5 M557.5,240.5 L552.5,240.5 M558.5,233.5 L552.5,233.5 M552.5,246.5 L552.5,240.5 M545.5,246.5 L545.5,240.5 M539.5,240.5 L545.5,240.5 M539.5,233.5 L545.5,233.5 M539.5,227.5 L539.5,233.5 M519.5,240.5 L519.5,233.5 M526.5,233.5 L519.5,233.5 M519.5,233.5 L519.5,227.5 M513.5,233.5 L519.5,233.5 M513.5,227.5 L519.5,227.5 M532.5,233.5 L526.5,233.5 M519.5,220.5 L519.5,227.5 M526.5,227.5 L526.5,220.5 M526.5,227.5 L532.5,227.5 M532.5,220.5 L532.5,227.5 M532.5,220.5 L526.5,220.5 M519.5,227.5 L526.5,227.5 M519.5,220.5 L526.5,220.5 M532.5,233.5 L532.5,227.5 M526.5,233.5 L526.5,227.5 M539.5,220.5 L532.5,220.5 M539.5,227.5 L532.5,227.5 M532.5,215.5 L532.5,220.5 M526.5,212.5 L526.5,220.5 M554.5,364.5 L554.5,357.5 M526.5,324.5 L526.5,324.5 M531.5,330.5 L532.5,329.5 M526.5,324.5 L532.5,324.5 M532.5,329.5 L532.5,324.5 M537.5,334.5 L537.5,329.5 M532.5,329.5 L537.5,329.5 M559.5,363.5 L559.5,357.5 M565.5,357.5 L559.5,357.5 M554.5,357.5 L559.5,357.5 M543.5,276.5 L543.5,280.5 M548.5,275.5 L548.5,280.5 M543.5,280.5 L548.5,280.5 M543.5,329.5 L548.5,329.5 M548.5,329.5 L548.5,335.5 M543.5,335.5 L548.5,335.5 M543.5,329.5 L543.5,335.5 M538.5,335.5 L543.5,335.5 M537.5,329.5 L543.5,329.5 M559.5,357.5 L559.5,351.5 M554.5,357.5 L554.5,351.5 M567.5,351.5 L559.5,351.5 M547.5,353.5 L548.5,351.5 M548.5,351.5 L554.5,351.5 M559.5,275.5 L559.5,280.5 M554.5,275.5 L554.5,280.5 M559.5,280.5 L554.5,280.5 M564.5,280.5 L559.5,280.5 M548.5,280.5 L554.5,280.5 M543.5,324.5 L537.5,324.5 M543.5,329.5 L543.5,324.5 M532.5,324.5 L537.5,324.5 M548.5,346.5 L548.5,340.5 M543.5,346.5 L548.5,346.5 M543.5,346.5 L543.5,340.5 M548.5,340.5 L543.5,340.5 M548.5,351.5 L548.5,346.5 M542.5,347.5 L543.5,346.5 M539.5,340.5 L543.5,340.5 M548.5,335.5 L548.5,340.5 M543.5,335.5 L543.5,340.5 M571.5,324.5 L565.5,324.5 M571.5,329.5 L565.5,329.5 M565.5,324.5 L565.5,329.5 M570.5,318.5 L565.5,318.5 M565.5,318.5 L565.5,324.5 M565.5,335.5 L565.5,329.5 M572.5,335.5 L565.5,335.5 M543.5,324.5 L548.5,324.5 M548.5,329.5 L548.5,324.5 M548.5,324.5 L548.5,318.5 M543.5,324.5 L543.5,318.5 M543.5,318.5 L548.5,318.5 M554.5,351.5 L554.5,346.5 M548.5,346.5 L554.5,346.5 M559.5,307.5 L559.5,313.5 M559.5,307.5 L565.5,307.5 M559.5,313.5 L565.5,313.5 M565.5,307.5 L565.5,313.5 M569.5,313.5 L565.5,313.5 M569.5,307.5 L565.5,307.5 M565.5,302.5 L565.5,307.5 M568.5,302.5 L565.5,302.5 M565.5,318.5 L565.5,313.5 M568.5,296.5 L565.5,296.5 M567.5,289.5 L565.5,291.5 M565.5,291.5 L565.5,296.5 M565.5,302.5 L565.5,296.5 M565.5,296.5 L559.5,296.5 M559.5,296.5 L559.5,302.5 M559.5,307.5 L559.5,302.5 M548.5,280.5 L548.5,285.5 M543.5,280.5 L543.5,285.5 M543.5,285.5 L548.5,285.5 M537.5,324.5 L537.5,318.5 M543.5,318.5 L537.5,318.5 M559.5,351.5 L559.5,346.5 M565.5,335.5 L565.5,340.5 M565.5,340.5 L567.5,343.5 M554.5,346.5 L559.5,346.5 M559.5,335.5 L559.5,340.5 M559.5,335.5 L554.5,335.5 M554.5,335.5 L554.5,340.5 M559.5,340.5 L554.5,340.5 M565.5,340.5 L559.5,340.5 M559.5,329.5 L559.5,335.5 M554.5,329.5 L559.5,329.5 M554.5,329.5 L554.5,335.5 M548.5,340.5 L554.5,340.5 M548.5,335.5 L554.5,335.5 M554.5,346.5 L554.5,340.5 M559.5,346.5 L559.5,340.5 M559.5,329.5 L565.5,329.5 M554.5,329.5 L548.5,329.5 M554.5,324.5 L554.5,318.5 M554.5,324.5 L559.5,324.5 M559.5,324.5 L559.5,318.5 M554.5,318.5 L559.5,318.5 M548.5,324.5 L554.5,324.5 M548.5,318.5 L554.5,318.5 M559.5,329.5 L559.5,324.5 M565.5,324.5 L559.5,324.5 M565.5,318.5 L559.5,318.5 M559.5,313.5 L559.5,318.5 M554.5,296.5 L554.5,302.5 M559.5,302.5 L554.5,302.5 M559.5,296.5 L554.5,296.5 M559.5,285.5 L554.5,285.5 M559.5,285.5 L559.5,291.5 M559.5,291.5 L554.5,291.5 M554.5,285.5 L554.5,291.5 M559.5,280.5 L559.5,285.5 M554.5,280.5 L554.5,285.5 M565.5,291.5 L559.5,291.5 M566.5,285.5 L559.5,285.5 M559.5,296.5 L559.5,291.5 M554.5,296.5 L554.5,291.5 M548.5,285.5 L548.5,291.5 M548.5,285.5 L554.5,285.5 M548.5,291.5 L554.5,291.5 M548.5,296.5 L554.5,296.5 M537.5,280.5 L537.5,285.5 M532.5,280.5 L537.5,280.5 M535.5,285.5 L537.5,285.5 M532.5,280.5 L531.5,281.5 M543.5,285.5 L537.5,285.5 M543.5,280.5 L537.5,280.5 M537.5,276.5 L537.5,280.5 M532.5,277.5 L532.5,280.5 M543.5,285.5 L543.5,291.5 M548.5,291.5 L543.5,291.5 M532.5,324.5 L532.5,318.5 M526.5,324.5 L526.5,318.5 M526.5,318.5 L532.5,318.5 M521.5,318.5 L526.5,318.5 M537.5,318.5 L532.5,318.5 M559.5,313.5 L554.5,313.5 M559.5,307.5 L554.5,307.5 M554.5,313.5 L554.5,307.5 M554.5,318.5 L554.5,313.5 M554.5,302.5 L554.5,307.5 M548.5,296.5 L543.5,296.5 M543.5,291.5 L543.5,296.5 M543.5,302.5 L548.5,302.5 M548.5,296.5 L548.5,302.5 M554.5,302.5 L548.5,302.5 M532.5,313.5 L526.5,313.5 M532.5,313.5 L532.5,307.5 M526.5,307.5 L532.5,307.5 M526.5,307.5 L526.5,313.5 M532.5,318.5 L532.5,313.5 M526.5,318.5 L526.5,313.5 M537.5,313.5 L532.5,313.5 M537.5,307.5 L532.5,307.5 M525.5,302.5 L532.5,302.5 M532.5,302.5 L532.5,307.5 M525.5,306.5 L526.5,307.5 M537.5,318.5 L537.5,313.5 M537.5,307.5 L537.5,302.5 M532.5,302.5 L537.5,302.5 M548.5,313.5 L548.5,307.5 M548.5,313.5 L543.5,313.5 M543.5,313.5 L543.5,307.5 M548.5,307.5 L543.5,307.5 M554.5,313.5 L548.5,313.5 M554.5,307.5 L548.5,307.5 M543.5,318.5 L543.5,313.5 M537.5,307.5 L543.5,307.5 M543.5,302.5 L543.5,307.5 M548.5,302.5 L548.5,307.5 M543.5,302.5 L537.5,302.5 M532.5,296.5 L537.5,296.5 M532.5,296.5 L530.5,294.5 M532.5,291.5 L537.5,291.5 M537.5,291.5 L537.5,296.5 M532.5,302.5 L532.5,296.5 M537.5,302.5 L537.5,296.5 M537.5,285.5 L537.5,291.5 M543.5,296.5 L537.5,296.5 M543.5,291.5 L537.5,291.5 M608.5,229.5 L604.5,229.5 M604.5,223.5 L604.5,229.5 M587.5,235.5 L587.5,241.5 M581.5,232.5 L581.5,241.5 M587.5,241.5 L581.5,241.5 M577.5,241.5 L581.5,241.5 M587.5,246.5 L587.5,241.5 M581.5,246.5 L587.5,246.5 M581.5,246.5 L581.5,241.5 M576.5,246.5 L581.5,246.5 M579.5,278.5 L581.5,281.5 M581.5,281.5 L581.5,284.5 M581.5,281.5 L587.5,281.5 M587.5,284.5 L587.5,281.5 M622.5,252.5 L615.5,252.5 M615.5,252.5 L615.5,243.5 M598.5,223.5 L592.5,223.5 M592.5,223.5 L592.5,229.5 M598.5,229.5 L592.5,229.5 M600.5,221.5 L598.5,223.5 M590.5,221.5 L592.5,223.5 M585.5,229.5 L592.5,229.5 M587.5,235.5 L592.5,235.5 M592.5,235.5 L592.5,229.5 M587.5,281.5 L592.5,281.5 M592.5,281.5 L595.5,283.5 M587.5,269.5 L587.5,275.5 M581.5,269.5 L587.5,269.5 M579.5,263.5 L587.5,263.5 M587.5,263.5 L587.5,269.5 M587.5,281.5 L587.5,275.5 M617.5,277.5 L615.5,275.5 M609.5,281.5 L609.5,275.5 M615.5,275.5 L609.5,275.5 M581.5,258.5 L581.5,252.5 M581.5,252.5 L587.5,252.5 M587.5,252.5 L587.5,258.5 M581.5,258.5 L587.5,258.5 M576.5,252.5 L581.5,252.5 M578.5,260.5 L581.5,258.5 M587.5,246.5 L587.5,252.5 M587.5,263.5 L587.5,258.5 M587.5,246.5 L592.5,246.5 M592.5,246.5 L592.5,241.5 M587.5,241.5 L592.5,241.5 M592.5,235.5 L592.5,241.5 M598.5,241.5 L598.5,235.5 M604.5,235.5 L604.5,241.5 M604.5,235.5 L598.5,235.5 M592.5,241.5 L598.5,241.5 M592.5,235.5 L598.5,235.5 M604.5,246.5 L598.5,246.5 M604.5,246.5 L604.5,241.5 M610.5,235.5 L604.5,235.5 M609.5,241.5 L604.5,241.5 M604.5,229.5 L604.5,235.5 M598.5,229.5 L598.5,235.5 M598.5,246.5 L592.5,246.5 M587.5,275.5 L592.5,275.5 M592.5,281.5 L592.5,275.5 M609.5,252.5 L607.5,250.5 M611.5,245.5 L610.5,246.5 M615.5,252.5 L609.5,252.5 M604.5,246.5 L605.5,248.5 M623.5,255.5 L621.5,258.5 M622.5,265.5 L621.5,263.5 M621.5,263.5 L621.5,258.5 M615.5,252.5 L615.5,258.5 M621.5,258.5 L615.5,258.5 M598.5,252.5 L598.5,258.5 M598.5,252.5 L592.5,252.5 M592.5,252.5 L592.5,258.5 M598.5,258.5 L592.5,258.5 M598.5,246.5 L598.5,252.5 M592.5,246.5 L592.5,252.5 M587.5,258.5 L592.5,258.5 M587.5,252.5 L592.5,252.5 M604.5,252.5 L598.5,252.5 M604.5,252.5 L606.5,250.5 M598.5,263.5 L592.5,263.5 M598.5,258.5 L598.5,263.5 M592.5,258.5 L592.5,263.5 M587.5,263.5 L592.5,263.5 M587.5,269.5 L592.5,269.5 M592.5,263.5 L592.5,269.5 M592.5,275.5 L592.5,269.5 M598.5,269.5 L598.5,275.5 M598.5,269.5 L604.5,269.5 M604.5,275.5 L604.5,269.5 M592.5,269.5 L598.5,269.5 M592.5,275.5 L598.5,275.5 M604.5,282.5 L604.5,275.5 M598.5,283.5 L598.5,275.5 M598.5,263.5 L598.5,269.5 M609.5,275.5 L604.5,275.5 M620.5,269.5 L615.5,269.5 M615.5,263.5 L615.5,269.5 M621.5,263.5 L615.5,263.5 M615.5,269.5 L609.5,269.5 M615.5,275.5 L615.5,269.5 M609.5,275.5 L609.5,269.5 M615.5,258.5 L615.5,263.5 M604.5,269.5 L609.5,269.5 M609.5,263.5 L604.5,263.5 M609.5,258.5 L604.5,258.5 M604.5,258.5 L604.5,263.5 M604.5,269.5 L604.5,263.5 M609.5,269.5 L609.5,263.5 M615.5,258.5 L609.5,258.5 M615.5,263.5 L609.5,263.5 M609.5,252.5 L609.5,258.5 M604.5,252.5 L604.5,258.5 M598.5,258.5 L604.5,258.5 M598.5,263.5 L604.5,263.5 M571.5,347.5 L571.5,342.5 M567.5,342.5 L571.5,342.5 M594.5,283.5 L594.5,288.5 M600.5,288.5 L594.5,288.5 M571.5,342.5 L571.5,338.5 M571.5,338.5 L570.5,337.5 M581.5,284.5 L581.5,288.5 M574.5,286.5 L576.5,288.5 M576.5,288.5 L581.5,288.5 M594.5,338.5 L590.5,338.5 M590.5,343.5 L590.5,338.5 M567.5,292.5 L571.5,292.5 M571.5,287.5 L571.5,292.5 M568.5,297.5 L571.5,297.5 M571.5,292.5 L571.5,297.5 M570.5,320.5 L576.5,320.5 M571.5,324.5 L576.5,324.5 M576.5,320.5 L576.5,324.5 M571.5,329.5 L576.5,329.5 M576.5,329.5 L576.5,324.5 M604.5,324.5 L599.5,324.5 M600.5,330.5 L599.5,329.5 M599.5,329.5 L599.5,324.5 M594.5,324.5 L594.5,329.5 M599.5,329.5 L594.5,329.5 M594.5,333.5 L594.5,329.5 M596.5,335.5 L594.5,333.5 M594.5,329.5 L590.5,329.5 M590.5,329.5 L590.5,333.5 M594.5,333.5 L590.5,333.5 M594.5,324.5 L590.5,324.5 M590.5,324.5 L590.5,329.5 M590.5,338.5 L590.5,333.5 M581.5,324.5 L581.5,329.5 M581.5,324.5 L585.5,324.5 M585.5,329.5 L581.5,329.5 M576.5,324.5 L581.5,324.5 M576.5,329.5 L581.5,329.5 M585.5,320.5 L585.5,324.5 M581.5,320.5 L585.5,320.5 M581.5,320.5 L581.5,324.5 M590.5,329.5 L585.5,329.5 M590.5,324.5 L585.5,324.5 M576.5,320.5 L581.5,320.5 M590.5,324.5 L590.5,320.5 M585.5,320.5 L590.5,320.5 M571.5,306.5 L571.5,301.5 M569.5,306.5 L571.5,306.5 M568.5,301.5 L571.5,301.5 M571.5,297.5 L571.5,301.5 M572.5,333.5 L576.5,333.5 M576.5,329.5 L576.5,333.5 M599.5,320.5 L594.5,320.5 M599.5,324.5 L599.5,320.5 M594.5,324.5 L594.5,320.5 M604.5,320.5 L599.5,320.5 M590.5,320.5 L594.5,320.5 M602.5,301.5 L599.5,301.5 M602.5,306.5 L599.5,306.5 M599.5,301.5 L599.5,306.5 M601.5,295.5 L599.5,297.5 M599.5,297.5 L599.5,301.5 M571.5,310.5 L576.5,310.5 M571.5,310.5 L569.5,312.5 M570.5,315.5 L576.5,315.5 M571.5,306.5 L571.5,310.5 M576.5,320.5 L576.5,315.5 M581.5,315.5 L581.5,310.5 M581.5,315.5 L576.5,315.5 M581.5,310.5 L576.5,310.5 M581.5,320.5 L581.5,315.5 M590.5,333.5 L585.5,333.5 M585.5,338.5 L585.5,333.5 M590.5,338.5 L585.5,338.5 M585.5,329.5 L585.5,333.5 M581.5,329.5 L581.5,333.5 M585.5,333.5 L581.5,333.5 M587.5,345.5 L585.5,342.5 M585.5,342.5 L585.5,338.5 M581.5,338.5 L576.5,338.5 M581.5,338.5 L581.5,342.5 M576.5,342.5 L581.5,342.5 M576.5,342.5 L576.5,338.5 M576.5,333.5 L576.5,338.5 M581.5,333.5 L581.5,338.5 M585.5,342.5 L581.5,342.5 M585.5,338.5 L581.5,338.5 M576.5,348.5 L576.5,342.5 M581.5,348.5 L581.5,342.5 M571.5,342.5 L576.5,342.5 M571.5,338.5 L576.5,338.5 M603.5,315.5 L599.5,315.5 M603.5,310.5 L599.5,310.5 M599.5,310.5 L599.5,315.5 M599.5,306.5 L599.5,310.5 M599.5,320.5 L599.5,315.5 M585.5,284.5 L585.5,288.5 M590.5,284.5 L590.5,288.5 M590.5,288.5 L585.5,288.5 M594.5,288.5 L590.5,288.5 M581.5,310.5 L581.5,306.5 M576.5,306.5 L581.5,306.5 M576.5,310.5 L576.5,306.5 M571.5,306.5 L576.5,306.5 M594.5,320.5 L594.5,315.5 M590.5,292.5 L590.5,297.5 M590.5,292.5 L594.5,292.5 M594.5,292.5 L594.5,297.5 M590.5,297.5 L594.5,297.5 M594.5,288.5 L594.5,292.5 M590.5,288.5 L590.5,292.5 M600.5,292.5 L594.5,292.5 M599.5,297.5 L594.5,297.5 M590.5,292.5 L585.5,292.5 M585.5,288.5 L585.5,292.5 M585.5,315.5 L590.5,315.5 M585.5,320.5 L585.5,315.5 M590.5,320.5 L590.5,315.5 M581.5,315.5 L585.5,315.5 M594.5,315.5 L590.5,315.5 M576.5,306.5 L576.5,301.5 M571.5,301.5 L576.5,301.5 M599.5,301.5 L594.5,301.5 M594.5,297.5 L594.5,301.5 M581.5,288.5 L581.5,292.5 M576.5,288.5 L576.5,292.5 M581.5,292.5 L576.5,292.5 M576.5,292.5 L576.5,297.5 M571.5,292.5 L576.5,292.5 M571.5,297.5 L576.5,297.5 M585.5,292.5 L581.5,292.5 M576.5,301.5 L576.5,297.5 M576.5,301.5 L581.5,301.5 M581.5,297.5 L581.5,301.5 M581.5,292.5 L581.5,297.5 M581.5,297.5 L585.5,297.5 M585.5,292.5 L585.5,297.5 M590.5,297.5 L585.5,297.5 M581.5,306.5 L581.5,301.5 M581.5,310.5 L585.5,310.5 M585.5,315.5 L585.5,310.5 M590.5,301.5 L585.5,301.5 M590.5,297.5 L590.5,301.5 M581.5,301.5 L585.5,301.5 M585.5,301.5 L585.5,306.5 M594.5,301.5 L590.5,301.5 M585.5,310.5 L585.5,306.5 M590.5,306.5 L590.5,310.5 M590.5,306.5 L594.5,306.5 M594.5,310.5 L590.5,310.5 M594.5,310.5 L594.5,306.5 M585.5,310.5 L590.5,310.5 M585.5,306.5 L590.5,306.5 M590.5,301.5 L590.5,306.5 M594.5,301.5 L594.5,306.5 M594.5,315.5 L594.5,310.5 M590.5,315.5 L590.5,310.5 M599.5,306.5 L594.5,306.5 M599.5,310.5 L594.5,310.5 M609.5,291.5 L609.5,286.5 M609.5,291.5 L604.5,291.5 M604.5,286.5 L609.5,286.5 M609.5,296.5 L609.5,291.5 M604.5,296.5 L609.5,296.5 M604.5,296.5 L604.5,291.5 M600.5,286.5 L604.5,286.5 M600.5,291.5 L604.5,291.5 M609.5,281.5 L609.5,286.5 M604.5,282.5 L604.5,286.5 M601.5,296.5 L604.5,296.5 M652.5,293.5 L650.5,291.5 M650.5,286.5 L650.5,291.5 M629.5,296.5 L629.5,291.5 M624.5,296.5 L624.5,291.5 M629.5,296.5 L624.5,296.5 M629.5,326.5 L629.5,321.5 M629.5,321.5 L634.5,321.5 M637.5,328.5 L634.5,326.5 M634.5,316.5 L634.5,321.5 M640.5,316.5 L634.5,316.5 M640.5,316.5 L642.5,318.5 M626.5,328.5 L624.5,326.5 M629.5,321.5 L624.5,321.5 M624.5,326.5 L624.5,321.5 M619.5,330.5 L619.5,326.5 M614.5,326.5 L619.5,326.5 M612.5,328.5 L614.5,326.5 M619.5,321.5 L619.5,326.5 M624.5,326.5 L619.5,326.5 M624.5,321.5 L619.5,321.5 M650.5,296.5 L645.5,296.5 M650.5,296.5 L650.5,301.5 M645.5,296.5 L645.5,301.5 M652.5,293.5 L650.5,296.5 M640.5,296.5 L640.5,301.5 M640.5,301.5 L645.5,301.5 M640.5,296.5 L645.5,296.5 M634.5,296.5 L629.5,296.5 M634.5,296.5 L634.5,301.5 M629.5,301.5 L634.5,301.5 M629.5,296.5 L629.5,301.5 M640.5,301.5 L634.5,301.5 M634.5,296.5 L640.5,296.5 M645.5,311.5 L645.5,306.5 M652.5,306.5 L645.5,306.5 M647.5,313.5 L645.5,311.5 M645.5,301.5 L645.5,306.5 M624.5,283.5 L624.5,286.5 M629.5,286.5 L624.5,286.5 M629.5,283.5 L629.5,286.5 M643.5,275.5 L645.5,276.5 M645.5,276.5 L650.5,276.5 M629.5,286.5 L629.5,291.5 M624.5,291.5 L624.5,286.5 M614.5,286.5 L614.5,291.5 M614.5,286.5 L619.5,286.5 M614.5,291.5 L619.5,291.5 M619.5,286.5 L619.5,291.5 M609.5,291.5 L614.5,291.5 M609.5,286.5 L614.5,286.5 M614.5,280.5 L614.5,286.5 M619.5,282.5 L619.5,286.5 M614.5,296.5 L614.5,291.5 M619.5,296.5 L619.5,291.5 M624.5,291.5 L619.5,291.5 M624.5,286.5 L619.5,286.5 M609.5,296.5 L614.5,296.5 M619.5,296.5 L624.5,296.5 M609.5,326.5 L609.5,321.5 M614.5,326.5 L614.5,321.5 M614.5,321.5 L609.5,321.5 M619.5,321.5 L614.5,321.5 M604.5,321.5 L609.5,321.5 M624.5,296.5 L624.5,301.5 M645.5,296.5 L645.5,291.5 M650.5,291.5 L645.5,291.5 M604.5,301.5 L604.5,296.5 M604.5,301.5 L602.5,303.5 M602.5,306.5 L609.5,306.5 M604.5,301.5 L609.5,301.5 M609.5,296.5 L609.5,301.5 M609.5,311.5 L614.5,311.5 M609.5,311.5 L609.5,316.5 M609.5,316.5 L614.5,316.5 M614.5,311.5 L614.5,316.5 M603.5,316.5 L609.5,316.5 M603.5,311.5 L609.5,311.5 M614.5,321.5 L614.5,316.5 M609.5,321.5 L609.5,316.5 M609.5,306.5 L609.5,311.5 M629.5,321.5 L629.5,316.5 M634.5,316.5 L629.5,316.5 M640.5,306.5 L640.5,311.5 M640.5,306.5 L634.5,306.5 M640.5,311.5 L634.5,311.5 M634.5,306.5 L634.5,311.5 M645.5,311.5 L640.5,311.5 M645.5,306.5 L640.5,306.5 M640.5,301.5 L640.5,306.5 M634.5,301.5 L634.5,306.5 M634.5,316.5 L634.5,311.5 M640.5,316.5 L640.5,311.5 M629.5,306.5 L634.5,306.5 M629.5,311.5 L634.5,311.5 M629.5,301.5 L629.5,306.5 M629.5,316.5 L629.5,311.5 M629.5,291.5 L634.5,291.5 M634.5,286.5 L634.5,291.5 M629.5,286.5 L634.5,286.5 M634.5,291.5 L640.5,291.5 M634.5,296.5 L634.5,291.5 M640.5,296.5 L640.5,291.5 M634.5,281.5 L634.5,286.5 M645.5,291.5 L640.5,291.5 M640.5,286.5 L645.5,286.5 M640.5,281.5 L640.5,286.5 M645.5,281.5 L645.5,286.5 M640.5,281.5 L645.5,281.5 M640.5,291.5 L640.5,286.5 M645.5,291.5 L645.5,286.5 M638.5,279.5 L640.5,281.5 M634.5,286.5 L640.5,286.5 M650.5,286.5 L645.5,286.5 M651.5,281.5 L645.5,281.5 M645.5,276.5 L645.5,281.5 M614.5,296.5 L614.5,301.5 M619.5,296.5 L619.5,301.5 M619.5,301.5 L614.5,301.5 M609.5,301.5 L614.5,301.5 M609.5,306.5 L614.5,306.5 M614.5,306.5 L614.5,301.5 M624.5,301.5 L619.5,301.5 M614.5,311.5 L614.5,306.5 M619.5,301.5 L619.5,306.5 M619.5,306.5 L624.5,306.5 M624.5,301.5 L624.5,306.5 M614.5,306.5 L619.5,306.5 M629.5,306.5 L624.5,306.5 M624.5,316.5 L624.5,311.5 M624.5,316.5 L619.5,316.5 M619.5,316.5 L619.5,311.5 M624.5,311.5 L619.5,311.5 M629.5,316.5 L624.5,316.5 M629.5,311.5 L624.5,311.5 M619.5,321.5 L619.5,316.5 M614.5,311.5 L619.5,311.5 M614.5,316.5 L619.5,316.5 M619.5,306.5 L619.5,311.5 M624.5,306.5 L624.5,311.5" fill="none" stroke="#222" stroke-width="0.65"/>
<path d="M181.5,137.1 L184.2,137.8 L186.9,138.6 L189.6,139.3 L192.3,140.1 L195.0,140.8 L197.7,141.5 L200.4,142.2 L203.1,142.9 L205.8,143.6 L208.5,144.3 L211.2,145.0 L213.9,145.7 L216.6,146.4 L219.3,147.0 L222.0,147.7 L224.8,148.3 L227.5,149.0 L230.2,149.6 L232.9,150.2 L235.6,150.8 L238.3,151.4 L241.1,152.0 L244.5,152.8 L247.9,153.5 L251.3,154.2 L254.3,154.8 L257.3,155.4 L260.3,156.0 L263.3,156.6 L266.3,157.2 L269.3,157.8 L272.3,158.3 L274.9,158.8 L277.6,159.3 L280.3,159.8 L283.0,160.3 L285.6,160.7 L288.3,161.2 L291.0,161.6 L293.7,162.1 L296.4,162.5 L299.1,162.9 L301.7,163.3 L304.4,163.7 L307.1,164.2 L309.8,164.6 L312.5,164.9 L315.2,165.3 L317.9,165.7 L320.7,166.1 L323.4,166.4 L326.2,166.8 L328.9,167.2 L331.7,167.5 L334.4,167.8 L337.2,168.2 L339.9,168.5 L342.7,168.8 L345.4,169.1 L348.2,169.4 L350.9,169.7 L353.7,170.0 L356.5,170.3 L359.2,170.5 L362.0,170.8 L364.7,171.0 L367.5,171.3 L370.3,171.5 L373.0,171.7 L375.8,172.0 L378.5,172.2 L381.4,172.4 L384.3,172.6 L387.2,172.8 L390.0,173.0 L392.9,173.2 L395.8,173.3 L398.7,173.5 L401.5,173.7 L404.4,173.8 L407.3,173.9 L410.1,174.1 L412.8,174.2 L415.6,174.3 L418.4,174.4 L421.1,174.5 L423.9,174.6 L426.6,174.7 L429.4,174.7 L432.2,174.8 L434.9,174.9 L437.7,174.9 L440.5,174.9 L443.2,175.0 L446.0,175.0 L448.8,175.0 L451.5,175.0 L454.3,175.0 L457.1,175.0 L459.9,175.0 L462.7,175.0 L465.5,175.0 L468.2,174.9 L471.0,174.9 L473.8,174.8 L473.7,168.6 M479.7,176.3 L480.4,178.8 L482.5,179.6 L484.0,180.0 L486.4,180.1 L488.0,179.9 L491.4,178.8 L492.2,178.8 L495.1,179.6 L497.8,179.2 L498.9,179.7 L501.9,182.1 L504.0,183.2 L505.5,183.7 L507.9,183.9 L508.7,184.3 L512.9,188.0 L514.4,188.9 L515.3,188.8 L516.8,188.1 L519.1,187.3 L521.0,186.2 L523.5,185.7 L526.6,186.6 L529.1,186.4 L530.0,186.5 L530.7,186.8 L532.7,188.4 L534.5,188.9 M594.6,206.1 L597.9,209.7 M624.7,258.7 L624.9,266.0 M620.7,269.9 L618.7,272.7 L618.5,275.1 M665.8,253.4 L662.9,247.7 M706.0,209.6 L709.0,208.9 L712.0,208.1 L715.0,207.4 L718.0,206.6 L720.9,205.8 L722.0,205.5 L724.8,204.8 L727.6,204.0 L730.3,203.3 L733.0,202.5 L735.8,201.7 L738.5,201.0 L741.3,200.2 L744.6,194.4 M744.6,194.4 L745.4,194.0 L746.8,192.1 L747.5,189.9 L749.7,187.3 L750.6,185.0 L750.6,182.5 L749.5,181.1 L749.1,180.3 L749.0,179.5 L750.6,176.2 L750.3,171.4 L749.7,169.0 L749.8,168.1 L750.2,166.6 L751.4,164.5 L751.7,163.7 L751.3,161.1 L751.4,159.4 L754.2,155.2 L754.9,155.0 L757.2,157.3 L758.9,157.8 L759.5,157.5 L762.0,154.4 L763.6,153.5 L765.2,154.5 L766.0,154.8 L769.3,154.9 L771.7,155.7 L772.5,159.0 L778.5,177.3 L780.8,178.1 L782.3,177.9 L783.0,178.3 L783.5,178.8 L785.6,182.4 L786.9,183.3 L788.8,184.1 M183.3,410.6 L215.1,414.1 L215.7,414.3 L214.9,415.7 L214.6,417.4 L216.8,419.4 L240.3,433.1 L261.3,444.8 L287.4,448.5 L289.8,448.5 L294.5,449.5 L296.8,450.4 L297.6,450.5 L298.5,450.3 L299.6,449.6 L299.2,449.1 L299.2,448.3 L300.9,442.8 L322.4,445.2 L323.9,445.6 L326.3,447.7 L328.3,451.3 L330.0,452.9 L331.5,454.9 L334.6,456.3 L336.6,458.8 L339.3,460.7 L342.3,463.3 L344.4,465.9 L344.9,467.6 L344.9,470.1 L345.2,471.7 L347.0,475.3 L349.1,478.7 L349.6,479.3 L352.8,481.8 L354.2,483.8 L357.7,487.8 L361.0,490.1 L362.4,492.3 L364.1,494.0 L364.8,494.4 L365.4,494.1 L365.8,492.4 L366.2,491.7 L368.1,490.2 L370.0,487.6 L373.3,483.9 L375.6,482.9 L376.9,481.7 L377.8,481.4 L379.4,481.3 L381.8,481.7 L385.0,482.9 L389.0,482.8 L394.1,485.3 L395.5,486.3 L397.1,488.0 L399.1,489.6 L400.3,490.7 L402.2,494.3 L403.7,496.3 L405.4,500.8 L406.9,503.7 L407.6,506.0 L409.4,510.4 L410.0,512.8 L410.9,514.2 L413.6,516.1 L414.7,517.4 L415.3,521.9 L416.1,523.1 L418.2,524.7 L420.2,530.9 L421.0,532.4 L423.9,534.2 L426.0,536.6 L428.7,538.0 L430.6,540.8 L431.9,541.6 L433.4,542.0 L435.8,544.8 L436.5,545.1 L439.0,545.4 L441.8,546.9 L446.5,548.3 L448.9,547.5 L451.1,546.4 L451.8,546.6 M155.5,176.0 L156.3,176.2 L159.8,178.2 L163.6,179.5 L166.9,181.7 L167.4,182.3 L167.8,183.9 L167.9,187.3 L168.1,188.1 L171.3,192.0 L171.8,192.3 L180.4,193.6 L186.8,194.2 L190.6,195.7 L194.7,195.0 L201.9,194.4 L208.3,194.3 L212.2,195.4 L231.9,199.9 M241.1,152.0 L240.2,156.1 L239.3,160.3 L238.3,164.4 L237.4,168.5 L236.5,172.6 L235.6,176.6 L234.7,180.7 L233.8,184.8 L232.9,188.9 L232.0,193.0 L231.9,199.9 M231.9,199.9 L233.8,203.4 L234.1,205.9 L234.6,207.2 L233.6,209.1 L231.4,211.4 L230.7,212.9 L229.9,216.1 L229.5,216.8 L227.0,219.0 L225.0,224.6 L224.6,224.6 L224.4,228.7 L216.9,262.6 M134.0,241.1 L137.0,242.0 L140.0,242.9 L143.0,243.8 L146.1,244.6 L149.1,245.5 L152.1,246.4 L155.1,247.2 L158.1,248.1 L161.2,248.9 L164.2,249.7 L167.2,250.5 L170.3,251.3 L173.3,252.1 L176.3,252.9 L179.4,253.7 L182.4,254.5 L185.5,255.3 L188.7,256.0 L191.8,256.8 L194.9,257.5 L198.1,258.3 L201.2,259.0 L204.3,259.8 L207.5,260.5 L210.6,261.2 L213.8,261.9 L216.9,262.6 M216.9,262.6 L220.1,263.3 L223.2,264.0 L226.4,264.6 L229.6,265.3 L232.8,265.9 L235.9,266.6 L239.1,267.2 L242.3,267.8 L245.5,268.4 L248.7,269.0 L251.9,269.6 L255.1,270.2 L258.2,270.8 L261.4,271.4 L264.6,271.9 L267.8,272.5 L271.0,273.0 L274.2,273.5 L277.4,274.1 L280.6,274.6 L283.8,275.1 L287.0,275.6 M182.4,254.5 L181.4,258.4 L180.5,262.2 L179.5,266.1 L178.5,270.0 L177.5,273.9 L176.5,277.8 L175.6,281.7 L174.6,285.6 L173.6,289.4 L172.6,293.3 L171.6,297.2 L170.7,301.1 L173.0,304.8 L175.4,308.6 L177.8,312.3 L180.2,316.0 L182.6,319.7 L185.0,323.4 L187.5,327.1 L190.0,330.8 L192.5,334.5 L195.0,338.2 L197.5,341.9 L200.1,345.6 L202.6,349.3 L205.2,352.9 L207.8,356.6 L210.4,360.3 L213.1,363.9 L215.7,367.6 L218.4,371.2 L221.1,374.9 L223.8,378.5 M223.8,378.5 L223.2,377.5 L223.5,375.9 L226.1,370.8 L225.7,367.6 L226.4,364.4 L226.4,363.0 L229.8,362.5 L234.6,360.5 L235.7,358.4 L236.9,354.5 L237.4,348.9 L237.2,348.4 M237.2,348.4 L237.9,344.5 L238.6,340.5 L239.4,336.6 L240.1,332.7 L240.8,328.7 L241.6,324.8 L242.3,320.8 L243.0,316.9 L243.8,313.0 L244.5,309.0 L245.2,305.1 L246.0,301.2 L246.7,297.2 L247.4,293.3 L248.2,289.4 L248.9,285.4 L249.7,281.5 L250.4,277.5 L251.1,273.6 L251.9,269.6 M223.8,378.5 L224.8,381.6 L225.2,384.7 L226.1,386.8 L226.2,387.7 L225.8,390.7 L226.3,390.0 L225.2,392.0 L222.7,394.2 L221.5,398.2 L221.3,400.7 L220.8,401.5 L218.7,402.9 L217.5,405.0 L219.7,410.2 L218.7,411.6 L216.0,413.4 L215.7,414.2 M237.2,348.4 L240.3,349.0 L243.4,349.5 L246.6,350.1 L249.7,350.7 L252.9,351.2 L256.0,351.7 L259.2,352.3 L262.4,352.8 L265.5,353.3 L268.7,353.8 L271.8,354.3 L275.0,354.8 L278.1,355.3 L281.3,355.7 L284.5,356.2 L287.6,356.6 L290.8,357.1 L294.0,357.5 L297.1,357.9 L300.3,358.3 M300.3,358.3 L299.8,362.4 L299.2,366.5 L298.7,370.6 L298.2,374.7 L297.6,378.8 L297.1,382.9 L296.6,387.0 L296.0,391.1 L295.5,395.2 L295.0,399.3 L294.4,403.4 L293.9,407.5 L293.4,411.6 L292.8,415.7 L292.3,419.8 L291.8,423.9 L291.2,428.0 L290.7,432.1 L290.2,436.3 L289.6,440.4 L289.1,444.5 L288.6,448.6 M300.3,358.3 L300.8,354.4 L301.3,350.4 L301.9,346.4 L302.4,342.5 L302.9,338.5 L303.4,334.5 L303.9,330.6 L304.4,326.6 L305.0,322.6 L305.5,318.7 L306.0,314.7 L306.5,310.7 L307.0,306.7 L307.5,302.8 L308.1,298.8 L308.6,294.8 M308.6,294.8 L305.6,294.4 L302.6,294.0 L299.6,293.6 L296.6,293.2 L293.6,292.8 L290.6,292.3 L287.6,291.9 L284.6,291.4 L285.2,287.5 L285.8,283.5 L286.4,279.5 L287.0,275.6 M287.0,275.6 L287.6,271.6 L288.2,267.6 L288.8,263.7 L289.4,259.7 L290.1,255.7 L290.7,251.7 L291.3,247.8 L291.9,243.8 L292.5,239.8 L293.1,235.8 M293.1,235.8 L293.7,231.8 L294.3,227.9 M293.1,235.8 L288.1,234.2 L285.1,233.8 L282.0,233.3 L279.0,232.8 L276.0,233.5 L272.9,234.2 L271.0,232.2 L269.2,227.4 L267.4,222.6 L266.2,217.9 L265.1,213.1 L262.2,213.4 L259.2,213.7 L257.2,209.2 L259.9,204.0 L259.6,199.4 L259.4,194.8 L256.5,189.3 L253.6,183.8 L249.8,178.0 L251.6,171.7 L248.0,170.2 L248.9,166.2 L249.7,162.2 L250.5,158.2 L251.3,154.2 M294.3,227.9 L297.1,228.3 L299.9,228.7 L302.8,229.1 L305.6,229.5 L308.4,229.9 L311.2,230.3 L314.1,230.7 L316.9,231.0 L319.7,231.4 L322.5,231.8 L325.4,232.1 L328.2,232.5 L331.0,232.8 L333.9,233.1 L336.7,233.4 L339.5,233.7 L342.4,234.0 L345.2,234.3 L348.1,234.6 L350.9,234.9 L353.7,235.2 L356.6,235.5 L359.4,235.7 L362.3,236.0 L365.1,236.2 L367.9,236.4 L370.8,236.7 L373.6,236.9 M378.5,172.2 L378.2,176.3 L377.9,180.5 L377.6,184.6 L377.3,188.8 L377.0,192.9 L376.7,197.0 L376.3,201.1 L376.0,205.3 L375.7,209.4 L375.4,213.5 L375.1,217.6 L374.8,221.7 L374.4,226.8 L374.0,231.8 L373.6,236.9 M373.6,236.9 L373.3,240.9 L373.0,244.9 L372.7,248.9 L372.4,253.0 L372.1,257.0 L371.8,261.0 L371.5,265.0 L371.2,269.0 L370.9,273.0 L370.6,277.0 L370.3,281.0 L370.0,285.0 L369.7,289.0 L369.4,293.0 L369.1,297.0 L368.8,301.0 M284.6,291.4 L287.6,291.9 L290.6,292.3 L293.6,292.8 L296.6,293.2 L299.6,293.6 L302.6,294.0 L305.6,294.4 L308.6,294.8 L311.6,295.2 L314.6,295.6 L317.6,296.0 L320.6,296.3 L323.6,296.7 L326.6,297.0 L329.6,297.4 L332.6,297.7 L335.6,298.0 L338.6,298.3 L341.6,298.6 L344.7,298.9 L347.7,299.2 L350.7,299.5 L353.7,299.8 L356.7,300.0 L359.7,300.3 L362.7,300.5 L365.7,300.8 L368.8,301.0 L371.8,301.2 L374.8,301.5 L377.8,301.7 L380.8,301.9 L383.9,302.1 L386.9,302.2 L389.9,302.4 L392.9,302.6 M392.9,302.6 L392.7,306.6 L392.5,310.6 L392.3,314.6 L392.0,318.6 L391.8,322.6 L391.6,326.6 L391.4,330.6 L391.2,334.6 L391.0,338.6 L390.8,342.6 L390.6,346.6 L390.4,350.6 L390.2,354.6 L390.0,358.6 L389.8,362.6 L389.6,366.6 M300.3,358.3 L303.5,358.8 L306.7,359.2 L309.9,359.6 L313.1,359.9 L316.3,360.3 L319.5,360.7 L322.7,361.1 L325.9,361.4 L329.1,361.7 L332.3,362.1 L335.5,362.4 L338.8,362.7 L342.0,363.0 L345.2,363.3 L348.4,363.6 L351.6,363.9 L354.8,364.2 L358.0,364.4 L361.2,364.7 L364.4,364.9 L367.7,365.2 L370.9,365.4 L374.1,365.6 L377.3,365.8 L381.4,366.1 L385.5,366.3 L389.6,366.6 M377.3,365.8 L377.1,369.8 L376.8,373.8 L376.5,377.8 L376.2,381.8 L375.9,385.8 L375.6,389.8 L375.4,393.8 L375.1,397.8 L374.8,401.8 L374.5,405.8 L374.2,409.8 L373.9,413.8 L373.6,417.8 L373.3,421.8 L373.0,425.8 L372.8,429.8 L372.5,433.8 L372.2,437.8 L371.9,441.9 L371.6,445.9 M371.6,445.9 L368.1,445.6 L364.6,445.4 L361.1,445.1 L357.7,444.9 L354.2,444.6 L350.7,444.3 L347.2,444.0 L343.8,443.7 L340.3,443.4 L336.8,443.1 L333.3,442.8 L329.8,442.5 L326.4,442.1 L322.9,441.8 L323.8,445.4 M374.8,221.7 L377.7,222.0 L380.6,222.2 L383.5,222.4 L386.4,222.6 L389.3,222.7 L392.2,222.9 L395.1,223.1 L398.0,223.2 L400.9,223.4 L403.8,223.5 L406.7,223.7 L409.6,223.8 L412.5,223.9 L415.4,224.0 L418.3,224.1 L421.2,224.2 L424.1,224.3 L427.0,224.4 L429.9,224.5 L432.8,224.5 L435.7,224.6 L438.6,224.6 L441.5,224.7 L444.4,224.7 L447.3,224.7 L450.2,224.7 L453.1,224.7 L456.0,224.7 L458.9,224.7 M458.9,224.7 L459.1,223.9 L458.4,220.8 L458.2,219.2 L458.9,213.3 L456.3,207.4 L456.2,206.7 L456.6,203.4 L456.2,201.8 L454.2,196.6 L452.6,193.7 L452.6,192.8 L453.6,190.2 L453.7,189.4 L453.2,186.2 L452.1,182.3 L452.0,178.3 L452.1,175.1 L451.5,175.0 M458.9,224.7 L458.2,225.4 L458.3,227.1 L460.3,230.8 L460.7,232.4 L460.3,238.9 L460.4,264.1 M371.2,269.0 L405.5,271.1 L424.7,271.7 L435.9,271.9 L436.7,272.1 L437.9,273.2 L439.9,275.9 L441.7,276.9 L442.9,276.6 L445.8,274.6 L447.4,274.4 L449.8,275.3 L453.8,275.7 L455.4,276.2 L456.7,277.2 L458.7,279.7 L460.5,280.3 M460.5,280.3 L459.6,279.8 L458.4,275.9 L458.3,275.0 L458.7,270.2 L460.2,267.2 L460.8,265.6 L460.9,264.8 L460.4,264.1 M460.5,280.3 L460.2,281.3 L463.5,286.0 L463.9,287.6 L463.9,289.3 L465.0,292.3 L465.4,294.7 L467.4,297.5 L467.5,298.3 L467.2,301.6 L467.8,305.6 L467.4,308.9 L467.9,310.4 L469.0,310.9 M469.0,310.9 L469.8,311.2 L471.6,314.9 L472.4,317.1 L472.9,317.8 L475.0,319.4 L474.7,320.1 M392.0,318.6 L395.2,318.8 L398.4,318.9 L401.6,319.1 L404.8,319.2 L407.9,319.3 L411.1,319.5 L414.3,319.6 L417.5,319.7 L420.7,319.8 L423.8,319.9 L427.0,320.0 L430.2,320.0 L433.4,320.1 L436.6,320.1 L439.7,320.2 L442.9,320.2 L446.1,320.2 L449.3,320.3 L452.5,320.3 L455.6,320.3 L458.8,320.3 L462.0,320.2 L465.2,320.2 L468.4,320.2 L471.6,320.1 L474.7,320.1 M474.7,320.1 L475.6,320.3 L477.2,322.2 L478.4,323.1 L478.9,323.8 L480.0,327.6 L481.1,329.7 L481.9,333.0 L482.3,333.7 L483.4,334.6 L483.6,335.4 L483.9,338.6 L484.4,367.9 M389.6,366.6 L392.8,366.7 L396.1,366.9 L399.4,367.1 L402.6,367.2 L405.9,367.3 L409.2,367.5 L412.5,367.6 L415.7,367.7 L419.0,367.8 L422.3,367.9 L425.5,368.0 L428.8,368.0 L432.1,368.1 L435.3,368.2 L438.6,368.2 L441.9,368.3 L445.2,368.3 L448.4,368.3 L451.7,368.3 L455.0,368.3 L458.3,368.3 L461.5,368.3 L464.8,368.3 L468.1,368.2 L471.3,368.2 L474.6,368.1 L477.9,368.1 L481.2,368.0 L484.4,367.9 M376.8,373.8 L396.0,374.9 L415.1,375.7 L415.4,376.3 L414.5,403.5 L414.6,405.1 L415.0,406.4 L415.9,406.9 L417.7,409.0 L418.3,409.4 L420.8,409.7 L422.3,410.3 L423.6,411.2 L424.6,412.5 L425.3,412.8 L427.7,412.8 L428.5,413.0 L430.7,414.4 L431.5,414.5 L436.4,414.6 L438.9,413.9 L439.9,413.8 L440.7,414.2 L444.8,416.7 L447.2,419.2 L447.9,419.6 L451.1,420.3 L454.3,420.2 L458.0,418.6 L458.9,418.6 L461.3,419.5 L462.1,419.5 L465.3,418.2 L467.7,418.4 L470.8,417.8 L473.2,417.9 L475.6,417.5 L477.3,417.8 L478.1,418.3 L478.9,418.5 L482.5,418.7 L487.2,421.6 L487.7,421.7 M484.4,367.9 L484.5,371.9 L484.6,375.9 M484.6,375.9 L485.4,380.3 L486.1,384.7 L486.8,389.1 L487.6,393.5 L487.6,397.5 L487.6,401.5 L487.6,405.6 L487.6,409.6 L487.6,413.6 L487.7,417.7 L487.7,421.7 M487.7,421.7 L493.6,423.0 L493.7,427.2 L493.9,431.5 M493.9,431.5 L494.4,445.9 L494.2,448.4 L494.5,450.0 L496.3,452.7 L497.3,455.8 L497.8,456.6 L501.2,460.7 L500.8,465.4 L501.3,469.6 L500.2,472.6 L499.4,475.8 L499.7,478.9 L498.2,484.2 L498.4,485.1 M460.4,264.1 L463.5,264.1 L466.5,264.0 L469.6,264.0 L472.6,263.9 L475.7,263.9 L478.7,263.8 L481.8,263.7 L484.8,263.7 L487.9,263.6 L490.9,263.5 L494.0,263.4 L497.0,263.2 L500.1,263.1 L503.1,263.0 L506.2,262.8 L509.2,262.7 L512.3,262.5 L515.3,262.4 L518.4,262.2 L521.4,262.0 M469.0,310.9 L472.0,310.8 L475.1,310.7 L478.2,310.7 L481.3,310.6 L484.3,310.5 L487.4,310.4 L490.5,310.2 L493.5,310.1 L496.6,310.0 L499.7,309.9 L502.8,309.7 L505.8,309.5 L508.9,309.4 L512.0,309.2 L515.0,309.0 L518.1,308.8 L522.1,312.1 M484.6,375.9 L512.6,374.9 L542.1,373.1 L541.5,374.6 L540.4,376.0 L539.7,377.4 L540.2,380.8 L541.7,380.4 L545.8,380.4 L548.1,380.0 L548.5,380.6 M493.9,431.5 L497.4,431.4 L500.9,431.3 L504.4,431.2 L507.9,431.1 L511.4,431.0 L515.0,430.8 L518.5,430.7 L522.0,430.5 L525.5,430.4 L529.0,430.2 L532.5,430.0 M521.4,262.0 L520.4,258.9 L520.5,256.4 L519.9,255.7 L518.5,254.9 L515.9,254.1 L513.8,251.7 L512.6,250.7 L509.2,248.9 L506.9,246.5 L503.9,245.1 L502.1,243.4 L501.9,242.5 L503.0,239.3 L503.4,237.7 L503.4,235.3 L502.5,232.1 L502.4,230.6 L500.0,226.2 L500.5,225.2 L502.4,223.7 L506.6,221.2 L506.8,219.8 L506.4,216.6 L506.6,211.9 L508.6,211.0 L508.4,210.2 M521.4,262.0 L522.4,262.5 L522.7,263.2 L522.3,268.9 L522.8,273.8 L523.4,274.3 L526.4,275.4 L528.8,277.8 L529.2,277.4 M529.2,277.4 L530.8,280.2 L533.4,282.3 L536.8,286.4 L536.5,287.8 L533.3,291.7 L532.2,292.9 L528.2,295.7 L525.4,298.7 L524.7,302.0 L525.3,305.2 L524.3,307.3 L522.9,312.0 L522.1,312.1 M522.1,312.1 L522.3,313.0 L522.2,315.4 L522.4,317.7 L523.0,319.4 L523.4,322.1 L523.8,322.8 L525.4,324.6 L527.4,328.2 L530.4,330.9 L533.1,334.1 L535.7,334.6 L538.2,334.6 L538.7,335.0 L538.2,337.5 L538.6,341.6 L542.0,345.4 L542.5,347.0 L543.4,351.2 L544.6,352.4 L546.8,353.4 L548.6,354.9 L549.9,360.1 L551.9,363.5 L552.4,364.1 L553.8,365.0 L554.6,364.4 M554.6,364.4 L553.3,367.5 L553.2,368.7 L551.9,370.5 L550.0,372.2 L549.9,373.2 L550.3,375.7 L550.2,377.3 L549.2,380.4 L548.5,380.6 M548.5,380.6 L548.4,381.5 L550.0,383.6 L550.4,385.5 L549.7,386.5 L547.5,387.8 L546.1,389.8 L544.8,390.7 L543.9,392.2 L543.7,393.0 L543.9,395.1 L543.5,395.4 L542.6,397.0 L541.8,397.2 M541.8,397.2 L542.7,397.9 L543.1,400.5 L540.1,403.8 L538.6,406.6 L537.2,408.5 L534.8,410.7 L534.1,413.2 L532.4,416.0 L532.4,419.0 L533.4,423.5 L533.6,426.8 L532.5,430.0 M532.5,430.0 L532.8,432.4 L533.6,434.7 L533.4,436.4 L533.6,437.4 L534.0,438.1 L535.9,439.7 L537.0,441.0 L536.2,442.4 L535.4,445.6 L535.1,446.4 L532.4,448.6 L532.0,449.2 L531.7,451.8 L531.2,453.2 L529.0,455.9 L528.2,457.3 L527.7,459.7 L528.1,462.3 L531.0,462.3 L554.1,460.8 L554.5,461.3 L554.8,462.9 L553.5,466.1 L553.1,468.6 L553.4,469.6 L555.9,472.0 L557.2,473.8 M529.2,277.4 L532.3,277.3 L535.3,277.1 L538.4,276.9 L541.4,276.7 L544.4,276.4 L547.5,276.2 L550.5,276.0 L553.6,275.7 L556.6,275.5 L559.6,275.2 L562.7,275.0 M527.2,212.0 L530.8,215.4 L533.7,216.2 L536.7,216.9 L539.6,217.7 L542.5,218.4 L545.4,219.4 L548.3,220.3 L551.2,221.3 L554.2,222.2 L557.5,227.6 L560.9,232.9 M567.3,286.9 L570.7,321.1 L570.6,325.2 L571.0,326.8 L572.8,329.7 L573.0,331.3 L572.4,335.4 L571.7,337.8 L569.3,341.1 L568.0,342.0 L567.6,342.8 L567.5,343.6 L567.6,344.4 L568.5,346.0 L568.7,346.8 L567.6,350.0 L567.3,350.0 M567.3,350.0 L567.0,350.8 L568.0,355.1 L567.8,356.1 L567.2,356.8 L564.7,358.2 L564.2,358.8 L563.5,362.2 L562.7,362.6 L559.5,363.2 L555.5,363.5 L554.7,363.7 L554.6,364.4 M604.9,324.8 L604.0,326.3 L603.9,327.1 L604.8,329.8 L604.1,330.4 L600.4,331.9 L599.0,332.1 L596.9,335.2 L595.0,336.9 L594.2,339.1 L591.4,340.7 L590.2,341.7 L587.0,346.7 L585.8,347.9 L584.8,348.1 L582.1,347.1 L581.3,347.2 L579.2,348.8 L577.5,349.1 L575.9,348.8 L573.0,347.2 L572.2,347.1 L569.6,349.0 L567.3,349.8 L567.3,350.0 M604.9,324.8 L604.4,320.7 L603.9,316.5 L603.4,312.4 L602.9,308.3 L602.3,304.1 L601.8,300.0 L601.3,295.9 L600.8,291.7 L600.3,287.6 L599.7,283.4 M575.6,285.4 L578.6,285.2 L581.6,285.0 L584.7,284.7 L587.7,284.5 L590.7,284.2 L593.7,284.0 L596.7,283.7 L599.7,283.4 M599.7,283.4 L602.9,282.9 L606.1,282.4 L609.3,281.9 L612.5,281.3 L615.7,280.7 M633.9,331.6 L631.7,330.6 L628.1,327.2 L625.6,327.8 L621.4,330.4 L619.7,330.9 L618.8,330.8 L616.2,331.3 L615.4,331.0 L613.5,328.8 L612.8,328.3 L609.7,327.6 L607.1,325.4 L605.6,324.8 L604.9,324.8 M633.9,331.6 L634.7,331.3 L637.1,329.3 L638.7,328.4 L639.3,327.7 L640.7,324.7 L640.8,323.1 L640.4,321.2 L640.6,320.3 L643.3,316.3 L644.0,315.9 L646.9,315.2 L647.5,314.7 L647.7,313.8 L647.6,311.5 L647.9,310.7 L648.6,310.2 L650.5,309.9 L651.3,309.4 L652.3,308.0 L652.5,307.2 L652.4,304.6 L653.4,302.3 L652.7,299.1 L652.9,295.9 L652.6,293.5 L652.7,292.8 L653.4,292.3 M653.4,292.3 L652.6,288.1 L651.9,283.9 L651.1,279.6 L650.4,275.4 L649.6,271.2 M644.0,344.3 L643.1,344.5 L641.5,344.1 L637.2,342.2 L636.0,341.1 L635.5,337.5 L634.3,335.4 L633.9,331.6 M624.7,362.5 L628.7,359.9 L632.7,357.2 L635.5,354.0 L638.2,350.7 L641.1,347.5 L644.0,344.3 M550.5,372.4 L566.4,371.0 L569.2,371.2 L569.6,369.9 L569.7,369.1 L569.7,368.6 L569.1,369.1 L569.4,369.1 L570.3,369.0 L571.1,368.8 L573.6,368.3 L599.0,365.7 L624.7,362.5 M624.7,362.5 L627.9,362.0 L631.0,361.6 L634.2,361.1 L637.4,360.7 L640.6,360.2 L643.8,359.7 L646.9,359.2 L650.1,358.7 M620.0,389.0 L623.7,385.3 L626.6,382.0 L629.4,378.8 L634.1,374.9 L637.1,372.8 L640.0,370.7 L643.7,368.9 L647.3,367.1 L650.1,358.7 M541.8,397.2 L545.2,396.9 L548.7,396.7 L552.1,396.4 L555.6,396.1 L559.0,395.8 L562.5,395.5 L565.9,395.2 L569.4,394.9 L572.8,394.6 L576.2,394.2 L579.6,393.9 L583.0,393.5 L586.4,393.2 L589.8,392.8 L593.2,392.4 L596.6,392.0 L600.0,391.6 L603.3,391.2 L606.7,390.8 L610.0,390.4 L613.4,389.9 L616.7,389.5 L620.0,389.0 M569.4,394.9 L570.9,396.4 L570.8,400.4 L570.8,404.4 L570.8,408.5 L570.8,412.5 L570.7,416.5 L570.7,420.6 L570.7,424.6 L570.6,428.6 L570.6,432.7 L570.5,436.7 L570.5,440.8 L570.4,444.8 L571.0,448.8 L571.5,452.9 L572.0,456.9 L572.6,460.9 L573.1,464.9 L573.6,469.0 M603.3,391.2 L613.2,425.0 L616.0,429.0 L616.1,429.8 L615.6,431.4 L615.5,433.1 L616.3,437.0 L617.6,440.1 L619.4,454.0 M619.4,454.0 L615.9,454.4 L612.3,454.9 L608.7,455.3 L605.2,455.7 L601.6,456.2 L598.0,456.6 L594.4,457.0 L590.9,457.4 L587.3,457.7 L583.7,458.1 L584.9,463.8 L586.0,469.5 M619.4,454.0 L620.2,454.4 L620.8,455.1 L621.8,458.1 L622.4,458.5 L658.2,455.5 L658.8,455.6 L659.4,457.1 L660.6,458.5 L662.1,458.2 L663.2,455.0 L665.0,453.8 L668.6,452.0 L668.7,451.3 M620.0,389.0 L624.0,388.5 L627.9,387.9 L631.9,387.3 L635.9,386.7 M635.9,386.7 L635.4,387.4 L634.9,389.8 L632.7,391.8 L632.9,393.1 L633.5,393.9 L634.3,394.3 L637.3,394.4 L638.8,395.0 L641.9,397.6 L643.0,400.0 L644.0,401.4 L646.5,403.4 L647.2,403.8 L649.7,404.4 L650.4,404.8 L652.6,407.2 L655.3,408.9 L657.8,412.2 L660.9,413.5 L661.5,414.0 L662.1,414.6 L663.3,417.7 L665.2,421.3 L665.8,421.9 L668.0,422.9 L668.6,423.4 L671.7,428.3 L672.2,428.9 L673.0,429.0 M635.9,386.7 L640.2,384.5 L644.5,382.2 L648.0,381.8 L651.5,381.4 L655.0,380.9 L658.5,380.5 L662.0,380.1 L663.7,380.6 L666.2,384.7 L669.9,384.2 L673.5,383.6 L677.2,383.0 L680.9,382.4 L685.2,385.4 L689.6,388.5 L694.0,391.5 L698.4,394.5 M650.1,358.7 L653.3,358.2 L656.5,357.7 L659.7,357.1 L662.9,356.6 L666.1,356.1 L669.4,355.5 L672.6,355.0 L675.8,354.4 L678.9,353.8 L682.1,353.2 L685.3,352.6 L688.5,352.0 L691.7,351.4 L694.9,350.8 L698.1,350.1 L701.3,349.5 L704.5,348.9 L707.7,348.2 L710.8,347.5 L714.0,346.9 L717.2,346.2 L720.4,345.5 L723.5,344.8 M644.0,344.3 L648.3,349.1 L651.3,348.2 L654.4,347.3 L658.5,344.9 L661.8,343.1 L665.0,341.3 L667.9,335.9 L671.8,329.5 L675.7,323.0 L680.0,315.7 L683.3,310.1 L688.5,310.7 L691.2,306.5 M668.6,304.5 L669.3,305.2 L669.6,305.9 L669.8,306.7 L669.6,310.0 L669.9,310.8 L670.4,311.5 L670.7,311.9 L669.8,311.5 L670.0,311.0 L670.5,310.4 L672.1,308.5 L677.6,305.0 L680.1,304.8 L682.8,303.6 L683.5,303.5 L689.1,303.9 L689.7,304.2 L691.2,306.5 M691.2,306.5 L691.7,307.4 L694.2,307.6 L695.8,308.0 L699.5,311.0 L700.8,312.8 L700.2,315.8 L700.4,316.4 L702.0,316.8 L702.6,317.3 L703.6,319.5 L706.4,320.8 L708.5,322.2 L709.3,322.3 L711.9,321.8 L712.7,322.0 L713.5,322.3 L713.6,323.2 M653.4,292.3 L654.3,297.2 L655.1,302.0 L656.0,306.8 L659.1,306.3 L662.3,305.7 L665.4,305.1 L668.6,304.5 M668.6,304.5 L671.8,303.9 L675.0,303.3 L678.2,302.6 L681.3,302.0 L684.5,301.3 L687.7,300.7 L690.9,300.0 L694.1,299.3 L697.2,298.7 L700.4,298.0 L703.6,297.3 L706.7,296.6 L709.9,295.8 L713.1,295.1 M713.1,295.1 L714.0,299.0 L714.9,303.0 L715.8,306.9 L716.7,310.8 L717.6,314.8 L722.2,313.8 L726.7,312.8 M726.4,319.8 L721.8,322.2 L717.3,323.2 M713.1,295.1 L714.9,292.7 L717.2,292.8 M715.8,294.5 L716.7,292.1 L717.2,291.5 L720.0,289.6 L721.5,286.7 L723.0,285.9 L723.4,285.2 L722.8,284.4 L720.8,283.0 L717.3,279.8 L717.3,279.2 L717.9,276.9 L718.2,274.7 L717.5,272.0 L717.6,270.4 L719.2,266.7 L719.9,266.5 M657.7,264.9 L658.5,269.2 L661.5,268.6 L664.5,268.1 L667.6,267.5 L670.6,266.9 L673.6,266.3 L676.6,265.6 L679.7,265.0 L682.7,264.4 L685.7,263.7 L688.7,263.1 L691.7,262.4 L694.8,261.8 L697.8,261.1 L700.8,260.4 L703.8,259.7 L706.8,259.0 L709.8,258.3 L713.6,260.7 L719.9,266.5 M719.9,266.5 L723.5,267.6 L727.1,268.6 L730.7,269.7 L730.7,274.7 M720.9,205.8 L721.9,210.2 L722.9,214.6 L723.9,219.1 L724.9,223.5 L725.8,227.9 L727.9,227.8 L728.9,232.1 L730.0,236.4 L731.1,240.6 M731.1,240.6 L731.1,246.4 L731.1,252.2 L732.0,256.2 L732.8,260.2 L733.6,264.2 L733.7,269.4 M740.3,238.5 L740.9,237.5 L740.9,236.7 L740.7,235.9 L738.7,232.3 L737.5,223.5 L737.9,221.9 L739.4,217.9 L739.3,217.1 L738.3,213.9 L739.7,210.9 L741.7,207.6 L741.1,205.5 L741.6,201.4 L741.5,200.6 L741.3,200.2 M731.1,240.6 L734.1,239.9 L737.2,239.2 L740.3,238.5 M740.3,238.5 L743.6,237.7 L747.0,236.9 L750.3,236.1 L753.6,235.3 L755.8,232.2 L758.3,231.1 M758.7,227.5 L754.5,224.2 L752.4,217.3 L751.1,213.5 L749.8,209.7 L748.5,205.8 L747.2,202.0 L745.9,198.2 L744.6,194.4 M731.1,252.2 L734.4,251.4 L737.7,250.7 L741.0,249.9 L744.3,249.1 L747.6,248.3 L750.8,247.4 M750.8,247.4 L755.7,246.1 L756.2,247.9 L759.1,250.4 L760.9,253.3 M750.8,247.4 L752.0,252.9 L753.2,258.3 M272.3,158.3 L269.7,153.3 L267.2,148.2 L268.6,141.0 L266.5,135.6 L264.3,130.1 L262.2,124.7 L260.0,120.3 L257.7,115.9 L255.5,111.5 L253.4,108.9 L251.4,106.4 L249.3,103.8 L247.3,101.2 L245.5,97.4 L243.8,93.7 L242.1,89.9 L240.4,86.0 M315.2,165.3 L315.8,161.3 L316.3,157.2 L316.9,153.2 L317.5,149.1 L318.0,145.1 L318.6,141.0 L319.2,136.9 L319.7,132.9 L320.3,128.8 L320.9,124.7 L321.5,120.6 L322.0,116.5 L322.6,112.4 L323.2,108.3 L323.8,104.2 L324.4,100.1 L324.9,96.0 L325.5,91.9 L326.1,87.7 L326.7,83.6 M407.3,173.9 L407.4,169.9 L407.4,165.8 L407.5,161.7 L407.6,157.6 L407.7,153.5 L407.8,149.4 L407.8,145.3 L407.9,141.1 L408.1,137.0 L408.2,132.9 L408.4,128.8 L408.5,124.7 L408.7,120.5 L408.8,116.4 L409.0,112.2 L409.2,108.1 L409.3,103.9 L409.5,99.8 L409.6,95.6 L409.8,91.4 M473.7,168.6 L473.6,164.4 L473.5,160.2 L473.4,155.9 L473.4,151.7 L473.3,147.4 L473.2,143.2 L473.1,138.9 L473.0,134.7 L472.9,130.4 L472.8,126.1 L472.8,121.8 L472.7,117.6 L472.6,113.3 L472.5,109.0 M706.0,209.6 L706.4,208.0 L708.6,205.3 L708.8,204.3 L708.0,201.8 L707.7,200.0 L706.8,199.4 L702.8,200.7 L699.6,203.2 L695.8,204.7 L693.7,206.1 L692.8,206.2 L688.7,204.9 L686.6,205.2 L682.7,202.7 L681.1,202.0 L677.9,202.7 L676.1,203.3 L674.1,202.9 L673.4,202.5 L672.9,201.9 L671.5,199.6 L669.7,198.3 L666.6,198.1 L657.0,198.5 L655.6,197.6 L653.4,194.1 L649.7,192.1 L648.6,190.9 L646.8,188.2 L646.5,187.4 L646.5,184.1 L644.7,180.4 L644.1,178.1 L630.9,109.1 M754.6,154.9 L757.1,151.6 L759.6,148.4 L762.0,145.1 L765.5,143.5 L769.0,142.0 L772.0,140.6 L775.0,139.1 L778.0,137.7 L780.9,136.3 M209.3,490.6 L213.3,491.3 L217.2,492.1 L221.2,492.8 L225.2,493.5 L229.1,494.1 M213.8,417.6 L213.2,423.1 L212.5,428.7 M290.5,449.0 L291.3,456.5 L291.0,461.1 L290.7,465.7 L290.3,470.3 L290.0,474.9 L289.7,479.5 L289.9,484.7 L290.2,490.0 L289.9,495.6 L282.4,498.5 L283.3,505.1 L286.1,513.5 L287.0,519.2 L290.8,519.2 M274.8,527.6 L282.4,524.8 L287.0,520.1 L290.8,519.2 M290.8,519.2 L292.7,523.0 L293.6,527.7 L294.6,532.4 L300.2,536.1 L305.9,543.6 L309.6,545.5 M305.9,543.6 L304.0,546.5 L303.0,552.1 L307.8,559.6 L311.5,567.5 M309.6,545.5 L313.4,542.7 L315.3,538.5 L317.2,534.2 L319.3,527.3 L323.4,526.5 L327.1,528.6 L330.8,530.6 L337.4,533.9 L344.0,532.3 L349.0,529.8 L355.3,528.1 M365.2,494.5 L359.9,500.6 L357.6,505.2 L355.3,509.8 L354.9,514.4 L354.5,518.9 L354.9,523.5 L355.3,528.1 M355.3,528.1 L358.3,534.2 L359.9,541.9 L359.1,547.2 L358.3,552.6 L364.5,558.7 L370.6,560.2 L374.4,559.5 L378.2,558.7 L382.0,560.2 L385.9,561.7 L392.0,566.3 L395.0,568.0 M410.5,512.7 L404.2,520.5 L399.6,523.5 L398.9,528.1 L401.2,531.2 L398.1,534.2 L393.5,537.3 L392.8,540.3 L395.0,543.4 L398.1,549.5 L401.2,555.6 L404.2,557.2 L404.6,562.6 L405.0,568.0 M412.8,517.0 L413.4,525.0 L414.9,529.6 L416.5,534.2 L422.6,541.9 L426.4,544.2 L430.2,546.5 L431.7,552.6 L430.2,558.7 L429.1,563.3 L428.0,568.0" fill="none" stroke="#000" stroke-width="1.5" stroke-linejoin="round" stroke-linecap="round"/>
<path d="M172.6,144.4 L168.8,144.1 L165.6,141.6 L162.4,139.1 L158.9,136.3 L155.5,132.7 L152.6,129.4 L150.1,125.0 L147.7,122.1 L145.3,119.2 L145.3,115.7 L142.9,112.8 L140.6,109.8 L137.7,106.7 L134.9,103.6 L133.5,99.6 L132.1,95.6 L133.6,91.3 L136.4,91.2 L139.2,91.1 L141.2,93.4 L143.1,95.6 L145.7,97.8 L148.3,99.9 L150.9,102.0 L153.1,103.6 L155.4,105.2 L157.6,106.8 L159.9,108.4 L161.0,113.5 L163.0,119.6 L165.8,126.5 L168.1,128.7 L170.3,130.9 L170.6,134.8 L173.4,140.7 L172.6,144.4 M181.5,137.1 L178.8,135.4 L178.3,131.4 L178.3,129.4 L180.0,125.6 L176.5,128.0 L173.5,126.8 L170.3,121.0 L167.2,118.4 L165.4,115.2 L165.1,109.1 L162.8,107.6 L160.6,106.0 L158.3,104.1 L156.0,102.2 L153.6,100.3 L150.8,97.2 L148.0,94.1 L146.1,91.8 L144.2,89.4 L143.1,84.6 L142.0,79.9 M155.5,176.0 L156.4,179.2 L156.2,180.1 L155.0,181.5 L154.0,184.5 L153.6,187.8 L154.3,190.6 L154.2,191.4 L153.7,192.1 L151.6,193.9 L151.3,194.6 L151.5,196.5 L150.0,198.5 L149.6,200.1 L147.8,201.8 L146.9,203.2 L145.7,207.9 L144.1,210.7 L142.3,212.5 L141.9,214.9 L139.3,218.1 L138.3,222.2 L138.0,222.9 L137.3,223.4 L135.7,224.2 L135.3,224.9 L135.0,227.8 L133.2,230.1 L133.1,230.9 L133.5,232.5 L133.1,234.1 L134.0,238.9 L133.5,240.5 L134.0,241.1 M134.0,241.1 L133.4,241.8 L132.7,244.9 L134.2,248.3 L134.2,249.1 L133.7,249.9 L132.0,251.3 L131.6,252.0 L131.4,253.6 L129.5,257.1 L129.1,259.6 L128.8,260.4 L127.6,261.5 L126.1,262.4 L125.6,263.0 L125.3,263.8 L125.3,264.5 L126.4,265.5 L126.6,266.2 L126.4,271.2 L126.6,272.8 L126.3,275.3 L127.7,277.5 L128.1,281.6 L128.0,282.4 L126.2,284.5 L126.1,285.3 L126.5,287.8 L126.2,289.3 L127.1,291.2 L127.1,292.9 L127.7,295.3 L128.1,296.0 L130.0,297.7 L130.3,300.2 L131.1,301.7 L131.2,305.0 L130.2,306.4 L130.3,307.1 L132.9,308.9 L134.9,311.2 L134.6,311.6 L134.5,312.3 L134.9,314.1 L134.7,314.8 L133.5,316.3 L133.0,318.7 L133.0,319.5 L133.3,321.3 L134.6,322.7 L135.1,325.3 L135.5,325.9 L138.8,326.4 L139.4,327.1 L140.2,329.9 L139.6,331.7 L138.1,332.4 L137.8,333.1 L138.1,335.6 L137.6,338.0 L137.6,338.9 L138.0,339.6 L139.3,340.8 L139.7,341.5 L139.8,343.2 L139.5,345.9 L139.7,346.7 L141.4,348.6 L142.7,349.6 L143.5,352.0 L144.3,353.4 L145.0,353.9 L148.2,355.0 L148.9,355.6 L148.9,356.5 L147.4,359.8 L147.3,360.6 L146.0,362.7 L144.9,365.8 L144.9,367.5 L146.9,370.0 L148.3,370.3 L149.0,370.7 L150.2,372.2 L150.9,372.7 L151.7,372.7 L154.5,372.0 L157.5,373.6 L159.3,376.5 L162.3,377.9 L162.5,378.7 L162.4,380.8 L163.1,381.7 L166.6,382.2 L168.6,383.7 L169.4,383.8 L170.2,383.6 L170.6,384.2 L170.4,386.6 L170.7,387.5 L172.2,387.6 L177.1,390.6 L177.7,391.3 L178.5,394.7 L181.0,396.9 L181.5,398.4 L181.6,400.0 L183.1,402.2 L183.3,403.8 L183.0,404.6 L181.3,406.9 L181.0,407.9 L181.2,408.9 L182.2,410.3 L183.3,410.6 M135.7,311.3 L137.4,310.1 L137.5,307.8 L139.7,307.8 L142.1,308.8 L138.8,309.6 L138.0,311.5 L138.7,313.8 L140.2,317.9 L138.5,318.3 L136.6,314.4 L136.7,312.0 L135.7,311.3 M183.3,410.6 L183.8,411.4 L183.1,413.1 L183.3,413.9 L184.6,415.2 L184.9,418.4 L186.4,421.3 L186.5,422.6 L186.4,422.2 L185.9,423.9 L186.9,425.1 L187.1,425.9 L186.3,427.6 L186.3,428.4 L187.6,429.4 L187.9,430.2 L187.5,432.2 L187.7,433.1 L189.3,434.0 L189.7,434.9 L189.7,437.3 L188.8,440.6 L189.2,441.4 L192.6,445.3 L192.6,446.2 L192.1,448.0 L192.2,448.8 L193.2,450.2 L193.5,450.9 L193.2,453.5 L193.6,454.2 L194.9,455.3 L195.3,456.0 L196.0,458.3 L196.2,460.1 L197.7,462.0 L197.6,464.5 L198.1,465.2 L200.6,466.6 L201.7,469.7 L203.7,471.3 L206.5,475.2 L207.2,477.6 L208.2,478.9 L208.6,479.7 L208.5,482.3 L208.7,483.1 L210.0,485.2 L210.5,487.5 L210.1,489.8 L209.7,490.5 L209.7,491.1 L210.8,492.6 L209.5,494.1 L207.5,495.5 L206.4,495.8 L205.3,495.4 L203.6,495.3 L202.9,495.0 L199.5,492.6 L198.8,492.3 L197.1,492.2 L196.3,492.0 L196.0,491.4 L196.2,490.9 L196.2,491.7 L196.5,492.5 L196.9,493.2 L197.5,494.7 L198.2,495.2 L200.3,495.7 L200.9,496.3 L201.0,498.1 L201.4,498.8 L202.8,499.8 L204.2,501.7 L205.4,503.8 L206.8,504.6 L207.4,505.2 L207.8,507.0 L208.3,507.6 L210.3,507.9 L211.0,508.3 L212.1,510.6 L213.3,511.7 L214.2,514.4 L214.8,514.9 L216.8,514.9 L218.4,515.3 L219.7,516.3 L221.3,518.2 L224.4,519.4 L226.1,521.1 L228.7,522.1 L230.0,524.5 L230.1,527.1 L230.3,527.8 L231.6,529.9 L231.8,530.8 L231.2,535.0 L231.4,538.2 L230.8,539.8 L230.7,542.2 L230.2,543.7 L230.1,546.1 L229.1,547.6 L229.0,548.5 L229.6,549.3 L233.6,551.2 L234.4,552.6 L234.7,555.5 L235.3,557.2 L235.9,557.7 L238.1,557.9 L238.9,558.2 L239.4,558.9 L239.9,560.6 L240.3,561.3 L241.6,562.3 L242.7,564.5 L243.3,565.1 L246.9,566.0 L247.5,566.4 L248.4,567.8 L252.2,569.5 L252.7,570.1 L253.2,572.1 L253.7,572.8 L255.1,573.7 L256.1,575.1 L256.0,576.0 L255.0,578.0 L254.9,578.9 L255.2,579.6 L256.8,581.6 L257.2,583.3 L258.2,584.4 L259.4,583.8 L260.5,582.5 L261.9,581.8 L262.5,581.2 L263.8,579.0 L265.2,578.2 L265.6,577.5 L265.0,575.9 L265.0,575.1 L265.4,573.5 L266.3,571.9 L266.4,569.4 L265.9,568.6 L263.7,567.4 L262.4,565.2 L261.3,564.2 L259.3,561.5 L256.8,559.8 L256.0,559.9 L255.3,560.8 L253.8,560.2 L249.8,557.8 L249.8,556.6 L250.8,554.1 L251.0,552.5 L250.3,550.1 L250.2,547.8 L247.7,543.6 L247.7,542.8 L248.5,540.7 L248.5,539.9 L246.6,536.4 L246.2,534.1 L246.4,532.4 L246.2,531.6 L243.9,529.7 L244.0,527.2 L242.8,525.0 L241.8,520.8 L242.0,518.6 L241.8,517.7 L241.1,517.2 L238.7,517.1 L237.8,516.8 L236.0,513.9 L235.5,510.5 L233.8,507.8 L233.8,506.9 L235.0,504.6 L235.1,503.6 L234.6,503.0 L233.1,502.0 L231.4,500.1 L230.0,498.0 L229.8,496.4 L230.4,494.7 L230.2,493.9 L228.9,490.9 L228.9,489.2 L228.5,487.6 L225.0,484.0 L224.6,483.3 L224.7,481.4 L224.4,480.6 L220.2,477.7 L219.3,477.0 L218.8,476.2 L218.6,475.4 L218.7,474.5 L220.0,471.8 L219.8,471.1 L217.6,469.0 L217.4,467.9 L216.3,465.9 L215.6,463.4 L214.4,460.6 L214.0,459.9 L211.9,458.2 L211.5,457.5 L210.7,454.4 L208.6,452.5 L209.1,447.4 L210.2,444.9 L210.1,444.1 L208.8,442.6 L208.5,441.8 L208.4,438.5 L208.0,435.2 L210.3,431.3 L211.7,430.3 L212.5,428.7 M212.5,428.7 L213.9,429.7 L214.6,432.3 L216.7,433.5 L218.2,435.6 L222.2,436.8 L224.1,436.9 L224.7,437.4 L226.1,439.8 L228.2,440.9 L229.1,442.4 L232.8,443.6 L233.3,444.3 L233.9,445.7 L235.8,448.4 L236.1,450.1 L235.9,451.7 L236.2,455.7 L235.6,456.5 L234.1,457.9 L234.1,458.6 L234.8,460.3 L234.9,463.6 L235.2,465.4 L236.5,467.4 L237.5,469.6 L238.9,470.7 L239.2,471.5 L239.1,474.1 L240.8,476.9 L241.2,478.5 L242.6,482.2 L243.5,483.5 L244.0,486.0 L247.9,490.1 L249.3,492.0 L250.0,493.5 L250.6,496.1 L251.4,497.5 L253.5,498.9 L254.3,500.3 L256.1,500.9 L256.7,501.5 L257.0,503.3 L257.3,504.0 L258.9,505.8 L260.9,507.4 L261.9,510.5 L264.0,513.1 L264.3,515.5 L264.6,516.3 L267.8,518.8 L270.7,520.3 L272.9,525.5 L273.0,529.0 L273.5,529.7 L275.1,530.6 L275.6,531.3 L275.9,532.8 L277.6,535.9 L277.2,538.3 L277.2,539.9 L277.5,540.4 L279.1,540.6 L279.7,541.1 L280.0,541.9 L280.1,544.0 L280.6,544.7 L282.3,546.4 L283.5,549.5 L285.7,550.8 L287.3,553.6 L288.8,554.5 L290.5,556.2 L291.9,556.9 L292.9,559.6 L295.5,560.1 L297.9,563.4 L298.5,563.9 L300.6,564.2 L301.5,564.8 L302.0,565.5 L302.1,566.4 L301.4,569.5 L301.5,570.4 L303.9,572.7 L305.5,573.6 L307.6,576.1 L308.0,576.8 L308.2,579.5 L308.5,580.2 L310.8,582.6 L311.3,584.1 L312.6,586.1 L313.3,589.6 L314.5,590.7 L315.3,592.1 L315.9,592.7 L318.6,593.6 L320.9,597.0 L321.5,598.5 L321.2,602.0 L323.2,605.7 M235.5,473.8 L239.9,477.0 L239.8,481.9 L236.1,483.0 L233.8,479.3 L235.5,473.8 M222.3,467.4 L226.1,473.9 L226.3,477.2 L223.6,475.9 L221.1,469.7 L222.3,467.4 M195.0,482.0 L195.4,487.1 L193.5,485.9 L193.4,482.6 L195.0,482.0 M151.9,378.2 L157.1,379.4 L157.4,380.7 L152.2,379.7 L151.9,378.2 M147.8,378.0 L151.1,378.5 L151.1,380.1 L148.1,379.7 L147.8,378.0 M145.5,376.5 L147.1,376.9 L146.5,377.6 L145.5,376.5 M167.2,391.3 L170.7,394.3 L169.9,394.6 L167.1,391.8 L167.2,391.3 M165.6,398.4 L166.2,401.5 L167.0,401.2 L166.2,398.5 L165.6,398.4 M153.7,391.3 L155.3,392.2 L154.5,392.5 L153.7,391.3 M442.7,581.9 L443.5,575.3 L445.0,568.7 L446.6,562.2 L448.1,557.3 L451.0,551.5 L451.8,546.6 M451.8,546.6 L451.6,545.0 L451.0,543.5 L450.8,541.2 L450.4,540.4 L449.0,539.2 L448.7,538.4 L449.5,535.7 L449.2,533.3 L450.2,529.4 L448.8,524.6 L449.2,523.0 L450.8,521.1 L451.2,519.5 L452.2,518.2 L452.5,517.5 L452.5,515.6 L452.9,514.8 L454.3,513.9 L457.2,511.0 L458.6,508.9 L462.8,506.5 L464.1,505.5 L465.9,503.7 L467.4,503.1 L470.0,502.9 L473.9,501.7 L478.7,496.0 L481.4,495.5 L482.1,495.0 L483.5,492.9 L485.8,492.0 L486.3,491.4 L487.2,488.7 L487.9,488.2 L489.7,487.9 L492.8,486.9 L494.1,485.9 L494.9,485.7 L496.6,486.2 L498.3,486.2 L498.4,485.1 M557.2,473.8 L558.1,473.7 L559.1,472.3 L562.1,471.1 L564.7,471.2 L566.2,470.7 L568.3,468.4 L569.1,468.1 L569.9,468.5 L571.4,469.7 L572.2,469.7 L573.7,469.1 L576.8,469.0 L577.1,468.8 L577.6,465.6 L578.3,464.2 L579.0,466.9 L580.8,468.5 L581.2,469.2 L581.3,469.4 L581.1,468.8 L580.6,469.2 L579.6,470.8 L581.7,471.7 L583.4,471.9 L584.3,471.5 L585.5,469.8 L586.0,469.5 M586.0,469.5 L586.6,468.8 L589.3,469.5 L590.9,469.4 L593.7,467.4 L596.8,466.8 L598.4,466.2 L600.8,466.7 L603.2,466.6 L604.8,466.7 L607.5,466.0 L608.2,466.6 L609.2,468.4 L611.4,469.2 L612.4,470.5 L614.1,470.8 L614.7,471.4 L614.9,473.5 L617.4,475.9 L619.0,475.8 L620.7,476.2 L622.2,475.6 L621.9,474.6 L622.2,473.6 L626.0,470.4 L626.8,470.1 L629.8,470.4 L630.5,470.0 L631.3,468.6 L632.5,467.6 L634.0,467.5 L635.6,466.5 L636.5,466.4 L639.6,467.7 L642.1,469.9 L643.6,470.6 L645.5,472.2 L646.0,472.8 L646.5,475.5 L648.7,479.0 L649.4,479.4 L652.0,480.0 L652.7,480.3 L654.0,483.0 L654.9,483.6 L655.1,484.7 L655.6,485.3 L658.5,487.0 L659.0,487.7 L659.2,488.7 L658.9,489.8 L656.2,492.7 L655.9,493.5 L656.1,494.3 L657.9,499.0 L657.9,501.5 L658.4,502.0 L659.0,500.4 L659.4,500.0 L661.1,498.9 L661.0,499.1 L661.7,498.8 L661.2,502.4 L661.8,505.0 L662.0,508.1 L662.4,508.7 L664.2,510.3 L664.4,513.2 L664.8,513.9 L667.0,515.3 L668.7,515.6 L669.3,516.2 L669.7,517.9 L673.3,520.1 L673.7,520.9 L673.8,522.8 L674.2,524.4 L674.8,524.9 L676.8,525.6 L677.5,526.1 L678.0,528.5 L678.6,528.9 L680.2,528.8 L681.7,529.2 L682.5,529.7 L683.5,530.9 L684.8,531.9 L685.1,532.7 L685.2,535.3 L688.6,537.2 L689.4,538.6 L689.3,539.6 L691.5,539.0 L695.1,539.1 L698.0,536.9 L699.7,534.6 L700.0,532.8 L699.7,528.7 L699.9,527.9 L700.6,526.7 L701.8,522.6 L700.7,519.5 L700.6,517.9 L701.1,516.2 L699.7,509.9 L697.6,505.5 L696.5,504.3 L694.3,503.0 L693.9,502.4 L693.2,499.8 L692.6,498.3 L692.5,496.5 L692.1,495.8 L690.9,494.7 L690.0,492.4 L688.3,490.7 L688.1,489.1 L687.1,487.7 L686.9,486.9 L687.6,485.3 L687.1,484.6 L685.2,483.4 L684.8,482.8 L683.7,479.4 L682.5,477.2 L677.5,473.9 L675.4,470.5 L675.0,468.8 L674.1,466.6 L673.5,464.2 L672.0,460.5 L671.0,459.3 L669.3,458.3 L668.9,457.4 L668.7,451.3 M668.7,451.3 L669.2,450.5 L667.9,448.2 L667.8,447.4 L668.5,443.5 L668.1,441.0 L668.4,440.2 L669.5,438.8 L669.4,436.3 L669.8,435.6 L671.7,434.0 L672.1,433.4 L672.3,432.6 L672.2,429.7 L673.0,427.4 L676.1,423.6 L677.2,421.5 L678.6,420.4 L679.6,419.2 L682.0,418.2 L683.4,417.2 L683.8,416.5 L684.1,413.5 L684.4,412.6 L687.5,411.1 L689.5,409.2 L690.3,406.4 L691.5,405.3 L691.9,404.5 L691.8,401.9 L692.5,400.4 L694.7,397.9 L697.1,397.0 L699.6,395.3 L700.7,394.2 L701.7,392.8 L703.3,392.3 L706.1,392.6 L705.4,391.1 L705.5,386.8 L706.7,385.5 L707.6,384.1 L711.5,381.2 L712.2,379.6 L712.8,379.0 L714.6,378.8 L715.3,378.4 L716.4,377.1 L717.2,377.1 L718.0,377.4 L718.8,377.3 L720.2,375.8 L722.0,375.9 L721.8,376.3 L723.2,375.8 L723.9,375.2 L724.5,373.7 L725.4,372.6 L725.8,371.0 L729.1,366.4 L729.7,365.8 L732.3,365.2 L733.1,364.6 L732.5,362.8 L732.8,360.3 L729.8,357.0 L728.9,355.0 L726.9,353.5 L726.0,351.2 L724.7,349.2 L723.5,344.8 M723.5,344.8 L723.6,343.8 L723.3,343.1 L721.5,340.5 L720.7,338.8 L717.9,338.3 L716.2,339.0 L716.0,338.3 L716.3,336.7 L716.3,335.7 L714.5,335.0 L714.0,334.3 L713.6,330.6 L713.6,328.1 L713.1,325.7 L712.4,324.1 L712.6,320.1 L712.4,319.2 L710.4,317.8 L709.5,313.3 L708.2,310.3 L708.1,309.6 L708.2,308.9 L708.4,308.1 L708.6,307.3 L708.4,305.4 L706.9,304.3 L707.2,302.6 L707.9,302.1 L710.0,301.7 L710.4,300.7 L710.2,299.2 L711.0,299.7 L711.1,299.5 L711.9,302.3 L712.1,304.0 L710.6,307.0 L709.0,307.9 L708.1,308.8 L708.3,310.0 L710.4,312.6 L710.7,313.3 L710.8,315.8 L711.2,316.6 L715.1,318.5 L715.9,319.9 L716.1,320.8 L716.1,323.4 L717.2,325.5 L718.1,326.6 L718.2,327.3 L717.9,329.8 L718.8,332.1 L718.8,333.8 L719.2,335.4 L719.6,336.4 L720.8,336.5 L721.0,335.8 L720.6,335.0 L720.6,334.2 L721.2,332.7 L721.3,331.0 L721.6,330.2 L722.7,328.9 L722.9,326.4 L724.0,323.4 L725.4,321.4 L725.8,318.2 L727.1,316.0 L727.3,315.2 L726.9,313.5 L727.0,311.8 L726.7,311.0 L724.4,309.4 L723.8,308.4 L722.8,307.7 L721.7,306.2 L720.7,303.8 L719.3,302.0 L718.9,300.4 L717.9,299.1 L717.6,298.3 L717.8,296.5 L717.6,295.8 L715.8,294.5 M715.8,294.5 L716.4,295.0 L716.6,296.0 L717.1,296.6 L719.2,296.9 L720.0,297.2 L722.3,300.0 L723.8,300.7 L725.9,302.3 L726.5,302.9 L726.9,303.8 L726.3,304.1 L725.8,304.1 L726.3,303.4 L726.8,302.8 L727.7,301.4 L729.0,300.3 L729.3,299.6 L729.5,297.7 L730.1,297.3 L731.3,297.1 L732.2,296.5 L732.5,295.7 L732.3,293.9 L732.3,292.2 L733.3,290.0 L733.1,289.2 L732.0,287.7 L731.5,286.2 L731.6,285.4 L732.9,282.8 L733.0,282.0 L732.7,281.2 L731.0,279.2 L729.6,278.5 L729.7,278.2 L730.5,278.0 L731.2,277.4 L731.5,276.4 L731.4,275.4 L730.7,274.7 M731.1,276.6 L734.1,275.8 L738.1,274.1 L742.4,271.7 L745.1,269.9 L747.8,268.2 L750.4,266.2 L753.0,264.2 L754.2,262.3 L751.5,263.4 L748.8,262.5 L746.1,266.5 L741.4,267.8 L738.6,268.9 L735.8,270.1 L733.2,272.4 L731.2,274.2 L731.1,276.6 M730.7,274.7 L731.8,274.4 L731.8,271.7 L732.1,270.9 L733.7,270.0 L734.2,269.3 L734.5,267.6 L735.4,266.0 L736.7,265.0 L738.1,264.4 L739.8,262.7 L740.6,262.4 L743.3,262.5 L744.7,261.7 L747.2,261.5 L748.7,260.7 L750.3,260.4 L753.5,258.0 L754.7,256.7 L757.6,257.0 L758.1,256.1 L758.6,254.4 L758.6,253.4 L757.9,251.8 L756.5,249.8 L756.9,249.8 L758.1,250.9 L758.6,251.5 L759.1,253.0 L760.2,254.1 L760.6,253.7 L762.9,252.8 L763.5,252.1 L763.9,250.4 L764.3,249.7 L765.5,248.8 L765.5,249.5 L765.8,250.2 L766.3,250.5 L766.3,249.7 L767.0,249.3 L769.2,249.6 L770.0,249.5 L771.1,248.3 L771.8,247.9 L773.5,247.5 L774.3,246.7 L773.0,242.4 L771.4,241.6 L769.5,241.5 L769.2,241.6 L770.5,242.7 L770.8,243.3 L770.9,244.0 L771.1,244.8 L771.2,244.0 L770.5,244.4 L769.8,244.9 L767.4,247.5 L766.3,247.7 L765.3,247.4 L764.6,246.9 L764.1,246.2 L763.1,242.8 L762.6,242.2 L760.0,241.8 L758.6,240.8 L757.9,239.9 L758.0,237.9 L758.3,237.0 L761.0,235.8 L761.3,235.0 L761.1,234.0 L760.2,235.0 L758.6,233.6 L758.1,231.6 L758.7,229.2 L758.4,227.5 L758.5,225.9 L758.3,224.1 L758.6,223.3 L761.4,221.7 L761.6,220.9 L761.0,218.3 L761.1,217.5 L761.6,216.7 L763.1,215.9 L765.0,214.4 L768.4,211.2 L769.1,210.9 L771.2,210.7 L771.8,209.9 L771.3,206.3 L772.0,204.7 L771.9,202.2 L773.3,199.8 L777.9,201.9 L778.8,202.0 L779.5,201.4 L780.6,199.9 L783.6,198.6 L785.5,197.1 L786.5,195.7 L787.1,192.2 L787.7,190.5 L788.4,190.0 L790.7,189.9 L791.6,189.7 L792.2,189.1 L791.5,187.9 M791.5,187.9 L789.0,185.8 L788.6,185.1 L788.4,183.6 L789.6,183.8 L791.9,183.5 L793.2,182.6 L794.9,180.8 L797.3,180.0 L798.4,177.5 L804.6,173.7 L806.5,171.0 L807.2,169.4 L808.6,167.8 L808.8,167.0 L808.0,165.2 L809.7,164.8 M804.2,149.6 L798.4,146.5 L794.7,143.5 L791.1,140.5 L785.8,137.2 L780.9,136.3 L783.7,134.5 L786.6,132.6 L789.4,130.8 L792.9,129.5 L796.5,128.2 L800.1,128.6 M737.0,170.5 L737.2,169.6 L738.8,168.9 L739.4,168.4 L741.0,165.5 L743.8,163.6 L744.7,161.3 L746.0,159.3 L746.3,157.7 L748.8,154.4 L750.2,151.5 L749.8,147.8 L751.5,146.0 L752.0,143.5 L752.6,142.9 L753.6,142.6 L756.1,142.2 L756.7,141.6 L756.4,140.5 L754.9,137.9 L754.9,136.9 L755.9,136.4 L758.4,136.3 L759.3,136.0 L760.9,134.2 L761.6,131.6 L764.1,130.6 L764.6,128.9 L765.5,127.5 L768.9,125.4 L770.5,123.5 L772.4,122.1 L773.9,120.1 L776.1,119.1 L777.6,116.9 L779.1,116.2 L781.7,115.8 L783.7,114.4 L786.0,114.0 L788.2,112.9 L790.7,112.7 L793.2,112.9 L793.9,112.5 L794.0,111.8 M737.0,170.5 L736.7,169.5 L738.3,167.5 L739.6,162.9 L740.0,162.2 L742.3,160.6 L744.3,157.2 L744.6,154.6 L745.0,153.0 L744.0,150.4 L744.0,149.6 L746.3,146.0 L747.8,145.0 L748.4,144.4 L749.5,141.3 L749.8,140.5 L748.9,137.1 L749.2,134.6 L749.7,133.7 L751.0,132.6 L751.9,130.3 L754.6,128.3 L757.1,125.2 L759.6,123.4 L761.8,122.5 L764.2,120.3 L764.9,118.8 L765.5,115.7 L766.5,114.3 L766.5,112.7 L767.0,111.1 L767.0,110.3 L766.5,108.5 L766.7,107.8 L767.1,106.2 L768.6,103.4 M691.0,227.5 L694.1,224.0 L697.7,219.0 L701.0,213.3 L703.5,211.4 L706.0,209.6 M640.1,601.3 L643.4,596.6 L646.6,592.0 L651.5,588.0 L656.3,584.0 L661.3,581.6 L666.4,579.1 L670.7,577.2 L675.0,575.3 L679.0,574.6 L683.0,574.0 L687.0,573.3 L691.1,572.9 L695.1,572.5 L699.1,572.1 L703.8,572.5 L708.6,572.9 L714.2,574.0 L719.8,575.0 L725.5,576.1 L731.1,577.1 L735.3,577.1 L739.5,577.1 L743.6,577.1 L749.6,579.2 L755.6,581.3 L760.2,583.2 L764.8,585.0 L769.4,586.8 M450.3,544.2 L449.4,540.1 L448.4,536.0 L447.5,529.5 L448.5,523.0 L450.4,518.1 M456.9,511.6 L459.7,506.7 L464.0,503.4 L468.2,501.8 M482.3,494.2 L482.9,488.6 L485.6,485.3 L487.8,487.6 M565.5,472.4 L571.1,472.0 M687.5,489.3 L686.1,485.5 M590.4,468.3 L591.5,465.4 L594.3,465.9 M600.0,466.4 L602.6,465.0 L605.5,465.5 M620.9,476.3 L625.7,475.1 M726.0,368.9 L723.8,371.0 M765.3,254.5 L769.4,253.3 L768.3,252.0 L765.4,252.8 L765.3,254.5 M772.7,254.0 L775.6,253.2 L774.2,252.7 L772.7,254.0 M756.9,260.2 L757.3,259.3 L756.8,259.8 M757.7,254.2 L758.4,252.3 L757.4,250.9 M577.6,466.8 L579.5,465.0 M593.2,216.9 L593.0,216.6 M699.4,535.3 L700.4,532.6 M508.4,210.2 L509.5,210.2 L510.2,209.7 L511.7,207.8 L512.8,205.6 L513.4,205.0 L515.5,203.8 L516.8,201.5 L517.4,200.9 L520.1,200.5 L520.8,200.1 L521.8,198.9 L523.0,196.7 L524.4,195.8 L524.8,195.2 L525.4,193.5 L525.9,192.9 L526.7,192.4 L531.4,191.0 L534.9,187.9 L536.6,187.0 L537.2,186.4 L538.3,183.4 L539.5,181.9 L541.5,178.1 L542.0,177.7 L545.0,177.0 L545.6,176.5 L546.0,175.8 L546.6,173.2 L548.0,171.5 L553.7,172.0 L555.0,172.9 L556.6,173.2 L557.4,173.2 L559.8,172.7 L563.0,173.1 L564.6,173.8 L567.7,173.6 L570.5,175.1 L573.3,178.2 L573.7,178.9 L574.1,181.3 L575.4,182.5 L575.8,183.1 L575.8,184.0 L576.6,184.7 L577.4,185.1 L579.8,183.9 L580.6,183.8 L583.1,185.0 L584.7,185.0 L585.5,184.9 L586.1,184.0 L586.6,184.6 L586.5,185.4 L585.6,187.0 L586.2,189.4 L585.7,191.9 L585.8,192.9 L586.7,194.5 L588.3,196.3 L588.8,197.9 L590.5,200.5 L592.3,202.4 L592.5,203.2 L592.3,204.9 L592.7,205.9 L593.0,206.9 L592.8,206.9 L593.7,204.7 L593.1,205.7 L592.5,206.7 L591.8,207.4 L590.6,207.7 L589.4,207.0 L587.2,204.6 L587.0,204.1 L585.3,203.2 L584.4,203.0 L582.2,204.0 L580.5,203.9 L579.8,204.2 L577.8,206.2 L574.8,206.8 L571.1,209.8 L569.4,210.2 L568.1,209.7 L567.3,209.7 L564.7,210.7 L563.9,210.6 L562.4,209.8 L560.8,209.4 L557.5,205.9 L556.8,205.6 L555.0,206.5 L554.2,206.7 L553.3,206.4 L549.9,203.6 L548.9,203.1 L549.4,202.8 L549.7,202.1 L549.8,199.2 L550.3,198.5 L551.1,198.1 L553.5,197.1 L554.1,196.5 L554.8,194.6 L556.0,196.7 L555.8,196.9 L554.2,197.3 L552.0,198.2 L551.2,198.3 L550.3,198.4 L549.6,198.6 L548.2,199.4 L545.6,200.1 L544.9,200.6 L543.5,201.5 L542.8,202.8 L540.7,205.1 L538.6,206.2 L536.6,207.6 L534.9,207.7 L531.9,209.0 L531.3,209.6 L529.8,211.9 L529.1,212.3 L527.4,212.5 L524.2,211.3 L522.0,211.7 L522.2,210.2 L522.7,208.6 L522.6,207.9 L521.3,209.6 L520.5,209.7 L518.0,208.3 L515.0,209.2 L512.3,208.4 L511.6,208.9 L510.4,210.6 L509.6,211.0 L508.8,211.2 L508.4,210.2 M538.5,190.3 L541.0,188.3 L543.6,186.3 L546.2,184.4 L546.8,185.1 L544.2,187.0 L541.6,188.8 L539.1,190.7 L538.5,190.3 M566.2,284.9 L567.4,286.0 L568.7,286.1 L569.4,286.6 L570.3,288.1 L571.2,288.1 L572.7,287.5 L574.1,285.2 L575.9,285.1 L576.8,284.7 L577.3,284.0 L577.6,281.4 L579.1,279.5 L579.8,277.2 L581.9,273.6 L582.2,272.7 L582.1,271.8 L579.7,268.6 L579.7,266.5 L579.2,264.1 L580.2,261.3 L580.3,260.5 L577.7,256.2 L577.1,253.9 L575.6,251.0 L575.3,250.1 L575.5,247.5 L575.7,246.7 L578.8,242.4 L578.8,241.6 L577.9,239.0 L578.3,234.0 L579.1,233.4 L580.7,232.9 L582.3,231.7 L583.7,233.2 L584.2,235.6 L584.4,235.5 L585.0,233.1 L584.4,230.6 L585.0,229.9 L587.1,229.0 L587.9,228.5 L587.6,227.3 L588.0,226.6 L590.4,225.3 L590.5,223.3 L590.7,222.6 L591.5,221.2 L591.9,218.2 M591.7,216.8 L590.8,217.3 L588.5,216.6 L587.1,215.7 L583.8,215.5 L582.5,214.5 L580.7,214.1 L579.9,214.1 L577.8,215.5 L573.3,217.4 L572.7,218.1 L572.1,219.8 L571.4,220.3 L569.9,220.8 L567.2,223.5 L567.2,223.2 L566.2,223.6 L564.8,224.7 L564.5,225.5 L564.5,227.3 L564.1,228.8 L560.9,233.5 L560.5,235.1 L558.9,237.0 L558.7,240.3 L557.0,242.4 L557.9,242.8 L559.2,241.7 L559.7,241.0 L560.0,238.3 L563.3,233.8 L565.3,232.1 L565.8,230.8 L568.2,229.1 L567.1,230.2 L565.8,234.0 L564.1,236.8 L564.0,238.4 L562.7,244.6 L562.7,247.9 L562.5,248.7 L560.9,251.0 L560.8,251.8 L561.1,254.2 L560.8,258.9 L561.6,261.4 L561.6,263.8 L561.4,264.6 L560.4,266.2 L560.1,269.8 L560.4,270.5 L562.2,271.4 L563.2,272.2 L563.7,273.0 L562.2,275.4 L562.1,277.1 L564.2,278.9 L565.4,284.5 L566.2,284.9 M591.9,218.2 L592.4,219.1 L594.3,218.9 L596.1,220.7 L599.3,221.1 L601.4,222.6 L603.3,222.2 L604.2,222.6 L605.1,225.0 L607.1,226.4 L607.4,227.2 L607.3,229.0 L607.6,229.7 L611.2,232.6 L611.2,233.6 L609.0,236.6 L608.8,237.4 L609.0,239.9 L608.0,241.9 L607.9,244.6 L607.2,245.1 L605.2,245.8 L604.3,246.7 L604.3,248.0 L604.8,249.5 L606.7,251.1 L607.0,250.4 L607.6,249.9 L609.8,248.5 L610.2,247.8 L610.8,245.2 L611.6,244.9 L614.3,244.9 L615.0,244.4 L615.3,243.6 L616.0,243.1 L617.0,243.2 L617.7,243.6 L618.1,244.4 L619.0,247.1 L620.5,249.1 L621.2,250.6 L621.6,252.9 L624.0,254.6 L624.1,255.4 L623.1,258.3 L623.7,260.2 L626.2,259.9 L627.2,258.3 L629.0,256.5 L631.0,255.2 L632.4,254.0 L633.0,252.8 L632.6,250.0 L630.6,247.8 L630.2,247.0 L630.0,243.8 L630.7,241.3 L629.7,237.9 L630.2,237.2 L632.0,236.1 L632.3,235.4 L631.3,232.1 L631.3,231.3 L632.5,228.9 L632.5,228.1 L632.2,227.3 L631.4,226.5 L631.1,224.5 L630.9,223.7 L630.3,223.1 L629.8,222.5 L629.3,221.9 L628.8,221.3 L627.6,222.3 L629.3,222.4 L630.3,222.4 L631.1,222.5 L631.8,223.0 L632.7,224.5 L634.9,227.0 L635.8,228.4 L636.4,228.8 L637.4,228.8 L638.0,229.5 L637.9,230.3 L637.5,231.0 L638.4,231.3 L640.7,230.7 L642.4,231.0 L643.1,230.8 L645.4,229.3 L647.8,228.6 L648.4,228.1 L648.5,223.9 L648.2,223.2 L645.6,221.6 L645.2,220.9 L645.5,219.1 L645.1,216.7 L644.5,216.1 L643.0,215.4 L642.4,214.9 L641.5,212.4 L640.9,211.8 L639.5,211.0 L637.5,208.4 L634.4,208.3 L632.0,207.8 L631.2,207.9 L629.7,208.6 L629.2,210.0 L628.5,210.7 L627.1,210.9 L625.5,209.9 L622.4,207.0 L621.6,206.6 L620.7,206.5 L618.3,207.0 L616.8,207.7 L615.2,208.1 L612.7,207.5 L610.4,208.6 L608.8,209.0 L605.6,207.7 L604.8,207.7 L602.5,209.4 L600.1,209.6 L598.5,209.1 L598.2,208.1 L596.6,207.4 L595.5,206.2 L594.6,206.1 M625.3,210.5 L622.5,214.2 L619.6,214.3 L616.8,214.3 L613.8,213.5 L610.8,212.8 L613.5,211.9 L616.3,211.1 L619.0,210.7 L621.8,210.2 L625.3,210.5 M624.9,266.0 L622.9,264.7 L620.2,266.8 L620.7,269.9 L624.3,270.2 L624.9,266.0 M618.5,275.1 L617.8,277.4 L615.6,280.0 L615.0,281.0 L615.9,282.0 L618.5,282.1 L620.9,282.7 L622.6,282.4 L625.0,282.6 L626.1,282.1 L627.8,282.7 L628.6,282.7 L630.1,281.9 L630.8,281.8 L633.4,282.5 L635.7,281.6 L637.6,281.7 L638.5,281.3 L638.9,280.6 L639.4,278.7 L641.3,276.1 L643.6,275.0 L646.0,272.9 L647.7,272.5 L649.6,271.0 L651.2,270.5 L652.2,269.1 L653.9,268.8 L654.7,268.5 L655.7,267.1 L657.1,266.3 L657.7,264.6 L658.8,263.5 L660.3,261.5 L661.5,260.6 L663.4,257.2 L665.5,255.5 L666.3,254.0 L665.6,252.7 L662.8,252.2 L661.9,252.3 L661.1,252.8 L659.9,254.3 L658.6,255.4 L657.6,257.2 L656.8,257.4 L655.9,257.0 L655.1,257.3 L654.7,258.0 L653.5,261.0 L650.5,263.4 L649.7,263.3 L647.2,261.2 L646.4,261.0 L644.8,261.4 L642.4,261.5 L639.4,262.2 L637.7,262.8 L637.3,263.5 L637.5,265.8 L637.4,266.8 L637.0,267.5 L635.6,268.4 L634.0,269.1 L631.9,271.6 L631.2,272.0 L629.3,272.4 L628.7,273.0 L628.0,275.5 L626.6,276.6 L624.4,275.0 L621.6,276.0 L620.4,274.9 L619.5,274.7 L618.5,275.1 M662.9,247.7 L662.2,248.4 L659.0,248.4 L657.5,249.7 L656.8,250.1 L654.2,249.6 L653.3,249.0 L655.0,246.9 L655.4,245.3 L656.4,243.1 L657.1,242.5 L660.0,241.9 L660.5,241.3 L660.9,239.4 L661.4,238.7 L664.7,238.1 L666.7,236.7 L669.0,236.1 L671.6,233.8 L673.9,233.1 L675.7,233.4 L677.1,232.9 L681.2,233.4 L682.6,233.9 L683.5,233.6 L684.4,233.0 L684.6,232.0 L685.6,230.7 L685.9,229.1 L686.3,228.4 L688.0,226.3 L689.1,225.7 L691.2,226.4 L692.0,227.2 L692.8,228.7 L693.9,230.2 L694.2,231.3 L694.0,232.2 L694.0,234.7 L692.2,236.8 L691.4,238.2 L689.7,238.6 L689.1,239.0 L688.7,241.0 L688.2,241.7 L686.1,242.9 L680.6,244.0 L679.8,243.9 L678.2,243.2 L677.4,243.3 L675.1,245.1 L673.5,245.0 L671.1,245.4 L669.4,244.6 L668.5,244.5 L667.2,245.4 L665.5,245.7 L662.7,247.2 L662.9,247.7 M720.9,205.8 L722.7,210.4 L723.8,216.8 L724.5,220.7 L725.2,224.7 L725.8,227.9 L726.2,227.4 L725.6,222.8 L725.0,218.1 L724.2,211.6 L722.0,205.5 L720.9,205.8 M274.0,300.3 L272.4,302.5 L273.4,304.3 L274.8,302.9 L274.0,300.3 M687.1,505.9 L690.1,507.9 L690.6,511.1 L688.2,514.0 L685.6,512.0 L685.3,508.7 L687.1,505.9 M545.3,472.7 L548.7,471.7 L553.6,472.1 L555.2,474.4 L550.5,476.9 L546.2,476.7 L545.3,472.7 M171.6,297.2 L171.9,299.8 L170.5,301.9 L169.6,300.0 L171.6,297.2 M591.7,216.8 L595.8,214.9 L600.2,213.8 L600.6,212.6 L597.9,209.7 M225.5,361.7 L227.7,360.5 L229.5,361.3 L231.2,362.8 L233.9,362.4" fill="none" stroke="#000" stroke-width="1.5" stroke-linejoin="round" stroke-linecap="round"/>
<path d="M181.5,137.1 L181.7,138.7 L182.9,140.9 L182.6,141.6 L180.8,142.1 L180.5,142.8 L180.9,145.0 L182.4,147.2 L182.8,147.9 L182.8,148.7 L181.0,151.5 L181.3,152.3 L183.4,154.6 L183.2,155.6 L181.8,156.7 L179.7,159.2 L179.3,159.9 L179.2,161.7 L177.5,165.4 L176.6,165.5 L175.7,165.5 L174.8,165.4 L174.0,165.3 L173.1,165.2 L172.3,165.4 L171.7,165.9 L172.0,167.1 L172.1,166.5 L172.7,166.0 L174.8,165.7 L175.7,165.4 L176.1,164.8 L176.6,162.7 L176.5,160.0 L177.3,157.0 L177.4,154.6 L177.1,153.0 L177.5,151.5 L176.9,151.2 L175.2,151.2 L174.5,151.0 L173.3,150.0 L170.1,149.3 L168.2,147.5 L167.5,147.2 L164.7,147.3 L163.9,146.8 L163.0,144.1 L162.3,143.7 L160.2,143.5 L159.4,143.2 L158.7,141.2 L157.4,143.0 L157.2,143.7 L158.0,145.5 L158.2,147.2 L157.3,149.3 L157.0,151.0 L157.4,152.5 L158.6,154.0 L158.6,154.8 L157.9,156.5 L158.8,161.3 L158.9,164.5 L158.7,165.3 L156.9,168.3 L157.2,170.8 L155.6,172.8 L155.8,174.6 L155.5,176.0 M498.4,485.1 L500.8,484.8 L503.1,484.0 L505.5,484.3 L507.9,483.5 L509.4,484.1 L511.9,483.9 L513.8,486.1 L514.6,486.4 L517.1,486.3 L519.4,487.4 L520.2,487.5 L522.7,486.2 L523.5,486.3 L525.7,488.8 L526.5,488.8 L529.0,487.2 L534.5,487.4 L535.2,487.6 L535.6,488.2 L536.7,491.1 L537.8,492.5 L540.2,493.4 L541.2,493.2 L543.6,491.8 L544.4,491.7 L549.4,493.5 L550.4,493.3 L551.2,492.4 L552.0,490.7 L553.4,489.8 L554.9,489.4 L556.4,488.7 L557.0,488.8 L557.4,489.4 L558.2,489.6 L561.0,489.1 L561.3,489.8 L560.8,491.5 L560.8,492.3 L561.5,493.8 L562.7,492.6 L563.2,491.9 L563.3,491.0 L564.1,490.8 L565.1,492.5 L566.1,492.2 L566.5,491.4 L566.4,490.3 L566.2,489.8 L565.9,489.8 L564.6,487.7 L562.6,486.4 L560.2,485.7 L558.9,484.4 L558.5,480.8 L558.6,479.3 L558.5,478.6 L557.4,477.1 L557.2,473.8 M698.9,536.7 L696.8,541.6 L693.0,545.6 L688.1,548.1 L683.1,550.1 L680.3,551.1 M721.7,375.3 L721.9,371.5 L718.3,370.6 L720.2,366.9 L714.4,364.9 L719.1,362.2 L724.6,362.6 L725.6,358.3 L720.4,356.2 L715.2,356.5 L718.8,354.9 L722.4,353.3 L725.1,350.2 M179.5,146.7 L179.7,150.1 L181.2,154.8 L179.9,155.2 L179.5,152.6 L178.1,149.7 L179.5,146.7 M175.7,142.2 L178.3,140.9 L179.4,143.2 L177.1,145.2 L175.7,142.2 M178.2,145.4 L179.6,144.2 L180.5,145.3 L179.0,146.5 L178.2,145.4 M178.0,153.9 L175.9,157.5 L173.1,159.2 L170.8,161.1 L173.6,161.6 L175.0,160.6 M178.2,157.3 L176.8,160.3 L175.1,162.3 L176.2,164.3 L177.9,162.3 L178.1,159.8 M177.6,161.4 L177.8,163.9 L176.8,164.2 L177.2,162.1 L177.6,161.4 M713.6,323.2 L708.8,321.9 L703.2,319.8 L699.9,316.4 M714.4,329.6 L710.2,328.1 L705.6,325.0 L702.7,323.2 M714.4,335.4 L710.0,333.1 L707.8,331.9 M715.9,339.1 L712.5,338.3 L708.4,337.5 L704.3,336.8 L701.1,334.2 M710.7,319.0 L706.8,315.7 L705.5,312.8 M710.9,314.0 L714.0,310.8 L715.5,308.8 M716.4,318.5 L718.2,314.8 M718.7,322.9 L721.3,319.8 M718.8,326.1 L720.9,324.0 L721.8,322.2 M726.2,352.4 L721.4,354.3 L718.1,354.6 L714.9,355.0 L717.7,356.0 L720.9,355.3 L724.1,354.5 M721.1,370.8 L715.6,370.4 L713.5,370.0 M719.8,365.3 L714.4,364.9 L712.1,363.8 M724.3,347.1 L723.4,348.9 L722.1,345.9 M520.1,486.4 L522.8,483.0 L527.0,483.6 L525.8,486.9 M531.5,487.4 L534.2,485.6 L537.1,487.1 L534.4,489.7 M540.3,492.5 L542.9,489.1 L545.8,489.7 L545.9,492.5 M550.2,491.8 L551.2,486.9 L553.2,485.1 L554.1,488.3 L552.9,490.0 M557.7,479.9 L560.7,481.3 L562.3,484.4 M567.9,475.0 L567.5,479.1 L567.1,482.4 M658.3,502.1 L661.0,500.4 L661.2,497.0 M668.3,514.0 L671.0,512.8 L672.4,516.7 M690.6,494.6 L687.5,489.3 L685.4,485.6 L683.3,481.8 L681.2,478.1 M774.1,205.7 L775.3,203.7 L773.7,202.5 L774.1,205.7 M778.3,201.9 L780.8,200.2 L779.2,199.1 L778.3,201.9 M770.3,211.1 L771.5,209.1 L770.1,208.7 L770.3,211.1 M783.4,196.9 L785.3,195.4 L784.3,194.0 L783.4,196.9 M773.5,200.0 L771.7,196.3 M766.1,213.3 L764.6,210.3 M177.6,151.2 L177.5,153.7 L178.1,155.6 L178.7,157.4 M182.0,149.9 L181.4,148.0 L181.5,145.5 L183.0,144.3 M179.6,160.2 L178.1,161.5 L176.2,164.3 L174.2,165.4 L172.4,165.8 M177.7,141.1 L179.4,141.2 L178.9,142.8 L177.4,142.3 L177.7,141.1 M174.1,149.7 L175.3,151.4 L176.6,150.9 M714.6,508.8 L715.0,507.5 L716.9,508.1 L717.8,508.1 L719.8,506.6 L720.6,506.4 L722.3,507.0 L723.1,506.9 L725.4,506.2 L727.1,506.5 L728.6,506.3 L729.3,506.4 L729.9,506.9 L730.4,507.5 L730.5,506.6 L730.3,506.9 L729.8,507.9 L729.1,508.5 L727.6,509.0 L726.3,510.2 L725.5,510.3 L721.2,509.6 L719.6,509.9 L718.0,509.7 L717.2,510.0 L715.8,511.5 L714.6,511.3 L714.8,509.3 L714.6,508.8 M727.4,502.4 L728.3,502.8 L730.6,502.1 L732.3,502.1 L735.4,500.8 L736.4,501.0 L737.0,501.6 L737.6,503.7 L738.1,504.4 L741.8,504.5 L742.3,505.1 L742.4,506.9 L742.8,507.7 L745.0,509.3 L745.4,510.3 L745.5,511.2 L745.2,512.0 L743.7,514.1 L743.6,514.9 L743.9,516.8 L742.8,517.7 L741.0,517.0 L740.2,516.4 L739.4,515.5 L738.7,513.6 L738.7,512.8 L741.2,510.4 L741.6,509.6 L741.5,508.4 L740.3,507.7 L738.1,507.6 L737.4,507.1 L736.6,504.6 L736.1,503.9 L733.7,503.4 L731.3,504.3 L730.5,504.4 L728.2,503.7 L728.0,502.6 L727.4,502.4 M750.8,520.7 L755.2,523.1 L759.5,525.5 L761.1,529.4 L762.8,533.2 L759.9,532.2 L755.7,525.5 L750.5,522.5 L750.8,520.7 M713.3,525.2 L715.0,527.3 L713.8,525.9 L713.3,525.2 M732.7,520.5 L737.5,525.3 L736.4,523.9 L732.7,520.5 M740.9,530.8 L745.4,530.3 L745.6,531.5 L741.2,532.4 L740.9,530.8 M752.6,535.5 L757.7,539.4 L762.8,543.3 L767.1,547.0 L771.4,550.6 L773.5,551.0 L769.8,547.6 L766.1,544.3 L761.5,541.1 L756.9,537.9 L752.6,535.5 M768.4,531.1 L772.3,534.4 L776.1,537.7 L777.3,538.3 L772.8,533.4 L768.4,531.1 M778.1,546.0 L785.1,552.5 L788.6,557.1 L786.6,555.5 L782.7,550.5 L778.1,546.0 M788.1,536.2 L790.2,538.5 L789.3,539.2 L788.1,536.2 M774.4,560.1 L778.5,564.3 L781.9,568.6 M730.0,530.0 L730.8,529.7 L731.6,529.8 L734.0,531.0 L737.9,532.2 L738.6,533.6 L739.8,534.7 L740.2,535.4 L740.3,537.4 L742.9,538.4 L743.5,538.9 L744.4,542.1 L746.8,543.7 L747.5,545.2 L746.4,550.5 L747.0,551.3 L747.2,552.3 L747.0,553.1 L746.3,553.6 L745.5,553.9 L745.2,553.0 L744.4,553.0 L741.6,554.7 L740.7,554.2 L740.3,553.5 L740.2,549.6 L739.8,548.9 L737.7,547.5 L736.5,546.4 L735.6,543.2 L733.1,541.9 L732.6,541.3 L731.5,538.2 L730.3,537.1 L730.1,536.4 L730.7,532.2 L730.0,530.0 M543.1,162.8 L543.8,163.3 L546.1,164.1 L547.0,164.1 L547.4,163.7 L547.3,163.0 L548.2,161.5 L549.4,158.5 L549.4,157.5 L547.3,155.9 L546.7,154.3 L546.1,153.8 L545.2,153.8 L545.8,155.3 L545.0,155.6 L542.0,155.4 L541.4,155.8 L541.9,158.3 L541.3,159.6 L542.0,161.8 L543.1,162.8 M473.7,168.6 L474.5,169.2 L475.6,169.4 L476.4,171.5 L477.7,172.5 L478.2,173.2 L478.1,175.9 L478.8,177.1 L480.6,177.0 L482.8,173.1 L483.0,172.3 L482.7,170.5 L483.1,169.3 L482.8,167.0 L483.0,164.5 L482.3,163.0 L481.8,162.5 L479.5,162.5 L478.7,163.0 L478.0,163.9 L478.0,164.4 L477.8,164.5 L475.5,164.3 L474.6,164.5 L473.3,165.7 L473.5,168.3 L473.7,168.6 M427.4,128.7 L424.5,125.3 L422.9,120.8 L421.4,116.3 L419.9,111.9 L422.9,110.3 L424.3,115.3 L425.6,120.4 L426.5,124.5 L427.4,128.7 M272.6,279.0 L267.3,278.1 L263.3,283.1 L264.9,288.3 L269.0,293.0 L271.7,291.8 L271.1,287.7 L274.0,284.9 L272.6,279.0 M443.0,121.0 L444.0,121.2 L444.6,122.8 L446.9,125.1 L447.7,125.2 L449.8,124.9 L450.5,125.3 L451.6,127.2 L451.4,129.5 L451.8,131.8 L452.2,132.5 L452.8,133.1 L453.9,133.0 L455.9,134.4 L457.4,135.0 L458.2,135.6 L458.9,137.3 L459.5,137.8 L461.1,138.5 L461.8,139.3 L461.8,140.4 L460.7,142.8 L460.8,144.4 L461.8,146.8 L461.8,147.6 L461.1,149.2 L459.2,150.7 L458.7,152.3 L458.1,152.9 L456.6,152.2 L454.6,152.3 L453.7,151.5 L453.5,150.4 L453.9,148.0 L453.4,145.6 L453.9,143.2 L452.8,140.3 L453.2,137.7 L453.1,136.0 L451.5,134.1 L449.4,132.8 L448.9,132.1 L448.1,129.8 L445.9,128.4 L445.1,126.0 L443.7,124.1 L443.1,121.6 L442.7,120.9 L441.5,121.0 M422.4,122.0 L424.5,125.4 L425.1,127.8 L425.5,128.5 L426.4,128.9 L428.3,129.3 L429.4,130.8 L430.1,131.3 L430.9,131.4 L433.6,131.1 L434.7,131.6 L435.0,132.9 L434.5,135.8 L434.7,136.5 L436.2,138.6 L436.1,142.0 L436.4,142.7 L436.8,143.5 L439.7,145.5 L441.5,148.2 L445.0,149.6 L445.8,151.3 L444.9,152.7 L440.9,153.8 L440.2,154.3 L440.3,154.7 L438.6,154.5 L437.4,153.8 L437.8,152.3 L437.6,151.5 L435.6,148.5 L435.5,147.7 L436.2,145.2 L436.0,144.4 L434.6,143.3 L433.8,141.0 L432.7,139.8 L432.5,137.2 L432.1,136.5 L430.6,135.8 L428.9,134.0 L428.2,133.6 L425.7,133.1 L424.9,132.5 L423.5,130.3 L423.4,129.4 L423.8,127.3 L423.5,126.6 L421.9,125.7 L421.5,125.0 L421.2,120.8 L420.5,121.0" fill="none" stroke="#000" stroke-width="2.1" stroke-linejoin="round" stroke-linecap="round"/>
</g>
<path d="M113.2,121.5 L795.5,121.5 L795.5,567.5 L113.2,567.5 Z" fill="none" stroke="#000" stroke-width="1.2"/>
<path d="M258.3,567.0 L258.3,581 M409.2,567.0 L409.2,581 M558.6,567.0 L558.6,581 M711.0,567.0 L711.0,581 M99.3,183.4 L112.5,183.4 M99.3,268.0 L112.5,268.0 M99.3,351.7 L112.5,351.7 M99.3,435.5 L112.5,435.5 M99.3,520.2 L112.5,520.2" stroke="#000" stroke-width="1.1" fill="none"/>
<g font-family='"Liberation Sans", Arial, Helvetica, sans-serif' font-size="16.2" fill="#000"><text x="258.3" y="603.9" text-anchor="middle">110°W</text><text x="409.2" y="603.9" text-anchor="middle">100°W</text><text x="558.6" y="603.9" text-anchor="middle">90°W</text><text x="711.0" y="603.9" text-anchor="middle">80°W</text><text x="91" y="188.7" text-anchor="end">45°N</text><text x="91" y="273.3" text-anchor="end">40°N</text><text x="91" y="357.0" text-anchor="end">35°N</text><text x="91" y="440.8" text-anchor="end">30°N</text><text x="91" y="525.5" text-anchor="end">25°N</text></g>
<g><rect x="236.90" y="664.6" width="20.07" height="23.7" fill="#a50026"/><rect x="256.67" y="664.6" width="20.07" height="23.7" fill="#bd1726"/><rect x="276.44" y="664.6" width="20.07" height="23.7" fill="#d42d27"/><rect x="296.20" y="664.6" width="20.07" height="23.7" fill="#e34933"/><rect x="315.97" y="664.6" width="20.07" height="23.7" fill="#f16640"/><rect x="335.74" y="664.6" width="20.07" height="23.7" fill="#f7844e"/><rect x="355.51" y="664.6" width="20.07" height="23.7" fill="#fca55d"/><rect x="375.28" y="664.6" width="20.07" height="23.7" fill="#fdbf71"/><rect x="395.05" y="664.6" width="20.07" height="23.7" fill="#fed687"/><rect x="414.81" y="664.6" width="20.07" height="23.7" fill="#fee99d"/><rect x="434.58" y="664.6" width="20.07" height="23.7" fill="#fff7b3"/><rect x="454.35" y="664.6" width="20.07" height="23.7" fill="#f7fcce"/><rect x="474.12" y="664.6" width="20.07" height="23.7" fill="#e9f6e8"/><rect x="493.89" y="664.6" width="20.07" height="23.7" fill="#d6eef5"/><rect x="513.65" y="664.6" width="20.07" height="23.7" fill="#bde2ee"/><rect x="533.42" y="664.6" width="20.07" height="23.7" fill="#a3d3e6"/><rect x="553.19" y="664.6" width="20.07" height="23.7" fill="#87bdd9"/><rect x="572.96" y="664.6" width="20.07" height="23.7" fill="#6ea6ce"/><rect x="592.73" y="664.6" width="20.07" height="23.7" fill="#588cc0"/><rect x="612.50" y="664.6" width="20.07" height="23.7" fill="#4471b2"/><rect x="632.26" y="664.6" width="20.07" height="23.7" fill="#3a54a4"/><rect x="652.03" y="664.6" width="20.07" height="23.7" fill="#313695"/></g>
<path d="M256.67,664.6 L256.67,688.3 M276.44,664.6 L276.44,688.3 M296.20,664.6 L296.20,688.3 M315.97,664.6 L315.97,688.3 M335.74,664.6 L335.74,688.3 M355.51,664.6 L355.51,688.3 M375.28,664.6 L375.28,688.3 M395.05,664.6 L395.05,688.3 M414.81,664.6 L414.81,688.3 M434.58,664.6 L434.58,688.3 M454.35,664.6 L454.35,688.3 M474.12,664.6 L474.12,688.3 M493.89,664.6 L493.89,688.3 M513.65,664.6 L513.65,688.3 M533.42,664.6 L533.42,688.3 M553.19,664.6 L553.19,688.3 M572.96,664.6 L572.96,688.3 M592.73,664.6 L592.73,688.3 M612.50,664.6 L612.50,688.3 M632.26,664.6 L632.26,688.3 M652.03,664.6 L652.03,688.3" stroke="#000" stroke-width="0.9" fill="none"/>
<rect x="236.9" y="664.6" width="434.90" height="23.7" fill="none" stroke="#555" stroke-width="0.9"/>
<g font-family='"Liberation Sans", Arial, Helvetica, sans-serif' font-size="16.6" fill="#000" text-anchor="middle"><text x="256.7" y="718">-40</text><text x="296.2" y="718">-32</text><text x="335.7" y="718">-24</text><text x="375.3" y="718">-16</text><text x="414.8" y="718">-8</text><text x="454.4" y="718">0</text><text x="493.9" y="718">8</text><text x="533.4" y="718">16</text><text x="573.0" y="718">24</text><text x="612.5" y="718">32</text><text x="652.0" y="718">40</text></g>
<text x="296.5" y="656.5" font-family='"Liberation Sans", Arial, Helvetica, sans-serif' font-size="16.6" fill="#000" xml:space="preserve">AFWA Diagnostic: Surface Lifted Index  (K)</text>
<text x="111.4" y="28.5" font-family='"Liberation Sans", Arial, Helvetica, sans-serif' font-size="17.74" fill="#000">IWFAQRP Contiguous US Real Time WRF</text>
<text x="796.6" y="30" font-family='"Liberation Sans", Arial, Helvetica, sans-serif' font-size="11.78" fill="#000" text-anchor="end">Init: 2026-03-31_00:00:00</text>
<text x="116" y="105.5" font-family='"Liberation Sans", Arial, Helvetica, sans-serif' font-size="11.76" fill="#000" xml:space="preserve">AFWA Diagnostic: Surface Lifted Index valid at 2026-04-03_06:00:00 UTC   (K)</text>
<text x="115.2" y="821" font-family='"Liberation Sans", Arial, Helvetica, sans-serif' font-size="10.5" fill="#000">OUTPUT FROM WRF V4.6.1 MODEL</text>
<text x="115.2" y="833" font-family='"Liberation Sans", Arial, Helvetica, sans-serif' font-size="10.5" fill="#000">WE = 580 ; SN = 380 ; Levels = 38 ; Dis = 8km ; Phys Opt = 8 ; PBL Opt = 1 ; Cu Opt = 5</text>
</svg>
</body></html>
